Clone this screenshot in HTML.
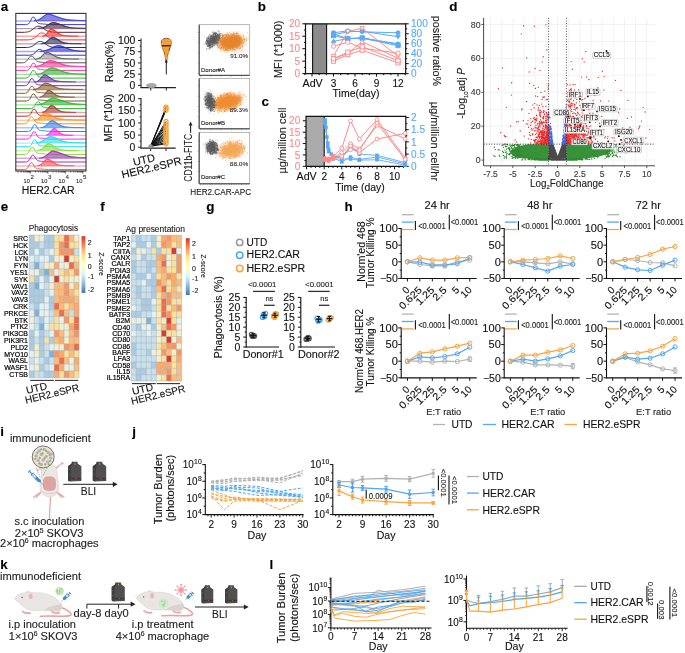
<!DOCTYPE html>
<html><head><meta charset="utf-8"><style>
html,body{margin:0;padding:0;background:#fff;overflow:hidden;width:685px;height:653px;}
svg{display:block;font-family:"Liberation Sans",sans-serif;will-change:transform;}
text{stroke:currentColor;stroke-width:0.12px;paint-order:stroke;}
</style></head><body>
<svg width="685" height="653" viewBox="0 0 685 653">
<rect width="685" height="653" fill="#fff"/>
<text x="0.8" y="10.8" font-size="13.4" fill="#000" color="#000" font-weight="bold" >a</text>
<clipPath id="clipA"><rect x="15.8" y="13.4" width="70.2" height="157.6"/></clipPath>
<g clip-path="url(#clipA)">
<path d="M15.8 24.6H25.4L26.2 24.6L27 24.5L27.8 24.2L28.6 23.7L29.4 22.8L30.2 21.5L31 19.9L31.8 18.2L32.6 17.1L33.4 17.1L34.2 17.3L35 18.7L35.8 20.2L36.6 21.6L37.4 22.6L38.2 23.2L39 23.5L39.8 23.7L40.6 23.8L41.4 23.8L42.2 23.9L43 24L43.8 24.1L44.6 24.1L45.4 24.2L46.2 24.3L47 24.4L47.8 24.4L48.6 24.5L49.4 24.5L50.2 24.6L51 24.6H86.2" fill="none" stroke="#3b3bd6" stroke-width="1" />
<path d="M15.8 21H32.6L33.4 20.9L34.2 20.8L35 20.8L35.8 20.7L36.6 20.5L37.4 20.3L38.2 20L39 19.7L39.8 19.2L40.6 18.7L41.4 18.2L42.2 17.5L43 16.9L43.8 16.2L44.6 15.6L45.4 15.1L46.2 14.6L47 14.3L47.8 14.2L48.6 14.3L49.4 14.4L50.2 14.6L51 14.8L51.8 15L52.6 15.2L53.4 15.5L54.2 15.8L55 16.1L55.8 16.4L56.6 16.7L57.4 17L58.2 17.3L59 17.5L59.8 17.8L60.6 18.1L61.4 18.3L62.2 18.6L63 18.8L63.8 19L64.6 19.2L65.4 19.3L66.2 19.5L67 19.6L67.8 19.7L68.6 19.8L69.4 19.9L70.2 20L71 20.1L71.8 20.2L72.6 20.2L73.4 20.3L74.2 20.3L75 20.3L75.8 20.4L76.6 20.4L77.4 20.4L78.2 20.5L79 20.5L79.8 20.5L80.6 20.5L81.4 20.6L82.2 20.6L83 20.6L83.8 20.6L84.6 20.6L85.4 20.6L86.2 20.7V21H15.8Z" fill="#3b3bd6" stroke="#3b3bd6" stroke-width="1.4" fill-opacity="0.62" stroke-opacity="0.42"/>
<path d="M34.2 20.8L35 20.8L35.8 20.7L36.6 20.5L37.4 20.3L38.2 20L39 19.7L39.8 19.2L40.6 18.7L41.4 18.2L42.2 17.5L43 16.9L43.8 16.2L44.6 15.6L45.4 15.1L46.2 14.6L47 14.3L47.8 14.2L48.6 14.3L49.4 14.4L50.2 14.6L51 14.8L51.8 15L52.6 15.2L53.4 15.5L54.2 15.8L55 16.1L55.8 16.4L56.6 16.7L57.4 17L58.2 17.3L59 17.5L59.8 17.8L60.6 18.1L61.4 18.3L62.2 18.6L63 18.8L63.8 19L64.6 19.2L65.4 19.3L66.2 19.5L67 19.6L67.8 19.7L68.6 19.8L69.4 19.9L70.2 20L71 20.1L71.8 20.2L72.6 20.2L73.4 20.3L74.2 20.3L75 20.3L75.8 20.4L76.6 20.4L77.4 20.4L78.2 20.5L79 20.5L79.8 20.5L80.6 20.5L81.4 20.6L82.2 20.6L83 20.6L83.8 20.6L84.6 20.6L85.4 20.6L86.2 20.7" fill="none" stroke="#3b3bd6" stroke-width="1" />
<path d="M15.8 32.3H24.6L25.4 32.2L26.2 32.1L27 32L27.8 31.9L28.6 31.7L29.4 31.4L30.2 31.1L31 30.6L31.8 30.1L32.6 29.5L33.4 28.9L34.2 28.2L35 27.6L35.8 27L36.6 26.5L37.4 26.3L38.2 26.3L39 26.3L39.8 26.3L40.6 26.5L41.4 26.9L42.2 27.5L43 28.1L43.8 28.7L44.6 29.3L45.4 29.8L46.2 30.3L47 30.7L47.8 31.1L48.6 31.3L49.4 31.6L50.2 31.7L51 31.9L51.8 32L52.6 32.1L53.4 32.1L54.2 32.2L55 32.2L55.8 32.3H86.2" fill="none" stroke="#4b2535" stroke-width="1" />
<path d="M15.8 28.6H36.6L37.4 28.5L38.2 28.5L39 28.4L39.8 28.3L40.6 28.2L41.4 28.1L42.2 27.9L43 27.6L43.8 27.3L44.6 27L45.4 26.5L46.2 26.1L47 25.6L47.8 25.1L48.6 24.5L49.4 24L50.2 23.6L51 23.2L51.8 22.9L52.6 22.7L53.4 22.6L54.2 22.7L55 22.8L55.8 23L56.6 23.2L57.4 23.5L58.2 23.7L59 24L59.8 24.3L60.6 24.6L61.4 24.9L62.2 25.3L63 25.6L63.8 25.9L64.6 26.1L65.4 26.4L66.2 26.7L67 26.9L67.8 27.1L68.6 27.3L69.4 27.4L70.2 27.6L71 27.7L71.8 27.8L72.6 27.9L73.4 28L74.2 28L75 28.1L75.8 28.1L76.6 28.2L77.4 28.2L78.2 28.2L79 28.3L79.8 28.3L80.6 28.3L81.4 28.3L82.2 28.3L83 28.3L83.8 28.4L84.6 28.4L85.4 28.4L86.2 28.4V28.6H15.8Z" fill="#4b2535" stroke="#4b2535" stroke-width="1.4" fill-opacity="0.62" stroke-opacity="0.42"/>
<path d="M38.2 28.5L39 28.4L39.8 28.3L40.6 28.2L41.4 28.1L42.2 27.9L43 27.6L43.8 27.3L44.6 27L45.4 26.5L46.2 26.1L47 25.6L47.8 25.1L48.6 24.5L49.4 24L50.2 23.6L51 23.2L51.8 22.9L52.6 22.7L53.4 22.6L54.2 22.7L55 22.8L55.8 23L56.6 23.2L57.4 23.5L58.2 23.7L59 24L59.8 24.3L60.6 24.6L61.4 24.9L62.2 25.3L63 25.6L63.8 25.9L64.6 26.1L65.4 26.4L66.2 26.7L67 26.9L67.8 27.1L68.6 27.3L69.4 27.4L70.2 27.6L71 27.7L71.8 27.8L72.6 27.9L73.4 28L74.2 28L75 28.1L75.8 28.1L76.6 28.2L77.4 28.2L78.2 28.2L79 28.3L79.8 28.3L80.6 28.3L81.4 28.3L82.2 28.3L83 28.3L83.8 28.4L84.6 28.4L85.4 28.4L86.2 28.4" fill="none" stroke="#4b2535" stroke-width="1" />
<path d="M15.8 39.9H27L27.8 39.8L28.6 39.8L29.4 39.7L30.2 39.6L31 39.5L31.8 39.2L32.6 38.9L33.4 38.5L34.2 38.1L35 37.5L35.8 36.8L36.6 36.1L37.4 35.3L38.2 34.6L39 33.9L39.8 33.3L40.6 33.1L41.4 33.1L42.2 33.1L43 33.1L43.8 33.3L44.6 33.9L45.4 34.5L46.2 35.2L47 35.9L47.8 36.5L48.6 37.2L49.4 37.7L50.2 38.2L51 38.5L51.8 38.9L52.6 39.1L53.4 39.3L54.2 39.5L55 39.6L55.8 39.7L56.6 39.7L57.4 39.8L58.2 39.8L59 39.8L59.8 39.9H86.2" fill="none" stroke="#ff2a2a" stroke-width="1" />
<path d="M15.8 36.3H40.6L41.4 36.2L42.2 36.1L43 36L43.8 35.8L44.6 35.5L45.4 34.9L46.2 34.2L47 33.3L47.8 32.3L48.6 31.2L49.4 30.2L50.2 29.5L51 29.1L51.8 29.2L52.6 29.4L53.4 29.8L54.2 30.3L55 30.9L55.8 31.5L56.6 32.1L57.4 32.7L58.2 33.3L59 33.8L59.8 34.2L60.6 34.6L61.4 34.9L62.2 35.2L63 35.4L63.8 35.5L64.6 35.7L65.4 35.8L66.2 35.8L67 35.9L67.8 35.9L68.6 35.9L69.4 36L70.2 36L71 36L71.8 36L72.6 36.1L73.4 36.1L74.2 36.1L75 36.1L75.8 36.1L76.6 36.1L77.4 36.1L78.2 36.1L79 36.1L79.8 36.2L80.6 36.2L81.4 36.2L82.2 36.2L83 36.2L83.8 36.2L84.6 36.2L85.4 36.2L86.2 36.2V36.3H15.8Z" fill="#ff2a2a" stroke="#ff2a2a" stroke-width="1.4" fill-opacity="0.62" stroke-opacity="0.42"/>
<path d="M42.2 36.1L43 36L43.8 35.8L44.6 35.5L45.4 34.9L46.2 34.2L47 33.3L47.8 32.3L48.6 31.2L49.4 30.2L50.2 29.5L51 29.1L51.8 29.2L52.6 29.4L53.4 29.8L54.2 30.3L55 30.9L55.8 31.5L56.6 32.1L57.4 32.7L58.2 33.3L59 33.8L59.8 34.2L60.6 34.6L61.4 34.9L62.2 35.2L63 35.4L63.8 35.5L64.6 35.7L65.4 35.8L66.2 35.8L67 35.9L67.8 35.9L68.6 35.9L69.4 36L70.2 36L71 36L71.8 36L72.6 36.1L73.4 36.1L74.2 36.1L75 36.1L75.8 36.1L76.6 36.1L77.4 36.1L78.2 36.1" fill="none" stroke="#ff2a2a" stroke-width="1" />
<path d="M15.8 47.5H26.2L27 47.4L27.8 47.4L28.6 47.3L29.4 47.2L30.2 47L31 46.7L31.8 46.4L32.6 46L33.4 45.5L34.2 44.9L35 44.2L35.8 43.6L36.6 42.9L37.4 42.3L38.2 41.8L39 41.5L39.8 41.5L40.6 41.5L41.4 41.5L42.2 41.7L43 42.1L43.8 42.7L44.6 43.3L45.4 43.9L46.2 44.5L47 45L47.8 45.5L48.6 45.9L49.4 46.3L50.2 46.6L51 46.8L51.8 47L52.6 47.1L53.4 47.2L54.2 47.3L55 47.4L55.8 47.4L56.6 47.5L57.4 47.5H86.2" fill="none" stroke="#2b2b5c" stroke-width="1" />
<path d="M15.8 43.9H39.8L40.6 43.8L41.4 43.8L42.2 43.7L43 43.5L43.8 43.3L44.6 43L45.4 42.6L46.2 42.1L47 41.5L47.8 40.8L48.6 40L49.4 39.2L50.2 38.5L51 37.9L51.8 37.5L52.6 37.3L53.4 37.4L54.2 37.6L55 38L55.8 38.4L56.6 38.8L57.4 39.3L58.2 39.8L59 40.4L59.8 40.9L60.6 41.3L61.4 41.7L62.2 42.1L63 42.4L63.8 42.7L64.6 42.9L65.4 43.1L66.2 43.2L67 43.3L67.8 43.4L68.6 43.5L69.4 43.5L70.2 43.5L71 43.6L71.8 43.6L72.6 43.6L73.4 43.6L74.2 43.7L75 43.7L75.8 43.7L76.6 43.7L77.4 43.7L78.2 43.7L79 43.7L79.8 43.7L80.6 43.8L81.4 43.8L82.2 43.8L83 43.8L83.8 43.8L84.6 43.8L85.4 43.8L86.2 43.8V43.9H15.8Z" fill="#2b2b5c" stroke="#2b2b5c" stroke-width="1.4" fill-opacity="0.62" stroke-opacity="0.42"/>
<path d="M41.4 43.8L42.2 43.7L43 43.5L43.8 43.3L44.6 43L45.4 42.6L46.2 42.1L47 41.5L47.8 40.8L48.6 40L49.4 39.2L50.2 38.5L51 37.9L51.8 37.5L52.6 37.3L53.4 37.4L54.2 37.6L55 38L55.8 38.4L56.6 38.8L57.4 39.3L58.2 39.8L59 40.4L59.8 40.9L60.6 41.3L61.4 41.7L62.2 42.1L63 42.4L63.8 42.7L64.6 42.9L65.4 43.1L66.2 43.2L67 43.3L67.8 43.4L68.6 43.5L69.4 43.5L70.2 43.5L71 43.6L71.8 43.6L72.6 43.6L73.4 43.6L74.2 43.7L75 43.7L75.8 43.7L76.6 43.7L77.4 43.7L78.2 43.7L79 43.7L79.8 43.7L80.6 43.8L81.4 43.8" fill="none" stroke="#2b2b5c" stroke-width="1" />
<path d="M15.8 55.2H29.4L30.2 55.1L31 55L31.8 54.8L32.6 54.5L33.4 54.1L34.2 53.6L35 52.8L35.8 52L36.6 51.1L37.4 50.2L38.2 49.5L39 49.4L39.8 49.4L40.6 49.4L41.4 49.9L42.2 50.6L43 51.5L43.8 52.3L44.6 52.9L45.4 53.5L46.2 53.9L47 54.2L47.8 54.4L48.6 54.5L49.4 54.6L50.2 54.7L51 54.8L51.8 54.9L52.6 54.9L53.4 55L54.2 55L55 55.1L55.8 55.1L56.6 55.2H86.2" fill="none" stroke="#3030cc" stroke-width="1" />
<path d="M15.8 51.5H37.4L38.2 51.4L39 51.4L39.8 51.4L40.6 51.3L41.4 51.3L42.2 51.2L43 51.1L43.8 50.9L44.6 50.8L45.4 50.6L46.2 50.4L47 50.1L47.8 49.8L48.6 49.5L49.4 49.2L50.2 48.8L51 48.4L51.8 48L52.6 47.6L53.4 47.2L54.2 46.8L55 46.5L55.8 46.2L56.6 46L57.4 45.8L58.2 45.7L59 45.7L59.8 45.8L60.6 46L61.4 46.2L62.2 46.4L63 46.7L63.8 47L64.6 47.3L65.4 47.6L66.2 47.9L67 48.2L67.8 48.6L68.6 48.9L69.4 49.2L70.2 49.4L71 49.7L71.8 49.9L72.6 50.1L73.4 50.3L74.2 50.4L75 50.6L75.8 50.7L76.6 50.8L77.4 50.8L78.2 50.9L79 51L79.8 51L80.6 51.1L81.4 51.1L82.2 51.1L83 51.2L83.8 51.2L84.6 51.2L85.4 51.2L86.2 51.2V51.5H15.8Z" fill="#3030cc" stroke="#3030cc" stroke-width="1.4" fill-opacity="0.62" stroke-opacity="0.42"/>
<path d="M39.8 51.4L40.6 51.3L41.4 51.3L42.2 51.2L43 51.1L43.8 50.9L44.6 50.8L45.4 50.6L46.2 50.4L47 50.1L47.8 49.8L48.6 49.5L49.4 49.2L50.2 48.8L51 48.4L51.8 48L52.6 47.6L53.4 47.2L54.2 46.8L55 46.5L55.8 46.2L56.6 46L57.4 45.8L58.2 45.7L59 45.7L59.8 45.8L60.6 46L61.4 46.2L62.2 46.4L63 46.7L63.8 47L64.6 47.3L65.4 47.6L66.2 47.9L67 48.2L67.8 48.6L68.6 48.9L69.4 49.2L70.2 49.4L71 49.7L71.8 49.9L72.6 50.1L73.4 50.3L74.2 50.4L75 50.6L75.8 50.7L76.6 50.8L77.4 50.8L78.2 50.9L79 51L79.8 51L80.6 51.1L81.4 51.1L82.2 51.1L83 51.2L83.8 51.2L84.6 51.2L85.4 51.2L86.2 51.2" fill="none" stroke="#3030cc" stroke-width="1" />
<path d="M15.8 62.8H22.2L23 62.7L23.8 62.6L24.6 62.4L25.4 62L26.2 61.5L27 60.6L27.8 59.6L28.6 58.4L29.4 57.2L30.2 56.3L31 56.1L31.8 56.1L32.6 56.3L33.4 57.1L34.2 58.2L35 59.3L35.8 60.2L36.6 60.9L37.4 61.4L38.2 61.7L39 61.9L39.8 62L40.6 62.1L41.4 62.2L42.2 62.3L43 62.4L43.8 62.5L44.6 62.5L45.4 62.6L46.2 62.6L47 62.7L47.8 62.7L48.6 62.7L49.4 62.8H86.2" fill="none" stroke="#555555" stroke-width="1" />
<path d="M15.8 59.1H34.2L35 59.1L35.8 59L36.6 58.9L37.4 58.8L38.2 58.5L39 58.2L39.8 57.8L40.6 57.3L41.4 56.6L42.2 55.8L43 55L43.8 54.2L44.6 53.5L45.4 52.9L46.2 52.5L47 52.4L47.8 52.5L48.6 52.7L49.4 53L50.2 53.4L51 53.8L51.8 54.3L52.6 54.7L53.4 55.2L54.2 55.7L55 56.2L55.8 56.6L56.6 57L57.4 57.3L58.2 57.6L59 57.9L59.8 58.1L60.6 58.2L61.4 58.4L62.2 58.5L63 58.6L63.8 58.7L64.6 58.7L65.4 58.8L66.2 58.8L67 58.8L67.8 58.9L68.6 58.9L69.4 58.9L70.2 58.9L71 58.9L71.8 58.9L72.6 59L73.4 59L74.2 59L75 59L75.8 59L76.6 59L77.4 59L78.2 59L79 59L79.8 59L80.6 59L81.4 59L82.2 59.1L83 59.1L83.8 59.1L84.6 59.1L85.4 59.1L86.2 59.1V59.1H15.8Z" fill="#9a9a9a" stroke="#555555" stroke-width="1.4" fill-opacity="0.62" stroke-opacity="0.42"/>
<path d="M35.8 59L36.6 58.9L37.4 58.8L38.2 58.5L39 58.2L39.8 57.8L40.6 57.3L41.4 56.6L42.2 55.8L43 55L43.8 54.2L44.6 53.5L45.4 52.9L46.2 52.5L47 52.4L47.8 52.5L48.6 52.7L49.4 53L50.2 53.4L51 53.8L51.8 54.3L52.6 54.7L53.4 55.2L54.2 55.7L55 56.2L55.8 56.6L56.6 57L57.4 57.3L58.2 57.6L59 57.9L59.8 58.1L60.6 58.2L61.4 58.4L62.2 58.5L63 58.6L63.8 58.7L64.6 58.7L65.4 58.8L66.2 58.8L67 58.8L67.8 58.9L68.6 58.9L69.4 58.9L70.2 58.9L71 58.9L71.8 58.9L72.6 59L73.4 59L74.2 59L75 59L75.8 59L76.6 59L77.4 59L78.2 59L79 59" fill="none" stroke="#555555" stroke-width="1" />
<path d="M15.8 70.4H25.4L26.2 70.4L27 70.3L27.8 70.1L28.6 69.7L29.4 68.9L30.2 67.8L31 66.2L31.8 64.6L32.6 63.3L33.4 63.2L34.2 63.2L35 64.3L35.8 65.8L36.6 67.2L37.4 68.3L38.2 68.9L39 69.3L39.8 69.5L40.6 69.6L41.4 69.6L42.2 69.7L43 69.8L43.8 69.8L44.6 69.9L45.4 70L46.2 70.1L47 70.2L47.8 70.2L48.6 70.3L49.4 70.3L50.2 70.3L51 70.4H86.2" fill="none" stroke="#ff3399" stroke-width="1" />
<path d="M15.8 66.8H31.8L32.6 66.7L33.4 66.7L34.2 66.6L35 66.6L35.8 66.5L36.6 66.4L37.4 66.2L38.2 66.1L39 65.9L39.8 65.6L40.6 65.3L41.4 64.9L42.2 64.5L43 64.1L43.8 63.6L44.6 63.1L45.4 62.6L46.2 62.1L47 61.7L47.8 61.3L48.6 60.9L49.4 60.7L50.2 60.6L51 60.6L51.8 60.7L52.6 60.9L53.4 61.1L54.2 61.3L55 61.5L55.8 61.8L56.6 62.1L57.4 62.4L58.2 62.8L59 63.1L59.8 63.4L60.6 63.7L61.4 64L62.2 64.3L63 64.6L63.8 64.8L64.6 65L65.4 65.2L66.2 65.4L67 65.6L67.8 65.7L68.6 65.8L69.4 65.9L70.2 66L71 66.1L71.8 66.2L72.6 66.2L73.4 66.3L74.2 66.3L75 66.3L75.8 66.4L76.6 66.4L77.4 66.4L78.2 66.4L79 66.5L79.8 66.5L80.6 66.5L81.4 66.5L82.2 66.5L83 66.5L83.8 66.5L84.6 66.6L85.4 66.6L86.2 66.6V66.8H15.8Z" fill="#ff3399" stroke="#ff3399" stroke-width="1.4" fill-opacity="0.62" stroke-opacity="0.42"/>
<path d="M34.2 66.6L35 66.6L35.8 66.5L36.6 66.4L37.4 66.2L38.2 66.1L39 65.9L39.8 65.6L40.6 65.3L41.4 64.9L42.2 64.5L43 64.1L43.8 63.6L44.6 63.1L45.4 62.6L46.2 62.1L47 61.7L47.8 61.3L48.6 60.9L49.4 60.7L50.2 60.6L51 60.6L51.8 60.7L52.6 60.9L53.4 61.1L54.2 61.3L55 61.5L55.8 61.8L56.6 62.1L57.4 62.4L58.2 62.8L59 63.1L59.8 63.4L60.6 63.7L61.4 64L62.2 64.3L63 64.6L63.8 64.8L64.6 65L65.4 65.2L66.2 65.4L67 65.6L67.8 65.7L68.6 65.8L69.4 65.9L70.2 66L71 66.1L71.8 66.2L72.6 66.2L73.4 66.3L74.2 66.3L75 66.3L75.8 66.4L76.6 66.4L77.4 66.4L78.2 66.4L79 66.5L79.8 66.5L80.6 66.5L81.4 66.5L82.2 66.5L83 66.5L83.8 66.5L84.6 66.6L85.4 66.6L86.2 66.6" fill="none" stroke="#ff3399" stroke-width="1" />
<path d="M15.8 78.1H25.4L26.2 77.9L27 77.8L27.8 77.5L28.6 76.9L29.4 76L30.2 74.8L31 73.2L31.8 71.7L32.6 70.5L33.4 70.5L34.2 70.5L35 71.4L35.8 72.7L36.6 74.2L37.4 75.3L38.2 76.1L39 76.7L39.8 76.9L40.6 77.1L41.4 77.2L42.2 77.3L43 77.4L43.8 77.4L44.6 77.5L45.4 77.6L46.2 77.7L47 77.8L47.8 77.8L48.6 77.9L49.4 77.9L50.2 78L51 78L51.8 78.1H86.2" fill="none" stroke="#2db82d" stroke-width="1" />
<path d="M15.8 74.4H34.2L35 74.3L35.8 74.3L36.6 74.3L37.4 74.2L38.2 74.1L39 74L39.8 73.8L40.6 73.6L41.4 73.3L42.2 73L43 72.6L43.8 72.1L44.6 71.6L45.4 71.1L46.2 70.5L47 69.9L47.8 69.3L48.6 68.8L49.4 68.4L50.2 68.1L51 67.9L51.8 67.8L52.6 67.9L53.4 68.1L54.2 68.3L55 68.5L55.8 68.8L56.6 69L57.4 69.4L58.2 69.7L59 70L59.8 70.4L60.6 70.7L61.4 71L62.2 71.3L63 71.6L63.8 71.9L64.6 72.2L65.4 72.4L66.2 72.6L67 72.8L67.8 73L68.6 73.1L69.4 73.3L70.2 73.4L71 73.5L71.8 73.6L72.6 73.6L73.4 73.7L74.2 73.8L75 73.8L75.8 73.9L76.6 73.9L77.4 73.9L78.2 73.9L79 74L79.8 74L80.6 74L81.4 74L82.2 74.1L83 74.1L83.8 74.1L84.6 74.1L85.4 74.1L86.2 74.1V74.4H15.8Z" fill="#2db82d" stroke="#2db82d" stroke-width="1.4" fill-opacity="0.62" stroke-opacity="0.42"/>
<path d="M36.6 74.3L37.4 74.2L38.2 74.1L39 74L39.8 73.8L40.6 73.6L41.4 73.3L42.2 73L43 72.6L43.8 72.1L44.6 71.6L45.4 71.1L46.2 70.5L47 69.9L47.8 69.3L48.6 68.8L49.4 68.4L50.2 68.1L51 67.9L51.8 67.8L52.6 67.9L53.4 68.1L54.2 68.3L55 68.5L55.8 68.8L56.6 69L57.4 69.4L58.2 69.7L59 70L59.8 70.4L60.6 70.7L61.4 71L62.2 71.3L63 71.6L63.8 71.9L64.6 72.2L65.4 72.4L66.2 72.6L67 72.8L67.8 73L68.6 73.1L69.4 73.3L70.2 73.4L71 73.5L71.8 73.6L72.6 73.6L73.4 73.7L74.2 73.8L75 73.8L75.8 73.9L76.6 73.9L77.4 73.9L78.2 73.9L79 74L79.8 74L80.6 74L81.4 74L82.2 74.1L83 74.1L83.8 74.1L84.6 74.1L85.4 74.1L86.2 74.1" fill="none" stroke="#2db82d" stroke-width="1" />
<path d="M15.8 85.7H24.6L25.4 85.5L26.2 85.4L27 85L27.8 84.2L28.6 83.1L29.4 81.6L30.2 80.1L31 78.8L31.8 78.7L32.6 78.7L33.4 79.7L34.2 81.2L35 82.5L35.8 83.6L36.6 84.2L37.4 84.6L38.2 84.8L39 84.8L39.8 84.9L40.6 85L41.4 85L42.2 85.1L43 85.2L43.8 85.3L44.6 85.4L45.4 85.4L46.2 85.5L47 85.5L47.8 85.6L48.6 85.6L49.4 85.7H86.2" fill="none" stroke="#6a30a8" stroke-width="1" />
<path d="M15.8 82H33.4L34.2 82L35 81.9L35.8 81.8L36.6 81.6L37.4 81.3L38.2 80.8L39 80.2L39.8 79.4L40.6 78.5L41.4 77.5L42.2 76.6L43 75.7L43.8 75.1L44.6 74.9L45.4 75L46.2 75.3L47 75.7L47.8 76.2L48.6 76.7L49.4 77.3L50.2 77.9L51 78.5L51.8 79L52.6 79.5L53.4 79.9L54.2 80.3L55 80.6L55.8 80.8L56.6 81L57.4 81.1L58.2 81.3L59 81.4L59.8 81.4L60.6 81.5L61.4 81.5L62.2 81.6L63 81.6L63.8 81.7L64.6 81.7L65.4 81.7L66.2 81.7L67 81.8L67.8 81.8L68.6 81.8L69.4 81.8L70.2 81.8L71 81.8L71.8 81.9L72.6 81.9L73.4 81.9L74.2 81.9L75 81.9L75.8 81.9L76.6 81.9L77.4 81.9L78.2 81.9L79 81.9L79.8 82L80.6 82L81.4 82L82.2 82L83 82L83.8 82L84.6 82H86.2V82H15.8Z" fill="#6a30a8" stroke="#6a30a8" stroke-width="1.4" fill-opacity="0.62" stroke-opacity="0.42"/>
<path d="M35 81.9L35.8 81.8L36.6 81.6L37.4 81.3L38.2 80.8L39 80.2L39.8 79.4L40.6 78.5L41.4 77.5L42.2 76.6L43 75.7L43.8 75.1L44.6 74.9L45.4 75L46.2 75.3L47 75.7L47.8 76.2L48.6 76.7L49.4 77.3L50.2 77.9L51 78.5L51.8 79L52.6 79.5L53.4 79.9L54.2 80.3L55 80.6L55.8 80.8L56.6 81L57.4 81.1L58.2 81.3L59 81.4L59.8 81.4L60.6 81.5L61.4 81.5L62.2 81.6L63 81.6L63.8 81.7L64.6 81.7L65.4 81.7L66.2 81.7L67 81.8L67.8 81.8L68.6 81.8L69.4 81.8L70.2 81.8L71 81.8L71.8 81.9L72.6 81.9L73.4 81.9L74.2 81.9L75 81.9L75.8 81.9" fill="none" stroke="#6a30a8" stroke-width="1" />
<path d="M15.8 93.3H24.6L25.4 93.2L26.2 93L27 92.6L27.8 91.9L28.6 90.7L29.4 89.3L30.2 87.7L31 86.4L31.8 86.3L32.6 86.3L33.4 87.4L34.2 88.8L35 90.2L35.8 91.2L36.6 91.9L37.4 92.2L38.2 92.4L39 92.5L39.8 92.5L40.6 92.6L41.4 92.7L42.2 92.7L43 92.8L43.8 92.9L44.6 93L45.4 93.1L46.2 93.1L47 93.2L47.8 93.2L48.6 93.2L49.4 93.3H86.2" fill="none" stroke="#8b5a2b" stroke-width="1" />
<path d="M15.8 89.7H31.8L32.6 89.6L33.4 89.5L34.2 89.4L35 89.3L35.8 89.1L36.6 88.9L37.4 88.6L38.2 88.2L39 87.7L39.8 87.1L40.6 86.4L41.4 85.7L42.2 85L43 84.4L43.8 83.8L44.6 83.4L45.4 83.2L46.2 83.2L47 83.4L47.8 83.6L48.6 83.9L49.4 84.2L50.2 84.6L51 84.9L51.8 85.4L52.6 85.8L53.4 86.2L54.2 86.6L55 87L55.8 87.3L56.6 87.6L57.4 87.9L58.2 88.2L59 88.4L59.8 88.6L60.6 88.7L61.4 88.8L62.2 88.9L63 89L63.8 89.1L64.6 89.2L65.4 89.2L66.2 89.2L67 89.3L67.8 89.3L68.6 89.3L69.4 89.3L70.2 89.4L71 89.4L71.8 89.4L72.6 89.4L73.4 89.4L74.2 89.4L75 89.5L75.8 89.5L76.6 89.5L77.4 89.5L78.2 89.5L79 89.5L79.8 89.5L80.6 89.5L81.4 89.5L82.2 89.5L83 89.5L83.8 89.6L84.6 89.6L85.4 89.6L86.2 89.6V89.7H15.8Z" fill="#8b5a2b" stroke="#8b5a2b" stroke-width="1.4" fill-opacity="0.62" stroke-opacity="0.42"/>
<path d="M33.4 89.5L34.2 89.4L35 89.3L35.8 89.1L36.6 88.9L37.4 88.6L38.2 88.2L39 87.7L39.8 87.1L40.6 86.4L41.4 85.7L42.2 85L43 84.4L43.8 83.8L44.6 83.4L45.4 83.2L46.2 83.2L47 83.4L47.8 83.6L48.6 83.9L49.4 84.2L50.2 84.6L51 84.9L51.8 85.4L52.6 85.8L53.4 86.2L54.2 86.6L55 87L55.8 87.3L56.6 87.6L57.4 87.9L58.2 88.2L59 88.4L59.8 88.6L60.6 88.7L61.4 88.8L62.2 88.9L63 89L63.8 89.1L64.6 89.2L65.4 89.2L66.2 89.2L67 89.3L67.8 89.3L68.6 89.3L69.4 89.3L70.2 89.4L71 89.4L71.8 89.4L72.6 89.4L73.4 89.4L74.2 89.4L75 89.5L75.8 89.5L76.6 89.5L77.4 89.5L78.2 89.5L79 89.5L79.8 89.5L80.6 89.5L81.4 89.5L82.2 89.5L83 89.5" fill="none" stroke="#8b5a2b" stroke-width="1" />
<path d="M15.8 101H26.2L27 100.8L27.8 100.6L28.6 100.2L29.4 99.5L30.2 98.4L31 96.9L31.8 95.3L32.6 94.1L33.4 94L34.2 94L35 95L35.8 96.4L36.6 97.8L37.4 98.8L38.2 99.5L39 99.8L39.8 100L40.6 100.1L41.4 100.2L42.2 100.2L43 100.3L43.8 100.4L44.6 100.5L45.4 100.5L46.2 100.6L47 100.7L47.8 100.7L48.6 100.8L49.4 100.8L50.2 100.9L51 101H86.2" fill="none" stroke="#7a5535" stroke-width="1" />
<path d="M15.8 97.3H38.2L39 97.2L39.8 97.2L40.6 97L41.4 96.8L42.2 96.5L43 95.9L43.8 95.2L44.6 94.3L45.4 93.3L46.2 92.3L47 91.3L47.8 90.6L48.6 90.3L49.4 90.4L50.2 90.8L51 91.2L51.8 91.8L52.6 92.4L53.4 93.1L54.2 93.7L55 94.3L55.8 94.9L56.6 95.3L57.4 95.7L58.2 96L59 96.3L59.8 96.5L60.6 96.6L61.4 96.7L62.2 96.8L63 96.8L63.8 96.9L64.6 96.9L65.4 97L66.2 97L67 97L67.8 97L68.6 97.1L69.4 97.1L70.2 97.1L71 97.1L71.8 97.1L72.6 97.1L73.4 97.2L74.2 97.2L75 97.2L75.8 97.2L76.6 97.2L77.4 97.2L78.2 97.2L79 97.2L79.8 97.2L80.6 97.2L81.4 97.2L82.2 97.3H86.2V97.3H15.8Z" fill="#7a5535" stroke="#7a5535" stroke-width="1.4" fill-opacity="0.62" stroke-opacity="0.42"/>
<path d="M39.8 97.2L40.6 97L41.4 96.8L42.2 96.5L43 95.9L43.8 95.2L44.6 94.3L45.4 93.3L46.2 92.3L47 91.3L47.8 90.6L48.6 90.3L49.4 90.4L50.2 90.8L51 91.2L51.8 91.8L52.6 92.4L53.4 93.1L54.2 93.7L55 94.3L55.8 94.9L56.6 95.3L57.4 95.7L58.2 96L59 96.3L59.8 96.5L60.6 96.6L61.4 96.7L62.2 96.8L63 96.8L63.8 96.9L64.6 96.9L65.4 97L66.2 97L67 97L67.8 97L68.6 97.1L69.4 97.1L70.2 97.1L71 97.1L71.8 97.1L72.6 97.1L73.4 97.2L74.2 97.2L75 97.2" fill="none" stroke="#7a5535" stroke-width="1" />
<path d="M15.8 108.6H30.2L31 108.5L31.8 108.3L32.6 108L33.4 107.4L34.2 106.5L35 105.3L35.8 103.9L36.6 102.6L37.4 101.8L38.2 101.8L39 101.9L39.8 102.9L40.6 104.2L41.4 105.4L42.2 106.3L43 107L43.8 107.4L44.6 107.6L45.4 107.7L46.2 107.8L47 107.9L47.8 108L48.6 108L49.4 108.1L50.2 108.2L51 108.3L51.8 108.3L52.6 108.4L53.4 108.4L54.2 108.5L55 108.5L55.8 108.6H86.2" fill="none" stroke="#2db82d" stroke-width="1" />
<path d="M15.8 104.9H34.2L35 104.9L35.8 104.8L36.6 104.8L37.4 104.7L38.2 104.7L39 104.6L39.8 104.4L40.6 104.2L41.4 104L42.2 103.8L43 103.4L43.8 103.1L44.6 102.6L45.4 102.2L46.2 101.7L47 101.1L47.8 100.6L48.6 100.1L49.4 99.6L50.2 99.1L51 98.7L51.8 98.5L52.6 98.3L53.4 98.2L54.2 98.3L55 98.5L55.8 98.6L56.6 98.8L57.4 99.1L58.2 99.3L59 99.6L59.8 99.9L60.6 100.1L61.4 100.4L62.2 100.7L63 101L63.8 101.3L64.6 101.6L65.4 101.9L66.2 102.1L67 102.4L67.8 102.6L68.6 102.8L69.4 103L70.2 103.2L71 103.3L71.8 103.5L72.6 103.6L73.4 103.7L74.2 103.8L75 103.9L75.8 104L76.6 104L77.4 104.1L78.2 104.2L79 104.2L79.8 104.3L80.6 104.3L81.4 104.3L82.2 104.4L83 104.4L83.8 104.4L84.6 104.4L85.4 104.5L86.2 104.5V104.9H15.8Z" fill="#2db82d" stroke="#2db82d" stroke-width="1.4" fill-opacity="0.62" stroke-opacity="0.42"/>
<path d="M36.6 104.8L37.4 104.7L38.2 104.7L39 104.6L39.8 104.4L40.6 104.2L41.4 104L42.2 103.8L43 103.4L43.8 103.1L44.6 102.6L45.4 102.2L46.2 101.7L47 101.1L47.8 100.6L48.6 100.1L49.4 99.6L50.2 99.1L51 98.7L51.8 98.5L52.6 98.3L53.4 98.2L54.2 98.3L55 98.5L55.8 98.6L56.6 98.8L57.4 99.1L58.2 99.3L59 99.6L59.8 99.9L60.6 100.1L61.4 100.4L62.2 100.7L63 101L63.8 101.3L64.6 101.6L65.4 101.9L66.2 102.1L67 102.4L67.8 102.6L68.6 102.8L69.4 103L70.2 103.2L71 103.3L71.8 103.5L72.6 103.6L73.4 103.7L74.2 103.8L75 103.9L75.8 104L76.6 104L77.4 104.1L78.2 104.2L79 104.2L79.8 104.3L80.6 104.3L81.4 104.3L82.2 104.4L83 104.4L83.8 104.4L84.6 104.4L85.4 104.5L86.2 104.5" fill="none" stroke="#2db82d" stroke-width="1" />
<path d="M15.8 116.2H26.2L27 116.1L27.8 116L28.6 115.8L29.4 115.3L30.2 114.5L31 113.3L31.8 111.7L32.6 110.2L33.4 109.2L34.2 109.2L35 109.4L35.8 110.6L36.6 112.1L37.4 113.4L38.2 114.3L39 114.9L39.8 115.2L40.6 115.3L41.4 115.4L42.2 115.4L43 115.5L43.8 115.6L44.6 115.7L45.4 115.7L46.2 115.8L47 115.9L47.8 116L48.6 116L49.4 116.1L50.2 116.1L51 116.1L51.8 116.2H86.2" fill="none" stroke="#b03030" stroke-width="1" />
<path d="M15.8 112.6H40.6L41.4 112.5L42.2 112.4L43 112.2L43.8 112L44.6 111.6L45.4 111.1L46.2 110.4L47 109.6L47.8 108.7L48.6 107.7L49.4 106.8L50.2 106.1L51 105.7L51.8 105.6L52.6 105.8L53.4 106.2L54.2 106.7L55 107.4L55.8 108L56.6 108.7L57.4 109.3L58.2 109.9L59 110.4L59.8 110.9L60.6 111.2L61.4 111.5L62.2 111.7L63 111.9L63.8 112L64.6 112.1L65.4 112.2L66.2 112.2L67 112.2L67.8 112.3L68.6 112.3L69.4 112.3L70.2 112.3L71 112.4L71.8 112.4L72.6 112.4L73.4 112.4L74.2 112.4L75 112.4L75.8 112.4L76.6 112.4L77.4 112.5L78.2 112.5L79 112.5L79.8 112.5L80.6 112.5L81.4 112.5L82.2 112.5L83 112.6H86.2V112.6H15.8Z" fill="#b03030" stroke="#b03030" stroke-width="1.4" fill-opacity="0.62" stroke-opacity="0.42"/>
<path d="M42.2 112.4L43 112.2L43.8 112L44.6 111.6L45.4 111.1L46.2 110.4L47 109.6L47.8 108.7L48.6 107.7L49.4 106.8L50.2 106.1L51 105.7L51.8 105.6L52.6 105.8L53.4 106.2L54.2 106.7L55 107.4L55.8 108L56.6 108.7L57.4 109.3L58.2 109.9L59 110.4L59.8 110.9L60.6 111.2L61.4 111.5L62.2 111.7L63 111.9L63.8 112L64.6 112.1L65.4 112.2L66.2 112.2L67 112.2L67.8 112.3L68.6 112.3L69.4 112.3L70.2 112.3L71 112.4L71.8 112.4L72.6 112.4L73.4 112.4L74.2 112.4L75 112.4L75.8 112.4" fill="none" stroke="#b03030" stroke-width="1" />
<path d="M15.8 123.8H23.8L24.6 123.7L25.4 123.5L26.2 123.2L27 122.5L27.8 121.5L28.6 120.1L29.4 118.5L30.2 117.2L31 116.7L31.8 116.7L32.6 117.2L33.4 118.5L34.2 119.9L35 121.1L35.8 122L36.6 122.5L37.4 122.8L38.2 122.9L39 123L39.8 123.1L40.6 123.2L41.4 123.2L42.2 123.3L43 123.4L43.8 123.5L44.6 123.5L45.4 123.6L46.2 123.7L47 123.7L47.8 123.7L48.6 123.8L49.4 123.8H86.2" fill="none" stroke="#ff8a1a" stroke-width="1" />
<path d="M15.8 120.2H32.6L33.4 120.1L34.2 120.1L35 120L35.8 119.8L36.6 119.6L37.4 119.3L38.2 118.8L39 118.3L39.8 117.6L40.6 116.8L41.4 115.9L42.2 115.1L43 114.3L43.8 113.6L44.6 113.2L45.4 113L46.2 113.1L47 113.3L47.8 113.6L48.6 114L49.4 114.3L50.2 114.8L51 115.2L51.8 115.6L52.6 116.1L53.4 116.5L54.2 117L55 117.3L55.8 117.7L56.6 118L57.4 118.3L58.2 118.6L59 118.8L59.8 118.9L60.6 119.1L61.4 119.2L62.2 119.3L63 119.4L63.8 119.5L64.6 119.6L65.4 119.6L66.2 119.7L67 119.7L67.8 119.7L68.6 119.8L69.4 119.8L70.2 119.8L71 119.8L71.8 119.8L72.6 119.9L73.4 119.9L74.2 119.9L75 119.9L75.8 119.9L76.6 119.9L77.4 120L78.2 120L79 120L79.8 120L80.6 120L81.4 120L82.2 120L83 120L83.8 120L84.6 120L85.4 120.1L86.2 120.1V120.2H15.8Z" fill="#ff8a1a" stroke="#ff8a1a" stroke-width="1.4" fill-opacity="0.62" stroke-opacity="0.42"/>
<path d="M34.2 120.1L35 120L35.8 119.8L36.6 119.6L37.4 119.3L38.2 118.8L39 118.3L39.8 117.6L40.6 116.8L41.4 115.9L42.2 115.1L43 114.3L43.8 113.6L44.6 113.2L45.4 113L46.2 113.1L47 113.3L47.8 113.6L48.6 114L49.4 114.3L50.2 114.8L51 115.2L51.8 115.6L52.6 116.1L53.4 116.5L54.2 117L55 117.3L55.8 117.7L56.6 118L57.4 118.3L58.2 118.6L59 118.8L59.8 118.9L60.6 119.1L61.4 119.2L62.2 119.3L63 119.4L63.8 119.5L64.6 119.6L65.4 119.6L66.2 119.7L67 119.7L67.8 119.7L68.6 119.8L69.4 119.8L70.2 119.8L71 119.8L71.8 119.8L72.6 119.9L73.4 119.9L74.2 119.9L75 119.9L75.8 119.9L76.6 119.9L77.4 120L78.2 120L79 120L79.8 120L80.6 120L81.4 120L82.2 120L83 120L83.8 120L84.6 120L85.4 120.1L86.2 120.1" fill="none" stroke="#ff8a1a" stroke-width="1" />
<path d="M15.8 131.5H27.8L28.6 131.4L29.4 131.2L30.2 130.8L31 130.1L31.8 128.9L32.6 127.2L33.4 125.5L34.2 124.5L35 124.5L35.8 124.9L36.6 126.4L37.4 128L38.2 129.2L39 130L39.8 130.4L40.6 130.5L41.4 130.6L42.2 130.7L43 130.7L43.8 130.8L44.6 130.9L45.4 130.9L46.2 131L47 131.1L47.8 131.2L48.6 131.2L49.4 131.3L50.2 131.3L51 131.4L51.8 131.4L52.6 131.5H86.2" fill="none" stroke="#2f86ee" stroke-width="1" />
<path d="M15.8 127.8H39L39.8 127.8L40.6 127.7L41.4 127.6L42.2 127.5L43 127.3L43.8 127L44.6 126.6L45.4 126L46.2 125.4L47 124.6L47.8 123.8L48.6 122.9L49.4 122.2L50.2 121.5L51 121L51.8 120.8L52.6 120.9L53.4 121.2L54.2 121.5L55 121.9L55.8 122.4L56.6 122.9L57.4 123.5L58.2 124L59 124.5L59.8 125L60.6 125.4L61.4 125.8L62.2 126.1L63 126.4L63.8 126.6L64.6 126.8L65.4 127L66.2 127.1L67 127.2L67.8 127.3L68.6 127.3L69.4 127.4L70.2 127.4L71 127.4L71.8 127.5L72.6 127.5L73.4 127.5L74.2 127.5L75 127.6L75.8 127.6L76.6 127.6L77.4 127.6L78.2 127.6L79 127.6L79.8 127.6L80.6 127.7L81.4 127.7L82.2 127.7L83 127.7L83.8 127.7L84.6 127.7L85.4 127.7L86.2 127.7V127.8H15.8Z" fill="#2f86ee" stroke="#2f86ee" stroke-width="1.4" fill-opacity="0.62" stroke-opacity="0.42"/>
<path d="M40.6 127.7L41.4 127.6L42.2 127.5L43 127.3L43.8 127L44.6 126.6L45.4 126L46.2 125.4L47 124.6L47.8 123.8L48.6 122.9L49.4 122.2L50.2 121.5L51 121L51.8 120.8L52.6 120.9L53.4 121.2L54.2 121.5L55 121.9L55.8 122.4L56.6 122.9L57.4 123.5L58.2 124L59 124.5L59.8 125L60.6 125.4L61.4 125.8L62.2 126.1L63 126.4L63.8 126.6L64.6 126.8L65.4 127L66.2 127.1L67 127.2L67.8 127.3L68.6 127.3L69.4 127.4L70.2 127.4L71 127.4L71.8 127.5L72.6 127.5L73.4 127.5L74.2 127.5L75 127.6L75.8 127.6L76.6 127.6L77.4 127.6L78.2 127.6L79 127.6L79.8 127.6L80.6 127.7L81.4 127.7L82.2 127.7L83 127.7L83.8 127.7" fill="none" stroke="#2f86ee" stroke-width="1" />
<path d="M15.8 139.1H26.2L27 139L27.8 138.9L28.6 138.7L29.4 138.2L30.2 137.4L31 136.1L31.8 134.5L32.6 132.9L33.4 131.9L34.2 131.9L35 132.1L35.8 133.3L36.6 134.8L37.4 136.2L38.2 137.1L39 137.7L39.8 138L40.6 138.2L41.4 138.2L42.2 138.3L43 138.4L43.8 138.5L44.6 138.5L45.4 138.6L46.2 138.7L47 138.8L47.8 138.8L48.6 138.9L49.4 139L50.2 139L51 139L51.8 139.1H86.2" fill="none" stroke="#ff22ee" stroke-width="1" />
<path d="M15.8 135.4H44.6L45.4 135.3L46.2 135.2L47 135L47.8 134.6L48.6 134.1L49.4 133.4L50.2 132.4L51 131.3L51.8 130.3L52.6 129.4L53.4 128.8L54.2 128.7L55 128.9L55.8 129.4L56.6 130L57.4 130.7L58.2 131.5L59 132.2L59.8 132.9L60.6 133.5L61.4 134L62.2 134.3L63 134.6L63.8 134.8L64.6 135L65.4 135.1L66.2 135.1L67 135.2L67.8 135.2L68.6 135.2L69.4 135.3L70.2 135.3L71 135.3L71.8 135.3L72.6 135.3L73.4 135.3L74.2 135.3L75 135.4L75.8 135.4L76.6 135.4L77.4 135.4L78.2 135.4L79 135.4H86.2V135.4H15.8Z" fill="#ff22ee" stroke="#ff22ee" stroke-width="1.4" fill-opacity="0.62" stroke-opacity="0.42"/>
<path d="M46.2 135.2L47 135L47.8 134.6L48.6 134.1L49.4 133.4L50.2 132.4L51 131.3L51.8 130.3L52.6 129.4L53.4 128.8L54.2 128.7L55 128.9L55.8 129.4L56.6 130L57.4 130.7L58.2 131.5L59 132.2L59.8 132.9L60.6 133.5L61.4 134L62.2 134.3L63 134.6L63.8 134.8L64.6 135L65.4 135.1L66.2 135.1L67 135.2L67.8 135.2L68.6 135.2L69.4 135.3L70.2 135.3L71 135.3L71.8 135.3L72.6 135.3" fill="none" stroke="#ff22ee" stroke-width="1" />
<path d="M15.8 146.7H27.8L28.6 146.6L29.4 146.5L30.2 146.1L31 145.3L31.8 144.1L32.6 142.5L33.4 140.8L34.2 139.7L35 139.7L35.8 140.2L36.6 141.7L37.4 143.2L38.2 144.5L39 145.2L39.8 145.6L40.6 145.8L41.4 145.9L42.2 145.9L43 146L43.8 146L44.6 146.1L45.4 146.2L46.2 146.3L47 146.4L47.8 146.4L48.6 146.5L49.4 146.5L50.2 146.6L51 146.6L51.8 146.7L52.6 146.7H86.2" fill="none" stroke="#22e0e6" stroke-width="1" />
<path d="M15.8 143.1H33.4L34.2 143L35 143L35.8 142.9L36.6 142.8L37.4 142.7L38.2 142.6L39 142.4L39.8 142.2L40.6 141.9L41.4 141.5L42.2 141.1L43 140.6L43.8 140.1L44.6 139.6L45.4 139L46.2 138.4L47 137.9L47.8 137.4L48.6 137L49.4 136.8L50.2 136.6L51 136.6L51.8 136.8L52.6 136.9L53.4 137.2L54.2 137.5L55 137.8L55.8 138.2L56.6 138.6L57.4 138.9L58.2 139.3L59 139.7L59.8 140.1L60.6 140.4L61.4 140.8L62.2 141L63 141.3L63.8 141.5L64.6 141.7L65.4 141.9L66.2 142.1L67 142.2L67.8 142.3L68.6 142.4L69.4 142.5L70.2 142.5L71 142.6L71.8 142.6L72.6 142.7L73.4 142.7L74.2 142.7L75 142.7L75.8 142.8L76.6 142.8L77.4 142.8L78.2 142.8L79 142.8L79.8 142.8L80.6 142.8L81.4 142.9L82.2 142.9L83 142.9L83.8 142.9L84.6 142.9L85.4 142.9L86.2 142.9V143.1H15.8Z" fill="#22e0e6" stroke="#22e0e6" stroke-width="1.4" fill-opacity="0.62" stroke-opacity="0.42"/>
<path d="M35.8 142.9L36.6 142.8L37.4 142.7L38.2 142.6L39 142.4L39.8 142.2L40.6 141.9L41.4 141.5L42.2 141.1L43 140.6L43.8 140.1L44.6 139.6L45.4 139L46.2 138.4L47 137.9L47.8 137.4L48.6 137L49.4 136.8L50.2 136.6L51 136.6L51.8 136.8L52.6 136.9L53.4 137.2L54.2 137.5L55 137.8L55.8 138.2L56.6 138.6L57.4 138.9L58.2 139.3L59 139.7L59.8 140.1L60.6 140.4L61.4 140.8L62.2 141L63 141.3L63.8 141.5L64.6 141.7L65.4 141.9L66.2 142.1L67 142.2L67.8 142.3L68.6 142.4L69.4 142.5L70.2 142.5L71 142.6L71.8 142.6L72.6 142.7L73.4 142.7L74.2 142.7L75 142.7L75.8 142.8L76.6 142.8L77.4 142.8L78.2 142.8L79 142.8L79.8 142.8L80.6 142.8L81.4 142.9L82.2 142.9L83 142.9L83.8 142.9L84.6 142.9L85.4 142.9L86.2 142.9" fill="none" stroke="#22e0e6" stroke-width="1" />
<path d="M15.8 154.4H24.6L25.4 154.3L26.2 154.1L27 153.8L27.8 153.3L28.6 152.3L29.4 151L30.2 149.4L31 147.8L31.8 147.2L32.6 147.2L33.4 147.6L34.2 149L35 150.5L35.8 151.7L36.6 152.6L37.4 153.1L38.2 153.3L39 153.4L39.8 153.5L40.6 153.6L41.4 153.7L42.2 153.7L43 153.8L43.8 153.9L44.6 154L45.4 154.1L46.2 154.1L47 154.2L47.8 154.2L48.6 154.3L49.4 154.3L50.2 154.4H86.2" fill="none" stroke="#88dd33" stroke-width="1" />
<path d="M15.8 150.7H35.8L36.6 150.6L37.4 150.6L38.2 150.5L39 150.3L39.8 150.1L40.6 149.8L41.4 149.3L42.2 148.8L43 148.1L43.8 147.3L44.6 146.5L45.4 145.6L46.2 144.9L47 144.2L47.8 143.8L48.6 143.7L49.4 143.9L50.2 144.1L51 144.5L51.8 144.9L52.6 145.4L53.4 145.9L54.2 146.5L55 147L55.8 147.6L56.6 148L57.4 148.5L58.2 148.9L59 149.2L59.8 149.5L60.6 149.7L61.4 149.9L62.2 150L63 150.1L63.8 150.2L64.6 150.3L65.4 150.3L66.2 150.3L67 150.4L67.8 150.4L68.6 150.4L69.4 150.5L70.2 150.5L71 150.5L71.8 150.5L72.6 150.5L73.4 150.5L74.2 150.5L75 150.6L75.8 150.6L76.6 150.6L77.4 150.6L78.2 150.6L79 150.6L79.8 150.6L80.6 150.6L81.4 150.6L82.2 150.6L83 150.6L83.8 150.6L84.6 150.6L85.4 150.6L86.2 150.6V150.7H15.8Z" fill="#88dd33" stroke="#88dd33" stroke-width="1.4" fill-opacity="0.62" stroke-opacity="0.42"/>
<path d="M37.4 150.6L38.2 150.5L39 150.3L39.8 150.1L40.6 149.8L41.4 149.3L42.2 148.8L43 148.1L43.8 147.3L44.6 146.5L45.4 145.6L46.2 144.9L47 144.2L47.8 143.8L48.6 143.7L49.4 143.9L50.2 144.1L51 144.5L51.8 144.9L52.6 145.4L53.4 145.9L54.2 146.5L55 147L55.8 147.6L56.6 148L57.4 148.5L58.2 148.9L59 149.2L59.8 149.5L60.6 149.7L61.4 149.9L62.2 150L63 150.1L63.8 150.2L64.6 150.3L65.4 150.3L66.2 150.3L67 150.4L67.8 150.4L68.6 150.4L69.4 150.5L70.2 150.5L71 150.5L71.8 150.5L72.6 150.5L73.4 150.5L74.2 150.5L75 150.6L75.8 150.6L76.6 150.6L77.4 150.6L78.2 150.6" fill="none" stroke="#88dd33" stroke-width="1" />
<path d="M15.8 162H25.4L26.2 161.9L27 161.8L27.8 161.4L28.6 160.9L29.4 159.9L30.2 158.6L31 157L31.8 155.6L32.6 155.1L33.4 155.1L34.2 155.7L35 157L35.8 158.4L36.6 159.6L37.4 160.3L38.2 160.8L39 161L39.8 161.1L40.6 161.2L41.4 161.3L42.2 161.3L43 161.4L43.8 161.5L44.6 161.6L45.4 161.6L46.2 161.7L47 161.8L47.8 161.8L48.6 161.9L49.4 161.9L50.2 161.9L51 162H86.2" fill="none" stroke="#a030b8" stroke-width="1" />
<path d="M15.8 158.3H37.4L38.2 158.3L39 158.2L39.8 158.1L40.6 158L41.4 157.9L42.2 157.7L43 157.4L43.8 157.1L44.6 156.7L45.4 156.2L46.2 155.6L47 155L47.8 154.3L48.6 153.6L49.4 152.9L50.2 152.3L51 151.8L51.8 151.4L52.6 151.2L53.4 151.2L54.2 151.3L55 151.5L55.8 151.6L56.6 151.9L57.4 152.1L58.2 152.4L59 152.7L59.8 153L60.6 153.3L61.4 153.6L62.2 153.9L63 154.2L63.8 154.5L64.6 154.8L65.4 155.1L66.2 155.4L67 155.6L67.8 155.9L68.6 156.1L69.4 156.3L70.2 156.5L71 156.7L71.8 156.8L72.6 156.9L73.4 157.1L74.2 157.2L75 157.3L75.8 157.3L76.6 157.4L77.4 157.5L78.2 157.5L79 157.6L79.8 157.6L80.6 157.7L81.4 157.7L82.2 157.7L83 157.8L83.8 157.8L84.6 157.8L85.4 157.8L86.2 157.9V158.3H15.8Z" fill="#a030b8" stroke="#a030b8" stroke-width="1.4" fill-opacity="0.62" stroke-opacity="0.42"/>
<path d="M39 158.2L39.8 158.1L40.6 158L41.4 157.9L42.2 157.7L43 157.4L43.8 157.1L44.6 156.7L45.4 156.2L46.2 155.6L47 155L47.8 154.3L48.6 153.6L49.4 152.9L50.2 152.3L51 151.8L51.8 151.4L52.6 151.2L53.4 151.2L54.2 151.3L55 151.5L55.8 151.6L56.6 151.9L57.4 152.1L58.2 152.4L59 152.7L59.8 153L60.6 153.3L61.4 153.6L62.2 153.9L63 154.2L63.8 154.5L64.6 154.8L65.4 155.1L66.2 155.4L67 155.6L67.8 155.9L68.6 156.1L69.4 156.3L70.2 156.5L71 156.7L71.8 156.8L72.6 156.9L73.4 157.1L74.2 157.2L75 157.3L75.8 157.3L76.6 157.4L77.4 157.5L78.2 157.5L79 157.6L79.8 157.6L80.6 157.7L81.4 157.7L82.2 157.7L83 157.8L83.8 157.8L84.6 157.8L85.4 157.8L86.2 157.9" fill="none" stroke="#a030b8" stroke-width="1" />
<path d="M15.8 169.6H23.8L24.6 169.5L25.4 169.4L26.2 169.1L27 168.5L27.8 167.6L28.6 166.2L29.4 164.7L30.2 163.3L31 162.8L31.8 162.8L32.6 163.4L33.4 164.7L34.2 166.1L35 167.2L35.8 168L36.6 168.4L37.4 168.7L38.2 168.8L39 168.8L39.8 168.9L40.6 169L41.4 169L42.2 169.1L43 169.2L43.8 169.3L44.6 169.3L45.4 169.4L46.2 169.5L47 169.5L47.8 169.5L48.6 169.6L49.4 169.6H86.2" fill="none" stroke="#ff5050" stroke-width="1" />
<path d="M15.8 166H35.8L36.6 165.9L37.4 165.8L38.2 165.6L39 165.4L39.8 165.1L40.6 164.7L41.4 164.1L42.2 163.5L43 162.7L43.8 161.8L44.6 160.9L45.4 160.1L46.2 159.5L47 159.2L47.8 159.1L48.6 159.3L49.4 159.6L50.2 160.1L51 160.6L51.8 161.1L52.6 161.7L53.4 162.3L54.2 162.9L55 163.4L55.8 163.9L56.6 164.3L57.4 164.6L58.2 164.9L59 165.1L59.8 165.2L60.6 165.4L61.4 165.5L62.2 165.5L63 165.6L63.8 165.6L64.6 165.7L65.4 165.7L66.2 165.7L67 165.7L67.8 165.7L68.6 165.8L69.4 165.8L70.2 165.8L71 165.8L71.8 165.8L72.6 165.8L73.4 165.8L74.2 165.8L75 165.9L75.8 165.9L76.6 165.9L77.4 165.9L78.2 165.9L79 165.9L79.8 165.9L80.6 165.9L81.4 165.9L82.2 166H86.2V166H15.8Z" fill="#ff5050" stroke="#ff5050" stroke-width="1.4" fill-opacity="0.62" stroke-opacity="0.42"/>
<path d="M37.4 165.8L38.2 165.6L39 165.4L39.8 165.1L40.6 164.7L41.4 164.1L42.2 163.5L43 162.7L43.8 161.8L44.6 160.9L45.4 160.1L46.2 159.5L47 159.2L47.8 159.1L48.6 159.3L49.4 159.6L50.2 160.1L51 160.6L51.8 161.1L52.6 161.7L53.4 162.3L54.2 162.9L55 163.4L55.8 163.9L56.6 164.3L57.4 164.6L58.2 164.9L59 165.1L59.8 165.2L60.6 165.4L61.4 165.5L62.2 165.5L63 165.6L63.8 165.6L64.6 165.7L65.4 165.7L66.2 165.7L67 165.7L67.8 165.7L68.6 165.8L69.4 165.8L70.2 165.8L71 165.8L71.8 165.8L72.6 165.8L73.4 165.8L74.2 165.8" fill="none" stroke="#ff5050" stroke-width="1" />
</g>
<rect x="15.8" y="13.4" width="70.2" height="157.6" fill="none" stroke="#333" stroke-width="1.1" />
<line x1="18.07" y1="171" x2="18.07" y2="172.5" stroke="#333" stroke-width="0.8" />
<line x1="21.15" y1="171" x2="21.15" y2="172.5" stroke="#333" stroke-width="0.8" />
<line x1="23.34" y1="171" x2="23.34" y2="172.5" stroke="#333" stroke-width="0.8" />
<line x1="25.03" y1="171" x2="25.03" y2="172.5" stroke="#333" stroke-width="0.8" />
<line x1="26.42" y1="171" x2="26.42" y2="172.5" stroke="#333" stroke-width="0.8" />
<line x1="27.59" y1="171" x2="27.59" y2="172.5" stroke="#333" stroke-width="0.8" />
<line x1="28.6" y1="171" x2="28.6" y2="172.5" stroke="#333" stroke-width="0.8" />
<line x1="29.5" y1="171" x2="29.5" y2="172.5" stroke="#333" stroke-width="0.8" />
<line x1="30.3" y1="171" x2="30.3" y2="173.6" stroke="#333" stroke-width="0.8" />
<line x1="35.57" y1="171" x2="35.57" y2="172.5" stroke="#333" stroke-width="0.8" />
<line x1="38.65" y1="171" x2="38.65" y2="172.5" stroke="#333" stroke-width="0.8" />
<line x1="40.84" y1="171" x2="40.84" y2="172.5" stroke="#333" stroke-width="0.8" />
<line x1="42.53" y1="171" x2="42.53" y2="172.5" stroke="#333" stroke-width="0.8" />
<line x1="43.92" y1="171" x2="43.92" y2="172.5" stroke="#333" stroke-width="0.8" />
<line x1="45.09" y1="171" x2="45.09" y2="172.5" stroke="#333" stroke-width="0.8" />
<line x1="46.1" y1="171" x2="46.1" y2="172.5" stroke="#333" stroke-width="0.8" />
<line x1="47" y1="171" x2="47" y2="172.5" stroke="#333" stroke-width="0.8" />
<line x1="47.8" y1="171" x2="47.8" y2="173.6" stroke="#333" stroke-width="0.8" />
<line x1="53.07" y1="171" x2="53.07" y2="172.5" stroke="#333" stroke-width="0.8" />
<line x1="56.15" y1="171" x2="56.15" y2="172.5" stroke="#333" stroke-width="0.8" />
<line x1="58.34" y1="171" x2="58.34" y2="172.5" stroke="#333" stroke-width="0.8" />
<line x1="60.03" y1="171" x2="60.03" y2="172.5" stroke="#333" stroke-width="0.8" />
<line x1="61.42" y1="171" x2="61.42" y2="172.5" stroke="#333" stroke-width="0.8" />
<line x1="62.59" y1="171" x2="62.59" y2="172.5" stroke="#333" stroke-width="0.8" />
<line x1="63.6" y1="171" x2="63.6" y2="172.5" stroke="#333" stroke-width="0.8" />
<line x1="64.5" y1="171" x2="64.5" y2="172.5" stroke="#333" stroke-width="0.8" />
<line x1="65.3" y1="171" x2="65.3" y2="173.6" stroke="#333" stroke-width="0.8" />
<line x1="70.57" y1="171" x2="70.57" y2="172.5" stroke="#333" stroke-width="0.8" />
<line x1="73.65" y1="171" x2="73.65" y2="172.5" stroke="#333" stroke-width="0.8" />
<line x1="75.84" y1="171" x2="75.84" y2="172.5" stroke="#333" stroke-width="0.8" />
<line x1="77.53" y1="171" x2="77.53" y2="172.5" stroke="#333" stroke-width="0.8" />
<line x1="78.92" y1="171" x2="78.92" y2="172.5" stroke="#333" stroke-width="0.8" />
<line x1="80.09" y1="171" x2="80.09" y2="172.5" stroke="#333" stroke-width="0.8" />
<line x1="81.1" y1="171" x2="81.1" y2="172.5" stroke="#333" stroke-width="0.8" />
<line x1="82" y1="171" x2="82" y2="172.5" stroke="#333" stroke-width="0.8" />
<line x1="82.8" y1="171" x2="82.8" y2="173.6" stroke="#333" stroke-width="0.8" />
<text x="23.6" y="182.8" font-size="6.2" fill="#333" color="#333" textLength="6.3" lengthAdjust="spacingAndGlyphs" >10</text>
<text x="30.5" y="178.6" font-size="6.2" fill="#333" color="#333" >2</text>
<text x="41.1" y="182.8" font-size="6.2" fill="#333" color="#333" textLength="6.3" lengthAdjust="spacingAndGlyphs" >10</text>
<text x="48" y="178.6" font-size="6.2" fill="#333" color="#333" >3</text>
<text x="58.6" y="182.8" font-size="6.2" fill="#333" color="#333" textLength="6.3" lengthAdjust="spacingAndGlyphs" >10</text>
<text x="65.5" y="178.6" font-size="6.2" fill="#333" color="#333" >4</text>
<text x="76.1" y="182.8" font-size="6.2" fill="#333" color="#333" textLength="6.3" lengthAdjust="spacingAndGlyphs" >10</text>
<text x="83" y="178.6" font-size="6.2" fill="#333" color="#333" >5</text>
<text x="21.7" y="194.1" font-size="10" fill="#111" color="#111" textLength="52.9" lengthAdjust="spacingAndGlyphs" >HER2.CAR</text>
<line x1="141" y1="38.4" x2="141" y2="88" stroke="#222" stroke-width="1.1" />
<line x1="140.5" y1="87.6" x2="175.9" y2="87.6" stroke="#222" stroke-width="1.1" />
<line x1="138" y1="85.4" x2="141" y2="85.4" stroke="#222" stroke-width="1" />
<line x1="139.6" y1="79.79" x2="141" y2="79.79" stroke="#222" stroke-width="1" />
<line x1="138" y1="74.18" x2="141" y2="74.18" stroke="#222" stroke-width="1" />
<line x1="139.6" y1="68.56" x2="141" y2="68.56" stroke="#222" stroke-width="1" />
<line x1="138" y1="62.95" x2="141" y2="62.95" stroke="#222" stroke-width="1" />
<line x1="139.6" y1="57.34" x2="141" y2="57.34" stroke="#222" stroke-width="1" />
<line x1="138" y1="51.73" x2="141" y2="51.73" stroke="#222" stroke-width="1" />
<line x1="139.6" y1="46.11" x2="141" y2="46.11" stroke="#222" stroke-width="1" />
<line x1="138" y1="40.5" x2="141" y2="40.5" stroke="#222" stroke-width="1" />
<text x="135.3" y="89" font-size="10" text-anchor="end" fill="#111" color="#111" textLength="5.8" lengthAdjust="spacingAndGlyphs" >0</text>
<text x="135.3" y="77.78" font-size="10" text-anchor="end" fill="#111" color="#111" textLength="11.6" lengthAdjust="spacingAndGlyphs" >25</text>
<text x="135.3" y="66.55" font-size="10" text-anchor="end" fill="#111" color="#111" textLength="11.6" lengthAdjust="spacingAndGlyphs" >50</text>
<text x="135.3" y="55.33" font-size="10" text-anchor="end" fill="#111" color="#111" textLength="11.6" lengthAdjust="spacingAndGlyphs" >75</text>
<text x="135.3" y="44.1" font-size="10" text-anchor="end" fill="#111" color="#111" textLength="17.4" lengthAdjust="spacingAndGlyphs" >100</text>
<line x1="150.8" y1="87.6" x2="150.8" y2="90.5" stroke="#222" stroke-width="1" />
<line x1="166.3" y1="87.6" x2="166.3" y2="90.5" stroke="#222" stroke-width="1" />
<text x="112.9" y="61.5" font-size="10.8" text-anchor="middle" fill="#111" color="#111" textLength="41" lengthAdjust="spacingAndGlyphs" transform="rotate(-90 112.9 61.5)" >Ratio(%)</text>
<ellipse cx="151.4" cy="85.4" rx="5.3" ry="2.5" fill="#a8a8a8"/>
<path d="M166.3 38.3 C163.5 38.4, 161.7 39.6, 161.4 41.8 C161.2 44, 162.0 46.5, 163.0 49 C164.0 51.5, 164.8 54, 165.3 56.5 C165.7 58.5, 166.0 60.5, 166.3 62.5 C166.6 60.5, 166.9 58.5, 167.3 56.5 C167.8 54, 168.6 51.5, 169.6 49 C170.6 46.5, 171.4 44, 171.2 41.8 C170.9 39.6, 169.1 38.4, 166.3 38.3 Z" fill="#f8a13f" stroke="#222" stroke-width="0.8" />
<circle cx="163.4" cy="40.8" r="1.6" fill="#f9a745" stroke="#e8902a" stroke-width="0.5" />
<circle cx="166.3" cy="40" r="1.6" fill="#f9a745" stroke="#e8902a" stroke-width="0.5" />
<circle cx="169.2" cy="40.8" r="1.6" fill="#f9a745" stroke="#e8902a" stroke-width="0.5" />
<circle cx="170.2" cy="43" r="1.6" fill="#f9a745" stroke="#e8902a" stroke-width="0.5" />
<circle cx="167.8" cy="42.8" r="1.6" fill="#f9a745" stroke="#e8902a" stroke-width="0.5" />
<circle cx="164.7" cy="43.2" r="1.6" fill="#f9a745" stroke="#e8902a" stroke-width="0.5" />
<circle cx="162.6" cy="44" r="1.6" fill="#f9a745" stroke="#e8902a" stroke-width="0.5" />
<circle cx="169.4" cy="46" r="1.6" fill="#f9a745" stroke="#e8902a" stroke-width="0.5" />
<circle cx="163.8" cy="47.4" r="1.6" fill="#f9a745" stroke="#e8902a" stroke-width="0.5" />
<circle cx="166.8" cy="47.8" r="1.6" fill="#f9a745" stroke="#e8902a" stroke-width="0.5" />
<circle cx="165" cy="50.6" r="1.6" fill="#f9a745" stroke="#e8902a" stroke-width="0.5" />
<circle cx="167.5" cy="52.2" r="1.6" fill="#f9a745" stroke="#e8902a" stroke-width="0.5" />
<circle cx="165.8" cy="55" r="1.6" fill="#f9a745" stroke="#e8902a" stroke-width="0.5" />
<circle cx="166.6" cy="57.8" r="1.6" fill="#f9a745" stroke="#e8902a" stroke-width="0.5" />
<line x1="162" y1="45.8" x2="170.8" y2="45.8" stroke="#222" stroke-width="1.3" />
<line x1="166.3" y1="62" x2="166.3" y2="74.4" stroke="#222" stroke-width="1" />
<circle cx="166.3" cy="61.8" r="1.2" fill="#222" stroke="none" stroke-width="1" />
<line x1="141" y1="98" x2="141" y2="148.5" stroke="#222" stroke-width="1.1" />
<line x1="140.5" y1="148.1" x2="175.7" y2="148.1" stroke="#222" stroke-width="1.1" />
<line x1="138" y1="147.2" x2="141" y2="147.2" stroke="#222" stroke-width="1" />
<line x1="139.6" y1="141.14" x2="141" y2="141.14" stroke="#222" stroke-width="1" />
<line x1="138" y1="135.07" x2="141" y2="135.07" stroke="#222" stroke-width="1" />
<line x1="139.6" y1="129.01" x2="141" y2="129.01" stroke="#222" stroke-width="1" />
<line x1="138" y1="122.95" x2="141" y2="122.95" stroke="#222" stroke-width="1" />
<line x1="139.6" y1="116.89" x2="141" y2="116.89" stroke="#222" stroke-width="1" />
<line x1="138" y1="110.82" x2="141" y2="110.82" stroke="#222" stroke-width="1" />
<line x1="139.6" y1="104.76" x2="141" y2="104.76" stroke="#222" stroke-width="1" />
<line x1="138" y1="98.7" x2="141" y2="98.7" stroke="#222" stroke-width="1" />
<text x="135.3" y="150.8" font-size="10" text-anchor="end" fill="#111" color="#111" textLength="5.8" lengthAdjust="spacingAndGlyphs" >0</text>
<text x="135.3" y="138.67" font-size="10" text-anchor="end" fill="#111" color="#111" textLength="11.6" lengthAdjust="spacingAndGlyphs" >50</text>
<text x="135.3" y="126.55" font-size="10" text-anchor="end" fill="#111" color="#111" textLength="17.4" lengthAdjust="spacingAndGlyphs" >100</text>
<text x="135.3" y="114.42" font-size="10" text-anchor="end" fill="#111" color="#111" textLength="17.4" lengthAdjust="spacingAndGlyphs" >150</text>
<text x="135.3" y="102.3" font-size="10" text-anchor="end" fill="#111" color="#111" textLength="17.4" lengthAdjust="spacingAndGlyphs" >200</text>
<line x1="150.7" y1="148.1" x2="150.7" y2="151" stroke="#222" stroke-width="1" />
<line x1="166" y1="148.1" x2="166" y2="151" stroke="#222" stroke-width="1" />
<text x="111.8" y="118" font-size="10.8" text-anchor="middle" fill="#111" color="#111" textLength="47" lengthAdjust="spacingAndGlyphs" transform="rotate(-90 111.8 118)" >MFI (*100)</text>
<line x1="150.7" y1="146.3" x2="166" y2="107.19" stroke="#111" stroke-width="1" />
<line x1="150.7" y1="146.3" x2="166" y2="108.4" stroke="#111" stroke-width="1" />
<line x1="150.7" y1="146.3" x2="166" y2="110.34" stroke="#111" stroke-width="1" />
<line x1="150.7" y1="146.3" x2="166" y2="121.5" stroke="#111" stroke-width="1" />
<line x1="150.7" y1="146.3" x2="166" y2="123.92" stroke="#111" stroke-width="1" />
<line x1="150.7" y1="146.3" x2="166" y2="125.86" stroke="#111" stroke-width="1" />
<line x1="150.7" y1="146.3" x2="166" y2="128.28" stroke="#111" stroke-width="1" />
<line x1="150.7" y1="146.3" x2="166" y2="130.71" stroke="#111" stroke-width="1" />
<line x1="150.7" y1="146.3" x2="166" y2="132.65" stroke="#111" stroke-width="1" />
<line x1="150.7" y1="146.3" x2="166" y2="134.59" stroke="#111" stroke-width="1" />
<line x1="150.7" y1="146.3" x2="166" y2="136.53" stroke="#111" stroke-width="1" />
<line x1="150.7" y1="146.3" x2="166" y2="138.47" stroke="#111" stroke-width="1" />
<line x1="150.7" y1="146.3" x2="166" y2="140.41" stroke="#111" stroke-width="1" />
<line x1="150.7" y1="146.3" x2="166" y2="142.35" stroke="#111" stroke-width="1" />
<line x1="150.7" y1="146.3" x2="166" y2="143.8" stroke="#111" stroke-width="1" />
<circle cx="166" cy="107.19" r="2.1" fill="none" stroke="#f8a13f" stroke-width="1.1" />
<circle cx="166" cy="108.4" r="2.1" fill="none" stroke="#f8a13f" stroke-width="1.1" />
<circle cx="166" cy="110.34" r="2.1" fill="none" stroke="#f8a13f" stroke-width="1.1" />
<circle cx="166" cy="121.5" r="2.1" fill="none" stroke="#f8a13f" stroke-width="1.1" />
<circle cx="166" cy="123.92" r="2.1" fill="none" stroke="#f8a13f" stroke-width="1.1" />
<circle cx="166" cy="125.86" r="2.1" fill="none" stroke="#f8a13f" stroke-width="1.1" />
<circle cx="166" cy="128.28" r="2.1" fill="none" stroke="#f8a13f" stroke-width="1.1" />
<circle cx="166" cy="130.71" r="2.1" fill="none" stroke="#f8a13f" stroke-width="1.1" />
<circle cx="166" cy="132.65" r="2.1" fill="none" stroke="#f8a13f" stroke-width="1.1" />
<circle cx="166" cy="134.59" r="2.1" fill="none" stroke="#f8a13f" stroke-width="1.1" />
<circle cx="166" cy="136.53" r="2.1" fill="none" stroke="#f8a13f" stroke-width="1.1" />
<circle cx="166" cy="138.47" r="2.1" fill="none" stroke="#f8a13f" stroke-width="1.1" />
<circle cx="166" cy="140.41" r="2.1" fill="none" stroke="#f8a13f" stroke-width="1.1" />
<circle cx="166" cy="142.35" r="2.1" fill="none" stroke="#f8a13f" stroke-width="1.1" />
<circle cx="166" cy="143.8" r="2.1" fill="none" stroke="#f8a13f" stroke-width="1.1" />
<circle cx="150.7" cy="146.3" r="1.9" fill="#999" stroke="#888" stroke-width="0.6" />
<text x="134" y="166" font-size="11" fill="#111" color="#111" textLength="22.2" lengthAdjust="spacingAndGlyphs" transform="rotate(-13 134 166)" >UTD</text>
<text x="122.6" y="178.6" font-size="11" fill="#111" color="#111" textLength="61.5" lengthAdjust="spacingAndGlyphs" transform="rotate(-13.6 122.6 178.6)" >HER2.eSPR</text>
<defs><filter id="fb1" x="-50%" y="-50%" width="200%" height="200%"><feGaussianBlur stdDeviation="1.5"/></filter><clipPath id="fc1"><rect x="199.2" y="24.7" width="50.5" height="50.6"/></clipPath></defs>
<g clip-path="url(#fc1)">
<path d="M242.2 48.3h0M231.7 49.9h0M221.3 35.4h0M235.7 35.2h0M242 40.7h0M234.6 52.4h0M233.6 42.2h0M240.1 38.4h0M228.6 43.4h0M220.7 46.6h0M232.6 47.1h0M230.6 43.8h0M218.2 40.9h0M248 39.3h0M227.2 33.5h0M218.4 48.7h0M227.9 50.7h0M236.8 34.9h0M239.1 42.2h0M225.4 45.4h0M225.8 34.2h0M220.5 46.7h0M220.6 42.7h0M234.4 42.1h0M243.5 39.5h0M237.6 48.2h0M231.4 34h0M233.4 49.8h0M220.6 40.1h0M210.8 40.9h0M236.4 32h0M234.3 34.3h0M227.7 43.9h0M224 41.1h0M221.3 44.2h0M218.1 41.9h0M228.4 43.1h0M237.6 48.9h0M234.1 32.3h0M231.9 52.3h0M233.5 42.8h0M231.5 45.8h0M228.9 44.9h0M224.2 42.4h0M227.3 35.4h0M228.5 42.8h0M223.1 46.3h0M223.4 42.9h0M231.8 40.5h0M229.1 38.1h0M224.7 35.7h0M245.4 38.7h0M234.4 50.6h0M222.3 40.5h0M239.7 43.2h0M236.9 37h0M226.5 52.9h0M222.1 47.1h0M245.9 42.5h0M224.5 41.1h0M244.5 38.8h0M224.6 47.7h0M225.1 36.5h0M242.4 46.1h0M221.6 43.5h0M232.7 41.1h0M224.6 52.9h0M227.6 47h0M238.1 32h0M240.3 34.7h0M238.9 40.6h0M237.2 43.7h0M235.6 51h0M235.6 35.9h0M228.4 52.6h0M248.3 36.2h0M234.6 43.4h0M233.2 32h0M219.2 37.3h0M222.9 40.9h0M239.9 35.6h0M222.8 44.9h0M231.7 41h0M236 43.6h0M239 42.4h0M226.3 44.7h0M233.8 54.5h0M220.3 51.3h0M229.5 47.8h0M242.6 45.9h0M239.8 40.3h0M219.8 46.3h0M247.9 37.6h0M217.9 36.6h0M224.8 34.7h0M221.9 41.9h0M239 44h0M218.8 46.8h0M240.3 38.4h0M227.4 48.3h0M237.6 37.5h0M218.6 41.6h0M231.3 43.7h0M242.8 44.3h0M224.5 38.6h0M215.7 44.8h0M211.4 44.8h0M238.9 49.8h0M234.9 35h0M238.4 38.2h0M243.3 49.7h0M242.4 34.9h0M237.6 33.2h0M236.6 48h0M226.8 33.9h0M246.5 44.3h0M219.1 41.4h0M221.3 45.6h0M231.1 43.9h0M219.5 48.5h0M235.2 44.6h0M235.1 35.4h0M223.2 39.1h0M217.7 44h0M224.3 34.4h0M219.6 44h0M221.1 48h0M238.1 38.3h0M235.3 42.5h0M235.3 38.5h0M237.3 37.1h0M236.1 36h0M228.7 34h0M243 33.9h0M235.4 46.6h0M214.2 39.5h0M228.1 36.2h0M242.2 51.6h0M234.5 33.4h0M247.6 32.6h0M237.3 33.7h0M216.6 47.9h0M221 50.3h0M238.3 48.4h0M236.4 40.5h0M226.5 44.9h0M232.6 52.3h0M228.9 43.1h0M218.2 37.7h0M229.5 50.4h0M223.5 40.4h0M233.5 32.2h0M219.6 41.6h0M231.3 33.8h0M230.3 45.9h0M242.4 47.1h0M244.8 38.1h0M239.5 47h0M227.6 50h0M230.5 42.2h0" stroke="#f6b27a" stroke-width="0.6" stroke-linecap="square" fill="none"/>
<path d="M209.5 45.5h0M210.6 34.4h0M207.5 40.7h0M217.9 35.5h0M215.9 31h0M218.8 33.8h0M209.2 48.7h0M213.9 43.2h0M206.7 45.2h0M209.7 46.4h0M204.6 44.3h0M209.6 36.5h0M205.6 41.3h0M209.6 48h0M218.6 31.1h0M209.5 34.6h0M212.7 44.7h0M215.1 32.8h0M213.2 33.9h0M220.2 35h0M210 46h0M219.8 34.3h0M208.2 39h0M208.6 41.7h0M215.4 33.4h0M207.5 44.8h0M210.8 38.2h0M207 37.4h0M208.4 41.7h0M220.8 40.3h0M213.3 44.1h0M204.5 37h0M207.7 41.6h0M209.3 35h0M209.2 41h0M207.1 49.5h0M208.1 41.9h0M216.7 39.3h0M211.7 48.2h0M207.5 37.3h0M219.5 37.7h0M218.4 37.9h0M215.2 34.2h0M212 32h0M212.6 50.3h0M219.6 37.2h0M212.1 44h0M212.6 34.4h0M219.1 42.4h0M203.6 44.3h0M222 33.8h0M213.7 45.1h0M216.5 33.6h0M211.4 37.8h0M216.7 36.9h0M220.3 35.4h0M213.6 31.3h0M213.3 38.1h0M216.8 38.9h0M208.8 36.1h0M207.7 40.1h0M219.3 32.4h0M222.9 34h0M212.4 47.2h0M210.9 42h0M211.1 44.5h0M208.8 48.2h0M208.6 36h0M218.1 45.1h0M218 30.7h0M216.2 38h0M208.6 45.8h0M220.3 34.8h0M219.3 38.5h0M213.7 38.5h0M222.3 35.8h0M210.5 48.5h0M221.8 38h0M214 34.8h0M217.2 43.6h0" stroke="#b0b0b0" stroke-width="0.6" stroke-linecap="square" fill="none"/>
<ellipse cx="231" cy="42.2" rx="11.89" ry="7.36" transform="rotate(-8 231 42.2)" fill="#e2781a" opacity="0.9" filter="url(#fb1)"/>
<path d="M225.5 49.6h0M228.3 41.6h0M217.9 47h0M235.8 35.3h0M240.4 36h0M235.5 45.4h0M236.9 43.9h0M243.3 42.7h0M229.1 46.1h0M226.6 49.6h0M227.2 42.3h0M227.7 47.7h0M217.8 45.2h0M243 39h0M243.2 36.1h0M217.7 39.8h0M226.6 35.6h0M240.5 38.4h0M217.5 46.1h0M233.2 44h0M218.2 40.7h0M221.5 47.6h0M224.9 41.9h0M224 38.7h0M236.5 35.9h0M231.6 41.6h0M236.7 35.4h0M238.2 37.1h0M236.7 38.2h0M217.4 41.6h0M228 34.7h0M231.2 45.2h0M231.4 36.4h0M220.8 48.5h0M229.6 41.9h0M226.8 43.5h0M230.8 42h0M239.2 36.1h0M221.4 41.9h0M221.6 42.5h0M238.1 39.8h0M229.3 46.2h0M222.5 40.2h0M237.2 47.1h0M229.3 36.2h0M220.5 48.8h0M223.5 35.7h0M234.6 37.8h0M232.4 37.5h0M224.4 43.6h0M236.6 44.4h0M235.2 41.9h0M236.5 36.4h0M236.6 41.4h0M229.3 35.3h0M231.7 36.6h0M217 44.7h0M234 43h0M231.2 42.9h0M217.4 45.2h0M227.1 32.9h0M240.4 40.7h0M224.1 50.5h0M239.1 44.8h0M229.2 40.6h0M230.2 47.8h0M237.8 35.1h0M237.7 43.8h0M229.3 48h0M242.7 46.8h0M234.6 40h0M220.1 48h0M229.7 47.9h0M226.2 42h0M225.8 49.4h0M222.5 36h0M230.8 48.2h0M230.7 34h0M230.3 49.5h0M234.4 43.9h0M218.9 38.7h0M227.9 41.1h0M229.9 49.4h0M233.2 46.4h0M226.4 48.4h0M238.4 36.2h0M237.3 42.8h0M222.5 37h0M228.2 47.8h0M233.8 43.5h0M239.4 44.2h0M220.5 40.9h0M234.8 47.6h0M230.7 42.3h0M228.9 41.4h0M223.9 34.9h0M222.3 39.5h0M234.9 44.4h0M230 41.2h0M236.5 43.9h0M232.4 42.3h0M240.2 38.2h0M228.1 39.2h0M226.1 50.9h0M233.6 35.4h0M220 38.5h0M225.7 36.9h0M222.1 41.1h0M238.8 37.1h0M239.7 42.9h0M233.4 46.9h0M231.5 45.9h0M222.7 44.3h0M225 38h0M236.5 35.3h0M237.3 42.1h0M242.1 50.1h0M234.8 49.7h0M225.3 50.4h0M234.7 37.8h0M239 45.5h0M223.9 36.3h0M244.9 40.7h0M226 39.2h0M236.7 37.8h0M224.2 40.2h0M221.7 47.7h0M242.3 42.3h0M234 43.3h0M227.8 45.6h0M239.5 37.3h0M232.8 38.8h0M232.5 48.2h0M238.4 47.7h0M227 50.6h0M222.1 35.7h0M238.8 42.9h0M228.7 50.3h0M226.8 36.4h0M241.6 43.1h0M236.8 47.4h0M225.7 49.1h0M244.3 41.5h0M232.8 39.6h0M236.8 43.9h0M223.4 36.7h0M222.5 44.4h0M229.8 39.5h0M221.4 41.9h0M232.7 39.9h0M232 42.5h0M231.1 35.2h0M230.4 44.7h0M237 32.3h0M222.5 37.8h0M221.5 42.1h0M244.2 39.4h0M228.5 45.4h0M243.3 36.9h0M222.9 40.4h0M233.6 33.3h0M226.7 36h0M225.6 42.2h0M239.4 45.7h0M220.9 41.1h0M237.9 40.6h0M229.3 46h0M218.5 38.8h0M227.9 48.1h0M223.2 43.2h0M225.5 45.9h0M233.3 37.7h0M218.9 40.5h0M222 38.3h0M234.8 44.5h0M230.2 47.9h0M231.3 45.1h0M226.4 42.1h0M237.2 36.8h0M227.7 44.5h0M245.2 44.8h0M223.5 48h0M238.6 45.9h0M227 45.4h0M237.9 40.9h0M233.8 49h0M228.4 42.2h0M233.9 47h0M233.9 35.8h0M230.6 37.7h0M227 50.1h0M228.8 41.1h0M227 40.2h0M227.7 42.6h0M226.7 35h0M234 40.7h0M231 42.4h0M231 37.5h0M226.4 40.4h0M223.5 35.5h0M238.6 34h0M224.8 45.4h0M238.2 45.7h0M235.8 42.4h0M217.5 42h0M242.1 45.2h0M218.4 47.2h0M235 47h0M233.9 46.1h0M246.6 38.8h0M219.1 46h0M240 47.9h0M239.7 42.5h0M234.3 37.6h0M233.6 34h0M221.2 48.9h0M239.4 38.6h0M223.3 44h0M229.8 44.6h0M234.1 38.7h0M232.7 34.4h0M243.2 40.4h0M241.4 46.2h0M227.8 46.6h0M223.9 38.4h0M221.7 37.3h0M217.9 44h0M229.2 45.3h0M233 43.5h0M218.4 43.5h0M236.5 36.1h0M221.7 37.6h0M240.1 39.7h0M229.1 41.4h0M236.6 39.8h0M229.7 38.8h0M230.3 47.8h0M228 50.6h0M231.8 40.7h0M243.7 36.1h0M223.3 49.6h0M229.6 32.1h0M223.3 36.1h0M235.7 41h0M228 41.5h0M231.8 43.2h0M225 50.8h0M236.1 53.2h0M236.5 42.1h0M246.4 40.6h0M240.1 42.2h0M229.7 47.9h0M223.3 47.6h0M236.5 47.9h0M237.9 39.1h0M232.2 42.1h0M222.8 35.6h0M228.3 37.7h0M226.3 35.3h0M235 36.2h0M222.4 43.4h0M219 40.1h0M218.8 45.4h0M221.4 42.6h0M226.3 40.6h0M229.6 41.7h0M234.7 39.6h0M225.6 34.6h0M225.4 39.6h0M226.1 39.4h0M242.8 40.9h0M230.8 42.7h0M220.1 39.6h0M232.2 44.1h0M228.7 40.8h0M240.6 39.2h0M241.6 39h0M231.1 36.5h0M227.4 45.7h0M222.6 42.5h0M235.3 42.9h0M222.4 39.2h0M232 46.9h0M240.3 48.4h0M231.1 42.1h0M228.6 47.9h0M238.2 42.1h0M236.8 37.3h0M222.6 39.5h0M224.7 41.8h0M238.9 44h0M238.3 35.7h0M236.6 41.2h0M231.6 44h0M227.5 42.5h0M233.2 41.7h0M228.4 34.3h0M224.4 42.1h0M232.5 44.9h0M225.7 41.8h0M235.4 49.9h0M223 41.5h0M230.4 42.6h0M222.6 37.5h0M240 50.9h0M233.5 40.2h0M232 42.9h0M226.2 48.2h0M233.1 34.7h0M230.6 40.2h0M232.5 39h0M231.6 47.2h0M236.5 42.1h0M226.7 47.1h0M224.7 37.5h0M225.5 46.3h0M236.3 34h0M227.6 41.1h0M237.4 37.4h0M241.3 37.5h0M224.5 44.3h0M230.1 42.4h0M218.6 40.5h0M236.5 45.8h0M232.8 43.1h0M232.9 48.7h0M234.5 38.5h0M218.1 41.4h0M236.7 35.1h0M216.9 42.2h0M234.1 46h0M217.9 43.6h0M232.1 35.5h0M229.5 44.2h0M236.7 42.2h0M235.6 40.9h0M234.3 38.3h0M230 43.2h0M230.8 41.9h0M222.2 50.2h0M228.4 47.9h0M217.7 41.9h0M219.6 47.3h0M222.2 44.3h0M229 43.1h0M231 39.9h0M235.7 45.9h0M221.9 39h0M240.5 44.4h0M226.4 48.1h0M222.2 34.5h0M229.4 42.5h0M227.2 41.8h0M229.6 36.2h0M219.8 38.5h0M223.2 43.9h0M222.5 35.9h0M228.5 46.2h0M231.5 46.2h0M236.6 40.2h0M238.8 42.7h0M233 46.3h0M221.7 41h0M227.5 38.9h0M224.2 46.7h0M235.8 38.1h0M236.9 33.5h0M229.9 38.9h0M239.9 42.3h0M225.6 34.6h0M220.9 41h0M219.8 40.9h0M229.4 41.8h0M233.9 37.1h0M226.3 38.5h0M228.8 44.5h0M236.8 33.6h0M235.1 41.1h0M236.2 41.6h0M241.3 43.3h0M246.4 39.2h0M237.6 41h0M239.2 37.6h0M223.3 41.6h0M227 41.9h0M240.3 39.1h0M230.4 45.6h0M236.8 44.6h0M229.1 35.9h0M233.6 37h0M243.6 43.2h0M227.1 43.7h0M231.8 41.4h0M239 40.3h0M240.7 36.8h0M227.2 41.1h0M215.3 40.8h0M233.8 50h0M233.4 40.5h0M238.3 38.9h0M236.5 46.6h0M239.2 36.2h0M233.5 43.8h0M226.8 40.7h0M233.5 47.1h0M233.6 43h0M226.8 45.8h0M239.7 41.5h0M230.1 38.3h0M227.4 49.7h0M222.9 43.7h0M221.8 42.1h0M236.1 33.5h0M222.7 37.8h0M223.6 40.3h0M224.2 46.9h0M231.7 45.1h0M232.4 49.8h0M230.8 38h0M227.6 46.5h0M226.3 38.7h0M234.2 38.7h0M222.7 47.7h0M234.9 45.9h0M240.5 39.2h0M233.8 38.5h0M223.2 48.1h0M218.6 47.6h0M237 46.3h0M244.4 39.6h0M220.6 41.9h0M244.4 38.8h0M239.7 48.6h0M234.1 41.3h0M233.6 43.5h0M233.1 34.9h0M236 44.9h0M232.6 47.6h0M233.2 41.1h0M227.5 41.8h0M240.5 47.4h0M239.1 43.2h0M239 36.3h0M231.3 42h0M243.3 42.6h0M233.6 34.1h0M238.8 45h0M240.1 40.7h0M228.9 40.4h0M225 49.2h0" stroke="#e8862a" stroke-width="0.7" stroke-linecap="square" fill="none"/>
<ellipse cx="213.2" cy="40" rx="7.6" ry="4.4" transform="rotate(-45 213.2 40)" fill="#5a5a5a" opacity="0.9" filter="url(#fb1)"/>
<path d="M212.1 44.9h0M216.7 37.9h0M209.3 45.4h0M219.8 35.6h0M217 36.4h0M209.8 47h0M206.8 40.3h0M212.3 40.4h0M209.3 39.3h0M212.5 46.3h0M209.1 40.7h0M216.3 39.3h0M214.3 39.1h0M216.6 36h0M211.7 40.6h0M206.9 39.6h0M209.2 42.9h0M208.9 43.6h0M212.5 41.2h0M214 36.2h0M213.9 38.3h0M218.1 37.7h0M215.2 41.4h0M208 42.9h0M218.4 36.2h0M209 41.2h0M216.2 36.9h0M209.3 44.6h0M218.3 40.3h0M210.8 41.2h0M207.5 40.3h0M210.3 46h0M208.8 45.2h0M215.2 38.8h0M215.7 33.3h0M213.4 34.2h0M213.5 41.2h0M219.2 34h0M208.8 37.2h0M220.6 38h0M210.7 36.1h0M216 37.5h0M208.2 39h0M207.6 42.1h0M215.7 35.6h0M208.1 44.1h0M214 40.1h0M209.9 42.2h0M215 39.9h0M216.9 38.3h0M209.5 42.2h0M216.8 43.4h0M213.5 39.5h0M214.7 43.1h0M212.8 38.1h0M218.6 35.8h0M209.3 46.9h0M212.2 46.7h0M212.4 38.1h0M211.8 46.7h0M215.2 40.9h0M218 34.4h0M216.1 32.8h0M211.1 36.1h0M215.8 33.4h0M213 40.7h0M206.8 48.8h0M206.6 40.9h0M210 45.3h0M210.9 41.3h0M208.2 40.8h0M210.2 45.1h0M210.5 37.1h0M214.9 39.7h0M207.6 41.8h0M215.3 43.3h0M213.2 38.6h0M218.8 39.5h0M218.9 31.2h0M216.2 33.5h0M211.6 38.4h0M209.2 49.1h0M219.4 38.5h0M207.4 46.1h0M219.5 34.9h0M219.1 37.1h0M218.7 37.3h0M214.5 39h0M214 43.9h0M213.9 33.6h0M206.4 41.7h0M205.6 43h0M210.7 39.3h0M213.2 37h0M217.3 36h0M212.6 38.6h0M215.9 39.9h0M217.7 40h0M213.9 34.9h0M214.5 37.2h0M211.6 35.8h0M216.9 41.9h0M212.1 36.8h0M216.2 41.9h0M212.9 40.2h0M209.6 44.9h0M214.6 41.2h0M214.6 36.9h0M213.4 40.6h0M214 39.1h0M213.7 42.2h0M215.1 40.4h0M207.4 41.6h0M220.9 33.6h0M207.9 46.4h0M215 38.3h0M213.9 38.6h0M213.4 40h0M215.5 42.8h0M208.5 43.8h0M217 40.4h0M214.3 37.4h0M213.5 42.2h0M215 33.9h0M213.1 32.4h0M217.2 39.1h0M213.5 40.5h0M207.8 38.1h0M218.1 35.9h0M208.6 44h0M219.2 37.2h0M213.3 39.6h0M213.2 39.3h0M211.4 42.1h0M206.5 44h0M217.6 34.5h0M216.8 37.8h0M209.7 43.2h0M206.3 43.5h0M215.6 36.3h0M209.3 42.3h0M219.1 37.8h0M213 39h0M212.1 40.5h0M215.5 34.4h0M216.1 35.6h0M215.2 34.2h0M206.8 43h0M215.3 39.5h0M209 38.1h0M210.9 47.4h0M213.4 40.5h0M210.8 40.1h0M216.5 40.1h0M211.7 37.1h0M208.7 45.5h0M208.1 43.1h0M213.7 39.6h0M207.9 44h0M219.7 34.3h0M216 36.5h0M212.8 39.8h0M210.3 47.6h0M212.2 42.7h0M211.1 40.6h0M218 42.5h0M216.5 35.9h0M207.1 42.3h0M210.4 42.6h0M213.9 38.7h0M212.1 38.9h0M213.3 35.8h0M211.2 41.9h0M211.6 38.4h0M208.2 38.2h0M214.3 42.6h0M215.2 34h0M218.5 35.4h0M213.8 37.9h0M212.4 37.2h0M215.2 39.3h0M214.5 40.1h0M207.2 40.5h0M208.4 45.9h0M211.5 40.7h0M215 32.9h0M219.9 36.6h0M212.8 43.9h0M210.5 38.4h0M214.1 39.9h0M214.1 38.9h0M217.3 35.1h0M218.9 39.2h0M215.7 39.2h0M216.5 42.3h0M208.7 38.2h0M213.4 38.2h0M208 45.6h0M212.7 42h0M209.8 45.3h0M214.4 33.1h0M218.7 37.2h0M215.8 34.9h0M213.4 40h0M210.5 38.6h0M216.1 44.7h0M215.1 42.6h0M216.6 42.8h0M212.7 39.9h0M210.1 40.6h0M214.6 33.1h0M209.9 45.3h0M214 45.7h0M206.9 38.6h0M209.3 45.9h0M209.8 46.3h0M213.6 39.6h0M211.3 36.6h0M212.7 45h0M212.4 36.2h0" stroke="#5a5a5a" stroke-width="0.75" stroke-linecap="square" fill="none"/>
</g>
<rect x="199.2" y="24.7" width="50.5" height="50.6" fill="none" stroke="#9a9a9a" stroke-width="0.7" />
<line x1="199.2" y1="24.7" x2="199.2" y2="75.3" stroke="#333" stroke-width="0.9" />
<line x1="199.2" y1="75.3" x2="249.7" y2="75.3" stroke="#333" stroke-width="0.9" />
<line x1="197.8" y1="73.3" x2="199.2" y2="73.3" stroke="#444" stroke-width="0.5" />
<line x1="198.5" y1="71.6" x2="199.2" y2="71.6" stroke="#444" stroke-width="0.5" />
<line x1="198.5" y1="69.9" x2="199.2" y2="69.9" stroke="#444" stroke-width="0.5" />
<line x1="198.5" y1="68.2" x2="199.2" y2="68.2" stroke="#444" stroke-width="0.5" />
<line x1="198.5" y1="66.5" x2="199.2" y2="66.5" stroke="#444" stroke-width="0.5" />
<line x1="198.5" y1="64.8" x2="199.2" y2="64.8" stroke="#444" stroke-width="0.5" />
<line x1="197.8" y1="63.1" x2="199.2" y2="63.1" stroke="#444" stroke-width="0.5" />
<line x1="198.5" y1="61.4" x2="199.2" y2="61.4" stroke="#444" stroke-width="0.5" />
<line x1="198.5" y1="59.7" x2="199.2" y2="59.7" stroke="#444" stroke-width="0.5" />
<line x1="198.5" y1="58" x2="199.2" y2="58" stroke="#444" stroke-width="0.5" />
<line x1="198.5" y1="56.3" x2="199.2" y2="56.3" stroke="#444" stroke-width="0.5" />
<line x1="198.5" y1="54.6" x2="199.2" y2="54.6" stroke="#444" stroke-width="0.5" />
<line x1="197.8" y1="52.9" x2="199.2" y2="52.9" stroke="#444" stroke-width="0.5" />
<line x1="198.5" y1="51.2" x2="199.2" y2="51.2" stroke="#444" stroke-width="0.5" />
<line x1="198.5" y1="49.5" x2="199.2" y2="49.5" stroke="#444" stroke-width="0.5" />
<line x1="198.5" y1="47.8" x2="199.2" y2="47.8" stroke="#444" stroke-width="0.5" />
<line x1="198.5" y1="46.1" x2="199.2" y2="46.1" stroke="#444" stroke-width="0.5" />
<line x1="198.5" y1="44.4" x2="199.2" y2="44.4" stroke="#444" stroke-width="0.5" />
<line x1="197.8" y1="42.7" x2="199.2" y2="42.7" stroke="#444" stroke-width="0.5" />
<line x1="198.5" y1="41" x2="199.2" y2="41" stroke="#444" stroke-width="0.5" />
<line x1="198.5" y1="39.3" x2="199.2" y2="39.3" stroke="#444" stroke-width="0.5" />
<line x1="198.5" y1="37.6" x2="199.2" y2="37.6" stroke="#444" stroke-width="0.5" />
<line x1="198.5" y1="35.9" x2="199.2" y2="35.9" stroke="#444" stroke-width="0.5" />
<line x1="198.5" y1="34.2" x2="199.2" y2="34.2" stroke="#444" stroke-width="0.5" />
<line x1="197.8" y1="32.5" x2="199.2" y2="32.5" stroke="#444" stroke-width="0.5" />
<line x1="198.5" y1="30.8" x2="199.2" y2="30.8" stroke="#444" stroke-width="0.5" />
<line x1="198.5" y1="29.1" x2="199.2" y2="29.1" stroke="#444" stroke-width="0.5" />
<line x1="198.5" y1="27.4" x2="199.2" y2="27.4" stroke="#444" stroke-width="0.5" />
<line x1="200.7" y1="75.3" x2="200.7" y2="76.7" stroke="#444" stroke-width="0.5" />
<line x1="202.4" y1="75.3" x2="202.4" y2="76" stroke="#444" stroke-width="0.5" />
<line x1="204.1" y1="75.3" x2="204.1" y2="76" stroke="#444" stroke-width="0.5" />
<line x1="205.8" y1="75.3" x2="205.8" y2="76" stroke="#444" stroke-width="0.5" />
<line x1="207.5" y1="75.3" x2="207.5" y2="76" stroke="#444" stroke-width="0.5" />
<line x1="209.2" y1="75.3" x2="209.2" y2="76" stroke="#444" stroke-width="0.5" />
<line x1="210.9" y1="75.3" x2="210.9" y2="76.7" stroke="#444" stroke-width="0.5" />
<line x1="212.6" y1="75.3" x2="212.6" y2="76" stroke="#444" stroke-width="0.5" />
<line x1="214.3" y1="75.3" x2="214.3" y2="76" stroke="#444" stroke-width="0.5" />
<line x1="216" y1="75.3" x2="216" y2="76" stroke="#444" stroke-width="0.5" />
<line x1="217.7" y1="75.3" x2="217.7" y2="76" stroke="#444" stroke-width="0.5" />
<line x1="219.4" y1="75.3" x2="219.4" y2="76" stroke="#444" stroke-width="0.5" />
<line x1="221.1" y1="75.3" x2="221.1" y2="76.7" stroke="#444" stroke-width="0.5" />
<line x1="222.8" y1="75.3" x2="222.8" y2="76" stroke="#444" stroke-width="0.5" />
<line x1="224.5" y1="75.3" x2="224.5" y2="76" stroke="#444" stroke-width="0.5" />
<line x1="226.2" y1="75.3" x2="226.2" y2="76" stroke="#444" stroke-width="0.5" />
<line x1="227.9" y1="75.3" x2="227.9" y2="76" stroke="#444" stroke-width="0.5" />
<line x1="229.6" y1="75.3" x2="229.6" y2="76" stroke="#444" stroke-width="0.5" />
<line x1="231.3" y1="75.3" x2="231.3" y2="76.7" stroke="#444" stroke-width="0.5" />
<line x1="233" y1="75.3" x2="233" y2="76" stroke="#444" stroke-width="0.5" />
<line x1="234.7" y1="75.3" x2="234.7" y2="76" stroke="#444" stroke-width="0.5" />
<line x1="236.4" y1="75.3" x2="236.4" y2="76" stroke="#444" stroke-width="0.5" />
<line x1="238.1" y1="75.3" x2="238.1" y2="76" stroke="#444" stroke-width="0.5" />
<line x1="239.8" y1="75.3" x2="239.8" y2="76" stroke="#444" stroke-width="0.5" />
<line x1="241.5" y1="75.3" x2="241.5" y2="76.7" stroke="#444" stroke-width="0.5" />
<line x1="243.2" y1="75.3" x2="243.2" y2="76" stroke="#444" stroke-width="0.5" />
<line x1="244.9" y1="75.3" x2="244.9" y2="76" stroke="#444" stroke-width="0.5" />
<line x1="246.6" y1="75.3" x2="246.6" y2="76" stroke="#444" stroke-width="0.5" />
<line x1="248.3" y1="75.3" x2="248.3" y2="76" stroke="#444" stroke-width="0.5" />
<text x="230.2" y="57.5" font-size="6.2" fill="#333" color="#333" textLength="17.8" lengthAdjust="spacingAndGlyphs" >91.0%</text>
<text x="200.9" y="71.7" font-size="6.2" fill="#222" color="#222" textLength="24.2" lengthAdjust="spacingAndGlyphs" >Donor#A</text>
<defs><filter id="fb2" x="-50%" y="-50%" width="200%" height="200%"><feGaussianBlur stdDeviation="1.5"/></filter><clipPath id="fc2"><rect x="199.2" y="78.4" width="50.5" height="50.4"/></clipPath></defs>
<g clip-path="url(#fc2)">
<path d="M244.2 95.4h0M233.7 92.5h0M224.1 110.7h0M220.8 101.3h0M216.7 110.1h0M239.6 96.9h0M227.5 104.4h0M224.1 108.9h0M213.9 103.6h0M239.7 100.5h0M242.3 98.8h0M238.9 93.5h0M239.5 94.1h0M218.4 112.6h0M237.4 108h0M215.2 106.6h0M238.1 96.2h0M218.9 112.1h0M214.8 106.7h0M223.9 95.2h0M222.4 111.3h0M234.7 97.4h0M223.1 113h0M214.5 104.5h0M218.3 100.7h0M210 104.9h0M242.9 103.3h0M233.5 98.1h0M241.7 102.2h0M232.9 112.9h0M232 96.7h0M235.1 95.5h0M238.4 101h0M224.5 99.8h0M244.4 100h0M229.4 97.6h0M220.3 94.9h0M229.8 103.2h0M213.1 98h0M239.6 100.8h0M224.3 92.2h0M235.9 93.2h0M231.5 110h0M238.1 104.2h0M238.3 105.8h0M220.6 103.1h0M228.4 110.4h0M241.3 100h0M236.4 101.2h0M209.6 105.2h0M236.1 100h0M229.2 110.1h0M230.4 92.5h0M216.6 108.1h0M222.9 105h0M228.5 105.3h0M229.5 106.7h0M218 105.4h0M233.6 110.9h0M224.5 95.4h0M223.7 101.6h0M217.6 103.2h0M220.1 109.5h0M219.3 99.9h0M226 103.4h0M236.2 103.8h0M226.2 101.1h0M217.7 108.2h0M223 101.4h0M214.1 114.5h0M233.9 108.4h0M212.7 107.3h0M234.1 104.1h0M214.6 96.4h0M242.2 100.3h0M223.8 95.1h0M212.5 107.8h0M215 103.4h0M231.3 91.2h0M226 107.4h0M228.3 109h0M238.7 95.5h0M237.1 103.7h0M235.9 106.1h0M240.3 92.6h0M235.2 104.7h0M218.8 95.8h0M221.4 102.7h0M244.4 94.9h0M224.4 97.2h0M213.3 107.3h0M243.4 98.3h0M237.8 106.8h0M232.5 97.8h0M216.3 105.2h0M240.7 95.6h0M237.3 98.4h0M217.3 96.1h0M231.5 109.8h0M216.7 94.8h0M239.8 99.9h0M237.1 94h0M245.1 99.4h0M212.7 98.6h0M241.8 104.8h0M234.2 109.6h0M236.8 111.2h0M219.6 105.9h0M219.7 104.7h0M228.4 102.1h0M233.6 93.1h0M213 105.9h0M227.7 110h0M226.8 97.6h0M228.6 94.9h0M229.5 91h0M219.5 108.8h0M241 99.7h0M219.9 109.6h0M212.5 108.8h0M218.8 97.7h0M231.5 99.6h0M224.4 111h0M219.9 97.9h0M240.4 104.1h0M210.8 103.6h0M219.7 99.2h0M219.4 105.1h0M233.1 99.8h0M220.5 108.1h0M239 103.1h0M218.8 106h0M237.3 96.4h0M237 97.1h0M234.7 108.9h0M219.2 111.5h0M231 93.1h0M231 95.5h0M238.2 96.2h0M241.6 96h0M237.8 92h0M237 99.2h0M221.1 97.5h0M237.5 109.5h0M211 107h0M234.3 99.5h0M218.2 112.2h0M226.9 94.9h0M230.9 111.3h0M226.1 110.9h0M222.2 113.3h0M231.1 106.5h0M228.8 108.2h0M230.1 110.1h0M217.4 111.4h0M233.3 94.9h0M237.4 105.8h0M220.9 111.6h0M214.7 111.5h0M213.8 106.3h0" stroke="#f6b27a" stroke-width="0.6" stroke-linecap="square" fill="none"/>
<path d="M211.5 93.5h0M203.4 99.8h0M211.4 94.6h0M208.1 101.5h0M215.5 109.6h0M211.3 99.9h0M210 100.6h0M211.7 105.7h0M216.2 107.6h0M216.3 104.5h0M204.6 103.8h0M213 103.4h0M210.9 93.6h0M211.3 98.4h0M212.1 104.8h0M213.1 103.2h0M204.6 94.6h0M207.9 93.5h0M211.6 105h0M207.4 98.1h0M209.8 109.6h0M206.3 108.9h0M205.5 99.2h0M208.9 89.7h0M207.1 92.3h0M214.9 102.9h0M212.9 110.2h0M205.1 95h0M208.7 102.4h0M211.2 91.5h0M213.6 102.9h0M207.1 100.7h0M215.8 99.4h0M210 107.2h0M208.1 95.9h0M205.8 99.1h0M208.1 93.9h0M214.9 108.3h0M212.1 98.5h0M205.8 100.6h0M212.2 98.9h0M206.6 92h0M206.7 104.3h0M210.7 107.1h0M212.7 109.3h0M209.7 106.6h0M211.3 97.1h0M205.4 92.7h0M209.7 107.1h0M210 103.1h0M212.1 108h0M211.2 112.1h0M206.5 105.2h0M215.3 102.2h0M205.5 96.8h0M213.7 96.2h0M210.4 90.5h0M209.7 113.4h0M212.9 111.3h0M204.7 96.9h0M211.3 108.6h0M214.3 108.6h0M204.8 107.3h0M206.2 103.5h0M212 110.4h0M216.2 107.4h0M215.6 104.5h0M207.9 101.7h0M204.2 101.3h0M207.1 92.1h0M214.8 102.5h0M209.1 110.1h0M203.9 91.3h0M215.2 106.3h0M213 106.7h0M204.1 104.6h0M208.1 112.1h0M215.4 107.8h0M214.4 98h0M212.9 96h0" stroke="#b0b0b0" stroke-width="0.6" stroke-linecap="square" fill="none"/>
<ellipse cx="227.5" cy="102" rx="13.12" ry="7.2" transform="rotate(-12 227.5 102)" fill="#ef8420" opacity="0.9" filter="url(#fb2)"/>
<path d="M234.9 101.1h0M239.4 99.8h0M221.9 93.6h0M220.1 100.3h0M228.2 98.8h0M240.6 97.5h0M224.9 111.5h0M229.2 93.4h0M230.1 100.4h0M232.9 102.2h0M235.8 100.4h0M226.5 110.1h0M219.2 102.9h0M234.3 104.2h0M218.1 110.5h0M218.6 103.4h0M239.8 97h0M235.1 106.5h0M239.8 100.4h0M219.7 98.9h0M219.3 105.6h0M227.5 105.2h0M240.1 97h0M234.3 101.2h0M237.4 98.9h0M224.6 99.4h0M219.5 109.8h0M221.1 98.1h0M213.3 107.2h0M219.6 106.4h0M225.9 95.5h0M236.5 104.4h0M213.4 107.5h0M219.7 107.8h0M224.1 98.5h0M225.5 104.4h0M221.7 99.3h0M240.8 98.6h0M235.8 97h0M218.3 97.8h0M220.6 97.4h0M239.5 101.2h0M221.4 108.2h0M235 107.7h0M237.7 102.9h0M234.8 97.9h0M237.1 101h0M234.6 101.8h0M238.7 94.2h0M219.7 98.9h0M223.8 101.1h0M231.5 95.7h0M221.4 104.1h0M222 101.7h0M232.1 100.7h0M230.8 94.5h0M222.2 101.4h0M218.5 100.9h0M220.4 106.5h0M230.2 104.1h0M239.1 95.8h0M228 99.7h0M227.4 101.9h0M229.6 104.2h0M227.8 101.6h0M225.1 108.4h0M239.7 105.6h0M230.7 93.4h0M230 101.1h0M240.2 102.9h0M229.1 96.9h0M231.3 107h0M222.2 103.9h0M227.9 99.5h0M218.2 99.4h0M217.6 97.6h0M228.6 101.4h0M227.9 96.3h0M242.2 97.5h0M219.9 110.8h0M232.1 106.8h0M218.4 98.3h0M227.1 99.8h0M239.2 98.7h0M227.1 103.4h0M230.7 100.8h0M233 98.2h0M231.9 104.3h0M236.1 94.8h0M215 101.3h0M226.3 103.7h0M220.1 105.5h0M230.4 97.7h0M222.5 99.5h0M240.9 96.8h0M222.1 106.6h0M229.3 105.2h0M229.6 100.6h0M226.1 99.6h0M217.6 99.1h0M224.8 107.8h0M219.1 105.2h0M223.8 106.8h0M226.6 98.6h0M224.4 106.4h0M239.3 96.1h0M229.7 103.1h0M227.1 102.2h0M220.8 95.9h0M240.8 99.3h0M226.3 104.5h0M227.6 105.5h0M213.9 104h0M219.9 106.4h0M227.3 93h0M229 98h0M216.8 103.2h0M228 102h0M235.5 95.8h0M218.3 103.9h0M231 103.9h0M224.2 93.7h0M241.4 97.6h0M231.5 99.1h0M234.6 105h0M224.6 99.7h0M237.9 101.4h0M220.8 102.3h0M224 95h0M236.7 97.6h0M221.5 103.2h0M227.6 102.7h0M213.7 111.4h0M230.7 105.2h0M238.2 97.9h0M228.4 102.8h0M236.1 99.3h0M228.7 101h0M223 104.6h0M225.5 100.4h0M225.5 109h0M228.6 96.9h0M239 98.1h0M238.8 98.6h0M212.9 106.4h0M218.4 99.8h0M232.4 108h0M227.6 93.5h0M227.6 102.5h0M242.8 94.3h0M220.7 97.4h0M230.4 109.8h0M223.8 96.3h0M228.6 105.2h0M220.4 97.4h0M227.6 102h0M216.8 100.9h0M220.8 95.6h0M237.6 105.6h0M235.7 103.7h0M230.4 106.2h0M216.3 101.7h0M228.1 93h0M235.5 101.5h0M220.3 98.1h0M238.1 98.2h0M216 108.1h0M223.5 100.2h0M234.4 104.5h0M223.4 103.2h0M220.3 108.4h0M230.6 105.5h0M235.5 105.1h0M227.4 102.1h0M230.9 101.8h0M229.4 93.1h0M233.1 109h0M236.3 104.1h0M215.7 98.2h0M226.8 99.5h0M241.5 94.1h0M217.3 103.4h0M227.8 94.1h0M224.3 111.4h0M228 101.9h0M236.5 99.5h0M214.8 100.5h0M230.4 96.3h0M226.7 109.6h0M230.5 103.9h0M233.9 93.8h0M227.2 108.6h0M220.7 107.9h0M232.2 96.9h0M222.9 99.5h0M219.4 105h0M220.1 97.3h0M229.6 97h0M228.7 100.8h0M218.3 103h0M225.8 93.9h0M226.2 93.9h0M234.9 106.5h0M226.8 98.4h0M221.5 106.5h0M225.4 100.4h0M232.6 102h0M232.3 99.2h0M232.5 106.1h0M235.6 102.9h0M229.1 100.2h0M232.7 101h0M232.3 93h0M217.7 104.7h0M243.7 96h0M215.9 103.3h0M228.5 100.1h0M229.2 99.3h0M224.2 101.1h0M231.3 103.2h0M228.5 95.4h0M221.1 99.9h0M216.5 100.3h0M213.6 100.4h0M240.7 101.8h0M221.9 101.1h0M216.7 104.9h0M219.9 100.8h0M221.6 102.6h0M229.4 97.6h0M222.6 98.2h0M227.4 102.2h0M225.9 94.9h0M220.8 106.2h0M231.4 98.4h0M233.4 99.8h0M223.7 100.3h0M240.6 103.9h0M234.9 97.9h0M224.6 111h0M228.3 107.4h0M227.7 98.4h0M216.6 103.6h0M220.6 105.4h0M238.7 99.4h0M227.2 94h0M214.7 107.2h0M240.3 94.6h0M216.1 103.1h0M234.8 110.4h0M227.6 102.7h0M238.7 98.4h0M223.2 105h0M229 98.3h0M227.4 105.6h0M228.6 101.8h0M228.6 95.7h0M221.1 95.4h0M230.7 101.6h0M233.1 103.5h0M242.5 97.9h0M219.5 106.4h0M234.7 105.1h0M218.4 108.1h0M234.4 97.9h0M234.2 97h0M220.2 96h0M223.6 105.4h0M226.5 105.2h0M226 101.4h0M234.6 99.6h0M228.9 104.6h0M236.6 102.7h0M222.1 109.6h0M229.2 105.6h0M216.4 105.2h0M221.1 110.8h0M236.1 101.1h0M234.9 108.1h0M220.3 103h0M218.8 98.4h0M240.7 100.7h0M222.3 97.8h0M237.6 98.4h0M214.1 102.8h0M227.8 97.9h0M230.1 108.8h0M223.7 94.3h0M231.2 98.7h0M223.8 106.8h0M226.3 94h0M217 100.9h0M219 101.1h0M240.8 100.1h0M233.7 107h0M226.2 103.7h0M238.3 103.8h0M221.9 106.6h0M230.9 95.2h0M235.2 105h0M226 99.2h0M224.1 105.7h0M226.6 96.5h0M228 101.3h0M225.4 105.5h0M228.9 106.6h0M233.5 104.4h0M215.3 98h0M221.3 111.5h0M215.5 103.2h0M235.9 101.3h0M218.7 108.8h0M235.9 103h0M228.9 95h0M226 97.5h0M218.3 99.8h0M226.2 95h0M228.5 96.9h0M238 95.8h0M229.6 105h0M217.4 108.8h0M218 110.1h0M236.5 106.2h0M230 103h0M226 100.2h0M240 101.3h0M218.4 102.9h0M229.2 107.7h0M229.7 108.6h0M219.2 102.7h0M226.1 102.2h0M228.9 106.1h0M214.4 100h0M220 99.8h0M230.1 92.9h0M223.3 102.4h0M228.2 97.8h0M221.2 104.6h0M225 110.9h0M226.8 103.8h0M223.7 104h0M233.2 109.1h0M221.7 100.1h0M232.1 103.9h0M207.8 101.6h0M226.9 104.9h0M236.3 103h0M236.1 107.5h0M227.2 98.7h0M221.6 96h0M238.4 97.5h0M224.2 110.7h0M236.8 102.6h0M221 97.4h0M226.8 95.2h0M222.4 107.9h0M228.1 105.5h0M236 100.9h0M229.7 100h0M229.7 97h0M228.4 107.4h0M227.3 103.4h0M218.3 97.3h0M233.6 107h0M221.5 102h0M234.5 94.2h0M227.3 101.2h0M216.3 106.6h0M215 102.5h0M227.1 94.6h0M214.4 103.6h0M224.5 111.6h0M231.9 99.5h0M215.2 105.4h0M233.4 101.9h0M234.9 96.6h0M221.3 107.2h0M231.8 97.8h0M224.3 106h0M219.2 100.1h0M227.5 96.7h0M212.7 102.1h0M215.9 107.2h0M228.7 97.7h0M217.1 102.5h0M227.1 111.2h0M224.4 97.8h0M227 104.7h0M223.9 99.1h0M225.3 102h0M239.5 99.2h0M235.7 104.4h0M221.2 95.4h0M240.7 104.7h0M235 96.2h0M216.6 99.9h0M239.3 97.3h0M223.3 104.4h0M217.8 105.7h0M213 107h0M237.6 100.2h0M229.7 109h0M234.2 97.6h0M217.1 99.4h0M239.7 91.9h0M236.6 107.2h0M237.7 95.8h0M225.5 101.3h0M226.3 98.3h0M224.5 106.7h0M220.6 95.6h0M222.1 95.9h0M226.8 95.9h0M218.6 104h0M228.5 99h0M225.3 102.1h0M233.2 97.3h0M227.5 104.9h0M217.3 106.8h0M233.5 107.9h0M223.8 104.3h0M220.4 96.5h0M222.5 108h0M227.1 102.3h0M234.3 97.3h0M238.1 101.8h0M221.9 99.7h0M230.2 105.1h0M220.6 105.9h0M215 104h0M226.9 95h0M220.5 100.9h0M246 96.6h0M231.5 104.2h0M234.2 96h0M220.7 103.8h0M233.4 109.3h0M234.6 108h0M225.8 98.9h0M231 94.7h0M234.6 101.9h0M215.1 109.3h0M232 95.1h0M230.1 98.9h0M231.9 100.8h0M219.3 109.8h0M233.3 104.3h0M226.2 102.1h0M227.4 102.9h0M221 97.6h0" stroke="#f08e30" stroke-width="0.7" stroke-linecap="square" fill="none"/>
<ellipse cx="210" cy="101.8" rx="4" ry="7.52" transform="rotate(-8 210 101.8)" fill="#5a5a5a" opacity="0.9" filter="url(#fb2)"/>
<path d="M208.4 95h0M212.9 104.2h0M211.1 106.6h0M210.4 110.1h0M211 106.9h0M209.9 99h0M208.1 105.6h0M213.4 109.7h0M212.6 110.4h0M210.4 102.3h0M205.9 102.9h0M216 105h0M211.4 100.9h0M210.3 102.4h0M205.3 101.1h0M211.9 106.2h0M212.6 102.5h0M214.9 105.7h0M213.4 101.1h0M209.8 99.3h0M210.8 96.3h0M213 109.1h0M209.1 107.6h0M211.8 104.2h0M210.7 106.6h0M214.1 100.7h0M214.5 100.9h0M214 104.7h0M210 102.1h0M213 98.4h0M208.9 98.4h0M205.6 104h0M207 94.4h0M207.7 93.2h0M209.7 105.2h0M211.4 98.9h0M213.9 105.3h0M209 103.1h0M211 97.5h0M208.4 106.4h0M211.8 99.5h0M207.3 98.6h0M211.1 107.9h0M211.2 94.3h0M206.6 96h0M213.9 99.5h0M204.9 96.7h0M210.3 101h0M209.9 105.5h0M208.3 107.3h0M208.7 100.5h0M211.4 100.1h0M210.9 105.7h0M210.9 96.3h0M209.4 101.3h0M207.6 100.6h0M208.8 106.5h0M210.1 98.9h0M210.6 99.3h0M210.7 110.1h0M212 95h0M207.3 95.1h0M208.8 108.8h0M205.4 100.5h0M206.7 104.6h0M209.9 94h0M207 107.3h0M214.4 103h0M205.7 104.2h0M209.9 101.3h0M214.5 107.4h0M213 107.7h0M208.5 96h0M209.5 101.3h0M215 101.5h0M208.4 99.5h0M208.2 108.1h0M211.2 96h0M206.7 99.6h0M211.6 106.1h0M208.5 93.1h0M207.4 96.1h0M209.5 93.7h0M208.6 105.7h0M211.2 102.6h0M209.6 96.8h0M211.3 101.7h0M214.4 105.5h0M210.1 98.6h0M209.6 95.9h0M208.2 102.1h0M207 103.8h0M206.3 105.8h0M211.2 93.6h0M212.7 101.9h0M213.5 107.7h0M211.2 105.7h0M210.4 104.7h0M210.7 108.2h0M208.4 96.4h0M213.9 107.4h0M210.8 108.2h0M209 105.2h0M205.9 104.8h0M207.7 100.8h0M206.3 104.7h0M210.3 98.8h0M209.8 105.9h0M213 104.9h0M214.4 107.4h0M210.9 108.6h0M209.6 97.8h0M210.2 109.4h0M207.1 99.7h0M213 105h0M210.4 99.8h0M205.9 100.1h0M210.2 103.4h0M213.9 106.6h0M211.9 98.5h0M209.1 100.4h0M205.9 97.9h0M211.8 105.1h0M212.3 99.1h0M207.5 105.2h0M208.4 102.3h0M214.7 102.2h0M211 95.8h0M211.9 109.1h0M210.1 95.7h0M208.2 97.6h0M211.9 98.5h0M211.4 110.6h0M213.6 101.3h0M209.1 100.2h0M212.8 99h0M209.1 99.8h0M208.8 106.4h0M212.1 103.5h0M208.8 93.5h0M211.6 103.3h0M212.3 101.2h0M212.6 104.4h0M209.1 106.5h0M214.1 106.5h0M206.9 103.5h0M208.9 98.9h0M209 97.5h0M210 101.8h0M210.7 99.6h0M204.2 98.8h0M213.9 104.9h0M209.7 101.3h0M205.7 103.9h0M211.1 109.4h0M213.4 100.6h0M211.1 99h0M206 96.3h0M211.8 104.2h0M205.7 99.7h0M212.1 101.9h0M207.2 107.9h0M207.3 102.5h0M208 97.1h0M214.4 107.8h0M210.3 102.5h0M207 98.9h0M209.3 99h0M205.2 97.6h0M210.8 105h0M210.2 97.9h0M212.7 98.8h0M211.2 111.1h0M206.8 102.3h0M213.6 105h0M205.2 100.3h0M206.1 97h0M210.5 95.4h0M211.9 96.4h0M214.8 101.9h0M208.2 102h0M207.2 100.4h0M214.7 111.1h0M209.1 92.5h0M208.6 95.3h0M211 96.7h0M207.3 99.9h0M207 97.8h0M207.5 103h0M210.7 102.8h0M209.5 101.6h0M211.4 103.8h0M211.7 101.9h0M210.8 94.5h0M205.7 101.9h0M209.8 94.9h0M211.6 107.8h0M207.2 102.4h0M213.2 104.3h0M212.5 103.5h0M210.6 110.8h0M210.6 102.2h0M212.9 102.3h0M210.8 109.1h0M212.2 106.9h0M211.1 102.9h0M209.2 104h0M210.3 110.8h0M210 102.5h0M211.1 99.4h0M208.4 104h0M207.9 101.3h0M208.6 96.1h0M210.6 99.6h0M207 93.6h0M209 95.2h0M208.4 102.6h0M208.8 100.2h0M207.7 103.4h0M208.9 105.5h0" stroke="#5a5a5a" stroke-width="0.75" stroke-linecap="square" fill="none"/>
</g>
<rect x="199.2" y="78.4" width="50.5" height="50.4" fill="none" stroke="#9a9a9a" stroke-width="0.7" />
<line x1="199.2" y1="78.4" x2="199.2" y2="128.8" stroke="#333" stroke-width="0.9" />
<line x1="199.2" y1="128.8" x2="249.7" y2="128.8" stroke="#333" stroke-width="0.9" />
<line x1="197.8" y1="126.8" x2="199.2" y2="126.8" stroke="#444" stroke-width="0.5" />
<line x1="198.5" y1="125.1" x2="199.2" y2="125.1" stroke="#444" stroke-width="0.5" />
<line x1="198.5" y1="123.4" x2="199.2" y2="123.4" stroke="#444" stroke-width="0.5" />
<line x1="198.5" y1="121.7" x2="199.2" y2="121.7" stroke="#444" stroke-width="0.5" />
<line x1="198.5" y1="120" x2="199.2" y2="120" stroke="#444" stroke-width="0.5" />
<line x1="198.5" y1="118.3" x2="199.2" y2="118.3" stroke="#444" stroke-width="0.5" />
<line x1="197.8" y1="116.6" x2="199.2" y2="116.6" stroke="#444" stroke-width="0.5" />
<line x1="198.5" y1="114.9" x2="199.2" y2="114.9" stroke="#444" stroke-width="0.5" />
<line x1="198.5" y1="113.2" x2="199.2" y2="113.2" stroke="#444" stroke-width="0.5" />
<line x1="198.5" y1="111.5" x2="199.2" y2="111.5" stroke="#444" stroke-width="0.5" />
<line x1="198.5" y1="109.8" x2="199.2" y2="109.8" stroke="#444" stroke-width="0.5" />
<line x1="198.5" y1="108.1" x2="199.2" y2="108.1" stroke="#444" stroke-width="0.5" />
<line x1="197.8" y1="106.4" x2="199.2" y2="106.4" stroke="#444" stroke-width="0.5" />
<line x1="198.5" y1="104.7" x2="199.2" y2="104.7" stroke="#444" stroke-width="0.5" />
<line x1="198.5" y1="103" x2="199.2" y2="103" stroke="#444" stroke-width="0.5" />
<line x1="198.5" y1="101.3" x2="199.2" y2="101.3" stroke="#444" stroke-width="0.5" />
<line x1="198.5" y1="99.6" x2="199.2" y2="99.6" stroke="#444" stroke-width="0.5" />
<line x1="198.5" y1="97.9" x2="199.2" y2="97.9" stroke="#444" stroke-width="0.5" />
<line x1="197.8" y1="96.2" x2="199.2" y2="96.2" stroke="#444" stroke-width="0.5" />
<line x1="198.5" y1="94.5" x2="199.2" y2="94.5" stroke="#444" stroke-width="0.5" />
<line x1="198.5" y1="92.8" x2="199.2" y2="92.8" stroke="#444" stroke-width="0.5" />
<line x1="198.5" y1="91.1" x2="199.2" y2="91.1" stroke="#444" stroke-width="0.5" />
<line x1="198.5" y1="89.4" x2="199.2" y2="89.4" stroke="#444" stroke-width="0.5" />
<line x1="198.5" y1="87.7" x2="199.2" y2="87.7" stroke="#444" stroke-width="0.5" />
<line x1="197.8" y1="86" x2="199.2" y2="86" stroke="#444" stroke-width="0.5" />
<line x1="198.5" y1="84.3" x2="199.2" y2="84.3" stroke="#444" stroke-width="0.5" />
<line x1="198.5" y1="82.6" x2="199.2" y2="82.6" stroke="#444" stroke-width="0.5" />
<line x1="198.5" y1="80.9" x2="199.2" y2="80.9" stroke="#444" stroke-width="0.5" />
<line x1="200.7" y1="128.8" x2="200.7" y2="130.2" stroke="#444" stroke-width="0.5" />
<line x1="202.4" y1="128.8" x2="202.4" y2="129.5" stroke="#444" stroke-width="0.5" />
<line x1="204.1" y1="128.8" x2="204.1" y2="129.5" stroke="#444" stroke-width="0.5" />
<line x1="205.8" y1="128.8" x2="205.8" y2="129.5" stroke="#444" stroke-width="0.5" />
<line x1="207.5" y1="128.8" x2="207.5" y2="129.5" stroke="#444" stroke-width="0.5" />
<line x1="209.2" y1="128.8" x2="209.2" y2="129.5" stroke="#444" stroke-width="0.5" />
<line x1="210.9" y1="128.8" x2="210.9" y2="130.2" stroke="#444" stroke-width="0.5" />
<line x1="212.6" y1="128.8" x2="212.6" y2="129.5" stroke="#444" stroke-width="0.5" />
<line x1="214.3" y1="128.8" x2="214.3" y2="129.5" stroke="#444" stroke-width="0.5" />
<line x1="216" y1="128.8" x2="216" y2="129.5" stroke="#444" stroke-width="0.5" />
<line x1="217.7" y1="128.8" x2="217.7" y2="129.5" stroke="#444" stroke-width="0.5" />
<line x1="219.4" y1="128.8" x2="219.4" y2="129.5" stroke="#444" stroke-width="0.5" />
<line x1="221.1" y1="128.8" x2="221.1" y2="130.2" stroke="#444" stroke-width="0.5" />
<line x1="222.8" y1="128.8" x2="222.8" y2="129.5" stroke="#444" stroke-width="0.5" />
<line x1="224.5" y1="128.8" x2="224.5" y2="129.5" stroke="#444" stroke-width="0.5" />
<line x1="226.2" y1="128.8" x2="226.2" y2="129.5" stroke="#444" stroke-width="0.5" />
<line x1="227.9" y1="128.8" x2="227.9" y2="129.5" stroke="#444" stroke-width="0.5" />
<line x1="229.6" y1="128.8" x2="229.6" y2="129.5" stroke="#444" stroke-width="0.5" />
<line x1="231.3" y1="128.8" x2="231.3" y2="130.2" stroke="#444" stroke-width="0.5" />
<line x1="233" y1="128.8" x2="233" y2="129.5" stroke="#444" stroke-width="0.5" />
<line x1="234.7" y1="128.8" x2="234.7" y2="129.5" stroke="#444" stroke-width="0.5" />
<line x1="236.4" y1="128.8" x2="236.4" y2="129.5" stroke="#444" stroke-width="0.5" />
<line x1="238.1" y1="128.8" x2="238.1" y2="129.5" stroke="#444" stroke-width="0.5" />
<line x1="239.8" y1="128.8" x2="239.8" y2="129.5" stroke="#444" stroke-width="0.5" />
<line x1="241.5" y1="128.8" x2="241.5" y2="130.2" stroke="#444" stroke-width="0.5" />
<line x1="243.2" y1="128.8" x2="243.2" y2="129.5" stroke="#444" stroke-width="0.5" />
<line x1="244.9" y1="128.8" x2="244.9" y2="129.5" stroke="#444" stroke-width="0.5" />
<line x1="246.6" y1="128.8" x2="246.6" y2="129.5" stroke="#444" stroke-width="0.5" />
<line x1="248.3" y1="128.8" x2="248.3" y2="129.5" stroke="#444" stroke-width="0.5" />
<text x="229.8" y="111.7" font-size="6.2" fill="#333" color="#333" textLength="18" lengthAdjust="spacingAndGlyphs" >89.3%</text>
<text x="200.9" y="125.4" font-size="6.2" fill="#222" color="#222" textLength="24.2" lengthAdjust="spacingAndGlyphs" >Donor#B</text>
<defs><filter id="fb3" x="-50%" y="-50%" width="200%" height="200%"><feGaussianBlur stdDeviation="1.5"/></filter><clipPath id="fc3"><rect x="199.2" y="132.3" width="50.5" height="51.5"/></clipPath></defs>
<g clip-path="url(#fc3)">
<path d="M234 157.1h0M221.3 146.6h0M235.1 144.7h0M242.2 147.8h0M219.9 153.1h0M221.1 144.4h0M229.1 139.4h0M221.9 147.5h0M219.3 153.5h0M226.8 140.9h0M233.9 142.8h0M235.1 146.8h0M241.4 146.6h0M229.6 157.3h0M226 157.3h0M241.4 143.2h0M239.8 140.2h0M240.6 156.6h0M240.6 143.8h0M236.8 158.2h0M231.4 152.4h0M236.3 148.8h0M227.1 152.8h0M231.8 138h0M244.7 150h0M241.7 141h0M242.1 147.9h0M238.6 149.5h0M225.2 147.5h0M227.6 160h0M225.2 155.9h0M223.4 144.9h0M219.8 145h0M220.7 155.5h0M228.7 160.2h0M230.2 149.7h0M229.8 149.4h0M228.9 148.4h0M219.8 153.7h0M226.7 141.8h0M223.5 142.1h0M220.8 153.9h0M226.9 155.1h0M224.3 147.9h0M231.9 148.1h0M230 144.3h0M233.5 144.7h0M219.4 155.8h0M226.2 159.1h0M235.1 145.8h0M222 143.5h0M233.2 153.1h0M238.3 157.4h0M235.9 154.1h0M221.9 144.2h0M238.2 152.8h0M231.7 155.9h0M223.8 154.5h0M232.5 150.3h0M241.7 140.9h0M245.3 144.3h0M229.8 140.6h0M223.5 150.6h0M232.8 152.3h0M229.7 162.3h0M225.1 141.5h0M242.6 142h0M236.6 154h0M221.9 150.5h0M224.3 147.2h0M237.7 143.2h0M228.4 154.1h0M233.7 145.5h0M243.1 143.4h0M244 148h0M239.7 150.1h0M221.8 150.4h0M231.8 149.3h0M235 151.2h0M234.1 147h0M229.3 155.6h0M223.6 144.8h0M236.7 155.6h0M228.5 143.7h0M224.5 156.9h0M222.9 157.8h0M223.8 153.9h0M227.8 144h0M224.7 152.3h0M230 147.5h0M219.7 156.3h0M222.8 158.4h0M232.3 158.8h0M222.8 143h0M224 143.4h0M242.5 153h0M231.9 147.5h0M237.3 144.9h0M243.1 154.5h0M238 139.9h0M232.4 147.8h0M215.4 151.9h0M235.1 148.2h0M218.4 148.4h0M235.9 153.8h0M230.9 143.4h0M225.2 154.7h0M241.8 151.7h0M221.3 156.4h0M225.5 142.4h0M221.1 150.9h0M237.2 145.8h0M240.7 144.5h0M229.8 145.7h0M236.8 156.5h0M234.7 157.9h0M229.6 158.6h0M237.8 142.4h0M232.5 151.2h0M227.6 153.5h0M225.8 162h0M220.2 152.9h0M237.4 140.6h0M219.1 153.1h0M222.1 156.8h0M224.8 152.1h0M227.8 142.1h0M235.7 145h0M232.2 154.3h0M239.6 140.7h0M236.7 144.5h0M230.4 146.1h0M230.5 156.1h0M231.1 149.1h0M222.5 154.3h0M218 147h0M226.6 149.7h0M228.7 147.3h0M235.5 147.4h0M223.5 157.8h0M229.7 158.4h0M233.7 144.4h0M243.6 145.6h0M240.8 153h0M227.8 142h0M238.2 156.3h0M239.5 157.4h0M244.9 155.4h0M228.3 142.5h0M224.6 145.4h0M234 151.9h0M230.8 142.3h0M227.5 154.7h0M233.7 147.9h0M233.6 158.7h0M228 156.3h0M232 143.6h0M238.7 152.2h0M232.7 140.9h0M236.6 155.2h0" stroke="#f6b27a" stroke-width="0.6" stroke-linecap="square" fill="none"/>
<path d="M212.2 139.9h0M216.5 150.8h0M205.9 148.6h0M215.5 157.3h0M215.9 140.2h0M205.7 147.5h0M217.9 144.3h0M213.7 141.8h0M211.8 147.2h0M207.3 143.5h0M209.1 149.7h0M217.8 147.1h0M207.4 151.8h0M213.5 144.8h0M210.3 146.7h0M213.1 149.9h0M215.2 144.1h0M210 145h0M204.3 144.9h0M209.9 142.7h0M217.3 141.9h0M210 141.5h0M215.7 148.3h0M205.6 150.1h0M207.7 152.8h0M206.1 151.6h0M217.8 153.8h0M210.3 152.6h0M207.9 146.3h0M211.4 144.2h0M214.5 150.9h0M210.1 150.7h0M216.6 151.9h0M208 151h0M217.3 147.6h0M220 146.3h0M217.6 149.3h0M207.4 145.2h0M209.8 143.4h0M205.4 152h0M213.6 152h0M206.5 144.5h0M217.4 144.2h0M215.4 148.5h0M205.4 142.4h0M216.9 144.7h0M217.5 140.4h0M203.5 144.2h0M212.7 144.7h0M211 154.9h0M217.4 153h0M212.9 141.1h0M210.3 153h0M210.9 141.4h0M217.5 152.8h0M209 142.9h0M218.8 152.9h0M209.6 139.9h0M213.3 140.7h0M214.1 142.2h0M209.7 142.9h0M217.2 148.4h0M218.2 149.9h0M208.3 144.9h0M206.1 143.5h0M215.2 145.5h0M207.4 153.4h0M211.1 141h0M213.7 149.4h0M213.2 148.1h0M217.9 155.6h0M216 154.8h0M205.7 143.3h0M210.6 154.3h0M219.2 150.7h0M212.1 143.5h0M205.5 152h0M210 148.6h0M209.5 142.2h0M208.3 146.2h0" stroke="#b0b0b0" stroke-width="0.6" stroke-linecap="square" fill="none"/>
<ellipse cx="231.8" cy="149.8" rx="11.07" ry="6.88" transform="rotate(-10 231.8 149.8)" fill="#f6a452" opacity="0.9" filter="url(#fb3)"/>
<path d="M238 148.6h0M236 150.6h0M240.9 145.3h0M241.1 147.6h0M224.6 150h0M241.5 143.3h0M232.1 145.2h0M236.4 147.2h0M233.1 151.1h0M230.4 155.4h0M242.6 149.7h0M226.3 152.5h0M231 145.9h0M230 150.9h0M231.5 143.1h0M243.6 146.7h0M235.5 152.4h0M223.1 150.4h0M234.6 146.4h0M239.6 143.5h0M233.7 157.3h0M223.2 150.2h0M236.1 149.9h0M219.3 153.8h0M233 149.5h0M239.2 148.9h0M241.3 150.1h0M233.3 157h0M231.9 150.8h0M224 146.4h0M233.4 145.6h0M232.9 144.3h0M226.4 149.6h0M241.6 148.8h0M237.8 145.9h0M241.6 144.8h0M225.1 153.8h0M237 155h0M224.8 149.7h0M221.2 153.8h0M235.2 148.6h0M224.6 150.4h0M236.5 141.6h0M240.8 149.3h0M226.4 151h0M233.9 148.5h0M226.7 154.7h0M241 146.6h0M235.1 148h0M234 146h0M243.5 145.1h0M227.6 153h0M234 149.2h0M232.7 151h0M230 142.4h0M231.9 149.6h0M233.7 149.1h0M226.6 151.1h0M236.6 149.9h0M240.5 154.7h0M241.8 147.7h0M233 150.5h0M234.1 151.8h0M232.8 148.9h0M224.1 150.1h0M237.5 148.5h0M236.8 151.9h0M235.7 150.4h0M244.9 147.3h0M225.1 157.7h0M229.2 146.1h0M230.4 142.7h0M223.6 152.5h0M220.1 150.2h0M220.5 147.1h0M238.7 156.3h0M234.9 152.3h0M244.7 150.3h0M234.1 147.6h0M234 141.1h0M218.6 150.8h0M228.7 151.2h0M229 155.2h0M229.8 154h0M244.2 146.6h0M234.1 146.3h0M231.8 151.8h0M230.4 146h0M230.6 158.4h0M223.5 152h0M240.2 147.8h0M230.1 149.2h0M238.8 140.8h0M223 157.1h0M234.7 154.9h0M221.4 154.9h0M228.6 153.2h0M226.9 153.3h0M238 144.1h0M225.9 155.5h0M229.7 154.1h0M238.9 145.9h0M236.2 142.2h0M219.9 155h0M226.7 154.3h0M231.3 152.5h0M229.5 149.2h0M243.5 148.1h0M231.5 154.3h0M223.5 153.9h0M229.5 150.9h0M230.7 148.6h0M230.6 141.3h0M224.7 151.7h0M234 145.8h0M220.5 147.8h0M230.1 151.1h0M244.5 148.9h0M229.6 149.5h0M220.4 153.3h0M230.4 158.5h0M227.4 150.1h0M234.2 148.1h0M226.6 147.8h0M241.2 143.9h0M232.5 150.8h0M230.6 152.6h0M235.5 156.6h0M241.9 153.6h0M233.5 152.6h0M223.8 156.4h0M238.6 150.2h0M234.5 152.3h0M228.8 146.2h0M223.8 153.3h0M229.9 147.3h0M228.5 148.7h0M225.6 154.4h0M224.4 146.6h0M236.2 144.9h0M231.7 157.9h0M235.1 156.7h0M225.5 158.1h0M237.4 155h0M229.4 143.2h0M235.8 144.9h0M236.1 145.3h0M221.1 147.9h0M241.6 152.1h0M229.1 157.9h0M218.7 149.9h0M230.9 145.4h0M230.5 145.9h0M227 149.3h0M223.9 149.1h0M228.4 156.7h0M228.7 152.1h0M228.7 149.4h0M235.2 154.4h0M239.3 151.8h0M236.8 144.9h0M237 150.3h0M234.4 148.6h0M224.6 151.8h0M235.7 148.5h0M227.5 150.4h0M242.9 147.2h0M233.8 148.5h0M231.3 146.8h0M237.7 148.1h0M237.9 154.4h0M225.1 150.7h0M230.6 144.6h0M222.1 154.8h0M222.7 149.8h0M235.6 149.9h0M235.6 156.1h0M242.7 145.6h0M230.9 150.7h0M230 141.9h0M240.2 155.6h0M219.2 152.8h0M226.3 145.4h0M238.9 153.3h0M232.2 150h0M226.4 153.9h0M227.4 148.4h0M237.3 148.9h0M232.5 150.4h0M225.6 160.6h0M223.9 156h0M228.2 147h0M221.3 153.9h0M233.7 154.7h0M223.6 148.7h0M231.6 150.5h0M235.7 154.7h0M231.5 143.8h0M230.1 144.6h0M231.3 151.1h0M229.2 150.3h0M223 148.3h0M242.2 154.2h0M222.7 159h0M226.9 151.1h0M231.3 150.1h0M242.3 148.2h0M233 149h0M230 155h0M231 151.9h0M247.5 153h0M232.9 151h0M220.7 150.4h0M230 149h0M218.5 151.5h0M224.9 143.6h0M228.7 144.7h0M222 153h0M230.8 146.6h0M232.3 154h0M229.8 141.7h0M234.5 153.6h0M223.1 148.2h0M233.2 151.1h0M226.7 150.7h0M225.8 149.2h0M242.5 149.7h0M225.7 156.1h0M233.2 152.6h0M223.5 147.3h0M241.3 152.5h0M226.5 154.5h0M234.7 153.6h0M227.7 142.5h0M239.8 143.7h0M235 148.9h0M234.1 148.2h0M236.9 147.7h0M237.9 145.8h0M234.6 145.1h0M220.5 154.7h0M244.7 148.5h0M222.9 157h0M243 151.9h0M235.5 157.4h0M236.4 146.6h0M234.6 154.9h0M225.7 154.1h0M237.2 141.8h0M232.5 148.4h0M233.2 151.8h0M241.4 143.5h0M239.7 152.6h0M231.9 153.4h0M237 156.7h0M230.1 148.5h0M227.1 153.1h0M226.4 148.6h0M243.9 148.9h0M235.7 153h0M224.8 149.8h0M230.6 155.1h0M222.1 154.3h0M234.9 151h0M225.2 151.5h0M235 145.6h0M231.5 150.1h0M223.9 151.9h0M221.6 152.8h0M234.7 149.1h0M238.1 155.3h0M239.9 151.1h0M237.5 142.2h0M240.2 150.2h0M221.9 153.7h0M241.9 148h0M229.5 149.7h0M233.9 150.3h0M230.9 156.9h0M231.4 149h0M235.8 148h0M230.4 143.8h0M231.5 149.4h0M218.8 150.2h0M228.9 149.2h0M224.2 153h0M239.7 153.7h0M234.8 146.5h0M239.3 155.5h0M225.9 154.4h0M229.9 153.8h0M232.2 144.9h0M229.6 144.2h0M238.7 147.3h0M237.4 151.3h0M224.4 157.4h0M222.5 153.1h0M225.2 147.4h0M220.2 152.3h0M232.4 146h0M239.4 150.8h0M230.3 147.3h0M238.5 152.9h0M235.8 149.1h0M239 147.2h0M230.4 156.4h0M231.7 149.7h0M230.3 150.1h0M230 153.5h0M224.3 148.4h0M224.2 150.5h0M226.9 154.9h0M233.1 149.6h0M242.4 152.3h0M233.7 156.3h0M242.3 150.7h0M235.2 149.2h0M233.2 157.4h0M228.5 149.3h0M231.1 148.8h0M237.5 141.8h0M221.2 145.9h0M231.1 151.8h0M232.3 148.1h0M223 156.2h0M225.5 143.1h0M227.4 154.1h0M238.8 143.7h0M229 146.3h0M230.4 142.5h0M226.8 155.6h0M231.8 149.8h0M227.6 150.8h0M219.3 153.4h0M220.8 147.6h0M238.8 155.1h0M242.7 147.5h0M235.5 155.4h0M231.2 144h0M228.7 153.3h0M227.6 146.8h0M223.3 153.8h0M230.3 158.5h0M231.5 146.3h0M229.1 142.7h0M235.4 155.9h0M226.1 155.1h0M224.4 145.4h0M239.3 152.3h0M225.9 145.9h0M243.1 149.3h0M226.4 148.8h0M238.5 152.6h0M241.6 144.9h0M231.2 145.4h0M239.2 155.1h0M231.7 148.3h0M240.8 148.7h0M238.9 150.3h0M227.1 147.9h0M225.3 157.3h0M245.1 151.8h0M231.9 147.9h0M236.8 144.2h0M231.1 142.3h0M227.1 147.8h0M245.6 146.9h0M234.8 156.6h0M238.2 155h0M239.3 147.8h0M233.2 146.9h0M227.2 152.6h0M226.2 149.4h0M235.5 154.4h0M237.3 145.3h0M233.7 155.9h0M233.1 148.8h0M222.5 146.2h0M235.5 150.2h0M234.7 149.6h0M239.5 143h0M219.9 149.2h0M224.4 149.3h0M233 156.4h0M221.7 148.3h0M235 157.2h0M231.8 151.8h0M239.7 143.6h0M229.3 149.1h0M220.1 156.5h0M244.9 149.1h0M235.5 142.3h0M221.9 152.8h0M232.9 148h0M230.1 149.4h0M231.2 151.1h0M237.3 149.4h0M241.3 147.7h0M235.4 143h0M232.2 152.1h0M236 155.8h0M223.7 148.5h0M235.1 152h0M235.2 155.6h0M222.8 156.8h0M239.4 146.5h0M229.6 147.6h0M224.6 148.6h0M240.6 144.2h0M239.2 153.9h0M232 149.7h0M238.3 148h0M225.5 148.4h0M219.1 148.8h0M232.6 146h0M222.5 147.1h0M243.9 151.8h0M232.2 155.2h0M236.3 143.2h0M233.5 151.1h0M221.4 151.8h0M230 144.1h0M232.1 148.4h0M232.5 150.6h0M222.3 150.7h0M241.4 145h0M244.8 147.8h0M235.2 150.8h0M235.4 153.1h0M226.8 155.9h0M233.3 143.5h0M229.3 156.2h0M224.4 148.3h0M235.9 155.7h0M236.9 149.7h0M242.5 151.7h0M243.7 151.2h0M229.1 158.1h0M237 152.4h0M231.6 148.1h0M234.5 146.8h0M223.9 153.1h0M237.5 147.5h0M234.6 146.8h0M234.3 146h0M234 145.5h0M242.3 152.7h0M230 152.3h0M233.8 148h0M225.2 147.1h0" stroke="#f5a85a" stroke-width="0.7" stroke-linecap="square" fill="none"/>
<ellipse cx="212" cy="147.6" rx="5.04" ry="5.6" transform="rotate(-20 212 147.6)" fill="#5a5a5a" opacity="0.9" filter="url(#fb3)"/>
<path d="M211 149.4h0M214.2 143.8h0M213.2 145.9h0M206.8 144.8h0M218 150.1h0M210.7 154.2h0M211.6 146.5h0M211.9 147.8h0M212.5 147h0M213.6 145h0M211.3 143.7h0M213.6 141.8h0M215.3 151.8h0M208.2 149.5h0M215.9 152.8h0M218 149.9h0M209.5 145h0M212.4 144.9h0M212.3 154h0M210.7 148.8h0M210.6 151.7h0M212 150.7h0M215.4 148.3h0M209.5 147.2h0M213.8 148.3h0M212.8 144.9h0M211.9 146.2h0M216.9 148.9h0M212.9 143.8h0M207 145h0M210.4 151.4h0M210 145.9h0M211.4 150h0M215.3 153.1h0M207.4 151.8h0M211.3 145.1h0M209.7 148.4h0M213.4 149.8h0M208.5 146.3h0M206 144.9h0M209.5 149.3h0M210.8 143.9h0M209.2 150.3h0M213.8 153.1h0M212.6 153.6h0M215 148.3h0M215.5 142.4h0M214 149.1h0M209.9 152.9h0M208.9 151.3h0M209.7 151.6h0M207.7 151h0M210.2 148.2h0M212.2 144.3h0M212.7 152h0M211.3 150.6h0M206.9 149.3h0M212.1 154.4h0M216.5 150.2h0M217.5 150h0M211.3 142.6h0M207.1 147.4h0M213.7 141.8h0M214.5 151.4h0M210.5 153.5h0M209.1 144.2h0M216.8 153.8h0M209.6 146.3h0M208.4 146.4h0M217.7 149.5h0M208.3 151.2h0M210 149.4h0M214.4 147.3h0M213.1 148.1h0M210.4 151.6h0M210.4 144.9h0M217.3 145.7h0M209.4 146.2h0M210.2 151.9h0M212.7 141.9h0M209.9 141.2h0M216.2 152.7h0M216.9 150.4h0M213.6 153.3h0M211.4 143.3h0M216.4 149.9h0M212.1 148.5h0M216.8 145.7h0M211.4 146h0M216.4 144h0M212.3 142.2h0M214.4 144.4h0M214.5 147h0M212.6 150.5h0M207.8 148.6h0M215.2 148h0M207.7 145.1h0M217.5 145.7h0M208.9 145.9h0M212.2 150.4h0M210.1 144h0M210.8 152h0M206.4 146h0M211.8 144.6h0M215.1 144.7h0M210.1 141.6h0M207.3 149h0M214 146.9h0M213.2 142.7h0M214.3 152.7h0M213.4 144.4h0M212 144.1h0M210.8 150h0M211.7 146.8h0M215.1 152.3h0M207.8 146.6h0M213 143.9h0M209.3 145.2h0M216.1 144.3h0M207.8 149.3h0M216.2 148.2h0M218.1 149.6h0M216.9 145.8h0M215.4 153h0M211.8 142.8h0M211 141.6h0M212.8 153.6h0M211.8 147.6h0M209 145.4h0M207.7 144.7h0M207.1 148.5h0M213.4 145.4h0M213.1 147h0M210.6 144.7h0M212.7 140.3h0M211.6 142.2h0M212.2 142.7h0M210.7 147.7h0M214.1 145.4h0M213.9 142.8h0M208.4 149.8h0M215.4 150.4h0M217.3 148.4h0M216.9 146.8h0M210.2 153.2h0M211.4 153.6h0M207.5 148.7h0M211.5 146.9h0M216.4 144h0M214.3 148.9h0M216.3 152.3h0M208.6 143.5h0M207.6 148.6h0M207.5 148.2h0M212.3 149.6h0M208.2 146.4h0M214.5 151.1h0M214.4 150.8h0M209.9 152.8h0M213.8 146.4h0M212.9 146.9h0M215.2 145.3h0M217.7 149.5h0M207.8 142.7h0M212 149.7h0M214.7 149.6h0M214.9 142.5h0M211.1 151.4h0M211.6 144.6h0M206.4 147.6h0M215.2 146.5h0M215.8 151.4h0M210.8 147h0M208.8 146.8h0M212.6 144.9h0M210.5 143h0M206.8 147h0M213.2 152.6h0M207.2 151h0M207.7 147.6h0M216.1 152.2h0M208.2 150.7h0M214 146.6h0M207.6 150.2h0M213.3 150.1h0M213.2 150.3h0M208.9 148h0M216.2 143.2h0M208.3 143.5h0M210.9 149.4h0M209.5 145.5h0M217.4 148.2h0M213.2 146.9h0M211.7 145.9h0M213.7 149.6h0M213 143.1h0M213.4 146.7h0M214.4 143.4h0M214.7 150.4h0M213.5 152.7h0M212.6 149.6h0M209.2 143.2h0M214.7 142.9h0M210.1 142.7h0M214.5 149.9h0M211 144.7h0M216.4 148.3h0M209.9 139.4h0M216.8 152.3h0M213.9 151h0M209.9 141.1h0M210.4 153h0M211.6 151.3h0M211.9 152.2h0M211.6 143.5h0M208.3 147.5h0M214.1 148.4h0M213 143h0M215.9 143.6h0M214.2 151.6h0" stroke="#5a5a5a" stroke-width="0.75" stroke-linecap="square" fill="none"/>
</g>
<rect x="199.2" y="132.3" width="50.5" height="51.5" fill="none" stroke="#9a9a9a" stroke-width="0.7" />
<line x1="199.2" y1="132.3" x2="199.2" y2="183.8" stroke="#333" stroke-width="0.9" />
<line x1="199.2" y1="183.8" x2="249.7" y2="183.8" stroke="#333" stroke-width="0.9" />
<line x1="197.8" y1="181.8" x2="199.2" y2="181.8" stroke="#444" stroke-width="0.5" />
<line x1="198.5" y1="180.1" x2="199.2" y2="180.1" stroke="#444" stroke-width="0.5" />
<line x1="198.5" y1="178.4" x2="199.2" y2="178.4" stroke="#444" stroke-width="0.5" />
<line x1="198.5" y1="176.7" x2="199.2" y2="176.7" stroke="#444" stroke-width="0.5" />
<line x1="198.5" y1="175" x2="199.2" y2="175" stroke="#444" stroke-width="0.5" />
<line x1="198.5" y1="173.3" x2="199.2" y2="173.3" stroke="#444" stroke-width="0.5" />
<line x1="197.8" y1="171.6" x2="199.2" y2="171.6" stroke="#444" stroke-width="0.5" />
<line x1="198.5" y1="169.9" x2="199.2" y2="169.9" stroke="#444" stroke-width="0.5" />
<line x1="198.5" y1="168.2" x2="199.2" y2="168.2" stroke="#444" stroke-width="0.5" />
<line x1="198.5" y1="166.5" x2="199.2" y2="166.5" stroke="#444" stroke-width="0.5" />
<line x1="198.5" y1="164.8" x2="199.2" y2="164.8" stroke="#444" stroke-width="0.5" />
<line x1="198.5" y1="163.1" x2="199.2" y2="163.1" stroke="#444" stroke-width="0.5" />
<line x1="197.8" y1="161.4" x2="199.2" y2="161.4" stroke="#444" stroke-width="0.5" />
<line x1="198.5" y1="159.7" x2="199.2" y2="159.7" stroke="#444" stroke-width="0.5" />
<line x1="198.5" y1="158" x2="199.2" y2="158" stroke="#444" stroke-width="0.5" />
<line x1="198.5" y1="156.3" x2="199.2" y2="156.3" stroke="#444" stroke-width="0.5" />
<line x1="198.5" y1="154.6" x2="199.2" y2="154.6" stroke="#444" stroke-width="0.5" />
<line x1="198.5" y1="152.9" x2="199.2" y2="152.9" stroke="#444" stroke-width="0.5" />
<line x1="197.8" y1="151.2" x2="199.2" y2="151.2" stroke="#444" stroke-width="0.5" />
<line x1="198.5" y1="149.5" x2="199.2" y2="149.5" stroke="#444" stroke-width="0.5" />
<line x1="198.5" y1="147.8" x2="199.2" y2="147.8" stroke="#444" stroke-width="0.5" />
<line x1="198.5" y1="146.1" x2="199.2" y2="146.1" stroke="#444" stroke-width="0.5" />
<line x1="198.5" y1="144.4" x2="199.2" y2="144.4" stroke="#444" stroke-width="0.5" />
<line x1="198.5" y1="142.7" x2="199.2" y2="142.7" stroke="#444" stroke-width="0.5" />
<line x1="197.8" y1="141" x2="199.2" y2="141" stroke="#444" stroke-width="0.5" />
<line x1="198.5" y1="139.3" x2="199.2" y2="139.3" stroke="#444" stroke-width="0.5" />
<line x1="198.5" y1="137.6" x2="199.2" y2="137.6" stroke="#444" stroke-width="0.5" />
<line x1="198.5" y1="135.9" x2="199.2" y2="135.9" stroke="#444" stroke-width="0.5" />
<line x1="200.7" y1="183.8" x2="200.7" y2="185.2" stroke="#444" stroke-width="0.5" />
<line x1="202.4" y1="183.8" x2="202.4" y2="184.5" stroke="#444" stroke-width="0.5" />
<line x1="204.1" y1="183.8" x2="204.1" y2="184.5" stroke="#444" stroke-width="0.5" />
<line x1="205.8" y1="183.8" x2="205.8" y2="184.5" stroke="#444" stroke-width="0.5" />
<line x1="207.5" y1="183.8" x2="207.5" y2="184.5" stroke="#444" stroke-width="0.5" />
<line x1="209.2" y1="183.8" x2="209.2" y2="184.5" stroke="#444" stroke-width="0.5" />
<line x1="210.9" y1="183.8" x2="210.9" y2="185.2" stroke="#444" stroke-width="0.5" />
<line x1="212.6" y1="183.8" x2="212.6" y2="184.5" stroke="#444" stroke-width="0.5" />
<line x1="214.3" y1="183.8" x2="214.3" y2="184.5" stroke="#444" stroke-width="0.5" />
<line x1="216" y1="183.8" x2="216" y2="184.5" stroke="#444" stroke-width="0.5" />
<line x1="217.7" y1="183.8" x2="217.7" y2="184.5" stroke="#444" stroke-width="0.5" />
<line x1="219.4" y1="183.8" x2="219.4" y2="184.5" stroke="#444" stroke-width="0.5" />
<line x1="221.1" y1="183.8" x2="221.1" y2="185.2" stroke="#444" stroke-width="0.5" />
<line x1="222.8" y1="183.8" x2="222.8" y2="184.5" stroke="#444" stroke-width="0.5" />
<line x1="224.5" y1="183.8" x2="224.5" y2="184.5" stroke="#444" stroke-width="0.5" />
<line x1="226.2" y1="183.8" x2="226.2" y2="184.5" stroke="#444" stroke-width="0.5" />
<line x1="227.9" y1="183.8" x2="227.9" y2="184.5" stroke="#444" stroke-width="0.5" />
<line x1="229.6" y1="183.8" x2="229.6" y2="184.5" stroke="#444" stroke-width="0.5" />
<line x1="231.3" y1="183.8" x2="231.3" y2="185.2" stroke="#444" stroke-width="0.5" />
<line x1="233" y1="183.8" x2="233" y2="184.5" stroke="#444" stroke-width="0.5" />
<line x1="234.7" y1="183.8" x2="234.7" y2="184.5" stroke="#444" stroke-width="0.5" />
<line x1="236.4" y1="183.8" x2="236.4" y2="184.5" stroke="#444" stroke-width="0.5" />
<line x1="238.1" y1="183.8" x2="238.1" y2="184.5" stroke="#444" stroke-width="0.5" />
<line x1="239.8" y1="183.8" x2="239.8" y2="184.5" stroke="#444" stroke-width="0.5" />
<line x1="241.5" y1="183.8" x2="241.5" y2="185.2" stroke="#444" stroke-width="0.5" />
<line x1="243.2" y1="183.8" x2="243.2" y2="184.5" stroke="#444" stroke-width="0.5" />
<line x1="244.9" y1="183.8" x2="244.9" y2="184.5" stroke="#444" stroke-width="0.5" />
<line x1="246.6" y1="183.8" x2="246.6" y2="184.5" stroke="#444" stroke-width="0.5" />
<line x1="248.3" y1="183.8" x2="248.3" y2="184.5" stroke="#444" stroke-width="0.5" />
<text x="229.8" y="165.6" font-size="6.2" fill="#333" color="#333" textLength="18.4" lengthAdjust="spacingAndGlyphs" >88.0%</text>
<text x="200.9" y="179.1" font-size="6.2" fill="#222" color="#222" textLength="24.2" lengthAdjust="spacingAndGlyphs" >Donor#C</text>
<text x="192.3" y="181.8" font-size="10.2" fill="#222" color="#222" textLength="47.9" lengthAdjust="spacingAndGlyphs" transform="rotate(-90 192.3 181.8)" >CD11b-FITC</text>
<line x1="190.6" y1="132.7" x2="190.6" y2="124" stroke="#222" stroke-width="1.1" />
<path d="M188.7 125.4 L190.6 121.6 L192.5 125.4 Z" fill="#222" stroke="none" stroke-width="1" />
<text x="190.3" y="194.6" font-size="9.8" fill="#222" color="#222" textLength="60.8" lengthAdjust="spacingAndGlyphs" >HER2.CAR-APC</text>
<text x="257.8" y="10.6" font-size="13.4" fill="#000" color="#000" font-weight="bold" >b</text>
<rect x="312.6" y="23.8" width="14" height="49.8" fill="#8c8c8c" stroke="none" stroke-width="1" />
<line x1="312.6" y1="23.8" x2="312.6" y2="73.6" stroke="#111" stroke-width="1.1" />
<line x1="326.6" y1="23.8" x2="326.6" y2="73.6" stroke="#111" stroke-width="1.1" />
<line x1="305.5" y1="23.8" x2="405.7" y2="23.8" stroke="#111" stroke-width="1.2" />
<line x1="305.5" y1="23.2" x2="305.5" y2="74.2" stroke="#111" stroke-width="1.2" />
<line x1="405.7" y1="23.2" x2="405.7" y2="74.2" stroke="#111" stroke-width="1.2" />
<line x1="305.5" y1="73.6" x2="405.7" y2="73.6" stroke="#111" stroke-width="1.2" />
<line x1="302.3" y1="73.6" x2="305.5" y2="73.6" stroke="#111" stroke-width="1" />
<line x1="303.9" y1="67.38" x2="305.5" y2="67.38" stroke="#111" stroke-width="1" />
<line x1="302.3" y1="61.15" x2="305.5" y2="61.15" stroke="#111" stroke-width="1" />
<line x1="303.9" y1="54.92" x2="305.5" y2="54.92" stroke="#111" stroke-width="1" />
<line x1="302.3" y1="48.7" x2="305.5" y2="48.7" stroke="#111" stroke-width="1" />
<line x1="303.9" y1="42.47" x2="305.5" y2="42.47" stroke="#111" stroke-width="1" />
<line x1="302.3" y1="36.25" x2="305.5" y2="36.25" stroke="#111" stroke-width="1" />
<line x1="303.9" y1="30.02" x2="305.5" y2="30.02" stroke="#111" stroke-width="1" />
<line x1="302.3" y1="23.8" x2="305.5" y2="23.8" stroke="#111" stroke-width="1" />
<line x1="405.7" y1="73.6" x2="408.7" y2="73.6" stroke="#111" stroke-width="1" />
<line x1="405.7" y1="68.62" x2="407.2" y2="68.62" stroke="#111" stroke-width="1" />
<line x1="405.7" y1="63.64" x2="408.7" y2="63.64" stroke="#111" stroke-width="1" />
<line x1="405.7" y1="58.66" x2="407.2" y2="58.66" stroke="#111" stroke-width="1" />
<line x1="405.7" y1="53.68" x2="408.7" y2="53.68" stroke="#111" stroke-width="1" />
<line x1="405.7" y1="48.7" x2="407.2" y2="48.7" stroke="#111" stroke-width="1" />
<line x1="405.7" y1="43.72" x2="408.7" y2="43.72" stroke="#111" stroke-width="1" />
<line x1="405.7" y1="38.74" x2="407.2" y2="38.74" stroke="#111" stroke-width="1" />
<line x1="405.7" y1="33.76" x2="408.7" y2="33.76" stroke="#111" stroke-width="1" />
<line x1="405.7" y1="28.78" x2="407.2" y2="28.78" stroke="#111" stroke-width="1" />
<line x1="405.7" y1="23.8" x2="408.7" y2="23.8" stroke="#111" stroke-width="1" />
<line x1="304.82" y1="73.6" x2="304.82" y2="75.2" stroke="#111" stroke-width="1" />
<line x1="311.99" y1="73.6" x2="311.99" y2="76.6" stroke="#111" stroke-width="1" />
<line x1="319.16" y1="73.6" x2="319.16" y2="75.2" stroke="#111" stroke-width="1" />
<line x1="326.33" y1="73.6" x2="326.33" y2="75.2" stroke="#111" stroke-width="1" />
<line x1="333.5" y1="73.6" x2="333.5" y2="76.6" stroke="#111" stroke-width="1" />
<line x1="340.67" y1="73.6" x2="340.67" y2="75.2" stroke="#111" stroke-width="1" />
<line x1="347.84" y1="73.6" x2="347.84" y2="75.2" stroke="#111" stroke-width="1" />
<line x1="355.01" y1="73.6" x2="355.01" y2="76.6" stroke="#111" stroke-width="1" />
<line x1="362.18" y1="73.6" x2="362.18" y2="75.2" stroke="#111" stroke-width="1" />
<line x1="369.35" y1="73.6" x2="369.35" y2="75.2" stroke="#111" stroke-width="1" />
<line x1="376.52" y1="73.6" x2="376.52" y2="76.6" stroke="#111" stroke-width="1" />
<line x1="383.69" y1="73.6" x2="383.69" y2="75.2" stroke="#111" stroke-width="1" />
<line x1="390.86" y1="73.6" x2="390.86" y2="75.2" stroke="#111" stroke-width="1" />
<line x1="398.03" y1="73.6" x2="398.03" y2="76.6" stroke="#111" stroke-width="1" />
<line x1="405.2" y1="73.6" x2="405.2" y2="75.2" stroke="#111" stroke-width="1" />
<text x="300.2" y="77.2" font-size="10" text-anchor="end" fill="#ff8a8a" color="#ff8a8a" textLength="5.6" lengthAdjust="spacingAndGlyphs" >0</text>
<text x="300.2" y="64.75" font-size="10" text-anchor="end" fill="#ff8a8a" color="#ff8a8a" textLength="5.6" lengthAdjust="spacingAndGlyphs" >5</text>
<text x="300.2" y="52.3" font-size="10" text-anchor="end" fill="#ff8a8a" color="#ff8a8a" textLength="11.2" lengthAdjust="spacingAndGlyphs" >10</text>
<text x="300.2" y="39.85" font-size="10" text-anchor="end" fill="#ff8a8a" color="#ff8a8a" textLength="11.2" lengthAdjust="spacingAndGlyphs" >15</text>
<text x="300.2" y="27.4" font-size="10" text-anchor="end" fill="#ff8a8a" color="#ff8a8a" textLength="11.2" lengthAdjust="spacingAndGlyphs" >20</text>
<text x="411" y="77.2" font-size="10" fill="#5aaaf5" color="#5aaaf5" textLength="5.6" lengthAdjust="spacingAndGlyphs" >0</text>
<text x="411" y="67.24" font-size="10" fill="#5aaaf5" color="#5aaaf5" textLength="11.2" lengthAdjust="spacingAndGlyphs" >20</text>
<text x="411" y="57.28" font-size="10" fill="#5aaaf5" color="#5aaaf5" textLength="11.2" lengthAdjust="spacingAndGlyphs" >40</text>
<text x="411" y="47.32" font-size="10" fill="#5aaaf5" color="#5aaaf5" textLength="11.2" lengthAdjust="spacingAndGlyphs" >60</text>
<text x="411" y="37.36" font-size="10" fill="#5aaaf5" color="#5aaaf5" textLength="11.2" lengthAdjust="spacingAndGlyphs" >80</text>
<text x="411" y="27.4" font-size="10" fill="#5aaaf5" color="#5aaaf5" textLength="16.8" lengthAdjust="spacingAndGlyphs" >100</text>
<text x="312.6" y="86.8" font-size="10" text-anchor="middle" fill="#111" color="#111" textLength="20.2" lengthAdjust="spacingAndGlyphs" >AdV</text>
<text x="333.5" y="86.8" font-size="10" text-anchor="middle" fill="#111" color="#111" textLength="5.6" lengthAdjust="spacingAndGlyphs" >3</text>
<text x="355.01" y="86.8" font-size="10" text-anchor="middle" fill="#111" color="#111" textLength="5.6" lengthAdjust="spacingAndGlyphs" >6</text>
<text x="376.52" y="86.8" font-size="10" text-anchor="middle" fill="#111" color="#111" textLength="5.6" lengthAdjust="spacingAndGlyphs" >9</text>
<text x="398.03" y="86.8" font-size="10" text-anchor="middle" fill="#111" color="#111" textLength="11.2" lengthAdjust="spacingAndGlyphs" >12</text>
<text x="356" y="96.8" font-size="10.2" text-anchor="middle" fill="#111" color="#111" textLength="46.8" lengthAdjust="spacingAndGlyphs" >Time(day)</text>
<text x="281.6" y="49.3" font-size="10.5" text-anchor="middle" fill="#222" color="#222" textLength="57.6" lengthAdjust="spacingAndGlyphs" transform="rotate(-90 281.6 49.3)" >MFI (*1000)</text>
<text x="432.5" y="50.9" font-size="10.5" text-anchor="middle" fill="#222" color="#222" textLength="70.2" lengthAdjust="spacingAndGlyphs" transform="rotate(90 432.5 50.9)" >positive ratio%</text>
<path d="M333.5 32.8 347.8 30.8 362.2 31.8 398 32.8" fill="none" stroke="#5aaaf5" stroke-width="1" />
<path d="M333.5 34.8 347.8 31.8 362.2 31.3 398 36.7" fill="none" stroke="#5aaaf5" stroke-width="1" />
<path d="M333.5 35.8 347.8 38.7 362.2 38.2 398 45.7" fill="none" stroke="#5aaaf5" stroke-width="1" />
<path d="M333.5 41.2 347.8 38.7 362.2 38.2 398 43.7" fill="none" stroke="#5aaaf5" stroke-width="1" />
<path d="M333.5 33.8 347.8 38.7 362.2 37.7 398 44.7" fill="none" stroke="#5aaaf5" stroke-width="1" />
<path d="M333.5 55.9 347.8 31.3 362.2 28.3 398 56.2" fill="none" stroke="#ff8a8a" stroke-width="1" />
<path d="M333.5 46.2 347.8 42.2 362.2 48.2 398 53.2" fill="none" stroke="#ff8a8a" stroke-width="1" />
<path d="M333.5 59.2 347.8 53.2 362.2 41.7 398 58.2" fill="none" stroke="#ff8a8a" stroke-width="1" />
<path d="M333.5 61.1 347.8 54.7 362.2 50.2 398 62.9" fill="none" stroke="#ff8a8a" stroke-width="1" />
<path d="M333.5 58.7 347.8 52.2 362.2 46.7 398 60.7" fill="none" stroke="#ff8a8a" stroke-width="1" />
<circle cx="333.5" cy="32.76" r="2" fill="#5aaaf5" stroke="#5aaaf5" stroke-width="0.9" />
<circle cx="347.84" cy="30.77" r="2" fill="#5aaaf5" stroke="#5aaaf5" stroke-width="0.9" />
<circle cx="362.18" cy="31.77" r="2" fill="#5aaaf5" stroke="#5aaaf5" stroke-width="0.9" />
<circle cx="398.03" cy="32.76" r="2" fill="#5aaaf5" stroke="#5aaaf5" stroke-width="0.9" />
<path d="M331.3 33.16 L335.7 33.16 L333.5 36.96 Z" fill="#5aaaf5" stroke="#5aaaf5" stroke-width="0.9" />
<path d="M345.64 30.17 L350.04 30.17 L347.84 33.97 Z" fill="#5aaaf5" stroke="#5aaaf5" stroke-width="0.9" />
<path d="M359.98 29.67 L364.38 29.67 L362.18 33.47 Z" fill="#5aaaf5" stroke="#5aaaf5" stroke-width="0.9" />
<path d="M395.83 35.15 L400.23 35.15 L398.03 38.95 Z" fill="#5aaaf5" stroke="#5aaaf5" stroke-width="0.9" />
<rect x="331.5" y="33.75" width="4" height="4" fill="#5aaaf5" stroke="#5aaaf5" stroke-width="0.9" />
<rect x="345.84" y="36.74" width="4" height="4" fill="#5aaaf5" stroke="#5aaaf5" stroke-width="0.9" />
<rect x="360.18" y="36.24" width="4" height="4" fill="#5aaaf5" stroke="#5aaaf5" stroke-width="0.9" />
<rect x="396.03" y="43.71" width="4" height="4" fill="#5aaaf5" stroke="#5aaaf5" stroke-width="0.9" />
<path d="M331.3 42.83 L335.7 42.83 L333.5 39.03 Z" fill="#5aaaf5" stroke="#5aaaf5" stroke-width="0.9" />
<path d="M345.64 40.34 L350.04 40.34 L347.84 36.54 Z" fill="#5aaaf5" stroke="#5aaaf5" stroke-width="0.9" />
<path d="M359.98 39.84 L364.38 39.84 L362.18 36.04 Z" fill="#5aaaf5" stroke="#5aaaf5" stroke-width="0.9" />
<path d="M395.83 45.32 L400.23 45.32 L398.03 41.52 Z" fill="#5aaaf5" stroke="#5aaaf5" stroke-width="0.9" />
<rect x="331.5" y="31.76" width="4" height="4" fill="#5aaaf5" stroke="#5aaaf5" stroke-width="0.9" />
<rect x="345.84" y="36.74" width="4" height="4" fill="#5aaaf5" stroke="#5aaaf5" stroke-width="0.9" />
<rect x="360.18" y="35.74" width="4" height="4" fill="#5aaaf5" stroke="#5aaaf5" stroke-width="0.9" />
<rect x="396.03" y="42.72" width="4" height="4" fill="#5aaaf5" stroke="#5aaaf5" stroke-width="0.9" />
<path d="M331.19 54.24 L335.81 54.24 L333.5 58.23 Z" fill="#fff" stroke="#ff8a8a" stroke-width="0.9" />
<path d="M345.53 29.59 L350.15 29.59 L347.84 33.58 Z" fill="#fff" stroke="#ff8a8a" stroke-width="0.9" />
<path d="M359.87 26.6 L364.49 26.6 L362.18 30.59 Z" fill="#fff" stroke="#ff8a8a" stroke-width="0.9" />
<path d="M395.72 54.49 L400.34 54.49 L398.03 58.48 Z" fill="#fff" stroke="#ff8a8a" stroke-width="0.9" />
<circle cx="333.5" cy="46.21" r="2.1" fill="#fff" stroke="#ff8a8a" stroke-width="0.9" />
<circle cx="347.84" cy="42.23" r="2.1" fill="#fff" stroke="#ff8a8a" stroke-width="0.9" />
<circle cx="362.18" cy="48.2" r="2.1" fill="#fff" stroke="#ff8a8a" stroke-width="0.9" />
<circle cx="398.03" cy="53.18" r="2.1" fill="#fff" stroke="#ff8a8a" stroke-width="0.9" />
<path d="M331.19 60.84 L335.81 60.84 L333.5 56.85 Z" fill="#fff" stroke="#ff8a8a" stroke-width="0.9" />
<path d="M345.53 54.86 L350.15 54.86 L347.84 50.87 Z" fill="#fff" stroke="#ff8a8a" stroke-width="0.9" />
<path d="M359.87 43.41 L364.49 43.41 L362.18 39.42 Z" fill="#fff" stroke="#ff8a8a" stroke-width="0.9" />
<path d="M395.72 59.84 L400.34 59.84 L398.03 55.85 Z" fill="#fff" stroke="#ff8a8a" stroke-width="0.9" />
<rect x="331.4" y="59.05" width="4.2" height="4.2" fill="#fff" stroke="#ff8a8a" stroke-width="0.9" />
<rect x="345.74" y="52.58" width="4.2" height="4.2" fill="#fff" stroke="#ff8a8a" stroke-width="0.9" />
<rect x="360.08" y="48.09" width="4.2" height="4.2" fill="#fff" stroke="#ff8a8a" stroke-width="0.9" />
<rect x="395.93" y="60.79" width="4.2" height="4.2" fill="#fff" stroke="#ff8a8a" stroke-width="0.9" />
<rect x="331.4" y="56.56" width="4.2" height="4.2" fill="#fff" stroke="#ff8a8a" stroke-width="0.9" />
<rect x="345.74" y="50.09" width="4.2" height="4.2" fill="#fff" stroke="#ff8a8a" stroke-width="0.9" />
<rect x="360.08" y="44.61" width="4.2" height="4.2" fill="#fff" stroke="#ff8a8a" stroke-width="0.9" />
<rect x="395.93" y="58.55" width="4.2" height="4.2" fill="#fff" stroke="#ff8a8a" stroke-width="0.9" />
<text x="261.5" y="105.6" font-size="13.4" fill="#000" color="#000" font-weight="bold" >c</text>
<rect x="306" y="116.4" width="18.2" height="49.9" fill="#ababab" stroke="none" stroke-width="1" />
<line x1="324.2" y1="116.4" x2="324.2" y2="166.3" stroke="#111" stroke-width="1.1" />
<line x1="306" y1="116.4" x2="405.8" y2="116.4" stroke="#111" stroke-width="1.2" />
<line x1="306" y1="115.8" x2="306" y2="166.9" stroke="#111" stroke-width="1.2" />
<line x1="405.8" y1="115.8" x2="405.8" y2="166.9" stroke="#111" stroke-width="1.2" />
<line x1="306" y1="166.3" x2="405.8" y2="166.3" stroke="#111" stroke-width="1.2" />
<line x1="302.8" y1="166.3" x2="306" y2="166.3" stroke="#111" stroke-width="1" />
<line x1="304.4" y1="160.61" x2="306" y2="160.61" stroke="#111" stroke-width="1" />
<line x1="302.8" y1="154.93" x2="306" y2="154.93" stroke="#111" stroke-width="1" />
<line x1="304.4" y1="149.24" x2="306" y2="149.24" stroke="#111" stroke-width="1" />
<line x1="302.8" y1="143.55" x2="306" y2="143.55" stroke="#111" stroke-width="1" />
<line x1="304.4" y1="137.86" x2="306" y2="137.86" stroke="#111" stroke-width="1" />
<line x1="302.8" y1="132.18" x2="306" y2="132.18" stroke="#111" stroke-width="1" />
<line x1="304.4" y1="126.49" x2="306" y2="126.49" stroke="#111" stroke-width="1" />
<line x1="302.8" y1="120.8" x2="306" y2="120.8" stroke="#111" stroke-width="1" />
<line x1="405.8" y1="166.3" x2="408.8" y2="166.3" stroke="#111" stroke-width="1" />
<line x1="405.8" y1="160.2" x2="407.3" y2="160.2" stroke="#111" stroke-width="1" />
<line x1="405.8" y1="154.1" x2="408.8" y2="154.1" stroke="#111" stroke-width="1" />
<line x1="405.8" y1="148" x2="407.3" y2="148" stroke="#111" stroke-width="1" />
<line x1="405.8" y1="141.9" x2="408.8" y2="141.9" stroke="#111" stroke-width="1" />
<line x1="405.8" y1="135.8" x2="407.3" y2="135.8" stroke="#111" stroke-width="1" />
<line x1="405.8" y1="129.7" x2="408.8" y2="129.7" stroke="#111" stroke-width="1" />
<line x1="405.8" y1="123.6" x2="407.3" y2="123.6" stroke="#111" stroke-width="1" />
<line x1="405.8" y1="117.5" x2="408.8" y2="117.5" stroke="#111" stroke-width="1" />
<line x1="306.6" y1="166.3" x2="306.6" y2="169.3" stroke="#111" stroke-width="1" />
<line x1="311" y1="166.3" x2="311" y2="167.9" stroke="#111" stroke-width="1" />
<line x1="315.4" y1="166.3" x2="315.4" y2="167.9" stroke="#111" stroke-width="1" />
<line x1="319.8" y1="166.3" x2="319.8" y2="167.9" stroke="#111" stroke-width="1" />
<line x1="324.2" y1="166.3" x2="324.2" y2="169.3" stroke="#111" stroke-width="1" />
<line x1="328.6" y1="166.3" x2="328.6" y2="167.9" stroke="#111" stroke-width="1" />
<line x1="333" y1="166.3" x2="333" y2="167.9" stroke="#111" stroke-width="1" />
<line x1="337.4" y1="166.3" x2="337.4" y2="167.9" stroke="#111" stroke-width="1" />
<line x1="341.8" y1="166.3" x2="341.8" y2="169.3" stroke="#111" stroke-width="1" />
<line x1="346.2" y1="166.3" x2="346.2" y2="167.9" stroke="#111" stroke-width="1" />
<line x1="350.6" y1="166.3" x2="350.6" y2="167.9" stroke="#111" stroke-width="1" />
<line x1="355" y1="166.3" x2="355" y2="167.9" stroke="#111" stroke-width="1" />
<line x1="359.4" y1="166.3" x2="359.4" y2="169.3" stroke="#111" stroke-width="1" />
<line x1="363.8" y1="166.3" x2="363.8" y2="167.9" stroke="#111" stroke-width="1" />
<line x1="368.2" y1="166.3" x2="368.2" y2="167.9" stroke="#111" stroke-width="1" />
<line x1="372.6" y1="166.3" x2="372.6" y2="167.9" stroke="#111" stroke-width="1" />
<line x1="377" y1="166.3" x2="377" y2="169.3" stroke="#111" stroke-width="1" />
<line x1="381.4" y1="166.3" x2="381.4" y2="167.9" stroke="#111" stroke-width="1" />
<line x1="385.8" y1="166.3" x2="385.8" y2="167.9" stroke="#111" stroke-width="1" />
<line x1="390.2" y1="166.3" x2="390.2" y2="167.9" stroke="#111" stroke-width="1" />
<line x1="394.6" y1="166.3" x2="394.6" y2="169.3" stroke="#111" stroke-width="1" />
<line x1="399" y1="166.3" x2="399" y2="167.9" stroke="#111" stroke-width="1" />
<line x1="403.4" y1="166.3" x2="403.4" y2="167.9" stroke="#111" stroke-width="1" />
<text x="300.3" y="169.9" font-size="10" text-anchor="end" fill="#ff8a8a" color="#ff8a8a" textLength="5.6" lengthAdjust="spacingAndGlyphs" >0</text>
<text x="300.3" y="158.53" font-size="10" text-anchor="end" fill="#ff8a8a" color="#ff8a8a" textLength="5.6" lengthAdjust="spacingAndGlyphs" >5</text>
<text x="300.3" y="147.15" font-size="10" text-anchor="end" fill="#ff8a8a" color="#ff8a8a" textLength="11.2" lengthAdjust="spacingAndGlyphs" >10</text>
<text x="300.3" y="135.78" font-size="10" text-anchor="end" fill="#ff8a8a" color="#ff8a8a" textLength="11.2" lengthAdjust="spacingAndGlyphs" >15</text>
<text x="300.3" y="124.4" font-size="10" text-anchor="end" fill="#ff8a8a" color="#ff8a8a" textLength="11.2" lengthAdjust="spacingAndGlyphs" >20</text>
<text x="411" y="169.9" font-size="10" fill="#5aaaf5" color="#5aaaf5" textLength="5.6" lengthAdjust="spacingAndGlyphs" >0</text>
<text x="411" y="157.7" font-size="10" fill="#5aaaf5" color="#5aaaf5" textLength="14" lengthAdjust="spacingAndGlyphs" >0.5</text>
<text x="411" y="145.5" font-size="10" fill="#5aaaf5" color="#5aaaf5" textLength="5.6" lengthAdjust="spacingAndGlyphs" >1</text>
<text x="411" y="133.3" font-size="10" fill="#5aaaf5" color="#5aaaf5" textLength="14" lengthAdjust="spacingAndGlyphs" >1.5</text>
<text x="411" y="121.1" font-size="10" fill="#5aaaf5" color="#5aaaf5" textLength="5.6" lengthAdjust="spacingAndGlyphs" >2</text>
<text x="306.6" y="179.8" font-size="10" text-anchor="end" fill="#111" color="#111" textLength="20.2" lengthAdjust="spacingAndGlyphs" dx="10.1">AdV</text>
<text x="324.2" y="179.8" font-size="10" text-anchor="middle" fill="#111" color="#111" textLength="5.6" lengthAdjust="spacingAndGlyphs" >2</text>
<text x="341.8" y="179.8" font-size="10" text-anchor="middle" fill="#111" color="#111" textLength="5.6" lengthAdjust="spacingAndGlyphs" >4</text>
<text x="359.4" y="179.8" font-size="10" text-anchor="middle" fill="#111" color="#111" textLength="5.6" lengthAdjust="spacingAndGlyphs" >6</text>
<text x="377" y="179.8" font-size="10" text-anchor="middle" fill="#111" color="#111" textLength="5.6" lengthAdjust="spacingAndGlyphs" >8</text>
<text x="394.6" y="179.8" font-size="10" text-anchor="middle" fill="#111" color="#111" textLength="11.2" lengthAdjust="spacingAndGlyphs" >10</text>
<text x="360" y="190.6" font-size="10.2" text-anchor="middle" fill="#111" color="#111" textLength="49.5" lengthAdjust="spacingAndGlyphs" >Time (day)</text>
<text x="285.8" y="140.6" font-size="10.5" text-anchor="middle" fill="#222" color="#222" textLength="65.9" lengthAdjust="spacingAndGlyphs" transform="rotate(-90 285.8 140.6)" >µg/million cell</text>
<text x="430.5" y="141.4" font-size="10.5" text-anchor="middle" fill="#222" color="#222" textLength="79.5" lengthAdjust="spacingAndGlyphs" transform="rotate(90 430.5 141.4)" >µg/million cell/hr</text>
<path d="M325.1 159.5 328.6 158.8 333 156.7 341.8 148.1 350.6 120.8 359.4 139 377 119.7 405.2 158.3" fill="none" stroke="#ff8a8a" stroke-width="1" />
<path d="M325.1 158.3 328.6 160.2 333 157.7 341.8 152.7 350.6 143.6 359.4 148.8 377 125.4 405.2 139" fill="none" stroke="#ff8a8a" stroke-width="1" />
<path d="M325.1 159.9 328.6 160.8 333 155.8 341.8 157.2 350.6 145.8 359.4 152.7 377 139 405.2 133.3" fill="none" stroke="#ff8a8a" stroke-width="1" />
<path d="M325.1 159 328.6 159.5 333 158.3 341.8 156.1 350.6 149.7 359.4 150.4 377 123.1 405.2 159.5" fill="none" stroke="#ff8a8a" stroke-width="1" />
<path d="M325.1 119.9 326 127.3 327.7 143.1 328.6 149.2 331.2 154.1 333 157.8 341.8 161.9 350.6 157 359.4 159.5 377 157 405.2 163.9" fill="none" stroke="#5aaaf5" stroke-width="0.9" />
<path d="M325.1 123.6 326.8 137 328.6 151.7 333 156.5 341.8 157.8 350.6 146.8 359.4 154.1 377 155.3 405.2 162.6" fill="none" stroke="#5aaaf5" stroke-width="0.9" />
<path d="M325.1 122.4 327.7 146.8 333 159 341.8 159 350.6 159 359.4 160.2 377 159.7 405.2 165.1" fill="none" stroke="#5aaaf5" stroke-width="0.9" />
<rect x="323.28" y="118.14" width="3.6" height="3.6" fill="#5aaaf5" stroke="none" stroke-width="1" />
<rect x="324.16" y="125.46" width="3.6" height="3.6" fill="#5aaaf5" stroke="none" stroke-width="1" />
<rect x="325.92" y="141.32" width="3.6" height="3.6" fill="#5aaaf5" stroke="none" stroke-width="1" />
<rect x="326.8" y="147.42" width="3.6" height="3.6" fill="#5aaaf5" stroke="none" stroke-width="1" />
<rect x="329.44" y="152.3" width="3.6" height="3.6" fill="#5aaaf5" stroke="none" stroke-width="1" />
<rect x="331.2" y="155.96" width="3.6" height="3.6" fill="#5aaaf5" stroke="none" stroke-width="1" />
<rect x="340" y="160.11" width="3.6" height="3.6" fill="#5aaaf5" stroke="none" stroke-width="1" />
<rect x="348.8" y="155.23" width="3.6" height="3.6" fill="#5aaaf5" stroke="none" stroke-width="1" />
<rect x="357.6" y="157.67" width="3.6" height="3.6" fill="#5aaaf5" stroke="none" stroke-width="1" />
<rect x="375.2" y="155.23" width="3.6" height="3.6" fill="#5aaaf5" stroke="none" stroke-width="1" />
<rect x="403.36" y="162.06" width="3.6" height="3.6" fill="#5aaaf5" stroke="none" stroke-width="1" />
<rect x="323.28" y="121.8" width="3.6" height="3.6" fill="#5aaaf5" stroke="none" stroke-width="1" />
<rect x="325.04" y="135.22" width="3.6" height="3.6" fill="#5aaaf5" stroke="none" stroke-width="1" />
<rect x="326.8" y="149.86" width="3.6" height="3.6" fill="#5aaaf5" stroke="none" stroke-width="1" />
<rect x="331.2" y="154.74" width="3.6" height="3.6" fill="#5aaaf5" stroke="none" stroke-width="1" />
<rect x="340" y="155.96" width="3.6" height="3.6" fill="#5aaaf5" stroke="none" stroke-width="1" />
<rect x="348.8" y="144.98" width="3.6" height="3.6" fill="#5aaaf5" stroke="none" stroke-width="1" />
<rect x="357.6" y="152.3" width="3.6" height="3.6" fill="#5aaaf5" stroke="none" stroke-width="1" />
<rect x="375.2" y="153.52" width="3.6" height="3.6" fill="#5aaaf5" stroke="none" stroke-width="1" />
<rect x="403.36" y="160.84" width="3.6" height="3.6" fill="#5aaaf5" stroke="none" stroke-width="1" />
<rect x="323.28" y="120.58" width="3.6" height="3.6" fill="#5aaaf5" stroke="none" stroke-width="1" />
<rect x="325.92" y="144.98" width="3.6" height="3.6" fill="#5aaaf5" stroke="none" stroke-width="1" />
<rect x="331.2" y="157.18" width="3.6" height="3.6" fill="#5aaaf5" stroke="none" stroke-width="1" />
<rect x="340" y="157.18" width="3.6" height="3.6" fill="#5aaaf5" stroke="none" stroke-width="1" />
<rect x="348.8" y="157.18" width="3.6" height="3.6" fill="#5aaaf5" stroke="none" stroke-width="1" />
<rect x="357.6" y="158.4" width="3.6" height="3.6" fill="#5aaaf5" stroke="none" stroke-width="1" />
<rect x="375.2" y="157.91" width="3.6" height="3.6" fill="#5aaaf5" stroke="none" stroke-width="1" />
<rect x="403.36" y="163.28" width="3.6" height="3.6" fill="#5aaaf5" stroke="none" stroke-width="1" />
<circle cx="325.08" cy="159.48" r="1.9" fill="#ff8a8a" stroke="#ff8a8a" stroke-width="0.9" />
<circle cx="328.6" cy="158.79" r="1.9" fill="#ff8a8a" stroke="#ff8a8a" stroke-width="0.9" />
<circle cx="333" cy="156.75" r="1.9" fill="#ff8a8a" stroke="#ff8a8a" stroke-width="0.9" />
<circle cx="341.8" cy="148.1" r="1.9" fill="#fff" stroke="#ff8a8a" stroke-width="0.9" />
<circle cx="350.6" cy="120.8" r="1.9" fill="#fff" stroke="#ff8a8a" stroke-width="0.9" />
<circle cx="359.4" cy="139" r="1.9" fill="#fff" stroke="#ff8a8a" stroke-width="0.9" />
<circle cx="377" cy="119.66" r="1.9" fill="#fff" stroke="#ff8a8a" stroke-width="0.9" />
<circle cx="405.16" cy="158.34" r="1.9" fill="#fff" stroke="#ff8a8a" stroke-width="0.9" />
<circle cx="325.08" cy="158.34" r="1.9" fill="#ff8a8a" stroke="#ff8a8a" stroke-width="0.9" />
<circle cx="328.6" cy="160.16" r="1.9" fill="#ff8a8a" stroke="#ff8a8a" stroke-width="0.9" />
<circle cx="333" cy="157.66" r="1.9" fill="#ff8a8a" stroke="#ff8a8a" stroke-width="0.9" />
<circle cx="341.8" cy="152.65" r="1.9" fill="#fff" stroke="#ff8a8a" stroke-width="0.9" />
<circle cx="350.6" cy="143.55" r="1.9" fill="#fff" stroke="#ff8a8a" stroke-width="0.9" />
<circle cx="359.4" cy="148.78" r="1.9" fill="#fff" stroke="#ff8a8a" stroke-width="0.9" />
<circle cx="377" cy="125.35" r="1.9" fill="#fff" stroke="#ff8a8a" stroke-width="0.9" />
<circle cx="405.16" cy="139" r="1.9" fill="#fff" stroke="#ff8a8a" stroke-width="0.9" />
<circle cx="325.08" cy="159.93" r="1.9" fill="#ff8a8a" stroke="#ff8a8a" stroke-width="0.9" />
<circle cx="328.6" cy="160.84" r="1.9" fill="#ff8a8a" stroke="#ff8a8a" stroke-width="0.9" />
<circle cx="333" cy="155.84" r="1.9" fill="#ff8a8a" stroke="#ff8a8a" stroke-width="0.9" />
<circle cx="341.8" cy="157.2" r="1.9" fill="#fff" stroke="#ff8a8a" stroke-width="0.9" />
<circle cx="350.6" cy="145.83" r="1.9" fill="#fff" stroke="#ff8a8a" stroke-width="0.9" />
<circle cx="359.4" cy="152.65" r="1.9" fill="#fff" stroke="#ff8a8a" stroke-width="0.9" />
<circle cx="377" cy="139" r="1.9" fill="#fff" stroke="#ff8a8a" stroke-width="0.9" />
<circle cx="405.16" cy="133.31" r="1.9" fill="#fff" stroke="#ff8a8a" stroke-width="0.9" />
<circle cx="325.08" cy="159.02" r="1.9" fill="#ff8a8a" stroke="#ff8a8a" stroke-width="0.9" />
<circle cx="328.6" cy="159.48" r="1.9" fill="#ff8a8a" stroke="#ff8a8a" stroke-width="0.9" />
<circle cx="333" cy="158.34" r="1.9" fill="#ff8a8a" stroke="#ff8a8a" stroke-width="0.9" />
<circle cx="341.8" cy="156.06" r="1.9" fill="#fff" stroke="#ff8a8a" stroke-width="0.9" />
<circle cx="350.6" cy="149.69" r="1.9" fill="#fff" stroke="#ff8a8a" stroke-width="0.9" />
<circle cx="359.4" cy="150.38" r="1.9" fill="#fff" stroke="#ff8a8a" stroke-width="0.9" />
<circle cx="377" cy="123.08" r="1.9" fill="#fff" stroke="#ff8a8a" stroke-width="0.9" />
<circle cx="405.16" cy="159.48" r="1.9" fill="#fff" stroke="#ff8a8a" stroke-width="0.9" />
<text x="449.3" y="10.6" font-size="13.4" fill="#000" color="#000" font-weight="bold" >d</text>
<path d="M490.5 17.9V165.8M501.7 17.9V165.8M512.9 17.9V165.8M524 17.9V165.8M535.2 17.9V165.8M546.3 17.9V165.8M557.5 17.9V165.8M568.7 17.9V165.8M579.8 17.9V165.8M591 17.9V165.8M602.1 17.9V165.8M613.3 17.9V165.8M624.5 17.9V165.8M635.6 17.9V165.8M646.8 17.9V165.8M483.6 160.1H655M483.6 143.2H655M483.6 126.2H655M483.6 109.2H655M483.6 92.3H655M483.6 75.3H655M483.6 58.4H655M483.6 41.4H655M483.6 24.5H655" stroke="#e9e9e9" stroke-width="0.6" fill="none"/>
<path d="M548.6 144.2 528 144.2 519.1 145.9 512.9 148.9 510.2 152.6 512.9 156 520 157.9 530.7 158.7 548.6 159.1ZM566.4 144.2 606.6 144.2 611.1 146.2 611.1 150.3 606.6 154.2 597.7 157 584.3 158.4 566.4 159.1Z" fill="#36913a"/>
<path d="M548.6 144.2 553.5 144.2 557.7 155.7 562 144.2 566.4 144.2 566.4 158.7 548.6 158.7Z" fill="#4a4a4a"/>
<path d="M567.4 159.5h0M566.8 159.3h0M567.9 159.8h0M567 159.4h0M534 158.6h0M573.5 160h0M571.2 158.8h0M544.8 159.4h0M536.7 159h0M543.3 158.2h0M588.4 159.1h0M543.8 159.8h0M570.7 159.2h0M567.6 159.9h0M566.7 160h0M547.4 159.8h0M581.1 159.5h0M570.2 158.5h0M544.9 158.2h0M545.2 159.5h0M571.6 159.5h0M547.9 160h0M542.6 159.2h0M539.4 159.7h0M569.2 159.9h0M545 159.8h0M566.8 160h0M541.7 158.7h0M548.4 159h0M579.2 159.1h0M511.5 147.7h0M573.2 159.7h0M541 159.7h0M569.3 159.9h0M573.4 158.2h0M571.8 158.2h0M567.2 158.7h0M571.2 159h0M542.2 160h0M568.3 158.2h0M567.5 158.2h0M547 159.8h0M548.5 159.2h0M536.2 158.4h0M567 158.9h0M568.6 159.6h0M543.7 159.5h0M545.6 159.1h0M572.5 158.8h0M570.5 160h0M546.8 159.4h0M542.4 159.4h0M546.7 158.3h0M542 159.7h0M568.4 158.9h0M568.7 159.8h0M569.1 159.8h0M544.3 158.4h0M571.5 158.5h0M605.1 158.6h0M572.8 159.3h0M535.5 158.1h0M567.6 159.3h0M567.1 159.7h0M566.6 159.7h0M544.1 159.4h0M566.6 160.1h0M568.3 159.5h0M540.5 158.3h0M546.5 158.3h0M543.4 158.4h0M566.8 159.7h0M573.5 159.3h0M568.5 158.9h0M567.9 158.4h0M566.6 159h0M575.5 159.2h0M511.6 148.2h0M548.4 159.2h0M574.4 158.1h0M574.9 158.5h0M568.3 159.2h0M572.1 159.5h0M576.5 159.2h0M548.6 159.5h0M547 159.1h0M539.8 159h0M544.7 158.5h0M569.3 158.9h0M567.4 159.5h0M568.8 159.3h0M570.4 158.6h0M567.1 159.6h0M545.4 159.8h0M570.9 158.3h0M548.5 159.4h0M573.7 159.6h0M524.4 156.2h0M577.9 159h0M547.8 159.2h0M536.3 159.2h0M547.4 160h0M577.6 159.6h0M569.7 159.7h0M567 159.2h0M544.8 159.9h0M547.5 159.5h0M544.2 158.6h0M540.2 158.5h0M539.9 160h0M546.3 160h0M543.8 158.5h0M546.9 160h0M528.7 157.5h0M569.8 160.1h0M569.4 158.2h0M572.5 159.7h0M567.8 158.5h0M572.1 160.1h0M575.5 159.1h0M567.4 159.8h0M570.8 159.5h0M540.7 159.4h0M545.5 158.8h0M546.4 159.6h0M568.3 159.5h0M546.4 159.3h0M548.1 159.1h0M571.5 159.3h0M571.6 158.7h0M566.4 159.6h0M572.2 158.7h0M567.4 159.9h0M542.5 159.9h0M546.8 159.4h0M573 159.7h0M566.6 159.9h0M547.7 159.6h0M539.9 158.1h0M571.7 159.9h0M547 158.9h0M572.6 158.5h0M567.1 160.1h0M608.9 151.7h0M572.3 158.8h0M542.9 159.1h0M570.7 159h0M566.6 158.4h0M574.4 158.9h0M567.6 159.7h0M567.3 159h0M566.6 159.6h0M569.6 158.9h0M548.1 158.7h0M546.1 159.3h0M547.8 159.2h0M567.6 159.4h0M548.4 158.6h0M547.9 160h0M544.6 158.9h0M548.5 158.9h0M568.6 158.4h0M535.3 158.9h0M568.1 159h0M567 159.2h0M529.6 159.1h0M544.1 159.4h0M567.4 159.2h0M581.7 158.3h0M572.5 159.1h0M568.6 159.7h0M548 159.1h0M576.5 158.9h0M566.5 159.9h0M567.8 158.9h0M567.8 158.6h0M570.9 159.5h0M544.1 159.6h0M548.3 158.3h0M568.6 159.3h0M543.9 158.7h0M543.5 158.2h0M535.4 159.1h0M570.9 158.3h0M544.5 158.3h0M547.6 159.8h0M548.3 159.6h0M544.4 159.7h0M567.7 159.7h0M548 159.5h0M567.3 159.9h0M568.8 159.5h0M568.2 160h0M568.9 158.3h0M567.6 160h0M587.5 159h0M567 160h0M568.3 158.9h0M540.4 159.8h0M545.8 159.8h0M577.1 160.1h0M574.5 158.3h0M577.4 158.6h0M574.9 159.4h0M548.5 158.3h0M568 159.9h0M582.4 159.7h0M547 159.6h0M548 159.6h0M547.7 160.1h0M547 159.6h0M574.9 159.1h0M568.3 159.6h0M545.1 159.7h0M538.1 159.5h0M532.5 159.1h0M545.2 158.8h0M566.5 159.9h0M545.2 158.4h0M567.6 158.8h0M540.6 159.1h0M567.4 159.2h0M570.6 158.6h0M545.4 158.9h0M574.7 159.9h0M567.4 159.8h0M568.6 159.4h0M542.5 159.5h0M567.3 159.8h0M568.5 159.5h0M568.2 159.4h0M544.8 159.7h0M570.5 159.8h0M569.5 158.1h0M546.5 158.7h0M568.3 159.2h0M569.2 158.8h0M572.4 158.6h0M567.6 159.2h0M574.5 159.6h0M577.9 159.1h0M567 159h0M530.5 158.4h0M547.9 160.1h0M544.1 158.6h0M546.4 160.1h0M575.5 158.8h0M570.3 159.5h0M545.5 159.8h0M546.2 159.7h0M577.6 158.5h0M570 158.3h0M567.3 159.9h0M541.2 158.4h0M547 159.7h0M597.9 157.2h0M568.3 159.6h0M542.5 160.1h0M568.1 159.3h0M543.7 159.8h0M546.3 160h0M542.7 159.8h0M570.5 158.5h0M574.2 158.7h0M577.4 158.6h0M547.3 159.7h0M575.3 159.4h0M575.7 159h0M546.1 159.8h0M548.2 159.8h0M568.7 159.5h0M566.7 159.8h0M547.4 158.8h0M547.6 159.8h0M568.9 159.5h0M569.9 159.2h0M546.9 159.4h0M544.7 159.9h0M547.5 158.9h0M546 159.2h0M533.4 158.6h0M542.2 159h0M544.3 159.1h0M542.9 158.8h0M548.1 158.1h0M544 159.9h0M569.9 158.3h0M569.2 159.9h0M567.8 158.9h0M546.5 158.9h0M543.7 159.5h0M575.6 158.9h0M567.4 160h0M537.9 159.1h0M547 158.9h0M573.4 158.9h0M567.2 158.8h0M566.5 158.6h0M576.1 158.4h0M571.7 158.2h0M572.9 159.7h0M545.8 159.7h0M539.1 158.5h0M545.7 159.9h0M577 159.4h0M566.9 159.9h0M546.4 159h0M577.1 158.7h0M544.7 158.5h0M575.7 159h0M541.5 159.9h0M572.1 159.6h0M548.3 159h0M567.4 159h0M539.2 159.7h0M543 159.5h0M541.9 158.5h0M567.7 159.8h0M543 159.4h0M568.1 160h0M567.4 159.8h0M548.1 159.8h0M545.2 159.1h0M571 159.4h0M547.8 159.3h0M541.6 160.1h0M546.8 158.8h0M535.9 159.4h0M571.7 159.9h0M548.1 159.7h0M548.5 159.8h0M534.5 160h0M569.9 160h0M569.4 160.1h0M544.5 158.8h0M543.9 159.2h0M547.3 158.4h0M547.8 159.6h0M548 159.7h0M545.2 159.7h0M547.4 159.1h0M544.4 159h0M571.1 159.1h0M576.2 159.6h0M576 159.4h0M543.3 159.1h0M547.9 159.1h0M567.5 158.8h0M545.5 158.9h0M567.9 158.8h0M548.2 159.1h0M574.2 158.2h0M548.3 159.2h0M529.7 159.3h0M571.7 159.9h0M545.6 159.1h0M539.2 159.1h0M548.4 158.5h0M576.3 160h0M545.7 158.6h0M546.2 160h0M570 159.8h0M544.7 159h0M582.1 159.8h0M572.7 158.5h0M548.2 159.7h0M579.8 158.9h0M570.9 159.9h0M568.5 158.8h0M572.9 160h0M570.4 160h0M548.3 159.1h0M567 158.8h0M547.1 160.1h0M569.5 159.8h0M544.2 159.5h0M520.9 154.1h0M568.7 158.9h0M545.1 159.8h0M568.4 158.3h0M547.1 160h0M573.6 158.3h0M546.7 159.8h0M546.8 158.6h0M548.5 158.8h0M568.8 159.1h0M570.9 159.4h0M569.7 159.7h0M568.4 158.7h0M572.9 158.3h0M567.3 159.4h0M539.1 158.3h0M541.9 159.6h0M572.9 159.1h0M573.1 159.3h0M545 158.9h0M567.4 158.3h0M544.7 158.5h0M569.5 159.3h0M547.2 160h0M542.8 158.4h0M571.4 159.3h0M571 158.6h0M547 158.5h0M545.8 159.3h0M597.9 157h0M547.4 160h0M537.1 159.7h0M546.7 159.1h0M567.8 160.1h0M570.3 160h0M566.5 158.8h0M542.5 158.3h0M547.1 158.9h0M567.8 159.4h0M542.7 158.8h0M572.5 159.2h0M570.3 159h0M545.3 158.8h0M566.7 160h0M544.1 158.1h0M571.3 159h0M567.4 160h0M545.1 158.8h0M543.2 158.1h0M568.3 159.2h0M568 159h0M548.1 160h0M541.6 159.8h0M543.7 158.4h0M570.7 159.5h0M545.2 158.3h0M568.6 159.7h0M540.5 158.3h0M568.6 159.8h0M567.5 159.4h0M570 160h0M566.5 159.4h0M567.7 159.5h0M543.7 159.9h0M567.3 159.8h0M541 158.8h0M573.1 158.9h0M539.6 158.8h0M537.4 160h0M571.4 158.3h0M547 160h0M545.6 158.8h0M547 159.4h0M547.2 159.6h0M566.7 159h0M569.9 158.8h0M570.2 159.3h0M547.3 159.1h0M567.1 158.4h0M586.7 159h0M574.7 159.8h0M569.5 159.1h0M573.3 159.1h0M567.9 159.7h0M567.8 158.3h0M566.5 158.9h0M567.9 159.9h0M547.7 159.4h0M545.7 159h0M548.2 159.7h0M568.3 159.7h0M513.2 151.2h0M546.9 158.6h0M546.9 159.9h0M568.9 159.2h0M573.1 159.3h0M546.6 159.4h0M548.5 158.7h0M567.6 159.2h0M543.7 159.2h0M568.3 159.5h0M522.7 158.9h0M567.1 159.3h0M544.1 159.6h0M570.9 159.8h0M568.6 159.1h0M542.3 158.7h0M568.7 160h0M570 159.5h0M568.5 158.7h0M548.2 160.1h0M567.3 159.9h0M568 158.8h0M544.5 159.9h0M545.2 159.7h0M535.3 158.2h0M547.3 159.3h0M541.9 159.4h0M536.7 158.4h0M568.5 158.6h0M568.4 159.6h0M545.5 159.7h0M533.2 159h0M607.6 146.6h0M570.3 160.1h0M547 160h0M566.7 158.9h0M543.5 159.3h0M576.2 159.9h0M567.3 159.1h0M578.4 158.3h0M567.4 159.5h0M546.1 159.1h0M547.4 159h0M567.8 159.8h0M569.3 159.4h0M542.6 159.1h0M569.4 159.3h0M547.3 160h0M546.1 159.5h0M545.4 159.4h0M548.3 158.1h0M548.5 158.8h0M543.7 159h0M545.1 159.3h0M568.9 158.9h0M547.2 159.1h0M548.4 159.4h0M591.7 158.9h0M533.9 159.6h0M545 159.8h0M542.3 158.5h0M569.5 158.7h0M575.1 158.9h0M540.8 158.8h0M577.8 158.2h0M537.2 159.3h0M572.7 159.2h0M566.6 159.4h0M569.6 160.1h0M574.7 158.7h0M573.1 160.1h0M569.6 159.7h0M546.6 158.7h0M566.9 159.6h0M581.3 158.4h0M571.1 159.7h0M548.3 159.9h0M571.5 160h0M543.2 158.9h0M547.5 159.8h0M539.3 159.2h0M567.1 159.9h0M572.9 159h0M568.4 159.4h0M538.4 159.7h0M536.8 159.2h0M567.1 159.7h0M543.6 158.8h0M548.5 159.7h0M545.5 160.1h0M568.4 159.3h0M569.8 159.9h0M568 158.8h0M575.2 158.2h0M567.9 158.8h0M548.4 158.6h0M546 159.6h0M569.9 159h0M546.1 159.7h0M542.8 158.5h0M546 159.7h0M542.1 158.5h0M567.9 159.8h0M546.5 160h0M566.5 159h0M576.4 158.5h0M566.9 159.3h0M539.1 158.8h0M535.6 159h0M569.4 160h0M538.6 159.9h0M573.1 159.1h0M567.3 159h0M534.2 158.5h0M545.9 159h0M566.5 159.9h0M566.9 159.6h0M569.9 158.8h0M548.1 159.8h0M541.6 158.8h0M568.6 158.2h0M580.9 158.5h0M573.5 158.3h0M541.8 159.9h0M574 159.1h0M543.4 159.7h0M568.4 159.2h0M568.3 159.9h0M568.3 159.2h0M544.5 159.3h0M546.9 160.1h0M567.4 159.1h0M547.6 160h0M543.2 158.3h0M546.4 159.2h0M572.1 159.7h0M574.5 158.6h0M580.7 158.1h0M571.3 159.6h0M569.8 160.1h0M567.2 158.7h0M548.2 160.1h0M528.8 159.5h0M547.2 159.5h0M566.8 158.9h0M545.6 159.4h0M567.5 160h0M547.2 159.6h0M566.5 160.1h0M582.8 159.5h0M543 159.9h0M535.3 159.4h0M573.7 159.7h0M621.6 148.7h0M566.9 159.4h0M577.8 158.4h0M573.9 159.2h0M567 159.5h0M574.4 159.8h0M547.4 160h0M545.5 159.8h0M537.9 158.9h0M544.6 159.9h0M546.1 158.8h0M525.3 157.8h0M537.8 158.5h0M543 159.6h0M521.9 160h0M539.1 159.1h0M517.6 149h0M543 160.1h0M567.8 159.4h0M569.8 159.7h0M520.5 156.3h0M547.4 160h0M594.4 158.4h0M548.5 159.4h0M566.6 158.9h0M516 148h0M548.3 158.9h0M548.3 158.9h0M575.3 158.4h0M547.7 158.9h0M567.3 158.5h0M571.7 159.6h0M582.7 159.5h0M544.2 159h0M542.9 159.9h0M545.7 159.7h0M570.1 160.1h0M574.9 158.8h0M579.9 158.6h0M545.3 159h0M566.6 159.9h0M546.2 160.1h0M571.9 158.8h0M569.4 159.2h0M543.7 159.3h0M568.2 159.6h0M548.4 158.8h0M568.2 159.8h0M570.1 159.5h0M568.9 159.6h0M547.5 160h0M541 158.3h0M546.9 159h0M548.4 159.9h0M546.4 158.3h0M570.2 159.3h0M548.5 158.7h0M547.9 159.3h0M547.8 159.1h0M567.3 159.4h0M567.1 158.8h0M544.8 158.8h0M535.6 159.7h0M546.2 159.8h0M567 158.8h0M547.9 159.8h0M546.7 159.7h0M567.6 159.2h0M576.7 159.5h0M572.7 159.3h0M567.2 159.2h0M575.6 158.2h0M545.3 159.1h0M547.8 158.5h0M568.3 159.7h0M548.3 159h0M547.3 158.4h0M546.3 159.9h0M548.2 160h0M574.4 158.5h0M525.2 159.7h0M544.8 159.8h0M545.1 158.1h0M568.8 159.6h0M544.5 159h0M574.2 159.9h0M543.2 159.1h0M540.6 158.7h0M572.5 159.7h0M548.3 160h0M585.2 159.2h0M568.3 159.5h0M568 159.8h0M546.1 158.2h0M545.7 158.7h0M543 159h0M545.2 160h0M581.7 159.7h0M545.9 160h0M537.8 158.1h0M532.9 158.6h0M580 158.8h0M547.8 158.9h0M542 159.8h0M570.4 159.2h0M543.6 158.2h0M545.8 159.8h0M541.2 159.8h0M568.2 159.4h0M548.3 159.6h0M570.2 158.8h0M589.7 159.3h0M535.4 159.1h0M545.8 159.7h0M542.6 158.7h0M570.6 159h0M574.3 159.4h0M568 159.1h0M547 159.9h0M568.6 159.9h0M548.4 159.1h0M566.8 158.8h0M548.3 159.5h0M576.1 158.6h0M547.4 160.1h0M575.1 159.4h0M567.2 159.8h0M567.6 158.9h0M570.3 159.6h0M548.5 158.2h0M578.2 158.3h0M543.6 159.7h0M568.1 158.8h0M544 159.8h0M544.4 158.7h0M545.5 158.2h0M569.3 159.1h0M541.2 159.5h0M569.5 160.1h0M546.2 159.5h0M571.3 159.1h0M548.5 159.6h0M545.2 159.7h0M546.5 158.7h0M541.4 159.3h0M546.8 159.7h0M568.2 159.2h0M539.4 158.5h0M547.3 159.1h0M567.6 159.9h0M544.8 158.9h0M548.5 158.5h0M567.2 158.8h0M528 159h0M543.4 159.3h0M572 158.5h0M566.8 159.4h0M572.4 158.8h0M546.6 158.9h0M566.8 158.8h0M570.6 159h0M573.2 159.4h0M546.5 159.6h0M547.2 158.1h0M545.2 159.5h0M569.8 160.1h0M548.5 159.1h0M542.2 159.3h0M567 158.3h0M544.6 158.6h0M543.3 158.9h0M569.2 159.3h0M578.5 159.6h0M570 159.9h0M539.6 158.8h0M566.8 159.8h0M548.1 159.2h0M566.5 158.9h0M572 159.9h0M528.8 158.1h0M548.6 159.5h0M567 159h0M546.8 160h0M569.3 159.7h0M575 160h0M543.7 159.9h0M568.3 160h0M546.8 159.4h0M544.8 159.1h0M544.2 158.3h0M545.9 160.1h0M567 158.8h0M569.7 159.3h0M545.9 159.9h0M567.1 158.9h0M576.6 160.1h0M546.4 158.9h0M548.5 159h0M532.3 159.2h0M546.6 159h0M573.9 158.9h0M585.9 158.5h0M569 159.9h0M569.9 158.8h0M573.7 160h0M567.9 160h0M568.8 158.9h0M546.9 159.1h0M545.6 159.9h0M547.3 159.1h0M544.3 158.6h0M544.6 159.4h0M574.8 159.7h0M568.7 160h0M572.7 158.4h0M567.1 158.9h0M544 160h0M545.3 159.4h0M537.2 160h0M547.5 160h0M538 159h0M574.6 159.4h0M546.5 158.8h0M538.4 158.1h0M566.8 159.5h0M580.5 159.1h0M548.3 159.3h0M567.1 159.6h0M579.5 159.4h0M536.4 159h0M570.1 159.4h0M525 158.4h0M570.2 159.3h0M533 158.3h0M545.2 159.1h0M567 158.9h0M543.2 159.4h0M570.4 159.2h0M582 159.7h0M569.4 159.9h0M547.8 159.8h0M548 159.4h0M547.4 159.1h0M576.7 158.9h0M539.2 159.2h0M541.5 159.7h0M544.8 159.7h0M548.1 159h0M548 159.8h0M570.7 159.2h0M541.1 159.2h0M566.6 159.2h0M597.9 156.5h0M524.9 156.7h0M546.6 158.5h0M542.6 159.5h0M567.1 159.7h0M547.6 159.3h0M537.4 159.9h0M546.8 159.2h0M570.9 158.8h0M567.6 158.9h0M569.8 160h0M545.5 159.9h0M546.3 158.8h0M546.4 159.1h0M566.4 158.5h0M531 158.5h0M568.7 159.9h0M566.5 158.9h0M548 158.7h0M546.4 159.4h0M569.8 160h0M567.1 159.9h0M546 158.6h0M540.4 159.2h0M574.3 159.6h0M571.7 159.9h0M570.4 159.4h0M543.8 159.1h0M569.1 159.2h0M538.7 158.5h0M576.6 159.2h0M572.1 158.6h0M547.8 159.6h0M567.8 159.8h0M517.9 158.1h0M567.1 159.2h0M571.2 158.4h0M573 159.8h0M546.1 158.9h0M569.6 159.4h0M578.1 158.2h0M541.4 158.2h0M547.3 158.5h0M581 158.5h0M548.5 159.6h0M546.6 159.9h0M542.4 158.6h0M571.4 159.1h0M573 159.9h0M569.1 158.6h0M568.1 159.8h0M548.5 159.9h0M544.1 159.4h0M545.1 159.4h0M542.8 158.7h0M545.1 159.9h0M544.3 158.7h0M548.1 159.8h0M569.2 158.5h0M544.3 158.3h0M566.7 159.6h0M572.1 159.3h0M567.2 159.5h0M544.9 159.5h0M569.6 159h0M578.3 159.6h0M573.8 159.6h0M540.6 160h0M569.9 159.1h0M570.7 158.7h0M568.5 159.6h0M567 158.8h0M568.2 158.9h0M517.9 150h0M569.4 159.5h0M568.1 159.7h0M547.5 159.4h0M575.3 159.8h0M605.6 152.5h0M570.2 159.2h0M566.5 158.9h0M544.5 159.1h0M568.1 159.4h0M548.2 159.9h0M573.7 158.4h0M534.5 158.9h0M537.5 159.4h0M538.6 158.1h0M571.8 160h0M573.3 159.4h0M567.6 159.4h0M582.4 159.1h0M543.7 158.7h0M542.9 160h0M543.3 160.1h0M569.5 159.6h0M545.3 159.6h0M546.7 159.8h0M568.3 159.6h0M573.5 159.5h0M566.8 159.3h0M567.7 159.9h0M547.3 159.9h0M548.3 159.4h0M540.7 159.9h0M548.3 159.9h0M539.9 160h0M546.2 160h0M547.5 158.1h0M571.9 158.9h0M567.3 159.5h0M548.3 159.9h0M546.1 158.5h0M547.7 159.5h0M547.2 159.5h0M545 159.6h0M568.5 159.5h0M572.1 159.2h0M568.1 159.3h0M572.6 159.2h0M544 159h0M544.7 159.4h0M547 159h0M541.6 160.1h0M568.2 159.9h0M545 159.9h0M570.6 159.6h0M547.8 159.3h0M569.6 159.9h0M566.9 159.1h0M567.6 159.7h0M566.6 159.3h0M542.1 158.7h0M545.9 159.1h0M573.3 159.6h0M568.8 158.3h0M567.8 160h0M537.9 159.6h0M569.8 158.2h0M573.3 159.7h0M569 159.1h0M543.4 159.1h0M543.8 159.2h0M541.8 158.9h0M546.9 159.8h0M571.4 159.6h0M567.1 159.5h0M569.4 159.9h0M547.9 158.5h0M579.1 159h0M566.7 159.6h0M541.3 158.6h0M570.8 159.7h0M547.7 159h0M547 160h0M567.7 160h0M586.3 158.5h0M572.8 158.5h0M576.5 159.9h0M573.2 159.2h0M569.8 159h0M566.4 160.1h0M545.4 159.5h0M570.4 159.1h0M566.5 158.9h0M567.3 159.5h0M567.6 159.3h0M548 158.4h0M578.2 159.6h0M570.8 159.1h0M547.2 158.1h0M548.2 159.3h0M543.5 158.4h0M546.3 158.7h0M543.7 159.6h0M568.5 158.3h0M544.1 160h0M545.5 159.5h0M544 159.5h0M571.3 159.4h0M568.7 159.5h0M568.1 160h0M541.2 159h0M568 158.3h0M568.4 158.4h0M567.8 159.3h0M569.9 158.5h0M567.4 158.2h0M566.8 159.7h0M546.5 159.4h0M568.7 159.9h0M582 159.2h0M548.4 159.4h0M575.3 159.3h0M579.2 158.9h0M548.4 159.1h0M568.2 159.5h0M567.4 159.4h0M548.4 159.9h0M570 158.1h0M538.4 158.1h0M569.8 158.8h0M505.4 146.3h0M540.3 158.6h0M547.9 159.2h0M575 159.2h0M572.8 158.3h0M546.1 159.9h0M544 159.9h0M571 158.9h0M569.2 159h0M538.7 159.1h0M547.2 159.4h0M567.7 158.6h0M570.1 158.8h0M535.9 159.5h0M547.2 160h0M547.7 159.3h0M544.5 159.1h0M570.5 158.5h0M569.8 159.9h0M547.6 159.4h0M538.3 159.5h0M543.2 158.5h0M542.6 159.6h0M570.2 158.4h0M546.5 159.3h0M529.1 158.2h0M569 159.3h0M547.7 159.5h0M574.8 158.2h0M574.7 160.1h0M538.4 159.8h0M567.5 160h0M569.6 159.7h0M546.6 159.9h0M536.4 158.6h0M580.3 158.8h0M545.1 159.4h0M547.3 159.4h0M571.2 159.8h0M567.1 160.1h0M575 159.8h0M566.9 159.2h0M546.2 158.4h0M568.8 159.9h0M544.1 160.1h0M568.3 160h0M578.2 158.3h0M571.6 158.7h0M568.8 159.1h0M547.2 159.4h0M573.1 159.2h0M570.8 158.7h0M545 159.5h0M575.7 159.8h0M586.4 158.1h0M568 159.7h0M568.1 158.5h0M569 159.8h0M571.6 159h0M569.8 159.4h0M547.3 158.3h0M547.6 158.3h0M567 159.1h0M568.9 159.7h0M568.5 158.9h0M538.5 158.5h0M547.4 159.5h0M572.6 159.1h0M545.2 159h0M548.4 159h0M570.5 159h0M543.7 160.1h0M577.7 158.1h0M545 158.4h0M547.8 158.3h0M569.4 158.1h0M572.2 159.9h0M571.8 159.3h0M548.4 159.2h0M570.6 159.7h0M547.4 158.5h0M544 160h0M569.4 159.2h0M579.4 158.8h0M545.4 158.3h0M545 159.1h0M567.3 159.7h0M567.9 159.9h0M547.9 159.4h0M544.2 159.6h0M540.4 159.8h0M573.8 159.3h0M567.7 158.8h0M578.9 158.4h0M577.1 159.3h0M544.5 159.9h0M545.6 159.5h0M567.8 159.2h0M546.5 159.1h0M544.1 158.8h0M543 158.3h0M568.7 158.8h0M547.1 159.5h0M543.8 159.8h0M567.6 159.9h0M548 159.7h0M579.9 159.5h0M568.3 160h0M531.2 159.9h0M566.7 158.5h0M576.3 159.9h0M538.2 158.6h0M545.6 159.3h0M575 159.5h0M541.8 158.2h0M544.8 160h0M546.7 159.7h0M546.6 159.5h0M543.9 158.9h0M546.6 159h0M548.2 159.6h0M569.6 159.7h0M568.9 159.3h0M544.3 158.9h0M571.6 158.2h0M548.1 159.1h0M541.4 158.8h0M547.4 159h0M548.5 159.9h0M568.2 158.4h0M542.5 158.9h0M573.5 158.4h0M546.7 158.6h0M571.4 158.4h0M542.6 159.4h0M570.7 159.5h0M573.3 158.8h0M569.8 159.3h0M569.6 159.4h0M521.8 155.9h0M546.2 159h0M535.1 159.1h0M543 159.3h0M547.5 159.1h0M538.9 159.6h0M543.3 160h0M546.3 159.7h0M548 158.8h0M566.7 159h0M567.4 158.7h0M547.8 159.6h0M568.5 159h0M572.9 159h0M547.4 158.9h0M566.8 159.3h0M569.8 158.2h0M548.3 159.2h0M543.6 158.2h0M547.1 159.7h0M567.6 159.9h0M573.2 159.6h0M569.1 159.2h0M566.8 160.1h0M576.8 159.3h0M567.1 159.7h0M544.7 160.1h0M573 160.1h0M546.8 158.5h0M544.5 159.2h0M545.6 159.1h0M567.4 160h0M569.4 159h0M548.5 158.9h0M547.2 159.1h0M572.2 159h0M568.7 159.7h0M547.9 158.1h0M548.2 159.7h0M568.9 160h0M547.2 159.3h0M542.9 160h0M545.8 159.1h0M542.5 159.3h0M548.1 159.7h0M576.7 159.9h0M567.3 159.3h0M544.4 159.6h0M542.2 159.1h0M534.4 159.8h0M567.1 159.7h0M570.5 160.1h0M569.8 159h0M545.9 160h0M546.1 159.1h0M545.7 159.1h0M566.8 159.5h0M567.1 159h0M539 158.1h0M569.2 158.4h0M512 146.1h0M547.3 158.5h0M574.5 160h0M567.1 158.4h0M535.9 159h0M547.8 159.4h0M569.3 158.7h0M545.8 159.3h0M569 159.4h0M566.7 159.9h0M546.1 159.3h0M569.3 159.7h0M546.2 159.7h0M546.6 160.1h0M566.9 159.8h0M567.1 158.9h0M537.1 158.1h0M567 158.4h0M548.1 159.6h0M547.5 158.6h0M568.2 159.1h0M576.7 159.7h0M544.5 159.2h0M547.1 159.6h0M567.8 158.7h0M566.6 160h0M577.2 158.6h0M548.2 158.9h0M547.9 159.3h0M567.6 159h0M566.5 159.2h0M575 159.8h0M540 159.6h0M567.5 159.7h0M535.6 159.7h0M570.5 159.2h0M544.3 159.3h0M542.6 158.5h0M566.7 159.1h0M566.7 159.8h0M571.2 159.9h0M547.7 158.7h0M544.6 158.4h0M570.1 159.2h0M578.2 159.2h0M546.9 160h0M548.5 159.6h0M569.6 159.9h0M546.1 158.8h0M570.7 159.5h0M566.9 158.5h0M567.4 159.1h0M567.5 159.5h0M544.3 158.6h0M543.3 158.8h0M540.4 159.4h0M570.4 158.7h0M567 159.6h0M546.7 159.5h0M572.1 159.8h0M547.6 158.8h0M567.8 159.8h0M545.4 159.6h0M569.8 160h0M575 159.2h0M569.4 159.8h0M548.2 159.6h0M539.2 160.1h0M510.1 151.3h0M568.5 159h0M567.1 158.8h0M548.2 160.1h0M566.5 159.6h0M566.8 160.1h0M569.6 158.8h0M547.3 159.5h0M569.3 159.7h0M547.3 160h0M607.7 151.5h0M547.5 159.6h0M572.2 158.2h0M547.2 160h0M569.5 159.6h0M566.9 159.7h0M569.6 159.1h0M545.3 158.9h0M539 159h0M569.1 159.8h0M547.8 158.5h0M566.6 159.5h0M545.3 159.1h0M547.4 159.2h0M566.8 159.8h0M569.5 158.8h0M581 158.3h0M546.3 158.4h0M577.6 158.6h0M573.3 159.4h0M546.5 159.1h0M566.7 158.5h0M544.9 159h0M578.9 159.1h0M543.1 158.9h0M548 158.1h0M542.7 159.1h0M569.8 159.8h0M568.5 159.6h0M542.2 158.5h0M544.8 160h0M568.5 159.9h0M570.4 159h0M546.3 159.7h0M548.5 159.9h0M567.8 159.3h0M568.5 159.5h0M567.3 159.5h0M547.9 159.1h0M568.9 158.1h0M571.7 158.1h0M545.1 159h0M570.3 159.5h0M575.6 159.6h0M568.4 159.9h0M545 160h0M548 159.9h0M571.8 159.4h0M572.2 159.5h0M512.7 150.3h0M515.9 153.5h0M518.8 148.7h0M516.3 150.1h0M506.3 157.4h0M515.6 153.5h0M498.4 149.8h0M518.2 152h0M519.9 151.3h0M519.4 156.5h0M514.3 150.9h0M518.1 150.3h0M517 148.6h0M519.6 146.7h0M515.2 156h0M517.2 149.7h0M519.2 145.7h0M518 152.7h0M519.4 152.1h0M493.8 155.8h0M518.4 150.8h0M511.8 156.4h0M518 150h0M517.8 158h0M510.5 146.3h0M506.8 146.5h0M518.1 154.1h0M512.6 149.8h0M512.1 150.7h0M517.9 155.1h0M519.3 157.6h0M513 157.2h0M503.2 145.1h0M518.7 145h0M512.1 158.3h0M516.1 153.4h0M517 157.5h0M517.8 158.2h0M515.2 151.7h0M517.9 145.6h0M502.6 151.5h0M507 153.5h0M508.8 147.6h0M516.5 148.1h0M516.5 156h0M515.6 156.8h0M509.8 154.9h0M514.5 147.2h0M512.7 145.8h0M509.6 148.8h0M509.1 148.8h0M499.8 150.1h0M511.3 150.8h0M513.9 145.3h0M517.1 155.8h0M514.4 154.1h0M509.9 149.6h0M520 155.5h0M512.2 152.9h0M510.8 151.9h0M519 148.8h0M512.3 149.9h0M512.4 151.4h0M514.3 144.7h0M503.5 152.4h0M506.5 149.1h0M506.8 144.5h0M519.4 155.5h0M517.9 147h0M499.3 155.3h0M514.7 146h0M509.7 150.2h0M502 145.6h0M519.2 145h0M517.2 149.9h0M508.8 154.3h0M517.1 145.8h0M507.4 144.8h0M519.2 149.7h0M509.2 145.1h0M509.6 154.5h0M519.1 156h0M517.6 150.5h0M516.9 156.3h0M519.3 148.9h0M506.4 156.7h0M514.2 144.8h0M516.4 151h0M506.6 158.1h0M503.4 147.6h0M509.3 153.6h0M514.6 145.3h0M519.5 157.3h0M511.8 145.2h0M518.7 155.8h0M515 147.4h0M513.3 149.2h0M519.6 155.6h0M512.9 148.3h0M519.2 157.1h0M517 152.6h0M516.7 156h0M519.4 149.4h0M495.3 149.6h0M499.8 156.6h0M512.3 153.3h0M504.9 150.1h0M512.3 145.7h0M495 156.5h0M515.4 157.2h0M513.4 155.3h0M510.4 153.5h0M519.9 146.1h0M518.9 154.7h0M514.1 157.6h0M508.1 148.4h0M519 149.8h0M518.9 151h0M519.2 154.5h0M515.2 150.8h0M511.5 145.5h0M516.7 153.5h0M518.1 148.2h0M516.3 155.5h0M518.3 152.6h0M505.4 152.3h0M506.5 151.9h0M513 154.9h0M515.8 148.3h0M519.3 152.1h0M517.7 154.4h0M516.7 155.7h0M513.1 157.8h0M517.8 154.7h0M518.4 146.8h0M510.7 146.1h0M518.8 155.8h0M517 151.3h0M505.6 146.8h0M504.2 158.2h0M519.8 153.7h0M515.5 158.3h0M516.5 156.6h0M503.4 155.5h0M516.9 156h0M504.8 156.8h0M515.3 155.3h0M517.7 144.6h0M509.9 148.2h0M516.5 144.8h0M517.9 157.7h0M513.7 151.6h0M504 144.5h0M506.4 155h0M519.7 155.5h0M494.4 147.3h0M509.2 149.2h0M605.8 145.3h0M607.5 147.5h0M609.5 151.2h0M609.4 145.6h0M614.6 152.4h0M615.1 155.3h0M607.8 153.4h0M606 152.3h0M605.7 144.9h0M614.1 151.3h0M606 154.1h0M613 153.7h0M606.2 152h0M610 155.9h0M608 150.3h0M612.4 152.2h0M612.5 156.5h0M617.8 150.4h0M606.7 146.9h0M616.3 155.9h0M616.2 145h0M607.9 147.2h0M612 150.2h0M608.1 153.5h0M614 147.3h0M620 156.7h0M609.9 148.3h0M606.9 157.3h0M616.7 147.4h0M611.9 153.2h0M608.6 147h0M606.2 148.1h0M611.8 151.5h0M620.7 149.3h0M616.3 155h0M608.3 153.7h0M609.1 147.7h0M615.1 144.8h0M612.2 147.9h0M606.2 152.2h0M609 156.2h0M617.1 152.7h0M607.1 156.5h0M609.5 153.2h0M620.3 149.3h0M608.5 155.5h0M606 148.6h0M610.4 151.1h0M609.2 152.2h0M617.4 156.8h0M607 147.2h0M607.6 153.2h0M608.5 153.7h0M612.7 156.3h0M609.7 148.2h0M607.8 148h0M607.9 149.4h0M606.3 153.4h0M609.8 149.6h0M608.8 157.1h0M609.5 146.3h0M607.3 154.8h0M610.5 154.5h0M606.3 156.6h0M610.5 146h0M613 149.9h0M615.9 146.5h0M607.3 152.6h0M623.6 145.3h0M610.8 149.3h0M607.8 156.4h0M607.7 154.5h0M610.6 149h0M610.6 145.7h0M605.7 154.9h0M606.2 152.7h0M617.8 151.5h0M613.6 155.2h0M607.9 147.1h0M607.4 148h0M610.2 149h0M605.9 152.9h0M626.2 152.7h0M607.3 144.5h0M610.1 148.5h0M609 149.4h0M608.1 154h0M607.4 154.6h0" stroke="#2e8b2e" stroke-width="1.4" stroke-linecap="round" fill="none" stroke-opacity="1.0"/>
<path d="M579 154.6h0M576.8 155.6h0M590.9 146.3h0M568.1 152.6h0M574.7 155.8h0M543.1 145.8h0M539.7 152.5h0M543.5 151.2h0M544.6 156.3h0M546.8 154.1h0M570.6 157.7h0M575.3 156.6h0M535 146.8h0M574.6 157.7h0M544.3 154.7h0M580.1 146.3h0M533.6 150.7h0M529.6 154.4h0M587.4 158h0M542.7 155.5h0M537.5 150.8h0M584.8 151.2h0M547.2 156.7h0M573.2 155.5h0M577.6 150.2h0M590.6 154.9h0M547.5 153.6h0M547.2 151.7h0M575.2 157.5h0M539.4 153.3h0M569.1 155.1h0M573.6 151.1h0M568.6 152.7h0M537.6 156h0M577.1 147.8h0M533.2 153.7h0M547.5 144.5h0M532.5 150.6h0M584.8 156.9h0M572.4 156h0M538.7 149.3h0M544.3 156.8h0M543.9 157.3h0M544.4 155.9h0M545.7 150.2h0M567.9 157.4h0M578.5 154.2h0M566.6 154.5h0M566.5 154.4h0M544.6 156.8h0M535.3 158h0M580.7 148.4h0M572.7 155.1h0M577.1 157.9h0M583.5 147h0M544.5 154.5h0M543.5 156.3h0M579.5 156.1h0M544.6 155.8h0M571.9 148.1h0M544 152.5h0M581.2 146.3h0M546.6 157.2h0M569 157.9h0M579 153.8h0M547.6 156.7h0M568.2 156.3h0M548.2 154.4h0M524.5 147.4h0M571.5 156.1h0M530.5 154.8h0M579.5 154h0M581.3 150.6h0M539.2 156h0M584.5 152.8h0M573.6 149.9h0M540.8 156.6h0M573.5 157.2h0M574.6 150.4h0M535.4 151.8h0M571.5 157h0M530.5 153.8h0M591.9 149.5h0M544.6 152h0M538.9 156.9h0M536.9 147.8h0M568.2 152.2h0M538.6 149.8h0M534.3 155.8h0M576.3 155.6h0M567.6 155h0M539.6 155.7h0M570 156.2h0M569.6 153.4h0M545.9 157.2h0M541.6 157.9h0M547.5 153.8h0M570.4 155.8h0M569.5 154h0M578.8 152.4h0M538.7 153.7h0M577.1 158h0M544.7 155.3h0M545.9 154.3h0M548.2 157.8h0M589.8 152.2h0M573.4 152.9h0M534.9 154.8h0M540.9 147.7h0M568.6 155.9h0M569.7 155.7h0M532.5 149.6h0M575.5 154.8h0M541.1 156.8h0M575.1 157.6h0M545.7 157.4h0M577.3 156.1h0M568.8 149.9h0M577.8 146.6h0M548.5 151.3h0M538.5 148.2h0M546.7 154.3h0M539.3 158h0M577.6 157.5h0M578.5 147.6h0M539.6 148.4h0M548 153.4h0M543.1 149.8h0M579.7 151.3h0M570.8 158h0M579.7 157.2h0M573.8 156.9h0M573.3 153.2h0M567.2 157.7h0M533.8 146.7h0M567 152.8h0M573.1 155.4h0M590.2 148.6h0M542.3 155.4h0M571.1 154.3h0M522.3 150.1h0M547.6 155.4h0M543.2 157.8h0M572.1 152.8h0M548.3 158h0M533.5 157.1h0M566.8 154.9h0M581.7 156.5h0M578.7 153.6h0M539.9 153.7h0M536.7 156.5h0M577.8 152.5h0M543.9 153.7h0M581.8 151.9h0M585.3 151.7h0M543.4 147h0M540.4 153.1h0M537.2 148.4h0M568.2 157.2h0M566.6 158h0M538.6 147.1h0M539.8 147.3h0M571 157.5h0M536.5 151.6h0M576.9 147.2h0M542.2 147.1h0M546.4 152.6h0M547.8 155.6h0M576.2 154.4h0M542.1 157.8h0M577.3 154.4h0M543 153.9h0M544 150.9h0M568.2 153.4h0M572.5 145.4h0M574.2 154.7h0M573.1 156.3h0M537.5 150h0M566.4 157.7h0M598.2 144.6h0M545.9 154.7h0M586.6 148.9h0M539.5 151.7h0M534.9 157.7h0M539.8 149.8h0M571.6 152.9h0M542.6 150.9h0M541.8 153.7h0M570 150.2h0M572.9 155.1h0M548.5 153.8h0M546.1 155.7h0M535.6 151.7h0M548 152.8h0M538.5 150.6h0M578.7 155h0M567.2 152.8h0M577.8 151.2h0M542.9 154.9h0M570.7 155.7h0M575.8 146.7h0M546 157h0M580.5 153.1h0M545 147.6h0M531.1 151.9h0M538.8 145.8h0M540.8 157.3h0M571.8 152.6h0M573.6 155.7h0M544.3 156h0M598.1 153.5h0M573.2 151.4h0M547.8 153.2h0M546.7 150.9h0M572.5 154.5h0M536.4 155.1h0M569.3 158h0M548.4 157.4h0M573.9 156.2h0M582.3 145.2h0M570.4 146.9h0M566.9 157h0M535.2 156.8h0M526.2 147.4h0M547 156.1h0M537 155.4h0M572.1 148h0M533.9 150.9h0M548.5 153.8h0M546.2 151.4h0M536 148.1h0M578.4 157.2h0M583.8 157.9h0M573.5 157.6h0M571 157.3h0M541.4 155.1h0M534.7 150.2h0M578.8 144.5h0M545.1 145.7h0M572.9 157.2h0M580.9 150.1h0M573.8 155.9h0M568.5 152.4h0M567.5 157h0M548.1 156.6h0M579.8 150.9h0M574.4 154.3h0M544.6 156.8h0M539.8 157h0M539.9 153.7h0" stroke="#3a9a3a" stroke-width="1.2" stroke-linecap="round" fill="none" stroke-opacity="0.7"/>
<path d="M562.9 160h0M559.3 159.5h0M564.9 159.7h0M562.1 159.9h0M555.8 159.9h0M558.1 159.2h0M559.7 159h0M563.4 159.4h0M549.8 158.8h0M552.5 159.3h0M552.4 156.9h0M556.1 159h0M562.6 159.2h0M565.4 159.6h0M556.9 159.9h0M562.1 159.6h0M551.3 150.8h0M554.2 158.8h0M560.3 159.8h0M554.1 160.1h0M555 158.8h0M557.4 159h0M557.1 159.2h0M560.1 159.9h0M557.6 159.9h0M557 158.9h0M564.8 159.8h0M559.6 158.9h0M557.2 160h0M560.4 159h0M563.5 159.4h0M554.9 159.6h0M559.9 158.9h0M562.2 160.1h0M558.3 159.2h0M557.9 159.8h0M549.5 159h0M555.9 160h0M553.4 159h0M557.1 159.9h0M561.7 158.8h0M560.2 159.8h0M557.2 159.3h0M555 158.9h0M552.2 158.9h0M561.9 159.4h0M560.3 159.1h0M558.2 159.3h0M552.6 159.1h0M562.7 150h0M554.3 159.1h0M561.9 159.5h0M557.9 160h0M554.3 158.8h0M557.3 159.7h0M554.8 159.7h0M553.5 158.8h0M560.3 159.5h0M565 159.9h0M552.7 159.2h0M565.9 159.3h0M556.4 158.9h0M565.4 159.6h0M556.7 159.9h0M557.2 159.9h0M558.6 159.7h0M550.1 159.5h0M557.5 159.1h0M566.2 159.2h0M550.6 159h0M550.4 158.8h0M560.2 159.2h0M557.2 159.9h0M557.3 159.9h0M560.1 159.2h0M557.6 159.5h0M553.3 158.8h0M556.5 160.1h0M557.2 159.6h0M561.3 159.8h0M558.5 159.1h0M557.7 158.9h0M553.5 159.3h0M558 160h0M561 159.9h0M554.1 159.7h0M556.3 159.5h0M557.4 159.7h0M561.5 159.7h0M554.2 158.9h0M566.3 158.9h0M552.1 159.9h0M556 159h0M566.2 159.3h0M557.5 159.5h0M559.2 159.7h0M557.9 158.8h0M563.4 159.4h0M557.4 160h0M561.6 159.8h0M561.5 159.6h0M561.7 159.1h0M555.7 158.8h0M562 159.7h0M548.7 158.1h0M548.7 156.9h0M560 159.4h0M558 160h0M560.4 159.7h0M566.2 159.6h0M561.8 159.6h0M555.2 159.9h0M560.5 159.6h0M555.7 159.5h0M552.4 160h0M552.5 158.8h0M558.1 159h0M552.7 159.9h0M555 159.6h0M557.1 159.7h0M562.2 158.9h0M557.7 158.8h0M557.8 159.4h0M554.9 159.2h0M555.9 159.6h0M558.7 159h0M553.5 158.8h0M561.7 160h0M564.5 160.1h0M555.2 159.8h0M560.5 160h0M551.8 160.1h0M555.4 158.8h0M552.3 159.7h0M561.7 159.6h0M555.5 158.9h0M552 160.1h0M563.1 160h0M560.6 159.4h0M557.3 159.6h0M559 159.7h0M556.2 160.1h0M549 158.6h0M552.9 159.5h0M557.6 159h0M554.5 160h0M557.6 160h0M555.5 158.8h0M558.5 159.1h0M558.1 159.3h0M557.2 159.6h0M555.2 159.8h0M560.6 160h0M559.1 158.8h0M556.1 158.9h0M561.2 159.3h0M562.7 159.9h0M563.8 160.1h0M556.8 159.7h0M558.4 160h0M555.7 159.2h0M561.8 159.5h0M551 159.7h0M560.9 158.9h0M557.4 159.1h0M558 159.5h0M551.4 160.1h0M555 159.6h0M566.3 159.4h0M556.5 159h0M556.8 158.8h0M556.3 158.8h0M562.1 160h0M559 159.9h0M563.6 159.5h0M558.2 159.3h0M558.5 159.9h0M558.3 159.5h0M552.7 160h0M552.8 159.4h0M559.8 160h0M555.8 159.6h0M563 159.8h0M557.5 159.7h0M557.4 159.9h0M549 156.2h0M565.4 159h0M558.1 159.9h0M556 159.2h0M557.5 160h0M561.9 159.3h0M562.1 159.8h0M553.2 160.1h0M555.1 159.2h0M557.6 159.4h0M550 156.2h0M557.2 158.9h0M556.8 159h0M557.6 159.6h0M563.5 158.8h0M559.2 159.8h0M553.6 158.8h0M558.1 159.3h0M553.8 159.1h0M556 159h0M559.9 158.9h0M561.5 159h0M557.1 160h0M555 159.5h0M558 159.1h0M558.5 159.1h0M562.6 159.4h0M561.7 159.1h0M557.6 159.4h0M560.5 158.8h0M563.2 160h0M559.3 158.9h0M558.2 158.9h0M549.1 159.8h0M560.8 159.9h0M557.1 159h0M554.3 159.5h0M552.3 159.5h0M555.1 159.7h0M552.7 159.8h0M560.3 159.4h0M561 158.8h0M555.7 158.8h0M551.1 159.8h0M556.4 159.6h0M557.3 159.2h0M559.2 159.6h0M563.3 159.3h0M553.8 159.1h0M551.3 159.2h0M556.5 160h0M559.8 159.2h0M556 159.3h0M552.6 159.9h0M558.2 159.4h0M560.9 158.8h0M551.3 154.6h0M564 159.1h0M559 160.1h0M562 159.4h0M556.9 159.4h0M557.8 159.8h0M558.1 159.2h0M556.6 158.8h0M553.8 159h0M556.9 159.9h0M555.5 159.7h0M558.9 159.8h0M557.7 159.8h0M560.7 159.2h0M551.4 160h0M559 159h0M555.7 159.5h0M553.3 159.4h0M561.2 159.4h0M558.4 159.2h0M553 159.3h0M556.6 158.9h0M552.3 159.6h0M554.5 159.3h0M560.3 159.6h0M560.6 159h0M556.4 159.3h0M556.6 159.1h0M552.5 159.7h0M556.7 159h0M559.3 159h0M552.2 159h0M552.2 159.7h0M558.5 159.2h0M558.1 159h0M565.6 159.3h0M556.7 159.2h0M557.9 160.1h0M550.1 159.1h0M552.1 158.8h0M560.6 160.1h0M554.3 160h0M557.4 158.9h0M559.8 159.3h0M556.4 159h0M555.2 159.5h0M558.6 159h0M556.8 158.8h0M552.7 159.9h0M559.5 159.2h0M557.7 159.5h0M562.3 159.7h0M557.8 159.1h0M551.7 159.8h0M557.5 159.5h0M558.3 159.8h0M556.3 159.9h0M553.4 159.6h0M557.3 158.7h0" stroke="#4a4a4a" stroke-width="1.3" stroke-linecap="round" fill="none" stroke-opacity="1.0"/>
<path d="M548.8 130.3h0M549.9 141.3h0M551.7 135.6h0M566 144.1h0M550.5 143.3h0M566 141h0M566.4 139.4h0M566.3 108.1h0M566.2 124h0M564.7 139.2h0M548.9 143.7h0M566 126.2h0M564.6 128.6h0M565.1 123.3h0M565.4 138.8h0M565.5 143.8h0M550 136.1h0M551.4 141.2h0M564.7 132.6h0M548.8 139.1h0M565.6 133.4h0M548.7 143.4h0M551.6 138.6h0M565 138.6h0M562.8 142.1h0M565 122.6h0M565.9 140.1h0M566.2 143.3h0M563.6 136.4h0M563.7 143.8h0M549.7 133.8h0M565.8 135.1h0M551.5 144h0M552.7 143.9h0M564.5 140.6h0M566.3 143h0M566.4 137.1h0M566.3 135h0M565 141.2h0M548.9 138.5h0M550.3 143.6h0M563.4 144.1h0M566.4 127h0M551.2 140.7h0M565.7 143.7h0M565.7 116.8h0M550.1 134.7h0M548.7 133.3h0M549.3 129.9h0M550.3 143.4h0M566.3 143.2h0M565.2 132.6h0M550.8 137.2h0M565.4 138.1h0M566.4 137.4h0M563.8 136.9h0M549.5 136.3h0M562.2 143.1h0M550 129.2h0M551.6 132.5h0M563.9 130.5h0M550.6 123.5h0M562 144.1h0M565.7 138.3h0M564.7 143.2h0M549.9 142.8h0M563.9 141.4h0M564.2 130.6h0M565.9 122h0M551 141.5h0M549.1 138.5h0M549.9 137.4h0M565.8 141.9h0M549.1 141.7h0M548.6 124.4h0M551.1 143.9h0M548.6 133.1h0M549 144.1h0M566.3 139.8h0M562.7 138.7h0M564.8 143.6h0M565.4 134.6h0M566.4 133.8h0M563.6 141.7h0M550.6 136.6h0M565.6 140.4h0M549.2 132.5h0M548.6 143.3h0M564 141.7h0M566.4 143.7h0M564 131.6h0M548.7 112.5h0M549.6 130.2h0M550.2 143.2h0M566.1 143.7h0M564.8 132.4h0M563.9 136.1h0M549 126.3h0M563.3 144h0M550.6 133.1h0M550.8 142.1h0M564.8 118.8h0M562.8 138.8h0M549.6 141.8h0M563.2 138.8h0M548.6 137.6h0M566.4 131.2h0M548.7 113h0M566.3 140.9h0M550.8 126.7h0M564.2 140.7h0M565.5 136.2h0M564.8 136.9h0M551.8 133.7h0M551.3 128.6h0M565.5 138.2h0M550.9 133.8h0M549 128.4h0M565 143.5h0M563.1 135.9h0M549.6 132.4h0M563.6 138.6h0M552.5 141.5h0M562.7 143.2h0M550.7 142.3h0M565.9 130.6h0M566 141.4h0M551.2 141.3h0M565.7 131.7h0M566.1 142.4h0M563.9 137.8h0M548.6 128.9h0M549.8 135.9h0M549.5 132.2h0M549.5 139.1h0M550.7 136.9h0M566 125.7h0M564.2 137h0M564.5 133.8h0M550 142h0M565.7 139.4h0M566.4 141.7h0M564.3 121.9h0M566.3 135.1h0M565.4 127.2h0M563.9 135h0M566 133.3h0M548.9 134h0M564.9 131.2h0M549.2 139.6h0M565.6 125.9h0M550 117.8h0M550.4 141.8h0M548.6 104.5h0M563.8 135.2h0M549.4 131.2h0M565.4 125h0M565.8 143h0M566.2 139.8h0M564.1 137.2h0M565.5 120.4h0M564 132.4h0M564.7 138.8h0M565 139.9h0M566.1 115.1h0M566.1 143.8h0M552.1 139.3h0M566 131.7h0M563.7 135.2h0M549.2 133.5h0M564 136.4h0M548.8 130.7h0M552.2 140.8h0M549.3 138.5h0M548.8 138.2h0M549.1 140.5h0M550.6 128h0M550 129.8h0M565.3 131.2h0M566.3 138.4h0M566.4 143h0M551.5 143.6h0M566.3 135.7h0M565.2 129.4h0M565.4 128.7h0M549.4 129.8h0M550.7 139.7h0M563 142.4h0M564.3 123.9h0M563.4 144.1h0M566.2 139.1h0M566.4 124.9h0M550.4 134.6h0M566.2 127.2h0M562.5 139.8h0M549 138.2h0M563.7 140.8h0M549.2 137.4h0M549.9 130.2h0M548.9 132.8h0M566.3 129.3h0M552.4 142h0M548.7 124.8h0M566.4 139.8h0M564.3 132.4h0M565.2 134h0M564.4 138.1h0M563.6 141.7h0M563.5 141.1h0M562.6 142.1h0M565.7 140.6h0M550.2 142.7h0M566.4 143.2h0M566 139.2h0M549.9 126.7h0M549.3 132.8h0M550.2 127.6h0M552.5 140.5h0M552.4 143h0M565.9 127.7h0M564.8 140.8h0M564.3 142.7h0M550.2 130h0M563.4 141h0M549.7 130.5h0M565.9 130.2h0M566.4 140.1h0M548.9 131h0M552.1 136.1h0M562.7 143.4h0M565.5 139.2h0M548.6 130.7h0M566 141.7h0M551.7 141.1h0M548.8 133.4h0M550.9 143.1h0M552 136.4h0M564.5 142h0M563.2 136.8h0M548.8 141.7h0M564.2 137.1h0M550.9 141.5h0M566.1 142.7h0M548.7 138.5h0M564.7 125.3h0M566.3 128.7h0M564.8 140.7h0M565 139.6h0M549.6 131.5h0M551.7 137.9h0M548.6 125.4h0M565.9 136.6h0M551.7 137.6h0M549.5 139.2h0M562.6 141.7h0M549.2 137.2h0M548.7 140.4h0M549.9 125.6h0M565.7 141.1h0M551.6 142.4h0M552.5 141.5h0M550.1 136.2h0M551.4 142.3h0M565.3 141.1h0M548.9 142h0M548.6 133.3h0M551.3 134.2h0M549.2 143h0M563.1 140.8h0M565.5 139.1h0M565.1 131.6h0M550.2 142.5h0M564.7 133.6h0M551.1 129.5h0M550.4 140.4h0M566.4 128h0M551.2 142.5h0M566.2 143.7h0M552 138.3h0M549.1 130.1h0M563.3 139.1h0M563.4 140.7h0M566 131.2h0M548.8 136.5h0M566.2 135.2h0M565.9 114.5h0M549.1 143.7h0M550.9 141.2h0M550.7 141.5h0M552 139.7h0M566.3 139.1h0M549.5 141.4h0M566.1 121.8h0M564.7 119.3h0M550.2 132.2h0M565.4 131.8h0M548.8 144.1h0M564.6 125.1h0M550.9 137h0M563.1 135.5h0M550.8 142.3h0M564.9 143.7h0M549.7 140.5h0M565.8 144h0M565.1 130.9h0M565.7 128.7h0M566.2 129.4h0M551.1 136.3h0M565 133h0M548.6 118.5h0M548.6 138.5h0M551.8 135.4h0M549.5 130.8h0M550.5 143.9h0M566.4 139.9h0M551.5 142h0M548.6 141.4h0M552.5 143.3h0M565.4 132.6h0M548.6 143.2h0M565 132.9h0M548.9 126.2h0M550.8 139.1h0M549.3 132.6h0M566.3 141.9h0M565.4 129.2h0M564.7 137h0M550.8 137.4h0M548.7 117h0M549.9 143.2h0M551.7 139.1h0M550.2 143h0M549.3 136.4h0M565.5 121.9h0M550.3 137.4h0M551.2 131.4h0M565.6 137.2h0M549.4 141.5h0M548.7 114.9h0M565.2 142.7h0M550.4 142.3h0M565.6 137.4h0M549.5 140.3h0M548.6 138.8h0M565.1 139.5h0M566.4 139.8h0M563.5 137.5h0M550.8 140.3h0M548.9 132.8h0M566 107.6h0M549.5 137h0M565.8 142.7h0M564.1 129.8h0M565.6 143.7h0M548.7 124.1h0M548.7 141.3h0M564.4 137.3h0M562.1 142.5h0M551.9 140.8h0M565.2 142.5h0M566.2 104.9h0M551.3 134.3h0M550 143.8h0M552 137.9h0M565.2 138.9h0M549 135.9h0M564.5 126.8h0M565.5 133.9h0M566.4 120.1h0M565.8 140.4h0M548.8 140.8h0M549.1 131.1h0M548.6 143.8h0M549.9 142.9h0M566.3 139.5h0M564.9 136.7h0M566 143.4h0M566.4 129.2h0M550.5 139.9h0M563.3 138h0M552.5 142.1h0M550.6 134.2h0M564.5 143h0M565.6 141.2h0M551.2 137.7h0M565.4 110.5h0M550.1 137.6h0M566.3 134.8h0M550.7 141h0M552.9 142.9h0M548.7 136h0M548.6 127.6h0M566.3 133.2h0M566.3 135.4h0M564.1 135.3h0M552.5 144.1h0M549.2 116.9h0M549.9 141.3h0M565.6 133.2h0M551.8 134.6h0M566.1 139.3h0M565.7 142.1h0M551.7 142.7h0M566 140.1h0M548.6 143.1h0M566.4 117.6h0M550.6 123.5h0M549.7 136.9h0M549.1 139.9h0M565.6 139.2h0M563.1 143.6h0M548.6 136.9h0M566.4 140.7h0M563.9 138.9h0M566.2 143.4h0M562.4 143.4h0M564.2 127.2h0M566.4 134.7h0M548.6 143.5h0M548.7 136.5h0" stroke="#4169e1" stroke-width="1.4" stroke-linecap="round" fill="none" stroke-opacity="1.0"/>
<path d="M539.8 140.9h0M541.5 141.1h0M535.1 68.5h0M535 143.3h0M543.8 144h0M546.7 113.9h0M542.4 123.3h0M543.3 135.1h0M536.7 115.9h0M535.6 118.9h0M538.5 128h0M538.2 87.3h0M547.8 119.3h0M546.5 142.1h0M541.4 132.5h0M543.1 97.5h0M530.7 142.9h0M539 141.5h0M546 126.2h0M546.7 131.7h0M534.2 117.5h0M536.2 137.4h0M535.8 127.9h0M532.8 133.7h0M548.4 143.9h0M546.8 140.6h0M543.7 125.9h0M548.4 121.8h0M543.8 141.4h0M539.9 137.2h0M542.7 136.7h0M543.5 137.8h0M535 122.4h0M542.8 135.5h0M546.8 133h0M545.2 143.2h0M532.3 134.7h0M548 140.9h0M538.4 126.7h0M545.7 143.8h0M542.4 122.1h0M537 137.1h0M539.2 136.9h0M541.7 142.6h0M547.4 99.5h0M536 125.2h0M543.4 112.4h0M545.2 131.8h0M545 133.6h0M540.1 126.9h0M539.8 115.7h0M547.5 126.3h0M544.1 135.3h0M536.5 115.2h0M544.1 141h0M526.6 101.5h0M539.5 144h0M526.2 123.9h0M546 120.7h0M548 143.4h0M536.1 120.4h0M543 132.2h0M547.1 141.7h0M547.4 133.6h0M540.8 141.3h0M544.1 135.6h0M543.8 126h0M540.4 143.5h0M544.1 139.5h0M542.4 139.3h0M537.8 124.8h0M548.1 127.1h0M539.1 133h0M538.5 126.5h0M542.7 118.1h0M546.1 119.1h0M539.4 138.8h0M528.5 138.8h0M543.9 137.4h0M539.5 134.8h0M544.4 132.5h0M548.3 143.2h0M544.8 139.3h0M527.8 124h0M539.2 105.4h0M548 140.6h0M547.9 137.4h0M541.5 142.2h0M537.3 130.9h0M548.1 131.9h0M538.6 107.8h0M548 140h0M547 125.8h0M548.2 138.6h0M537.9 143.8h0M540.9 131.1h0M548 129.5h0M545 142.1h0M511.6 82.7h0M539.4 124.6h0M545.7 127.7h0M539.1 110.7h0M541.9 144.1h0M545.2 142.9h0M543.9 126.2h0M544.5 143.5h0M544.5 139.6h0M546.5 132.9h0M542.8 133h0M542.8 140.2h0M545.6 124.3h0M529.6 134.8h0M547.5 128.5h0M541.2 124.1h0M542.6 118h0M535.6 139.4h0M542.6 135.9h0M546.8 143.1h0M542.1 99.5h0M542.1 137.1h0M541.9 139.8h0M539.1 132.5h0M540.4 122.9h0M531.2 109.8h0M542.6 142.5h0M537.9 129.3h0M546.4 122.4h0M545.6 140.1h0M540.5 113.1h0M548.3 130.7h0M546.6 135.6h0M546.8 134.9h0M547.6 127.2h0M546.2 135.2h0M545.7 131.8h0M546.8 127.8h0M537.4 142.9h0M506.3 107.3h0M546.4 142.2h0M539.2 134.6h0M546 139.8h0M545.2 143h0M547.3 143.5h0M547.5 136.4h0M543.4 137.2h0M535.2 122.4h0M544.7 131.2h0M546.8 133.6h0M533.8 85.5h0M536.7 142.7h0M539.9 141.2h0M548.3 109.5h0M544.4 114h0M547.4 135.2h0M544.2 142.2h0M548.3 140.8h0M532.3 130.1h0M539.9 70.4h0M545.2 127.4h0M542.6 143.4h0M546.7 142.2h0M546.5 132.5h0M543.6 142.4h0M548.4 142.6h0M540.5 119.9h0M534.3 119.7h0M529 113.4h0M531 129.8h0M540.9 141.8h0M545.9 140.6h0M548.1 141.4h0M540.4 119.8h0M530.7 125.2h0M543.8 132.5h0M545 137.8h0M538.7 129.9h0M537 118.4h0M535.6 96h0M529.5 83.3h0M547.2 124.1h0M543.8 135.4h0M515 139.9h0M543.7 138.2h0M542.9 135.4h0M543 135.8h0M532.9 105.1h0M544.3 122.4h0M534.1 107.7h0M541.7 104.1h0M543.9 125.8h0M545.1 138.6h0M541.1 134.4h0M547.1 143.9h0M537.9 131.2h0M538.6 136h0M540.1 132h0M547.1 139.4h0M541.9 143.4h0M538.4 108h0M543.6 137.5h0M535.5 119.2h0M544.7 91.1h0M546.9 132h0M537.3 143.6h0M545.7 143.6h0M539.8 112.5h0M547.8 132.5h0M547.5 135.5h0M548 138.8h0M544.8 137.5h0M540.4 116.7h0M540.5 142.6h0M539.4 113.9h0M536.5 120.5h0M534.5 119.7h0M531.7 128.4h0M535.1 142.9h0M545.3 138.1h0M542.3 137.4h0M542.9 134.2h0M548.5 138h0M518.2 121.5h0M548.4 85h0M548.3 128.6h0M543.8 110.3h0M541.5 136.4h0M547.5 139.1h0M533.8 128.8h0M541.3 142.3h0M541.6 132h0M543.1 128.2h0M537 104.8h0M547.5 135.4h0M543.7 144.1h0M539.4 123.2h0M542.5 130.7h0M545.9 137.5h0M545.7 143h0M539.5 136.7h0M541.4 137.2h0M538.3 136.4h0M536.3 137.2h0M539.3 133.9h0M540.1 143.3h0M547.4 134.9h0M541.8 142.1h0M545.4 136.6h0M543.6 118.7h0M535.8 130.7h0M542.8 144h0M535.4 134.4h0M545.1 137.6h0M547.7 143.6h0M532.3 134.9h0M545.9 136.5h0M548.5 140.5h0M536.8 142.8h0M537.5 137.9h0M539.7 133.4h0M543.6 143.9h0M542.1 144h0M528.6 127.2h0M541.1 92.4h0M541.9 135.3h0M543.8 122.2h0M545.2 143.9h0M545.6 106.3h0M542.4 128.1h0M526.7 57.9h0M543.6 121.8h0M547.4 133.2h0M548.4 129.2h0M511.5 95.1h0M541.9 142.8h0M540.9 130.4h0M542.9 106.5h0M544.3 134.9h0M546.9 115.8h0M520.2 131h0M541.7 133.7h0M548.1 120.5h0M537.8 123.4h0M543.1 96.9h0M541.1 131.5h0M544.1 143.8h0M547.3 140.8h0M535.4 88.4h0M540.8 142.8h0M548.1 135.9h0M547.3 131.1h0M547.5 126.1h0M546.1 143.5h0M545.6 122.1h0M542.2 140.6h0M533.6 118.3h0M543.1 144h0M547.4 143.8h0M545.1 140.9h0M541.5 137.2h0M542.2 124.8h0M534.7 140.1h0M540.3 132.6h0M543.4 138.3h0M546.6 139.3h0M539.5 143.8h0M537.5 96.6h0M542.2 137.7h0M543.2 122.6h0M535.7 140.9h0M546.4 122.2h0M544.4 114.6h0M547.1 134.6h0M544.1 143.9h0M529.2 72h0M545 138.6h0M544 131.7h0M536.8 128h0M545.3 143.3h0M542.1 133.9h0M540.3 141.1h0M546.8 137.6h0M543.4 122.4h0M544.9 138.2h0M531.2 122.4h0M536.7 133.2h0M548.4 139.9h0M546 118.5h0M537.5 141.1h0M540.4 110.3h0M547.8 135.1h0M545 131h0M544.4 97h0M543.4 126.3h0M530.3 135.5h0M534.6 141.7h0M543.2 136h0M548.2 134.7h0M542.8 136.2h0M543.4 116.4h0M543 144h0M546.1 143.9h0M539.4 129.6h0M545.2 136.8h0M542.1 132.4h0M546.2 120.7h0M541.4 111.9h0M539.9 125.5h0M545.5 120.3h0M532.5 121.2h0M538.4 127.2h0M540.8 131.3h0M546.5 143.9h0M547.7 117.5h0M547.3 130.6h0M544.5 129.2h0M546 127.7h0M546.6 135.9h0M545.6 139.2h0M543.2 133.9h0M548.4 142.6h0M546.9 141.4h0M540.5 115h0M546.9 129.8h0M546.1 99.8h0M522 109h0M542.3 140.1h0M548.1 89.4h0M544.5 138.5h0M547.5 140h0M537.8 128.3h0M548 140.2h0M545.7 126.3h0M536.5 144.1h0M545.6 140.7h0M541.7 112h0M546.9 122.7h0M543.9 134.7h0M541.7 131.8h0M538.1 109.9h0M539.2 137.5h0M538 134.9h0M546.1 125.5h0M546.3 139.4h0M546.4 133.9h0M541.6 143.4h0M542.7 135.1h0M544.8 133.6h0M528 120.3h0M546.9 139.1h0M547.2 126.5h0M529.4 132.4h0M536.7 118.9h0M548.4 137.8h0M546.8 143.3h0M541.4 138.4h0M543.4 137.6h0M523.3 120.7h0M544 111.5h0M543.5 117.7h0M545.5 125.4h0M534.8 140.9h0M547.5 134.2h0M546.5 142h0M540.9 136.2h0M546.6 112.7h0M536.2 137.4h0M521.6 109.8h0M539.4 121.7h0M541.2 140.9h0M547.5 137.5h0M544.4 140.7h0M548.2 139.4h0M531.3 139.6h0M541.1 123.7h0M547.1 132.6h0M544.8 142h0M545.4 138.8h0M542 131.8h0M545.2 136.1h0M547.1 138.6h0M544 111.4h0M547.1 136.8h0M534.3 130.8h0M548 120h0M544.9 139.9h0M548 115.1h0M533.7 140.2h0M542.8 132.5h0M544.5 132.5h0M548.6 114.2h0M547.6 114.6h0M548.2 87.1h0M535 127.1h0M543.4 130.3h0M542 131.4h0M545.9 129h0M547.9 143.6h0M546 142.3h0M546.7 116.5h0M544.5 142.8h0M537.9 143.2h0M530.8 118.6h0M538.4 141.7h0M545.2 116.7h0M541.2 121.2h0M543 138.4h0M547 137.1h0M539.6 137.3h0M547.6 132.4h0M541.6 141.9h0M545.4 139.6h0M545.6 125.9h0M538.7 134.6h0M541.3 122.3h0M538.1 142.2h0M538.4 139.9h0M534.7 103.6h0M546.8 139.2h0M543.8 141.2h0M544 134h0M548.6 133.7h0M540.5 142.6h0M541.3 137.8h0M543 140.7h0M547.5 116.8h0M540.6 139.9h0M542.4 143.3h0M545.9 112.1h0M546 141.5h0M536.2 139.7h0M584.7 136.3h0M567.6 125.4h0M569.7 136.3h0M575.3 139.8h0M576.6 129.5h0M569.1 136.5h0M573.4 141h0M584.2 134.1h0M581.5 143.8h0M585.3 131h0M572.2 117h0M571.4 125.7h0M584 143.7h0M580 123.9h0M589.9 113.1h0M570 139.8h0M569.1 122.1h0M574.6 104.4h0M567.4 132.7h0M575.3 127.3h0M566.6 143.2h0M567.2 140.5h0M567.1 136.2h0M583.2 137.4h0M597.9 87.7h0M574.4 119h0M568.5 141.4h0M574.9 134.5h0M567.6 92.4h0M570.9 139.6h0M579.7 138.6h0M577.2 136.4h0M570 124.5h0M570.1 110.7h0M570.2 134.7h0M570.2 116h0M569.5 102.6h0M568 132.3h0M578.8 139.3h0M598.2 77.3h0M568.3 121.5h0M574.7 97.1h0M568.1 137.4h0M584.3 107.8h0M582.3 58.7h0M582.5 126.9h0M576.7 115.5h0M567.2 136.3h0M599.8 129.7h0M569.7 134.8h0M576.1 136.8h0M569.3 133.4h0M567.8 128.1h0M587.9 143.7h0M573.6 142.5h0M589.4 105.4h0M580.4 129h0M572.6 140.8h0M568.4 140h0M581.4 116.5h0M590.2 142.1h0M566.6 142.5h0M589.1 143.4h0M573.6 100.7h0M577.1 135.7h0M572.1 123.6h0M566.7 132.3h0M568.6 139.1h0M576.3 120.9h0M566.9 121.9h0M588.2 137.5h0M574.6 126.5h0M567.7 141.8h0M573.8 119.6h0M580.3 137.3h0M581.8 122.8h0M572.6 133.4h0M573.6 131.9h0M567.6 131h0M591.4 134.3h0M575.6 127.7h0M589.8 133.2h0M576.1 133.5h0M582.5 141.7h0M581.9 143.2h0M567.6 137.9h0M567.3 134.1h0M573.4 121.1h0M569.7 143h0M567 122.8h0M593.5 104.1h0M568.4 140.2h0M568.7 117.9h0M581.5 128.5h0M569.7 128.4h0M569.6 133.7h0M567.1 142h0M590.8 136.9h0M570.1 104.4h0M574.7 138h0M600.6 101h0M598.5 130.3h0M572 134.6h0M566.5 134.3h0M579.1 135.9h0M567.4 116.6h0M580.1 130.4h0M567.5 121.5h0M569.9 138.6h0M583.8 118.2h0M577.3 133.1h0M572.7 142.3h0M570.2 136.4h0M588.6 131.2h0M593.6 135.3h0M576.1 134.8h0M593.4 103.4h0M596.9 116.7h0M581.8 100h0M566.9 130.6h0M570.9 142.3h0M586.6 137.8h0M581.5 144.1h0M576.1 130h0M567.5 114.4h0M591.7 143.5h0M582.8 144.1h0M578.7 141.5h0M586.3 142.1h0M571.9 123.6h0M567.3 141.8h0M594.1 137.9h0M579.1 119h0M571.1 90.4h0M594.9 95.2h0M570.3 140h0M574.9 105h0M582.2 117.4h0M567.3 100.4h0M573 130.6h0M583.4 127.2h0M576.5 135.9h0M567.2 143.5h0M567.1 124.1h0M601.2 125.3h0M568.8 131.9h0M579 136.8h0M576.8 99.5h0M578 130.4h0M577.6 107.7h0M568.3 143.8h0M575.6 138.2h0M566.9 140.6h0M582.8 134.8h0M573 132.1h0M583.6 133.6h0M582 133.9h0M580.9 138.3h0M581.8 109.7h0M588.4 142.6h0M574 121.8h0M598.8 109.8h0M587.4 115h0M571.1 61.6h0M571.6 138.6h0M604.2 76.6h0M572.3 141.3h0M569.3 138.4h0M572.5 69.2h0M575.3 134.6h0M575.6 122.9h0M578.2 139.6h0M584.2 143.8h0M569.1 123.5h0M595.5 139.2h0M584.4 118.1h0M591.1 139.4h0M573.3 133h0M601.7 116.4h0M568.6 135.9h0M577.1 115.1h0M571.7 138.2h0M569.2 128.2h0M578.7 135.8h0M581.8 141.5h0M581.3 141.5h0M573 129.1h0M588.1 133.7h0M568.7 131.8h0M568.5 141.9h0M568.7 94.7h0M592.3 141.4h0M578.1 143.5h0M580.2 124.4h0M579.3 139.3h0M570.8 138.7h0M572.4 139.8h0M568.6 120h0M572.8 142.6h0M575.8 120.8h0M568.1 142.6h0M589 137.6h0M587.2 135.3h0M571 142h0M589.4 126.6h0M573.6 133.2h0M571.9 130.7h0M568 134.8h0M577.3 128h0M568.4 137.2h0M578 139.5h0M573.2 128.7h0M579.8 114.8h0M579.5 134h0M569.1 134.5h0M593.1 100.5h0M581.8 132.4h0M570 139.9h0M577.8 141.4h0M581 120.3h0M586.5 126.3h0M571.3 133.1h0M567.1 138.3h0M570.9 120.1h0M569.3 124.9h0M571.2 92.2h0M592.9 113.2h0M571.3 135.6h0M569.4 143.7h0M568.1 142.8h0M589.7 91.7h0M567.2 140h0M576.2 132.5h0M576.8 135.3h0M570 115.7h0M578.1 139.5h0M575.3 84.6h0M568.8 138.5h0M570.4 106.7h0M592.2 132h0M572.8 134.5h0M574.4 140.6h0M578 139.7h0M577 136.1h0M566.9 135.9h0M603.9 90h0M566.9 116.6h0M568.5 142.7h0M572.7 131.5h0M573.9 142.5h0M567.3 123.3h0M586.3 119.7h0M574.2 137.2h0M567.3 136.6h0M567.2 140.8h0M579 139.4h0M575.5 134.5h0M570.7 125.3h0M581.6 134.7h0M576.9 137h0M569.9 130h0M570 134.9h0M579.3 123.4h0M586.2 143.5h0M575.5 143h0M571.7 134.2h0M566.8 131.4h0M568.8 137.6h0M574.4 141.8h0M570.1 134.8h0M566.8 113.2h0M574.4 137.5h0M574.9 143.7h0M584.2 61.9h0M570.3 138.8h0M573.5 139.5h0M582.8 140.5h0M573.4 129.8h0M574.6 142.3h0M584.9 98.6h0M571.1 102.9h0M573 143.4h0M567.5 142.5h0M572.8 143.8h0M572.6 142.3h0M584.4 140h0M577.8 112.5h0M577.9 122.2h0M573.5 138h0M583.8 135.2h0M571.5 103.7h0M568.9 137.2h0M566.6 126.9h0M579.9 141.5h0M584.4 127.6h0M573.2 136h0M582.4 128.2h0M578.1 132.3h0M568 131h0M575.7 113.7h0M589.8 136.6h0M583.5 125.8h0M572.8 142.5h0M604.9 137.7h0M567.4 136.3h0M572.9 140.5h0M579.9 105.5h0M567.4 96.4h0M572.2 143.9h0M571.8 111.4h0M577.2 124.1h0M582.8 99.6h0M567.7 142.5h0M584.4 120.8h0M592.2 130.8h0M574.4 136.3h0M572.7 113.3h0M588.1 128.6h0M568.9 120.3h0M567.2 137.3h0M583.2 136.4h0M569.9 120.2h0M570.1 105.1h0M585.3 134.6h0M569 99.3h0M580.1 122.2h0M568.9 130.6h0M568 143h0M578.6 134.2h0M572.7 143.5h0M574.6 120.3h0M570.7 108h0M585.3 130.2h0M569.6 138.2h0M569.4 131.2h0M574.8 119.2h0M579.5 142.1h0M583.1 135.7h0M577.5 123.4h0M574.6 143.1h0M566.5 131.2h0M573.5 118.5h0M573.6 93.9h0M567.1 133.7h0M566.9 131.5h0M571.2 143.5h0M570.4 134.7h0M570.2 116.2h0M571.8 133.6h0M577.8 126h0M586.1 139.8h0M587.8 138.1h0M584.2 117.6h0M587 117.1h0M576.9 138.8h0M577.2 141.8h0M584.1 115.8h0M581.1 139.1h0M573.7 128.8h0M578.8 136.9h0M578.7 123.3h0M574.4 136.9h0M574.1 119.1h0M574.4 107h0M571.2 143h0M573.9 141.5h0M599.5 123.2h0M569.6 101.2h0M579.5 139.2h0M572.6 137.2h0M575.4 142.2h0M582.1 112.8h0M571.1 121.7h0M579.4 142.7h0M571 133.5h0M573.7 139h0M579.4 101.6h0M569.8 132.8h0M570.9 119.2h0M578.8 142.3h0M567.1 143.1h0M579.4 142.9h0M566.7 134.1h0M578.6 142.2h0M572.5 133.3h0M566.4 130h0M572.9 140.8h0M567.5 135.7h0M576.2 135.9h0M572.4 130.4h0M591.2 140.3h0M573.4 137.3h0M580 139.7h0M576 132.2h0M583.7 127.8h0M583.1 142.1h0M567.7 100.5h0M584.8 134.9h0M588.6 141.2h0M579 126.6h0M572.1 136.1h0M578.2 137.6h0M578 131.3h0M586.8 126h0M576.8 128h0M567.3 142.1h0M578.2 140.8h0M572.8 133.7h0M573 130h0M573.5 141.6h0M596.5 116.2h0M593.8 143.6h0M568 119.2h0M573.6 116.5h0M568.2 128.1h0M568.2 122.5h0M569.8 134.7h0M585.8 51.5h0M567.7 133h0M566.5 140.5h0M581.5 133.7h0M580.8 141.8h0M588.2 132.4h0M602.3 71.2h0M568.7 134.9h0M578.5 137.3h0M581.6 77.1h0M581.9 93.3h0M577.2 133.2h0M576.7 107.7h0M566.9 114.5h0M583.6 141.9h0M590.9 136.9h0M572 143.2h0M577.5 138.3h0M585.4 131.4h0M572.4 143.8h0M568.8 136.9h0M568.4 127.3h0M578.4 138.9h0M569.7 125.3h0M595.6 122.6h0M569.4 133.2h0M567.3 142.8h0M569.2 143.1h0M567.6 127.4h0M571.3 134.4h0M575.3 113.8h0M590.9 136.7h0M577.3 125.4h0M576.3 136.1h0M567.2 136.8h0M571.4 136.5h0M569.2 140.3h0M577 142.1h0M570.2 142.4h0M566.6 123.8h0M569.6 132.8h0M577.6 117.7h0M588.7 143.4h0M579.1 134.7h0M574.9 133.7h0M585.7 144.2h0M578.5 142.3h0M582.7 136.6h0M582.8 115.1h0M569.1 143.6h0M578.1 143.7h0M574.6 140.1h0M568.1 115.7h0M583.9 138.9h0M566.7 117.4h0M572.8 135.1h0M570.4 141h0M580.4 141.3h0M580.7 123.6h0M570.1 120.8h0M567.7 138.9h0M569.7 122.1h0M570.9 99.5h0M568.8 140h0M583.6 126h0M570.9 134.3h0M572.8 129.6h0M575.1 126h0M570.2 126.8h0M576.4 102.9h0M568.2 140.9h0M574.5 117.8h0M572.5 138.4h0M567.7 125.8h0M573.5 121.9h0M571 143.3h0M583.6 143.5h0M577.8 129.5h0M568.3 136.2h0M581.1 134.1h0M568.8 142.4h0M574 109.4h0M574 112.9h0M571.3 140.6h0M574.1 138h0M586.4 76.9h0M601.4 143h0M585.9 135.3h0M572.1 133h0M570.7 127.7h0M571.3 120.2h0M575.3 133.3h0M568.3 140h0M597.7 141.3h0M587.4 140.1h0M589.7 113.8h0M580.7 139.7h0M576 135.4h0M572.2 128.1h0M570.1 139.7h0M569.3 90.6h0M579 132.4h0M572.7 142.7h0M584 123.6h0M568.4 141.2h0M575.3 110.1h0M580.5 126.4h0M573.4 132.3h0M571.4 109.6h0M583.3 129h0M570.1 139.3h0M579.1 135.4h0M589.3 138.8h0M576.4 126.6h0M571.5 138.6h0M574.4 139.7h0M575.2 97.7h0M570.8 119.2h0M572.3 127.7h0M578.2 143.8h0M573.1 131.2h0M582.9 134.7h0M578.7 142.5h0M577.1 130.2h0M577.2 126.3h0M580.3 125.4h0M586.6 131.2h0M572 128.8h0M572.7 141.3h0M567.7 141.3h0M585.7 123.6h0M568.7 134.9h0M574.4 104.5h0M566.7 112.9h0M568.3 136.8h0M572.2 105.5h0M592 130.5h0M569.2 135h0M567.8 133.8h0M579 124.8h0M572.4 143.7h0M572 141h0M580.8 140.8h0M579.2 126h0M588.1 107h0M580.7 124.2h0M588.9 79.5h0M571 141.9h0M591.9 137.1h0M571.6 140h0M576.3 131.4h0M568.8 131h0M569.8 143.2h0M569.1 125.5h0M585.2 134.1h0M574.5 135.1h0M572.9 143.1h0M573.7 134.1h0M571.5 140.5h0M575.2 143.4h0M568 139.6h0M574.4 117.9h0M567.8 120.6h0M570.2 139.1h0M567.9 122.6h0M590.8 125.8h0M569.7 141.6h0M584.6 120.2h0M567.3 137.9h0M574.6 124.7h0M566.7 136.5h0M571.2 139.2h0M574.4 90h0M573 103.8h0M579.8 98.3h0M576 141.9h0M576.6 128.5h0M585.7 141.9h0M578.5 120.3h0M574.8 131.9h0M577 139.7h0M570.9 88.9h0M573.9 142.3h0M571 143h0M571.2 89h0M577.1 140.9h0M567.2 119.9h0M576 143.2h0M575.3 134.9h0M587 134.9h0M568.9 138.5h0M575.6 109.8h0M592.5 116.3h0M575 142.7h0M580.1 131.1h0M585.4 141.5h0M572.4 141.4h0M571.3 138.7h0M591.9 142.2h0M576.4 132.9h0M567 140.4h0M569.3 137.8h0M581.7 128.8h0M591.5 130.3h0M576.5 133h0M570.4 130.9h0M579.6 130h0M567.8 143.3h0M572.3 127.8h0M571.3 130h0M570.5 136.6h0M573.1 133.5h0M575.4 119.3h0M577.6 112.3h0M582.4 144.1h0M581.6 124.6h0M578.4 142.8h0M579.6 138.3h0M568.8 127.1h0M569.1 117.3h0M578.1 140.8h0M573.2 84.7h0M576 144.1h0M570.1 84.9h0M568.7 105.7h0M571.4 143.2h0M567.5 139.7h0M576.8 107.7h0M575.1 135.8h0M569.7 106.6h0M586.2 115h0M567.6 128.9h0M576.7 134.2h0M568.5 142.9h0M578.1 113.7h0M576 108.4h0M571.3 143.5h0M567.2 84.5h0M568.5 116.9h0M579.6 141.4h0M570.4 141.1h0M581.3 142.9h0M578.9 134.5h0M571.6 130.6h0M578.5 141.4h0M567.8 138.7h0M579.3 122.1h0M603.8 129.7h0M572.5 142.5h0M567.6 100.3h0M576.7 131.8h0M569.2 136.2h0M582.3 134.2h0M573.8 129.5h0M571.5 143.7h0M567.3 131.4h0M574.2 135.2h0M569.9 123.8h0M577.3 141.2h0M574.6 142.9h0M575 139.8h0M593.8 136.6h0M578.7 90h0M573.1 116.1h0M575.9 140.7h0M567.4 127.4h0M582.7 110.1h0M575.9 136.3h0M566.6 127.4h0M572 105.3h0M572.9 103.7h0M584.4 138.2h0M574.6 123.7h0M570.4 89.5h0M569.1 106.9h0M571.1 98.1h0M573.5 136.8h0M573.2 121h0M590.8 136.6h0M567.6 141.3h0M572.6 138.1h0M574.3 140.9h0M572.4 137.6h0M592 142.7h0M569.1 132.5h0M575.8 120.9h0M586.3 125.4h0M598.5 108.6h0M569.3 136.2h0M569.8 114h0M588.9 109.7h0M574.8 128h0M581 134.8h0M584.5 141.1h0M582.3 139.4h0M569.2 143.9h0M568 105h0M568.6 101.6h0M570 116.6h0M578.8 143.2h0M567.6 141.7h0M571.2 105.8h0M586.9 128.1h0M632 139.1h0M632.6 138.6h0M619.6 108.9h0M635.4 138.4h0M639.1 127.3h0M638.7 128.4h0M621.9 142.5h0M510.6 125.9h0M618.6 112.2h0M627.8 100.4h0M608.9 101.1h0M524.1 136.1h0M641.6 138.1h0M637.7 141.5h0M614.1 137.9h0M505.2 144h0M636.2 143h0M504.3 135.5h0M498.4 88.7h0M600.2 143.5h0M641.6 144h0M612 137.7h0M500.7 132.3h0M645.9 137.9h0M631.5 117h0M618.4 133.3h0M607.9 136.3h0M601.5 133.4h0M604.1 111.6h0M505 136.6h0M516.3 142h0M607.6 138.3h0M614.8 140.9h0M627.4 118.3h0M616.9 125.6h0M629.9 127.5h0M622.7 127.8h0M502.5 67.9h0M516.5 121.9h0M620.9 90.4h0M645.2 112h0M605.3 137h0M632.5 144h0M505.9 136.5h0M627.9 132.7h0M523.6 25.7h0M521.3 33.8h0M534.3 26.2h0M545.9 24.8h0M546.8 49.9h0M543.2 56.7h0M542.3 61.8h0M615.5 80.4h0M643.2 107.6h0M649.5 129.6h0M641.4 121.1h0M639.7 126.2h0" stroke="#f02a2a" stroke-width="1.35" stroke-linecap="round" fill="none" stroke-opacity="1.0"/>
<path d="M548.6 17.9V165.8M566.4 17.9V165.8M483.6 144.2H655" stroke="#222" stroke-width="0.8" stroke-dasharray="1,1.6" fill="none"/>
<line x1="483.6" y1="17.9" x2="483.6" y2="165.8" stroke="#333" stroke-width="0.9" />
<line x1="483.6" y1="165.8" x2="655" y2="165.8" stroke="#333" stroke-width="0.9" />
<line x1="481.4" y1="160.1" x2="483.6" y2="160.1" stroke="#333" stroke-width="0.8" />
<text x="480.6" y="163.1" font-size="8.4" text-anchor="end" fill="#3a3a3a" color="#3a3a3a" textLength="4.9" lengthAdjust="spacingAndGlyphs" >0</text>
<line x1="481.4" y1="126.2" x2="483.6" y2="126.2" stroke="#333" stroke-width="0.8" />
<text x="480.6" y="129.2" font-size="8.4" text-anchor="end" fill="#3a3a3a" color="#3a3a3a" textLength="9.8" lengthAdjust="spacingAndGlyphs" >20</text>
<line x1="481.4" y1="92.3" x2="483.6" y2="92.3" stroke="#333" stroke-width="0.8" />
<text x="480.6" y="95.3" font-size="8.4" text-anchor="end" fill="#3a3a3a" color="#3a3a3a" textLength="9.8" lengthAdjust="spacingAndGlyphs" >40</text>
<line x1="481.4" y1="58.4" x2="483.6" y2="58.4" stroke="#333" stroke-width="0.8" />
<text x="480.6" y="61.4" font-size="8.4" text-anchor="end" fill="#3a3a3a" color="#3a3a3a" textLength="9.8" lengthAdjust="spacingAndGlyphs" >60</text>
<line x1="481.4" y1="24.5" x2="483.6" y2="24.5" stroke="#333" stroke-width="0.8" />
<text x="480.6" y="27.5" font-size="8.4" text-anchor="end" fill="#3a3a3a" color="#3a3a3a" textLength="9.8" lengthAdjust="spacingAndGlyphs" >80</text>
<line x1="490.52" y1="165.8" x2="490.52" y2="168" stroke="#333" stroke-width="0.8" />
<text x="490.52" y="177" font-size="8.4" text-anchor="middle" fill="#3a3a3a" color="#3a3a3a" textLength="14.6" lengthAdjust="spacingAndGlyphs" >-7.5</text>
<line x1="512.85" y1="165.8" x2="512.85" y2="168" stroke="#333" stroke-width="0.8" />
<text x="512.85" y="177" font-size="8.4" text-anchor="middle" fill="#3a3a3a" color="#3a3a3a" textLength="7.6" lengthAdjust="spacingAndGlyphs" >-5</text>
<line x1="535.17" y1="165.8" x2="535.17" y2="168" stroke="#333" stroke-width="0.8" />
<text x="535.17" y="177" font-size="8.4" text-anchor="middle" fill="#3a3a3a" color="#3a3a3a" textLength="14.6" lengthAdjust="spacingAndGlyphs" >-2.5</text>
<line x1="557.5" y1="165.8" x2="557.5" y2="168" stroke="#333" stroke-width="0.8" />
<text x="557.5" y="177" font-size="8.4" text-anchor="middle" fill="#3a3a3a" color="#3a3a3a" textLength="4.8" lengthAdjust="spacingAndGlyphs" >0</text>
<line x1="579.83" y1="165.8" x2="579.83" y2="168" stroke="#333" stroke-width="0.8" />
<text x="579.83" y="177" font-size="8.4" text-anchor="middle" fill="#3a3a3a" color="#3a3a3a" textLength="12" lengthAdjust="spacingAndGlyphs" >2.5</text>
<line x1="602.15" y1="165.8" x2="602.15" y2="168" stroke="#333" stroke-width="0.8" />
<text x="602.15" y="177" font-size="8.4" text-anchor="middle" fill="#3a3a3a" color="#3a3a3a" textLength="4.8" lengthAdjust="spacingAndGlyphs" >5</text>
<line x1="624.48" y1="165.8" x2="624.48" y2="168" stroke="#333" stroke-width="0.8" />
<text x="624.48" y="177" font-size="8.4" text-anchor="middle" fill="#3a3a3a" color="#3a3a3a" textLength="12" lengthAdjust="spacingAndGlyphs" >7.5</text>
<line x1="646.8" y1="165.8" x2="646.8" y2="168" stroke="#333" stroke-width="0.8" />
<text x="646.8" y="177" font-size="8.4" text-anchor="middle" fill="#3a3a3a" color="#3a3a3a" textLength="9.6" lengthAdjust="spacingAndGlyphs" >10</text>
<text x="529.9" y="186.6" font-size="10.4" fill="#222" textLength="73.6" lengthAdjust="spacingAndGlyphs">Log<tspan font-size="6.2" dy="2.4">2</tspan><tspan dy="-2.4">FoldChange</tspan></text>
<text x="465.2" y="93.2" font-size="10.4" fill="#222" text-anchor="middle" transform="rotate(-90 465.2 93.2)">-Log<tspan font-size="5.8" dy="2.8">10</tspan><tspan dy="-2.8">adj </tspan><tspan font-style="italic">P</tspan></text>
<circle cx="606.5" cy="51" r="0.9" fill="#000" stroke="none" stroke-width="1" />
<circle cx="580" cy="99" r="0.9" fill="#000" stroke="none" stroke-width="1" />
<circle cx="587.8" cy="96.4" r="0.9" fill="#000" stroke="none" stroke-width="1" />
<circle cx="583.9" cy="110.2" r="0.9" fill="#000" stroke="none" stroke-width="1" />
<circle cx="597" cy="111.4" r="0.9" fill="#000" stroke="none" stroke-width="1" />
<circle cx="568.4" cy="116.4" r="0.9" fill="#000" stroke="none" stroke-width="1" />
<circle cx="589.7" cy="122.3" r="0.9" fill="#000" stroke="none" stroke-width="1" />
<circle cx="575" cy="124.5" r="0.9" fill="#000" stroke="none" stroke-width="1" />
<circle cx="600" cy="126.4" r="0.9" fill="#000" stroke="none" stroke-width="1" />
<circle cx="580.5" cy="126" r="0.9" fill="#000" stroke="none" stroke-width="1" />
<circle cx="590.4" cy="137.7" r="0.9" fill="#000" stroke="none" stroke-width="1" />
<circle cx="618.9" cy="136.2" r="0.9" fill="#000" stroke="none" stroke-width="1" />
<circle cx="621" cy="139.9" r="0.9" fill="#000" stroke="none" stroke-width="1" />
<circle cx="590.4" cy="138.1" r="0.9" fill="#000" stroke="none" stroke-width="1" />
<circle cx="608.2" cy="141.3" r="0.9" fill="#000" stroke="none" stroke-width="1" />
<circle cx="619.6" cy="144.2" r="0.9" fill="#000" stroke="none" stroke-width="1" />
<rect x="592.8" y="52.5" width="17.9" height="5.9" rx="0.8" fill="#fff" fill-opacity="0.9" stroke="#999" stroke-width="0.45"/>
<text x="601.75" y="57.4" font-size="7" text-anchor="middle" fill="#111" color="#111" textLength="15.9" lengthAdjust="spacingAndGlyphs" >CCL5</text>
<rect x="567.6" y="91.9" width="14.9" height="6" rx="0.8" fill="#fff" fill-opacity="0.9" stroke="#999" stroke-width="0.45"/>
<text x="575.05" y="96.9" font-size="7" text-anchor="middle" fill="#111" color="#111" textLength="12.9" lengthAdjust="spacingAndGlyphs" >IRF1</text>
<rect x="586" y="89" width="14" height="6.3" rx="0.8" fill="#fff" fill-opacity="0.9" stroke="#999" stroke-width="0.45"/>
<text x="593" y="94.3" font-size="7" text-anchor="middle" fill="#111" color="#111" textLength="12" lengthAdjust="spacingAndGlyphs" >IL15</text>
<rect x="580.5" y="103.4" width="14.6" height="5.8" rx="0.8" fill="#fff" fill-opacity="0.9" stroke="#999" stroke-width="0.45"/>
<text x="587.8" y="108.2" font-size="7" text-anchor="middle" fill="#111" color="#111" textLength="12.6" lengthAdjust="spacingAndGlyphs" >IRF7</text>
<rect x="597.7" y="106" width="19.3" height="5.8" rx="0.8" fill="#fff" fill-opacity="0.9" stroke="#999" stroke-width="0.45"/>
<text x="607.35" y="110.8" font-size="7" text-anchor="middle" fill="#111" color="#111" textLength="17.3" lengthAdjust="spacingAndGlyphs" >ISG15</text>
<rect x="553.2" y="109.4" width="17" height="6.2" rx="0.8" fill="#fff" fill-opacity="0.9" stroke="#999" stroke-width="0.45"/>
<text x="561.7" y="114.6" font-size="7" text-anchor="middle" fill="#111" color="#111" textLength="15" lengthAdjust="spacingAndGlyphs" >CD86</text>
<rect x="582.8" y="114.7" width="16.1" height="5.9" rx="0.8" fill="#fff" fill-opacity="0.9" stroke="#999" stroke-width="0.45"/>
<text x="590.85" y="119.6" font-size="7" text-anchor="middle" fill="#111" color="#111" textLength="14.1" lengthAdjust="spacingAndGlyphs" >IFIT3</text>
<rect x="563.7" y="117.7" width="17" height="6.1" rx="0.8" fill="#fff" fill-opacity="0.9" stroke="#999" stroke-width="0.45"/>
<text x="572.2" y="122.8" font-size="7" text-anchor="middle" fill="#111" color="#111" textLength="15" lengthAdjust="spacingAndGlyphs" >IFIT5</text>
<rect x="601.4" y="119.7" width="16.8" height="6.3" rx="0.8" fill="#fff" fill-opacity="0.9" stroke="#999" stroke-width="0.45"/>
<text x="609.8" y="125" font-size="7" text-anchor="middle" fill="#111" color="#111" textLength="14.8" lengthAdjust="spacingAndGlyphs" >IFIT2</text>
<rect x="563.7" y="127" width="22.3" height="6.4" rx="0.8" fill="#fff" fill-opacity="0.9" stroke="#999" stroke-width="0.45"/>
<text x="574.85" y="132.4" font-size="7" text-anchor="middle" fill="#111" color="#111" textLength="20.3" lengthAdjust="spacingAndGlyphs" >IL15RA</text>
<rect x="589" y="129.6" width="14.9" height="6.2" rx="0.8" fill="#fff" fill-opacity="0.9" stroke="#999" stroke-width="0.45"/>
<text x="596.45" y="134.8" font-size="7" text-anchor="middle" fill="#111" color="#111" textLength="12.9" lengthAdjust="spacingAndGlyphs" >IFIT1</text>
<rect x="614.1" y="128.9" width="19.4" height="5.8" rx="0.8" fill="#fff" fill-opacity="0.9" stroke="#999" stroke-width="0.45"/>
<text x="623.8" y="133.7" font-size="7" text-anchor="middle" fill="#111" color="#111" textLength="17.4" lengthAdjust="spacingAndGlyphs" >ISG20</text>
<rect x="623.3" y="137.2" width="20.4" height="6.3" rx="0.8" fill="#fff" fill-opacity="0.9" stroke="#999" stroke-width="0.45"/>
<text x="633.5" y="142.5" font-size="7" text-anchor="middle" fill="#111" color="#111" textLength="18.4" lengthAdjust="spacingAndGlyphs" >CXCL1</text>
<rect x="571.4" y="138.7" width="16.3" height="6.4" rx="0.8" fill="#fff" fill-opacity="0.9" stroke="#999" stroke-width="0.45"/>
<text x="579.55" y="144.1" font-size="7" text-anchor="middle" fill="#111" color="#111" textLength="14.3" lengthAdjust="spacingAndGlyphs" >CD80</text>
<rect x="591.9" y="143.1" width="21.6" height="6.2" rx="0.8" fill="#fff" fill-opacity="0.9" stroke="#999" stroke-width="0.45"/>
<text x="602.7" y="148.3" font-size="7" text-anchor="middle" fill="#111" color="#111" textLength="19.6" lengthAdjust="spacingAndGlyphs" >CXCL2</text>
<rect x="616.4" y="146.4" width="25.1" height="6.3" rx="0.8" fill="#fff" fill-opacity="0.9" stroke="#999" stroke-width="0.45"/>
<text x="628.95" y="151.7" font-size="7" text-anchor="middle" fill="#111" color="#111" textLength="23.1" lengthAdjust="spacingAndGlyphs" >CXCL10</text>
<defs><linearGradient id="zcb" x1="0" y1="0" x2="0" y2="1"><stop offset="0" stop-color="#d73027"/><stop offset="0.17" stop-color="#fc8d59"/><stop offset="0.33" stop-color="#fee090"/><stop offset="0.5" stop-color="#ffffbf"/><stop offset="0.67" stop-color="#e0f3f8"/><stop offset="0.83" stop-color="#91bfdb"/><stop offset="1" stop-color="#4575b4"/></linearGradient></defs>
<text x="0.8" y="210.8" font-size="13.4" fill="#000" color="#000" font-weight="bold" >e</text>
<rect x="29.3" y="235" width="4.97" height="6.8" fill="#a8cce4" stroke="none" stroke-width="1" />
<rect x="34.27" y="235" width="4.97" height="6.8" fill="#f2efd0" stroke="none" stroke-width="1" />
<rect x="39.24" y="235" width="4.97" height="6.8" fill="#f2efd0" stroke="none" stroke-width="1" />
<rect x="44.21" y="235" width="4.97" height="6.8" fill="#a8cce4" stroke="none" stroke-width="1" />
<rect x="49.18" y="235" width="4.97" height="6.8" fill="#a8cce4" stroke="none" stroke-width="1" />
<rect x="54.15" y="235" width="4.97" height="6.8" fill="#fbe29c" stroke="none" stroke-width="1" />
<rect x="59.12" y="235" width="4.97" height="6.8" fill="#fbe29c" stroke="none" stroke-width="1" />
<rect x="64.09" y="235" width="4.97" height="6.8" fill="#f06c45" stroke="none" stroke-width="1" />
<rect x="69.06" y="235" width="4.97" height="6.8" fill="#fdbd7a" stroke="none" stroke-width="1" />
<rect x="74.03" y="235" width="4.97" height="6.8" fill="#f2efd0" stroke="none" stroke-width="1" />
<rect x="29.3" y="241.8" width="4.97" height="6.8" fill="#a8cce4" stroke="none" stroke-width="1" />
<rect x="34.27" y="241.8" width="4.97" height="6.8" fill="#a8cce4" stroke="none" stroke-width="1" />
<rect x="39.24" y="241.8" width="4.97" height="6.8" fill="#c6e1ee" stroke="none" stroke-width="1" />
<rect x="44.21" y="241.8" width="4.97" height="6.8" fill="#a8cce4" stroke="none" stroke-width="1" />
<rect x="49.18" y="241.8" width="4.97" height="6.8" fill="#a8cce4" stroke="none" stroke-width="1" />
<rect x="54.15" y="241.8" width="4.97" height="6.8" fill="#fbe29c" stroke="none" stroke-width="1" />
<rect x="59.12" y="241.8" width="4.97" height="6.8" fill="#f99660" stroke="none" stroke-width="1" />
<rect x="64.09" y="241.8" width="4.97" height="6.8" fill="#f06c45" stroke="none" stroke-width="1" />
<rect x="69.06" y="241.8" width="4.97" height="6.8" fill="#fbe29c" stroke="none" stroke-width="1" />
<rect x="74.03" y="241.8" width="4.97" height="6.8" fill="#fbe29c" stroke="none" stroke-width="1" />
<rect x="29.3" y="248.6" width="4.97" height="6.8" fill="#a8cce4" stroke="none" stroke-width="1" />
<rect x="34.27" y="248.6" width="4.97" height="6.8" fill="#e2f1f4" stroke="none" stroke-width="1" />
<rect x="39.24" y="248.6" width="4.97" height="6.8" fill="#a8cce4" stroke="none" stroke-width="1" />
<rect x="44.21" y="248.6" width="4.97" height="6.8" fill="#c6e1ee" stroke="none" stroke-width="1" />
<rect x="49.18" y="248.6" width="4.97" height="6.8" fill="#e2f1f4" stroke="none" stroke-width="1" />
<rect x="54.15" y="248.6" width="4.97" height="6.8" fill="#fbe29c" stroke="none" stroke-width="1" />
<rect x="59.12" y="248.6" width="4.97" height="6.8" fill="#f99660" stroke="none" stroke-width="1" />
<rect x="64.09" y="248.6" width="4.97" height="6.8" fill="#f99660" stroke="none" stroke-width="1" />
<rect x="69.06" y="248.6" width="4.97" height="6.8" fill="#f99660" stroke="none" stroke-width="1" />
<rect x="74.03" y="248.6" width="4.97" height="6.8" fill="#c6e1ee" stroke="none" stroke-width="1" />
<rect x="29.3" y="255.4" width="4.97" height="6.8" fill="#e2f1f4" stroke="none" stroke-width="1" />
<rect x="34.27" y="255.4" width="4.97" height="6.8" fill="#c6e1ee" stroke="none" stroke-width="1" />
<rect x="39.24" y="255.4" width="4.97" height="6.8" fill="#e2f1f4" stroke="none" stroke-width="1" />
<rect x="44.21" y="255.4" width="4.97" height="6.8" fill="#e2f1f4" stroke="none" stroke-width="1" />
<rect x="49.18" y="255.4" width="4.97" height="6.8" fill="#a8cce4" stroke="none" stroke-width="1" />
<rect x="54.15" y="255.4" width="4.97" height="6.8" fill="#f2efd0" stroke="none" stroke-width="1" />
<rect x="59.12" y="255.4" width="4.97" height="6.8" fill="#f2efd0" stroke="none" stroke-width="1" />
<rect x="64.09" y="255.4" width="4.97" height="6.8" fill="#da3a2c" stroke="none" stroke-width="1" />
<rect x="69.06" y="255.4" width="4.97" height="6.8" fill="#f2efd0" stroke="none" stroke-width="1" />
<rect x="74.03" y="255.4" width="4.97" height="6.8" fill="#fbe29c" stroke="none" stroke-width="1" />
<rect x="29.3" y="262.2" width="4.97" height="6.8" fill="#c6e1ee" stroke="none" stroke-width="1" />
<rect x="34.27" y="262.2" width="4.97" height="6.8" fill="#7fb1d8" stroke="none" stroke-width="1" />
<rect x="39.24" y="262.2" width="4.97" height="6.8" fill="#c6e1ee" stroke="none" stroke-width="1" />
<rect x="44.21" y="262.2" width="4.97" height="6.8" fill="#f2efd0" stroke="none" stroke-width="1" />
<rect x="49.18" y="262.2" width="4.97" height="6.8" fill="#f2efd0" stroke="none" stroke-width="1" />
<rect x="54.15" y="262.2" width="4.97" height="6.8" fill="#fca96a" stroke="none" stroke-width="1" />
<rect x="59.12" y="262.2" width="4.97" height="6.8" fill="#e2f1f4" stroke="none" stroke-width="1" />
<rect x="64.09" y="262.2" width="4.97" height="6.8" fill="#f2efd0" stroke="none" stroke-width="1" />
<rect x="69.06" y="262.2" width="4.97" height="6.8" fill="#f06c45" stroke="none" stroke-width="1" />
<rect x="74.03" y="262.2" width="4.97" height="6.8" fill="#fdbd7a" stroke="none" stroke-width="1" />
<rect x="29.3" y="269" width="4.97" height="6.8" fill="#e2f1f4" stroke="none" stroke-width="1" />
<rect x="34.27" y="269" width="4.97" height="6.8" fill="#f2efd0" stroke="none" stroke-width="1" />
<rect x="39.24" y="269" width="4.97" height="6.8" fill="#a8cce4" stroke="none" stroke-width="1" />
<rect x="44.21" y="269" width="4.97" height="6.8" fill="#7fb1d8" stroke="none" stroke-width="1" />
<rect x="49.18" y="269" width="4.97" height="6.8" fill="#fdbd7a" stroke="none" stroke-width="1" />
<rect x="54.15" y="269" width="4.97" height="6.8" fill="#e2f1f4" stroke="none" stroke-width="1" />
<rect x="59.12" y="269" width="4.97" height="6.8" fill="#fbe29c" stroke="none" stroke-width="1" />
<rect x="64.09" y="269" width="4.97" height="6.8" fill="#fdbd7a" stroke="none" stroke-width="1" />
<rect x="69.06" y="269" width="4.97" height="6.8" fill="#fbe29c" stroke="none" stroke-width="1" />
<rect x="74.03" y="269" width="4.97" height="6.8" fill="#f99660" stroke="none" stroke-width="1" />
<rect x="29.3" y="275.8" width="4.97" height="6.8" fill="#fbe29c" stroke="none" stroke-width="1" />
<rect x="34.27" y="275.8" width="4.97" height="6.8" fill="#a8cce4" stroke="none" stroke-width="1" />
<rect x="39.24" y="275.8" width="4.97" height="6.8" fill="#e2f1f4" stroke="none" stroke-width="1" />
<rect x="44.21" y="275.8" width="4.97" height="6.8" fill="#a8cce4" stroke="none" stroke-width="1" />
<rect x="49.18" y="275.8" width="4.97" height="6.8" fill="#e2f1f4" stroke="none" stroke-width="1" />
<rect x="54.15" y="275.8" width="4.97" height="6.8" fill="#da3a2c" stroke="none" stroke-width="1" />
<rect x="59.12" y="275.8" width="4.97" height="6.8" fill="#f2efd0" stroke="none" stroke-width="1" />
<rect x="64.09" y="275.8" width="4.97" height="6.8" fill="#fbe29c" stroke="none" stroke-width="1" />
<rect x="69.06" y="275.8" width="4.97" height="6.8" fill="#f2efd0" stroke="none" stroke-width="1" />
<rect x="74.03" y="275.8" width="4.97" height="6.8" fill="#f2efd0" stroke="none" stroke-width="1" />
<rect x="29.3" y="282.6" width="4.97" height="6.8" fill="#a8cce4" stroke="none" stroke-width="1" />
<rect x="34.27" y="282.6" width="4.97" height="6.8" fill="#7fb1d8" stroke="none" stroke-width="1" />
<rect x="39.24" y="282.6" width="4.97" height="6.8" fill="#e2f1f4" stroke="none" stroke-width="1" />
<rect x="44.21" y="282.6" width="4.97" height="6.8" fill="#c6e1ee" stroke="none" stroke-width="1" />
<rect x="49.18" y="282.6" width="4.97" height="6.8" fill="#f2efd0" stroke="none" stroke-width="1" />
<rect x="54.15" y="282.6" width="4.97" height="6.8" fill="#fdbd7a" stroke="none" stroke-width="1" />
<rect x="59.12" y="282.6" width="4.97" height="6.8" fill="#fdbd7a" stroke="none" stroke-width="1" />
<rect x="64.09" y="282.6" width="4.97" height="6.8" fill="#f99660" stroke="none" stroke-width="1" />
<rect x="69.06" y="282.6" width="4.97" height="6.8" fill="#f2efd0" stroke="none" stroke-width="1" />
<rect x="74.03" y="282.6" width="4.97" height="6.8" fill="#fdbd7a" stroke="none" stroke-width="1" />
<rect x="29.3" y="289.4" width="4.97" height="6.8" fill="#a8cce4" stroke="none" stroke-width="1" />
<rect x="34.27" y="289.4" width="4.97" height="6.8" fill="#a8cce4" stroke="none" stroke-width="1" />
<rect x="39.24" y="289.4" width="4.97" height="6.8" fill="#a8cce4" stroke="none" stroke-width="1" />
<rect x="44.21" y="289.4" width="4.97" height="6.8" fill="#c6e1ee" stroke="none" stroke-width="1" />
<rect x="49.18" y="289.4" width="4.97" height="6.8" fill="#e2f1f4" stroke="none" stroke-width="1" />
<rect x="54.15" y="289.4" width="4.97" height="6.8" fill="#fdbd7a" stroke="none" stroke-width="1" />
<rect x="59.12" y="289.4" width="4.97" height="6.8" fill="#fdbd7a" stroke="none" stroke-width="1" />
<rect x="64.09" y="289.4" width="4.97" height="6.8" fill="#f99660" stroke="none" stroke-width="1" />
<rect x="69.06" y="289.4" width="4.97" height="6.8" fill="#fdbd7a" stroke="none" stroke-width="1" />
<rect x="74.03" y="289.4" width="4.97" height="6.8" fill="#fbe29c" stroke="none" stroke-width="1" />
<rect x="29.3" y="296.2" width="4.97" height="6.8" fill="#a8cce4" stroke="none" stroke-width="1" />
<rect x="34.27" y="296.2" width="4.97" height="6.8" fill="#a8cce4" stroke="none" stroke-width="1" />
<rect x="39.24" y="296.2" width="4.97" height="6.8" fill="#a8cce4" stroke="none" stroke-width="1" />
<rect x="44.21" y="296.2" width="4.97" height="6.8" fill="#e2f1f4" stroke="none" stroke-width="1" />
<rect x="49.18" y="296.2" width="4.97" height="6.8" fill="#a8cce4" stroke="none" stroke-width="1" />
<rect x="54.15" y="296.2" width="4.97" height="6.8" fill="#fdbd7a" stroke="none" stroke-width="1" />
<rect x="59.12" y="296.2" width="4.97" height="6.8" fill="#fca96a" stroke="none" stroke-width="1" />
<rect x="64.09" y="296.2" width="4.97" height="6.8" fill="#fca96a" stroke="none" stroke-width="1" />
<rect x="69.06" y="296.2" width="4.97" height="6.8" fill="#fca96a" stroke="none" stroke-width="1" />
<rect x="74.03" y="296.2" width="4.97" height="6.8" fill="#fdbd7a" stroke="none" stroke-width="1" />
<rect x="29.3" y="303" width="4.97" height="6.8" fill="#c6e1ee" stroke="none" stroke-width="1" />
<rect x="34.27" y="303" width="4.97" height="6.8" fill="#a8cce4" stroke="none" stroke-width="1" />
<rect x="39.24" y="303" width="4.97" height="6.8" fill="#e2f1f4" stroke="none" stroke-width="1" />
<rect x="44.21" y="303" width="4.97" height="6.8" fill="#e2f1f4" stroke="none" stroke-width="1" />
<rect x="49.18" y="303" width="4.97" height="6.8" fill="#a8cce4" stroke="none" stroke-width="1" />
<rect x="54.15" y="303" width="4.97" height="6.8" fill="#f06c45" stroke="none" stroke-width="1" />
<rect x="59.12" y="303" width="4.97" height="6.8" fill="#fdbd7a" stroke="none" stroke-width="1" />
<rect x="64.09" y="303" width="4.97" height="6.8" fill="#fbe29c" stroke="none" stroke-width="1" />
<rect x="69.06" y="303" width="4.97" height="6.8" fill="#fdbd7a" stroke="none" stroke-width="1" />
<rect x="74.03" y="303" width="4.97" height="6.8" fill="#fca96a" stroke="none" stroke-width="1" />
<rect x="29.3" y="309.8" width="4.97" height="6.8" fill="#e2f1f4" stroke="none" stroke-width="1" />
<rect x="34.27" y="309.8" width="4.97" height="6.8" fill="#7fb1d8" stroke="none" stroke-width="1" />
<rect x="39.24" y="309.8" width="4.97" height="6.8" fill="#e2f1f4" stroke="none" stroke-width="1" />
<rect x="44.21" y="309.8" width="4.97" height="6.8" fill="#e2f1f4" stroke="none" stroke-width="1" />
<rect x="49.18" y="309.8" width="4.97" height="6.8" fill="#c6e1ee" stroke="none" stroke-width="1" />
<rect x="54.15" y="309.8" width="4.97" height="6.8" fill="#fdbd7a" stroke="none" stroke-width="1" />
<rect x="59.12" y="309.8" width="4.97" height="6.8" fill="#f06c45" stroke="none" stroke-width="1" />
<rect x="64.09" y="309.8" width="4.97" height="6.8" fill="#fdbd7a" stroke="none" stroke-width="1" />
<rect x="69.06" y="309.8" width="4.97" height="6.8" fill="#c6e1ee" stroke="none" stroke-width="1" />
<rect x="74.03" y="309.8" width="4.97" height="6.8" fill="#fca96a" stroke="none" stroke-width="1" />
<rect x="29.3" y="316.6" width="4.97" height="6.8" fill="#f2efd0" stroke="none" stroke-width="1" />
<rect x="34.27" y="316.6" width="4.97" height="6.8" fill="#c6e1ee" stroke="none" stroke-width="1" />
<rect x="39.24" y="316.6" width="4.97" height="6.8" fill="#a8cce4" stroke="none" stroke-width="1" />
<rect x="44.21" y="316.6" width="4.97" height="6.8" fill="#e2f1f4" stroke="none" stroke-width="1" />
<rect x="49.18" y="316.6" width="4.97" height="6.8" fill="#c6e1ee" stroke="none" stroke-width="1" />
<rect x="54.15" y="316.6" width="4.97" height="6.8" fill="#fbe29c" stroke="none" stroke-width="1" />
<rect x="59.12" y="316.6" width="4.97" height="6.8" fill="#e2f1f4" stroke="none" stroke-width="1" />
<rect x="64.09" y="316.6" width="4.97" height="6.8" fill="#f99660" stroke="none" stroke-width="1" />
<rect x="69.06" y="316.6" width="4.97" height="6.8" fill="#fbe29c" stroke="none" stroke-width="1" />
<rect x="74.03" y="316.6" width="4.97" height="6.8" fill="#f06c45" stroke="none" stroke-width="1" />
<rect x="29.3" y="323.4" width="4.97" height="6.8" fill="#e2f1f4" stroke="none" stroke-width="1" />
<rect x="34.27" y="323.4" width="4.97" height="6.8" fill="#c6e1ee" stroke="none" stroke-width="1" />
<rect x="39.24" y="323.4" width="4.97" height="6.8" fill="#7fb1d8" stroke="none" stroke-width="1" />
<rect x="44.21" y="323.4" width="4.97" height="6.8" fill="#e2f1f4" stroke="none" stroke-width="1" />
<rect x="49.18" y="323.4" width="4.97" height="6.8" fill="#fbe29c" stroke="none" stroke-width="1" />
<rect x="54.15" y="323.4" width="4.97" height="6.8" fill="#fbe29c" stroke="none" stroke-width="1" />
<rect x="59.12" y="323.4" width="4.97" height="6.8" fill="#f2efd0" stroke="none" stroke-width="1" />
<rect x="64.09" y="323.4" width="4.97" height="6.8" fill="#f2efd0" stroke="none" stroke-width="1" />
<rect x="69.06" y="323.4" width="4.97" height="6.8" fill="#fca96a" stroke="none" stroke-width="1" />
<rect x="74.03" y="323.4" width="4.97" height="6.8" fill="#f06c45" stroke="none" stroke-width="1" />
<rect x="29.3" y="330.2" width="4.97" height="6.8" fill="#a8cce4" stroke="none" stroke-width="1" />
<rect x="34.27" y="330.2" width="4.97" height="6.8" fill="#e2f1f4" stroke="none" stroke-width="1" />
<rect x="39.24" y="330.2" width="4.97" height="6.8" fill="#a8cce4" stroke="none" stroke-width="1" />
<rect x="44.21" y="330.2" width="4.97" height="6.8" fill="#c6e1ee" stroke="none" stroke-width="1" />
<rect x="49.18" y="330.2" width="4.97" height="6.8" fill="#e2f1f4" stroke="none" stroke-width="1" />
<rect x="54.15" y="330.2" width="4.97" height="6.8" fill="#f99660" stroke="none" stroke-width="1" />
<rect x="59.12" y="330.2" width="4.97" height="6.8" fill="#fdbd7a" stroke="none" stroke-width="1" />
<rect x="64.09" y="330.2" width="4.97" height="6.8" fill="#f2efd0" stroke="none" stroke-width="1" />
<rect x="69.06" y="330.2" width="4.97" height="6.8" fill="#fdbd7a" stroke="none" stroke-width="1" />
<rect x="74.03" y="330.2" width="4.97" height="6.8" fill="#f99660" stroke="none" stroke-width="1" />
<rect x="29.3" y="337" width="4.97" height="6.8" fill="#a8cce4" stroke="none" stroke-width="1" />
<rect x="34.27" y="337" width="4.97" height="6.8" fill="#c6e1ee" stroke="none" stroke-width="1" />
<rect x="39.24" y="337" width="4.97" height="6.8" fill="#a8cce4" stroke="none" stroke-width="1" />
<rect x="44.21" y="337" width="4.97" height="6.8" fill="#fbe29c" stroke="none" stroke-width="1" />
<rect x="49.18" y="337" width="4.97" height="6.8" fill="#a8cce4" stroke="none" stroke-width="1" />
<rect x="54.15" y="337" width="4.97" height="6.8" fill="#fdbd7a" stroke="none" stroke-width="1" />
<rect x="59.12" y="337" width="4.97" height="6.8" fill="#fca96a" stroke="none" stroke-width="1" />
<rect x="64.09" y="337" width="4.97" height="6.8" fill="#f2efd0" stroke="none" stroke-width="1" />
<rect x="69.06" y="337" width="4.97" height="6.8" fill="#fdbd7a" stroke="none" stroke-width="1" />
<rect x="74.03" y="337" width="4.97" height="6.8" fill="#fdbd7a" stroke="none" stroke-width="1" />
<rect x="29.3" y="343.8" width="4.97" height="6.8" fill="#a8cce4" stroke="none" stroke-width="1" />
<rect x="34.27" y="343.8" width="4.97" height="6.8" fill="#f2efd0" stroke="none" stroke-width="1" />
<rect x="39.24" y="343.8" width="4.97" height="6.8" fill="#a8cce4" stroke="none" stroke-width="1" />
<rect x="44.21" y="343.8" width="4.97" height="6.8" fill="#c6e1ee" stroke="none" stroke-width="1" />
<rect x="49.18" y="343.8" width="4.97" height="6.8" fill="#e2f1f4" stroke="none" stroke-width="1" />
<rect x="54.15" y="343.8" width="4.97" height="6.8" fill="#f2efd0" stroke="none" stroke-width="1" />
<rect x="59.12" y="343.8" width="4.97" height="6.8" fill="#f2efd0" stroke="none" stroke-width="1" />
<rect x="64.09" y="343.8" width="4.97" height="6.8" fill="#f99660" stroke="none" stroke-width="1" />
<rect x="69.06" y="343.8" width="4.97" height="6.8" fill="#fca96a" stroke="none" stroke-width="1" />
<rect x="74.03" y="343.8" width="4.97" height="6.8" fill="#f06c45" stroke="none" stroke-width="1" />
<rect x="29.3" y="350.6" width="4.97" height="6.8" fill="#e2f1f4" stroke="none" stroke-width="1" />
<rect x="34.27" y="350.6" width="4.97" height="6.8" fill="#f2efd0" stroke="none" stroke-width="1" />
<rect x="39.24" y="350.6" width="4.97" height="6.8" fill="#a8cce4" stroke="none" stroke-width="1" />
<rect x="44.21" y="350.6" width="4.97" height="6.8" fill="#c6e1ee" stroke="none" stroke-width="1" />
<rect x="49.18" y="350.6" width="4.97" height="6.8" fill="#7fb1d8" stroke="none" stroke-width="1" />
<rect x="54.15" y="350.6" width="4.97" height="6.8" fill="#f99660" stroke="none" stroke-width="1" />
<rect x="59.12" y="350.6" width="4.97" height="6.8" fill="#fca96a" stroke="none" stroke-width="1" />
<rect x="64.09" y="350.6" width="4.97" height="6.8" fill="#fbe29c" stroke="none" stroke-width="1" />
<rect x="69.06" y="350.6" width="4.97" height="6.8" fill="#fdbd7a" stroke="none" stroke-width="1" />
<rect x="74.03" y="350.6" width="4.97" height="6.8" fill="#fbe29c" stroke="none" stroke-width="1" />
<rect x="29.3" y="357.4" width="4.97" height="6.8" fill="#c6e1ee" stroke="none" stroke-width="1" />
<rect x="34.27" y="357.4" width="4.97" height="6.8" fill="#e2f1f4" stroke="none" stroke-width="1" />
<rect x="39.24" y="357.4" width="4.97" height="6.8" fill="#c6e1ee" stroke="none" stroke-width="1" />
<rect x="44.21" y="357.4" width="4.97" height="6.8" fill="#a8cce4" stroke="none" stroke-width="1" />
<rect x="49.18" y="357.4" width="4.97" height="6.8" fill="#c6e1ee" stroke="none" stroke-width="1" />
<rect x="54.15" y="357.4" width="4.97" height="6.8" fill="#fdbd7a" stroke="none" stroke-width="1" />
<rect x="59.12" y="357.4" width="4.97" height="6.8" fill="#f06c45" stroke="none" stroke-width="1" />
<rect x="64.09" y="357.4" width="4.97" height="6.8" fill="#fdbd7a" stroke="none" stroke-width="1" />
<rect x="69.06" y="357.4" width="4.97" height="6.8" fill="#e2f1f4" stroke="none" stroke-width="1" />
<rect x="74.03" y="357.4" width="4.97" height="6.8" fill="#fca96a" stroke="none" stroke-width="1" />
<rect x="29.3" y="364.2" width="4.97" height="6.8" fill="#e2f1f4" stroke="none" stroke-width="1" />
<rect x="34.27" y="364.2" width="4.97" height="6.8" fill="#f2efd0" stroke="none" stroke-width="1" />
<rect x="39.24" y="364.2" width="4.97" height="6.8" fill="#a8cce4" stroke="none" stroke-width="1" />
<rect x="44.21" y="364.2" width="4.97" height="6.8" fill="#c6e1ee" stroke="none" stroke-width="1" />
<rect x="49.18" y="364.2" width="4.97" height="6.8" fill="#e2f1f4" stroke="none" stroke-width="1" />
<rect x="54.15" y="364.2" width="4.97" height="6.8" fill="#f06c45" stroke="none" stroke-width="1" />
<rect x="59.12" y="364.2" width="4.97" height="6.8" fill="#fca96a" stroke="none" stroke-width="1" />
<rect x="64.09" y="364.2" width="4.97" height="6.8" fill="#f2efd0" stroke="none" stroke-width="1" />
<rect x="69.06" y="364.2" width="4.97" height="6.8" fill="#e2f1f4" stroke="none" stroke-width="1" />
<rect x="74.03" y="364.2" width="4.97" height="6.8" fill="#fdbd7a" stroke="none" stroke-width="1" />
<rect x="29.3" y="371" width="4.97" height="6.8" fill="#a8cce4" stroke="none" stroke-width="1" />
<rect x="34.27" y="371" width="4.97" height="6.8" fill="#c6e1ee" stroke="none" stroke-width="1" />
<rect x="39.24" y="371" width="4.97" height="6.8" fill="#c6e1ee" stroke="none" stroke-width="1" />
<rect x="44.21" y="371" width="4.97" height="6.8" fill="#a8cce4" stroke="none" stroke-width="1" />
<rect x="49.18" y="371" width="4.97" height="6.8" fill="#a8cce4" stroke="none" stroke-width="1" />
<rect x="54.15" y="371" width="4.97" height="6.8" fill="#fca96a" stroke="none" stroke-width="1" />
<rect x="59.12" y="371" width="4.97" height="6.8" fill="#fbe29c" stroke="none" stroke-width="1" />
<rect x="64.09" y="371" width="4.97" height="6.8" fill="#f99660" stroke="none" stroke-width="1" />
<rect x="69.06" y="371" width="4.97" height="6.8" fill="#fdbd7a" stroke="none" stroke-width="1" />
<rect x="74.03" y="371" width="4.97" height="6.8" fill="#fbe29c" stroke="none" stroke-width="1" />
<path d="M29.3 235H79M29.3 241.8H79M29.3 248.6H79M29.3 255.4H79M29.3 262.2H79M29.3 269H79M29.3 275.8H79M29.3 282.6H79M29.3 289.4H79M29.3 296.2H79M29.3 303H79M29.3 309.8H79M29.3 316.6H79M29.3 323.4H79M29.3 330.2H79M29.3 337H79M29.3 343.8H79M29.3 350.6H79M29.3 357.4H79M29.3 364.2H79M29.3 371H79M29.3 377.8H79M29.3 235V377.8M34.27 235V377.8M39.24 235V377.8M44.21 235V377.8M49.18 235V377.8M54.15 235V377.8M59.12 235V377.8M64.09 235V377.8M69.06 235V377.8M74.03 235V377.8M79 235V377.8" stroke="#a9a9a9" stroke-width="0.5" fill="none"/>
<text x="28" y="241" font-size="7.3" text-anchor="end" fill="#000" color="#000" textLength="14.78" lengthAdjust="spacingAndGlyphs" style="stroke-width:0.2px">SRC</text>
<text x="28" y="247.8" font-size="7.3" text-anchor="end" fill="#000" color="#000" textLength="14.78" lengthAdjust="spacingAndGlyphs" style="stroke-width:0.2px">HCK</text>
<text x="28" y="254.6" font-size="7.3" text-anchor="end" fill="#000" color="#000" textLength="13.62" lengthAdjust="spacingAndGlyphs" style="stroke-width:0.2px">LCK</text>
<text x="28" y="261.4" font-size="7.3" text-anchor="end" fill="#000" color="#000" textLength="13.1" lengthAdjust="spacingAndGlyphs" style="stroke-width:0.2px">LYN</text>
<text x="28" y="268.2" font-size="7.3" text-anchor="end" fill="#000" color="#000" textLength="14" lengthAdjust="spacingAndGlyphs" style="stroke-width:0.2px">FYN</text>
<text x="28" y="275" font-size="7.3" text-anchor="end" fill="#000" color="#000" textLength="17.9" lengthAdjust="spacingAndGlyphs" style="stroke-width:0.2px">YES1</text>
<text x="28" y="281.8" font-size="7.3" text-anchor="end" fill="#000" color="#000" textLength="14.01" lengthAdjust="spacingAndGlyphs" style="stroke-width:0.2px">SYK</text>
<text x="28" y="288.6" font-size="7.3" text-anchor="end" fill="#000" color="#000" textLength="16.86" lengthAdjust="spacingAndGlyphs" style="stroke-width:0.2px">VAV1</text>
<text x="28" y="295.4" font-size="7.3" text-anchor="end" fill="#000" color="#000" textLength="16.86" lengthAdjust="spacingAndGlyphs" style="stroke-width:0.2px">VAV2</text>
<text x="28" y="302.2" font-size="7.3" text-anchor="end" fill="#000" color="#000" textLength="16.86" lengthAdjust="spacingAndGlyphs" style="stroke-width:0.2px">VAV3</text>
<text x="28" y="309" font-size="7.3" text-anchor="end" fill="#000" color="#000" textLength="14.78" lengthAdjust="spacingAndGlyphs" style="stroke-width:0.2px">CRK</text>
<text x="28" y="315.8" font-size="7.3" text-anchor="end" fill="#000" color="#000" textLength="24.12" lengthAdjust="spacingAndGlyphs" style="stroke-width:0.2px">PRKCE</text>
<text x="28" y="322.6" font-size="7.3" text-anchor="end" fill="#000" color="#000" textLength="13.61" lengthAdjust="spacingAndGlyphs" style="stroke-width:0.2px">BTK</text>
<text x="28" y="329.4" font-size="7.3" text-anchor="end" fill="#000" color="#000" textLength="17.51" lengthAdjust="spacingAndGlyphs" style="stroke-width:0.2px">PTK2</text>
<text x="28" y="336.2" font-size="7.3" text-anchor="end" fill="#000" color="#000" textLength="24.9" lengthAdjust="spacingAndGlyphs" style="stroke-width:0.2px">PIK3CB</text>
<text x="28" y="343" font-size="7.3" text-anchor="end" fill="#000" color="#000" textLength="24.12" lengthAdjust="spacingAndGlyphs" style="stroke-width:0.2px">PIK3R1</text>
<text x="28" y="349.8" font-size="7.3" text-anchor="end" fill="#000" color="#000" textLength="17.51" lengthAdjust="spacingAndGlyphs" style="stroke-width:0.2px">PLD2</text>
<text x="28" y="356.6" font-size="7.3" text-anchor="end" fill="#000" color="#000" textLength="23.73" lengthAdjust="spacingAndGlyphs" style="stroke-width:0.2px">MYO10</text>
<text x="28" y="363.4" font-size="7.3" text-anchor="end" fill="#000" color="#000" textLength="19.58" lengthAdjust="spacingAndGlyphs" style="stroke-width:0.2px">WASL</text>
<text x="28" y="370.2" font-size="7.3" text-anchor="end" fill="#000" color="#000" textLength="23.85" lengthAdjust="spacingAndGlyphs" style="stroke-width:0.2px">WASF1</text>
<text x="28" y="377" font-size="7.3" text-anchor="end" fill="#000" color="#000" textLength="18.67" lengthAdjust="spacingAndGlyphs" style="stroke-width:0.2px">CTSB</text>
<text x="28.7" y="231.3" font-size="8.2" fill="#222" color="#222" textLength="49.4" lengthAdjust="spacingAndGlyphs" >Phagocytosis</text>
<rect x="81.5" y="236.2" width="3.9" height="56.8" fill="url(#zcb)" stroke="none" stroke-width="1" />
<text x="87.8" y="244.5" font-size="7" fill="#222" color="#222" >2</text>
<text x="87.8" y="257.7" font-size="7" fill="#222" color="#222" >1</text>
<text x="87.8" y="269.1" font-size="7" fill="#222" color="#222" >0</text>
<text x="87.8" y="279" font-size="7" fill="#222" color="#222" >-1</text>
<text x="87.8" y="291.6" font-size="7" fill="#222" color="#222" >-2</text>
<text x="98.5" y="264.1" font-size="7" text-anchor="middle" fill="#222" color="#222" textLength="23.5" lengthAdjust="spacingAndGlyphs" transform="rotate(90 98.5 264.1)" >Z-score</text>
<line x1="30.2" y1="380.4" x2="53.9" y2="380.4" stroke="#333" stroke-width="1.1" />
<line x1="55" y1="380.4" x2="78.2" y2="380.4" stroke="#333" stroke-width="1.1" />
<text x="27" y="394" font-size="10.2" fill="#111" color="#111" textLength="21.3" lengthAdjust="spacingAndGlyphs" transform="rotate(-13.5 27 394)" >UTD</text>
<text x="26.1" y="403.7" font-size="10.2" fill="#111" color="#111" textLength="55.2" lengthAdjust="spacingAndGlyphs" transform="rotate(-13.5 26.1 403.7)" >HER2.eSPR</text>
<text x="100.2" y="210.8" font-size="13.4" fill="#000" color="#000" font-weight="bold" >f</text>
<rect x="131.2" y="235.2" width="5.03" height="6.34" fill="#c6e1ee" stroke="none" stroke-width="1" />
<rect x="136.23" y="235.2" width="5.03" height="6.34" fill="#a8cce4" stroke="none" stroke-width="1" />
<rect x="141.26" y="235.2" width="5.03" height="6.34" fill="#c6e1ee" stroke="none" stroke-width="1" />
<rect x="146.29" y="235.2" width="5.03" height="6.34" fill="#c6e1ee" stroke="none" stroke-width="1" />
<rect x="151.32" y="235.2" width="5.03" height="6.34" fill="#a8cce4" stroke="none" stroke-width="1" />
<rect x="156.35" y="235.2" width="5.03" height="6.34" fill="#f2efd0" stroke="none" stroke-width="1" />
<rect x="161.38" y="235.2" width="5.03" height="6.34" fill="#fca96a" stroke="none" stroke-width="1" />
<rect x="166.41" y="235.2" width="5.03" height="6.34" fill="#f99660" stroke="none" stroke-width="1" />
<rect x="171.44" y="235.2" width="5.03" height="6.34" fill="#fdbd7a" stroke="none" stroke-width="1" />
<rect x="176.47" y="235.2" width="5.03" height="6.34" fill="#fdbd7a" stroke="none" stroke-width="1" />
<rect x="131.2" y="241.54" width="5.03" height="6.34" fill="#e2f1f4" stroke="none" stroke-width="1" />
<rect x="136.23" y="241.54" width="5.03" height="6.34" fill="#a8cce4" stroke="none" stroke-width="1" />
<rect x="141.26" y="241.54" width="5.03" height="6.34" fill="#a8cce4" stroke="none" stroke-width="1" />
<rect x="146.29" y="241.54" width="5.03" height="6.34" fill="#e2f1f4" stroke="none" stroke-width="1" />
<rect x="151.32" y="241.54" width="5.03" height="6.34" fill="#a8cce4" stroke="none" stroke-width="1" />
<rect x="156.35" y="241.54" width="5.03" height="6.34" fill="#f2efd0" stroke="none" stroke-width="1" />
<rect x="161.38" y="241.54" width="5.03" height="6.34" fill="#f99660" stroke="none" stroke-width="1" />
<rect x="166.41" y="241.54" width="5.03" height="6.34" fill="#fca96a" stroke="none" stroke-width="1" />
<rect x="171.44" y="241.54" width="5.03" height="6.34" fill="#fbe29c" stroke="none" stroke-width="1" />
<rect x="176.47" y="241.54" width="5.03" height="6.34" fill="#fdbd7a" stroke="none" stroke-width="1" />
<rect x="131.2" y="247.88" width="5.03" height="6.34" fill="#a8cce4" stroke="none" stroke-width="1" />
<rect x="136.23" y="247.88" width="5.03" height="6.34" fill="#f2efd0" stroke="none" stroke-width="1" />
<rect x="141.26" y="247.88" width="5.03" height="6.34" fill="#e2f1f4" stroke="none" stroke-width="1" />
<rect x="146.29" y="247.88" width="5.03" height="6.34" fill="#c6e1ee" stroke="none" stroke-width="1" />
<rect x="151.32" y="247.88" width="5.03" height="6.34" fill="#fbe29c" stroke="none" stroke-width="1" />
<rect x="156.35" y="247.88" width="5.03" height="6.34" fill="#a8cce4" stroke="none" stroke-width="1" />
<rect x="161.38" y="247.88" width="5.03" height="6.34" fill="#fbe29c" stroke="none" stroke-width="1" />
<rect x="166.41" y="247.88" width="5.03" height="6.34" fill="#fbe29c" stroke="none" stroke-width="1" />
<rect x="171.44" y="247.88" width="5.03" height="6.34" fill="#da3a2c" stroke="none" stroke-width="1" />
<rect x="176.47" y="247.88" width="5.03" height="6.34" fill="#e2f1f4" stroke="none" stroke-width="1" />
<rect x="131.2" y="254.22" width="5.03" height="6.34" fill="#c6e1ee" stroke="none" stroke-width="1" />
<rect x="136.23" y="254.22" width="5.03" height="6.34" fill="#e2f1f4" stroke="none" stroke-width="1" />
<rect x="141.26" y="254.22" width="5.03" height="6.34" fill="#a8cce4" stroke="none" stroke-width="1" />
<rect x="146.29" y="254.22" width="5.03" height="6.34" fill="#c6e1ee" stroke="none" stroke-width="1" />
<rect x="151.32" y="254.22" width="5.03" height="6.34" fill="#c6e1ee" stroke="none" stroke-width="1" />
<rect x="156.35" y="254.22" width="5.03" height="6.34" fill="#fca96a" stroke="none" stroke-width="1" />
<rect x="161.38" y="254.22" width="5.03" height="6.34" fill="#f99660" stroke="none" stroke-width="1" />
<rect x="166.41" y="254.22" width="5.03" height="6.34" fill="#f2efd0" stroke="none" stroke-width="1" />
<rect x="171.44" y="254.22" width="5.03" height="6.34" fill="#fbe29c" stroke="none" stroke-width="1" />
<rect x="176.47" y="254.22" width="5.03" height="6.34" fill="#f99660" stroke="none" stroke-width="1" />
<rect x="131.2" y="260.56" width="5.03" height="6.34" fill="#a8cce4" stroke="none" stroke-width="1" />
<rect x="136.23" y="260.56" width="5.03" height="6.34" fill="#c6e1ee" stroke="none" stroke-width="1" />
<rect x="141.26" y="260.56" width="5.03" height="6.34" fill="#c6e1ee" stroke="none" stroke-width="1" />
<rect x="146.29" y="260.56" width="5.03" height="6.34" fill="#a8cce4" stroke="none" stroke-width="1" />
<rect x="151.32" y="260.56" width="5.03" height="6.34" fill="#a8cce4" stroke="none" stroke-width="1" />
<rect x="156.35" y="260.56" width="5.03" height="6.34" fill="#fdbd7a" stroke="none" stroke-width="1" />
<rect x="161.38" y="260.56" width="5.03" height="6.34" fill="#f06c45" stroke="none" stroke-width="1" />
<rect x="166.41" y="260.56" width="5.03" height="6.34" fill="#f2efd0" stroke="none" stroke-width="1" />
<rect x="171.44" y="260.56" width="5.03" height="6.34" fill="#fbe29c" stroke="none" stroke-width="1" />
<rect x="176.47" y="260.56" width="5.03" height="6.34" fill="#f99660" stroke="none" stroke-width="1" />
<rect x="131.2" y="266.9" width="5.03" height="6.34" fill="#a8cce4" stroke="none" stroke-width="1" />
<rect x="136.23" y="266.9" width="5.03" height="6.34" fill="#c6e1ee" stroke="none" stroke-width="1" />
<rect x="141.26" y="266.9" width="5.03" height="6.34" fill="#c6e1ee" stroke="none" stroke-width="1" />
<rect x="146.29" y="266.9" width="5.03" height="6.34" fill="#a8cce4" stroke="none" stroke-width="1" />
<rect x="151.32" y="266.9" width="5.03" height="6.34" fill="#c6e1ee" stroke="none" stroke-width="1" />
<rect x="156.35" y="266.9" width="5.03" height="6.34" fill="#fdbd7a" stroke="none" stroke-width="1" />
<rect x="161.38" y="266.9" width="5.03" height="6.34" fill="#fca96a" stroke="none" stroke-width="1" />
<rect x="166.41" y="266.9" width="5.03" height="6.34" fill="#fbe29c" stroke="none" stroke-width="1" />
<rect x="171.44" y="266.9" width="5.03" height="6.34" fill="#fbe29c" stroke="none" stroke-width="1" />
<rect x="176.47" y="266.9" width="5.03" height="6.34" fill="#f99660" stroke="none" stroke-width="1" />
<rect x="131.2" y="273.24" width="5.03" height="6.34" fill="#c6e1ee" stroke="none" stroke-width="1" />
<rect x="136.23" y="273.24" width="5.03" height="6.34" fill="#a8cce4" stroke="none" stroke-width="1" />
<rect x="141.26" y="273.24" width="5.03" height="6.34" fill="#a8cce4" stroke="none" stroke-width="1" />
<rect x="146.29" y="273.24" width="5.03" height="6.34" fill="#e2f1f4" stroke="none" stroke-width="1" />
<rect x="151.32" y="273.24" width="5.03" height="6.34" fill="#a8cce4" stroke="none" stroke-width="1" />
<rect x="156.35" y="273.24" width="5.03" height="6.34" fill="#fbe29c" stroke="none" stroke-width="1" />
<rect x="161.38" y="273.24" width="5.03" height="6.34" fill="#fdbd7a" stroke="none" stroke-width="1" />
<rect x="166.41" y="273.24" width="5.03" height="6.34" fill="#f99660" stroke="none" stroke-width="1" />
<rect x="171.44" y="273.24" width="5.03" height="6.34" fill="#fca96a" stroke="none" stroke-width="1" />
<rect x="176.47" y="273.24" width="5.03" height="6.34" fill="#fbe29c" stroke="none" stroke-width="1" />
<rect x="131.2" y="279.58" width="5.03" height="6.34" fill="#c6e1ee" stroke="none" stroke-width="1" />
<rect x="136.23" y="279.58" width="5.03" height="6.34" fill="#c6e1ee" stroke="none" stroke-width="1" />
<rect x="141.26" y="279.58" width="5.03" height="6.34" fill="#e2f1f4" stroke="none" stroke-width="1" />
<rect x="146.29" y="279.58" width="5.03" height="6.34" fill="#a8cce4" stroke="none" stroke-width="1" />
<rect x="151.32" y="279.58" width="5.03" height="6.34" fill="#a8cce4" stroke="none" stroke-width="1" />
<rect x="156.35" y="279.58" width="5.03" height="6.34" fill="#f99660" stroke="none" stroke-width="1" />
<rect x="161.38" y="279.58" width="5.03" height="6.34" fill="#fdbd7a" stroke="none" stroke-width="1" />
<rect x="166.41" y="279.58" width="5.03" height="6.34" fill="#fbe29c" stroke="none" stroke-width="1" />
<rect x="171.44" y="279.58" width="5.03" height="6.34" fill="#fca96a" stroke="none" stroke-width="1" />
<rect x="176.47" y="279.58" width="5.03" height="6.34" fill="#fdbd7a" stroke="none" stroke-width="1" />
<rect x="131.2" y="285.92" width="5.03" height="6.34" fill="#c6e1ee" stroke="none" stroke-width="1" />
<rect x="136.23" y="285.92" width="5.03" height="6.34" fill="#a8cce4" stroke="none" stroke-width="1" />
<rect x="141.26" y="285.92" width="5.03" height="6.34" fill="#c6e1ee" stroke="none" stroke-width="1" />
<rect x="146.29" y="285.92" width="5.03" height="6.34" fill="#c6e1ee" stroke="none" stroke-width="1" />
<rect x="151.32" y="285.92" width="5.03" height="6.34" fill="#a8cce4" stroke="none" stroke-width="1" />
<rect x="156.35" y="285.92" width="5.03" height="6.34" fill="#fdbd7a" stroke="none" stroke-width="1" />
<rect x="161.38" y="285.92" width="5.03" height="6.34" fill="#f06c45" stroke="none" stroke-width="1" />
<rect x="166.41" y="285.92" width="5.03" height="6.34" fill="#fbe29c" stroke="none" stroke-width="1" />
<rect x="171.44" y="285.92" width="5.03" height="6.34" fill="#fdbd7a" stroke="none" stroke-width="1" />
<rect x="176.47" y="285.92" width="5.03" height="6.34" fill="#fbe29c" stroke="none" stroke-width="1" />
<rect x="131.2" y="292.26" width="5.03" height="6.34" fill="#c6e1ee" stroke="none" stroke-width="1" />
<rect x="136.23" y="292.26" width="5.03" height="6.34" fill="#a8cce4" stroke="none" stroke-width="1" />
<rect x="141.26" y="292.26" width="5.03" height="6.34" fill="#c6e1ee" stroke="none" stroke-width="1" />
<rect x="146.29" y="292.26" width="5.03" height="6.34" fill="#c6e1ee" stroke="none" stroke-width="1" />
<rect x="151.32" y="292.26" width="5.03" height="6.34" fill="#a8cce4" stroke="none" stroke-width="1" />
<rect x="156.35" y="292.26" width="5.03" height="6.34" fill="#fbe29c" stroke="none" stroke-width="1" />
<rect x="161.38" y="292.26" width="5.03" height="6.34" fill="#fca96a" stroke="none" stroke-width="1" />
<rect x="166.41" y="292.26" width="5.03" height="6.34" fill="#f99660" stroke="none" stroke-width="1" />
<rect x="171.44" y="292.26" width="5.03" height="6.34" fill="#fdbd7a" stroke="none" stroke-width="1" />
<rect x="176.47" y="292.26" width="5.03" height="6.34" fill="#fdbd7a" stroke="none" stroke-width="1" />
<rect x="131.2" y="298.6" width="5.03" height="6.34" fill="#c6e1ee" stroke="none" stroke-width="1" />
<rect x="136.23" y="298.6" width="5.03" height="6.34" fill="#c6e1ee" stroke="none" stroke-width="1" />
<rect x="141.26" y="298.6" width="5.03" height="6.34" fill="#a8cce4" stroke="none" stroke-width="1" />
<rect x="146.29" y="298.6" width="5.03" height="6.34" fill="#a8cce4" stroke="none" stroke-width="1" />
<rect x="151.32" y="298.6" width="5.03" height="6.34" fill="#e2f1f4" stroke="none" stroke-width="1" />
<rect x="156.35" y="298.6" width="5.03" height="6.34" fill="#fbe29c" stroke="none" stroke-width="1" />
<rect x="161.38" y="298.6" width="5.03" height="6.34" fill="#f06c45" stroke="none" stroke-width="1" />
<rect x="166.41" y="298.6" width="5.03" height="6.34" fill="#f99660" stroke="none" stroke-width="1" />
<rect x="171.44" y="298.6" width="5.03" height="6.34" fill="#fbe29c" stroke="none" stroke-width="1" />
<rect x="176.47" y="298.6" width="5.03" height="6.34" fill="#fbe29c" stroke="none" stroke-width="1" />
<rect x="131.2" y="304.94" width="5.03" height="6.34" fill="#e2f1f4" stroke="none" stroke-width="1" />
<rect x="136.23" y="304.94" width="5.03" height="6.34" fill="#c6e1ee" stroke="none" stroke-width="1" />
<rect x="141.26" y="304.94" width="5.03" height="6.34" fill="#a8cce4" stroke="none" stroke-width="1" />
<rect x="146.29" y="304.94" width="5.03" height="6.34" fill="#a8cce4" stroke="none" stroke-width="1" />
<rect x="151.32" y="304.94" width="5.03" height="6.34" fill="#c6e1ee" stroke="none" stroke-width="1" />
<rect x="156.35" y="304.94" width="5.03" height="6.34" fill="#fbe29c" stroke="none" stroke-width="1" />
<rect x="161.38" y="304.94" width="5.03" height="6.34" fill="#f06c45" stroke="none" stroke-width="1" />
<rect x="166.41" y="304.94" width="5.03" height="6.34" fill="#fbe29c" stroke="none" stroke-width="1" />
<rect x="171.44" y="304.94" width="5.03" height="6.34" fill="#fdbd7a" stroke="none" stroke-width="1" />
<rect x="176.47" y="304.94" width="5.03" height="6.34" fill="#f99660" stroke="none" stroke-width="1" />
<rect x="131.2" y="311.28" width="5.03" height="6.34" fill="#a8cce4" stroke="none" stroke-width="1" />
<rect x="136.23" y="311.28" width="5.03" height="6.34" fill="#a8cce4" stroke="none" stroke-width="1" />
<rect x="141.26" y="311.28" width="5.03" height="6.34" fill="#c6e1ee" stroke="none" stroke-width="1" />
<rect x="146.29" y="311.28" width="5.03" height="6.34" fill="#c6e1ee" stroke="none" stroke-width="1" />
<rect x="151.32" y="311.28" width="5.03" height="6.34" fill="#e2f1f4" stroke="none" stroke-width="1" />
<rect x="156.35" y="311.28" width="5.03" height="6.34" fill="#f2efd0" stroke="none" stroke-width="1" />
<rect x="161.38" y="311.28" width="5.03" height="6.34" fill="#f06c45" stroke="none" stroke-width="1" />
<rect x="166.41" y="311.28" width="5.03" height="6.34" fill="#f99660" stroke="none" stroke-width="1" />
<rect x="171.44" y="311.28" width="5.03" height="6.34" fill="#fbe29c" stroke="none" stroke-width="1" />
<rect x="176.47" y="311.28" width="5.03" height="6.34" fill="#fbe29c" stroke="none" stroke-width="1" />
<rect x="131.2" y="317.62" width="5.03" height="6.34" fill="#f2efd0" stroke="none" stroke-width="1" />
<rect x="136.23" y="317.62" width="5.03" height="6.34" fill="#e2f1f4" stroke="none" stroke-width="1" />
<rect x="141.26" y="317.62" width="5.03" height="6.34" fill="#f2efd0" stroke="none" stroke-width="1" />
<rect x="146.29" y="317.62" width="5.03" height="6.34" fill="#7fb1d8" stroke="none" stroke-width="1" />
<rect x="151.32" y="317.62" width="5.03" height="6.34" fill="#c6e1ee" stroke="none" stroke-width="1" />
<rect x="156.35" y="317.62" width="5.03" height="6.34" fill="#fbe29c" stroke="none" stroke-width="1" />
<rect x="161.38" y="317.62" width="5.03" height="6.34" fill="#f2efd0" stroke="none" stroke-width="1" />
<rect x="166.41" y="317.62" width="5.03" height="6.34" fill="#da3a2c" stroke="none" stroke-width="1" />
<rect x="171.44" y="317.62" width="5.03" height="6.34" fill="#fbe29c" stroke="none" stroke-width="1" />
<rect x="176.47" y="317.62" width="5.03" height="6.34" fill="#e2f1f4" stroke="none" stroke-width="1" />
<rect x="131.2" y="323.96" width="5.03" height="6.34" fill="#c6e1ee" stroke="none" stroke-width="1" />
<rect x="136.23" y="323.96" width="5.03" height="6.34" fill="#a8cce4" stroke="none" stroke-width="1" />
<rect x="141.26" y="323.96" width="5.03" height="6.34" fill="#e2f1f4" stroke="none" stroke-width="1" />
<rect x="146.29" y="323.96" width="5.03" height="6.34" fill="#e2f1f4" stroke="none" stroke-width="1" />
<rect x="151.32" y="323.96" width="5.03" height="6.34" fill="#a8cce4" stroke="none" stroke-width="1" />
<rect x="156.35" y="323.96" width="5.03" height="6.34" fill="#f2efd0" stroke="none" stroke-width="1" />
<rect x="161.38" y="323.96" width="5.03" height="6.34" fill="#fdbd7a" stroke="none" stroke-width="1" />
<rect x="166.41" y="323.96" width="5.03" height="6.34" fill="#f06c45" stroke="none" stroke-width="1" />
<rect x="171.44" y="323.96" width="5.03" height="6.34" fill="#f99660" stroke="none" stroke-width="1" />
<rect x="176.47" y="323.96" width="5.03" height="6.34" fill="#f2efd0" stroke="none" stroke-width="1" />
<rect x="131.2" y="330.3" width="5.03" height="6.34" fill="#e2f1f4" stroke="none" stroke-width="1" />
<rect x="136.23" y="330.3" width="5.03" height="6.34" fill="#c6e1ee" stroke="none" stroke-width="1" />
<rect x="141.26" y="330.3" width="5.03" height="6.34" fill="#c6e1ee" stroke="none" stroke-width="1" />
<rect x="146.29" y="330.3" width="5.03" height="6.34" fill="#e2f1f4" stroke="none" stroke-width="1" />
<rect x="151.32" y="330.3" width="5.03" height="6.34" fill="#c6e1ee" stroke="none" stroke-width="1" />
<rect x="156.35" y="330.3" width="5.03" height="6.34" fill="#f2efd0" stroke="none" stroke-width="1" />
<rect x="161.38" y="330.3" width="5.03" height="6.34" fill="#da3a2c" stroke="none" stroke-width="1" />
<rect x="166.41" y="330.3" width="5.03" height="6.34" fill="#fbe29c" stroke="none" stroke-width="1" />
<rect x="171.44" y="330.3" width="5.03" height="6.34" fill="#fbe29c" stroke="none" stroke-width="1" />
<rect x="176.47" y="330.3" width="5.03" height="6.34" fill="#f2efd0" stroke="none" stroke-width="1" />
<rect x="131.2" y="336.64" width="5.03" height="6.34" fill="#c6e1ee" stroke="none" stroke-width="1" />
<rect x="136.23" y="336.64" width="5.03" height="6.34" fill="#c6e1ee" stroke="none" stroke-width="1" />
<rect x="141.26" y="336.64" width="5.03" height="6.34" fill="#c6e1ee" stroke="none" stroke-width="1" />
<rect x="146.29" y="336.64" width="5.03" height="6.34" fill="#c6e1ee" stroke="none" stroke-width="1" />
<rect x="151.32" y="336.64" width="5.03" height="6.34" fill="#c6e1ee" stroke="none" stroke-width="1" />
<rect x="156.35" y="336.64" width="5.03" height="6.34" fill="#f2efd0" stroke="none" stroke-width="1" />
<rect x="161.38" y="336.64" width="5.03" height="6.34" fill="#fbe29c" stroke="none" stroke-width="1" />
<rect x="166.41" y="336.64" width="5.03" height="6.34" fill="#da3a2c" stroke="none" stroke-width="1" />
<rect x="171.44" y="336.64" width="5.03" height="6.34" fill="#f2efd0" stroke="none" stroke-width="1" />
<rect x="176.47" y="336.64" width="5.03" height="6.34" fill="#fdbd7a" stroke="none" stroke-width="1" />
<rect x="131.2" y="342.98" width="5.03" height="6.34" fill="#a8cce4" stroke="none" stroke-width="1" />
<rect x="136.23" y="342.98" width="5.03" height="6.34" fill="#c6e1ee" stroke="none" stroke-width="1" />
<rect x="141.26" y="342.98" width="5.03" height="6.34" fill="#c6e1ee" stroke="none" stroke-width="1" />
<rect x="146.29" y="342.98" width="5.03" height="6.34" fill="#c6e1ee" stroke="none" stroke-width="1" />
<rect x="151.32" y="342.98" width="5.03" height="6.34" fill="#c6e1ee" stroke="none" stroke-width="1" />
<rect x="156.35" y="342.98" width="5.03" height="6.34" fill="#fbe29c" stroke="none" stroke-width="1" />
<rect x="161.38" y="342.98" width="5.03" height="6.34" fill="#fdbd7a" stroke="none" stroke-width="1" />
<rect x="166.41" y="342.98" width="5.03" height="6.34" fill="#f99660" stroke="none" stroke-width="1" />
<rect x="171.44" y="342.98" width="5.03" height="6.34" fill="#f99660" stroke="none" stroke-width="1" />
<rect x="176.47" y="342.98" width="5.03" height="6.34" fill="#f2efd0" stroke="none" stroke-width="1" />
<rect x="131.2" y="349.32" width="5.03" height="6.34" fill="#a8cce4" stroke="none" stroke-width="1" />
<rect x="136.23" y="349.32" width="5.03" height="6.34" fill="#c6e1ee" stroke="none" stroke-width="1" />
<rect x="141.26" y="349.32" width="5.03" height="6.34" fill="#c6e1ee" stroke="none" stroke-width="1" />
<rect x="146.29" y="349.32" width="5.03" height="6.34" fill="#a8cce4" stroke="none" stroke-width="1" />
<rect x="151.32" y="349.32" width="5.03" height="6.34" fill="#f2efd0" stroke="none" stroke-width="1" />
<rect x="156.35" y="349.32" width="5.03" height="6.34" fill="#f2efd0" stroke="none" stroke-width="1" />
<rect x="161.38" y="349.32" width="5.03" height="6.34" fill="#f99660" stroke="none" stroke-width="1" />
<rect x="166.41" y="349.32" width="5.03" height="6.34" fill="#fdbd7a" stroke="none" stroke-width="1" />
<rect x="171.44" y="349.32" width="5.03" height="6.34" fill="#f2efd0" stroke="none" stroke-width="1" />
<rect x="176.47" y="349.32" width="5.03" height="6.34" fill="#f99660" stroke="none" stroke-width="1" />
<rect x="131.2" y="355.66" width="5.03" height="6.34" fill="#c6e1ee" stroke="none" stroke-width="1" />
<rect x="136.23" y="355.66" width="5.03" height="6.34" fill="#c6e1ee" stroke="none" stroke-width="1" />
<rect x="141.26" y="355.66" width="5.03" height="6.34" fill="#c6e1ee" stroke="none" stroke-width="1" />
<rect x="146.29" y="355.66" width="5.03" height="6.34" fill="#c6e1ee" stroke="none" stroke-width="1" />
<rect x="151.32" y="355.66" width="5.03" height="6.34" fill="#c6e1ee" stroke="none" stroke-width="1" />
<rect x="156.35" y="355.66" width="5.03" height="6.34" fill="#f2efd0" stroke="none" stroke-width="1" />
<rect x="161.38" y="355.66" width="5.03" height="6.34" fill="#fbe29c" stroke="none" stroke-width="1" />
<rect x="166.41" y="355.66" width="5.03" height="6.34" fill="#da3a2c" stroke="none" stroke-width="1" />
<rect x="171.44" y="355.66" width="5.03" height="6.34" fill="#fbe29c" stroke="none" stroke-width="1" />
<rect x="176.47" y="355.66" width="5.03" height="6.34" fill="#fca96a" stroke="none" stroke-width="1" />
<rect x="131.2" y="362" width="5.03" height="6.34" fill="#a8cce4" stroke="none" stroke-width="1" />
<rect x="136.23" y="362" width="5.03" height="6.34" fill="#c6e1ee" stroke="none" stroke-width="1" />
<rect x="141.26" y="362" width="5.03" height="6.34" fill="#c6e1ee" stroke="none" stroke-width="1" />
<rect x="146.29" y="362" width="5.03" height="6.34" fill="#c6e1ee" stroke="none" stroke-width="1" />
<rect x="151.32" y="362" width="5.03" height="6.34" fill="#a8cce4" stroke="none" stroke-width="1" />
<rect x="156.35" y="362" width="5.03" height="6.34" fill="#fca96a" stroke="none" stroke-width="1" />
<rect x="161.38" y="362" width="5.03" height="6.34" fill="#fca96a" stroke="none" stroke-width="1" />
<rect x="166.41" y="362" width="5.03" height="6.34" fill="#fca96a" stroke="none" stroke-width="1" />
<rect x="171.44" y="362" width="5.03" height="6.34" fill="#fbe29c" stroke="none" stroke-width="1" />
<rect x="176.47" y="362" width="5.03" height="6.34" fill="#fdbd7a" stroke="none" stroke-width="1" />
<rect x="131.2" y="368.34" width="5.03" height="6.34" fill="#c6e1ee" stroke="none" stroke-width="1" />
<rect x="136.23" y="368.34" width="5.03" height="6.34" fill="#a8cce4" stroke="none" stroke-width="1" />
<rect x="141.26" y="368.34" width="5.03" height="6.34" fill="#a8cce4" stroke="none" stroke-width="1" />
<rect x="146.29" y="368.34" width="5.03" height="6.34" fill="#c6e1ee" stroke="none" stroke-width="1" />
<rect x="151.32" y="368.34" width="5.03" height="6.34" fill="#c6e1ee" stroke="none" stroke-width="1" />
<rect x="156.35" y="368.34" width="5.03" height="6.34" fill="#fca96a" stroke="none" stroke-width="1" />
<rect x="161.38" y="368.34" width="5.03" height="6.34" fill="#fca96a" stroke="none" stroke-width="1" />
<rect x="166.41" y="368.34" width="5.03" height="6.34" fill="#f99660" stroke="none" stroke-width="1" />
<rect x="171.44" y="368.34" width="5.03" height="6.34" fill="#fbe29c" stroke="none" stroke-width="1" />
<rect x="176.47" y="368.34" width="5.03" height="6.34" fill="#fdbd7a" stroke="none" stroke-width="1" />
<rect x="131.2" y="374.68" width="5.03" height="6.34" fill="#c6e1ee" stroke="none" stroke-width="1" />
<rect x="136.23" y="374.68" width="5.03" height="6.34" fill="#a8cce4" stroke="none" stroke-width="1" />
<rect x="141.26" y="374.68" width="5.03" height="6.34" fill="#c6e1ee" stroke="none" stroke-width="1" />
<rect x="146.29" y="374.68" width="5.03" height="6.34" fill="#c6e1ee" stroke="none" stroke-width="1" />
<rect x="151.32" y="374.68" width="5.03" height="6.34" fill="#c6e1ee" stroke="none" stroke-width="1" />
<rect x="156.35" y="374.68" width="5.03" height="6.34" fill="#f2efd0" stroke="none" stroke-width="1" />
<rect x="161.38" y="374.68" width="5.03" height="6.34" fill="#fbe29c" stroke="none" stroke-width="1" />
<rect x="166.41" y="374.68" width="5.03" height="6.34" fill="#f06c45" stroke="none" stroke-width="1" />
<rect x="171.44" y="374.68" width="5.03" height="6.34" fill="#fdbd7a" stroke="none" stroke-width="1" />
<rect x="176.47" y="374.68" width="5.03" height="6.34" fill="#fdbd7a" stroke="none" stroke-width="1" />
<path d="M131.2 235.2H181.5M131.2 241.54H181.5M131.2 247.88H181.5M131.2 254.22H181.5M131.2 260.56H181.5M131.2 266.9H181.5M131.2 273.24H181.5M131.2 279.58H181.5M131.2 285.92H181.5M131.2 292.26H181.5M131.2 298.6H181.5M131.2 304.94H181.5M131.2 311.28H181.5M131.2 317.62H181.5M131.2 323.96H181.5M131.2 330.3H181.5M131.2 336.64H181.5M131.2 342.98H181.5M131.2 349.32H181.5M131.2 355.66H181.5M131.2 362H181.5M131.2 368.34H181.5M131.2 374.68H181.5M131.2 381.02H181.5M131.2 235.2V381.02M136.23 235.2V381.02M141.26 235.2V381.02M146.29 235.2V381.02M151.32 235.2V381.02M156.35 235.2V381.02M161.38 235.2V381.02M166.41 235.2V381.02M171.44 235.2V381.02M176.47 235.2V381.02M181.5 235.2V381.02" stroke="#a9a9a9" stroke-width="0.5" fill="none"/>
<text x="130.2" y="240.97" font-size="7.3" text-anchor="end" fill="#000" color="#000" textLength="16.99" lengthAdjust="spacingAndGlyphs" style="stroke-width:0.2px">TAP1</text>
<text x="130.2" y="247.31" font-size="7.3" text-anchor="end" fill="#000" color="#000" textLength="16.99" lengthAdjust="spacingAndGlyphs" style="stroke-width:0.2px">TAP2</text>
<text x="130.2" y="253.65" font-size="7.3" text-anchor="end" fill="#000" color="#000" textLength="17.37" lengthAdjust="spacingAndGlyphs" style="stroke-width:0.2px">CIITA</text>
<text x="130.2" y="259.99" font-size="7.3" text-anchor="end" fill="#000" color="#000" textLength="19.45" lengthAdjust="spacingAndGlyphs" style="stroke-width:0.2px">CANX</text>
<text x="130.2" y="266.33" font-size="7.3" text-anchor="end" fill="#000" color="#000" textLength="18.67" lengthAdjust="spacingAndGlyphs" style="stroke-width:0.2px">CALR</text>
<text x="130.2" y="272.67" font-size="7.3" text-anchor="end" fill="#000" color="#000" textLength="20.23" lengthAdjust="spacingAndGlyphs" style="stroke-width:0.2px">PDIA3</text>
<text x="130.2" y="279.01" font-size="7.3" text-anchor="end" fill="#000" color="#000" textLength="23.73" lengthAdjust="spacingAndGlyphs" style="stroke-width:0.2px">PSMA4</text>
<text x="130.2" y="285.35" font-size="7.3" text-anchor="end" fill="#000" color="#000" textLength="23.73" lengthAdjust="spacingAndGlyphs" style="stroke-width:0.2px">PSMA5</text>
<text x="130.2" y="291.69" font-size="7.3" text-anchor="end" fill="#000" color="#000" textLength="23.73" lengthAdjust="spacingAndGlyphs" style="stroke-width:0.2px">PSMA6</text>
<text x="130.2" y="298.03" font-size="7.3" text-anchor="end" fill="#000" color="#000" textLength="23.73" lengthAdjust="spacingAndGlyphs" style="stroke-width:0.2px">PSMB9</text>
<text x="130.2" y="304.37" font-size="7.3" text-anchor="end" fill="#000" color="#000" textLength="23.73" lengthAdjust="spacingAndGlyphs" style="stroke-width:0.2px">PSME1</text>
<text x="130.2" y="310.71" font-size="7.3" text-anchor="end" fill="#000" color="#000" textLength="23.73" lengthAdjust="spacingAndGlyphs" style="stroke-width:0.2px">PSME2</text>
<text x="130.2" y="317.05" font-size="7.3" text-anchor="end" fill="#000" color="#000" textLength="21.26" lengthAdjust="spacingAndGlyphs" style="stroke-width:0.2px">BATF3</text>
<text x="130.2" y="323.39" font-size="7.3" text-anchor="end" fill="#000" color="#000" textLength="14.39" lengthAdjust="spacingAndGlyphs" style="stroke-width:0.2px">B2M</text>
<text x="130.2" y="329.73" font-size="7.3" text-anchor="end" fill="#000" color="#000" textLength="17.9" lengthAdjust="spacingAndGlyphs" style="stroke-width:0.2px">CD40</text>
<text x="130.2" y="336.07" font-size="7.3" text-anchor="end" fill="#000" color="#000" textLength="17.9" lengthAdjust="spacingAndGlyphs" style="stroke-width:0.2px">CD70</text>
<text x="130.2" y="342.41" font-size="7.3" text-anchor="end" fill="#000" color="#000" textLength="17.9" lengthAdjust="spacingAndGlyphs" style="stroke-width:0.2px">CD80</text>
<text x="130.2" y="348.75" font-size="7.3" text-anchor="end" fill="#000" color="#000" textLength="17.9" lengthAdjust="spacingAndGlyphs" style="stroke-width:0.2px">CD86</text>
<text x="130.2" y="355.09" font-size="7.3" text-anchor="end" fill="#000" color="#000" textLength="17.89" lengthAdjust="spacingAndGlyphs" style="stroke-width:0.2px">BAFF</text>
<text x="130.2" y="361.43" font-size="7.3" text-anchor="end" fill="#000" color="#000" textLength="16.34" lengthAdjust="spacingAndGlyphs" style="stroke-width:0.2px">LFA3</text>
<text x="130.2" y="367.77" font-size="7.3" text-anchor="end" fill="#000" color="#000" textLength="17.9" lengthAdjust="spacingAndGlyphs" style="stroke-width:0.2px">CD58</text>
<text x="130.2" y="374.11" font-size="7.3" text-anchor="end" fill="#000" color="#000" textLength="13.62" lengthAdjust="spacingAndGlyphs" style="stroke-width:0.2px">IL15</text>
<text x="130.2" y="380.45" font-size="7.3" text-anchor="end" fill="#000" color="#000" textLength="23.35" lengthAdjust="spacingAndGlyphs" style="stroke-width:0.2px">IL15RA</text>
<text x="125.7" y="231.5" font-size="8.2" fill="#222" color="#222" textLength="59.3" lengthAdjust="spacingAndGlyphs" >Ag presentation</text>
<rect x="185.8" y="238.2" width="3.9" height="56.8" fill="url(#zcb)" stroke="none" stroke-width="1" />
<text x="192.1" y="246.2" font-size="7" fill="#222" color="#222" >2</text>
<text x="192.1" y="259" font-size="7" fill="#222" color="#222" >1</text>
<text x="192.1" y="271" font-size="7" fill="#222" color="#222" >0</text>
<text x="192.1" y="280.6" font-size="7" fill="#222" color="#222" >-1</text>
<text x="192.1" y="292.8" font-size="7" fill="#222" color="#222" >-2</text>
<text x="201" y="266.1" font-size="7" text-anchor="middle" fill="#222" color="#222" textLength="23.5" lengthAdjust="spacingAndGlyphs" transform="rotate(90 201 266.1)" >Z-score</text>
<line x1="132" y1="383.6" x2="155.8" y2="383.6" stroke="#333" stroke-width="1.1" />
<line x1="156.8" y1="383.6" x2="180" y2="383.6" stroke="#333" stroke-width="1.1" />
<text x="133" y="395" font-size="10.2" fill="#111" color="#111" textLength="21.3" lengthAdjust="spacingAndGlyphs" transform="rotate(-13.5 133 395)" >UTD</text>
<text x="132.1" y="404.7" font-size="10.2" fill="#111" color="#111" textLength="55.2" lengthAdjust="spacingAndGlyphs" transform="rotate(-13.5 132.1 404.7)" >HER2.eSPR</text>
<text x="206.3" y="210.8" font-size="13.4" fill="#000" color="#000" font-weight="bold" >g</text>
<circle cx="239.7" cy="242.4" r="3.2" fill="none" stroke="#9a9a9a" stroke-width="1.5" />
<text x="246.5" y="245.6" font-size="10" fill="#111" color="#111" textLength="20.8" lengthAdjust="spacingAndGlyphs" >UTD</text>
<circle cx="239.7" cy="255.2" r="3.2" fill="none" stroke="#4da6f5" stroke-width="1.5" />
<text x="246.5" y="258.4" font-size="10" fill="#111" color="#111" textLength="53.5" lengthAdjust="spacingAndGlyphs" >HER2.CAR</text>
<circle cx="239.7" cy="268.5" r="3.2" fill="none" stroke="#f7a440" stroke-width="1.5" />
<text x="246.5" y="271.7" font-size="10" fill="#111" color="#111" textLength="58.6" lengthAdjust="spacingAndGlyphs" >HER2.eSPR</text>
<text x="221.8" y="317.2" font-size="10.2" text-anchor="middle" fill="#111" color="#111" textLength="82.2" lengthAdjust="spacingAndGlyphs" transform="rotate(-90 221.8 317.2)" >Phagocytosis (%)</text>
<line x1="246.2" y1="297" x2="246.2" y2="347.5" stroke="#111" stroke-width="1.1" />
<line x1="245.7" y1="347" x2="279" y2="347" stroke="#111" stroke-width="1.1" />
<line x1="243.2" y1="347" x2="246.2" y2="347" stroke="#111" stroke-width="1" />
<line x1="244.7" y1="342.04" x2="246.2" y2="342.04" stroke="#111" stroke-width="1" />
<line x1="243.2" y1="337.08" x2="246.2" y2="337.08" stroke="#111" stroke-width="1" />
<line x1="244.7" y1="332.12" x2="246.2" y2="332.12" stroke="#111" stroke-width="1" />
<line x1="243.2" y1="327.16" x2="246.2" y2="327.16" stroke="#111" stroke-width="1" />
<line x1="244.7" y1="322.2" x2="246.2" y2="322.2" stroke="#111" stroke-width="1" />
<line x1="243.2" y1="317.24" x2="246.2" y2="317.24" stroke="#111" stroke-width="1" />
<line x1="244.7" y1="312.28" x2="246.2" y2="312.28" stroke="#111" stroke-width="1" />
<line x1="243.2" y1="307.32" x2="246.2" y2="307.32" stroke="#111" stroke-width="1" />
<line x1="244.7" y1="302.36" x2="246.2" y2="302.36" stroke="#111" stroke-width="1" />
<line x1="243.2" y1="297.4" x2="246.2" y2="297.4" stroke="#111" stroke-width="1" />
<text x="240.3" y="350.6" font-size="10" text-anchor="end" fill="#111" color="#111" textLength="5.85" lengthAdjust="spacingAndGlyphs" >0</text>
<text x="240.3" y="340.68" font-size="10" text-anchor="end" fill="#111" color="#111" textLength="5.85" lengthAdjust="spacingAndGlyphs" >5</text>
<text x="240.3" y="330.76" font-size="10" text-anchor="end" fill="#111" color="#111" textLength="11.7" lengthAdjust="spacingAndGlyphs" >10</text>
<text x="240.3" y="320.84" font-size="10" text-anchor="end" fill="#111" color="#111" textLength="11.7" lengthAdjust="spacingAndGlyphs" >15</text>
<text x="240.3" y="310.92" font-size="10" text-anchor="end" fill="#111" color="#111" textLength="11.7" lengthAdjust="spacingAndGlyphs" >20</text>
<text x="240.3" y="301" font-size="10" text-anchor="end" fill="#111" color="#111" textLength="11.7" lengthAdjust="spacingAndGlyphs" >25</text>
<circle cx="251.65" cy="334.62" r="2.3" fill="none" stroke="#555" stroke-width="1.1" />
<circle cx="252.55" cy="336.22" r="2.3" fill="none" stroke="#555" stroke-width="1.1" />
<circle cx="253.45" cy="335.76" r="2.3" fill="none" stroke="#555" stroke-width="1.1" />
<circle cx="254.35" cy="336.05" r="2.3" fill="none" stroke="#555" stroke-width="1.1" />
<line x1="250.2" y1="335.69" x2="255.8" y2="335.69" stroke="#111" stroke-width="1.2" />
<line x1="253" y1="333.9" x2="253" y2="337.48" stroke="#111" stroke-width="1" />
<line x1="251.4" y1="333.9" x2="254.6" y2="333.9" stroke="#111" stroke-width="1" />
<line x1="251.4" y1="337.48" x2="254.6" y2="337.48" stroke="#111" stroke-width="1" />
<circle cx="262.65" cy="317.19" r="2.3" fill="none" stroke="#4da6f5" stroke-width="1.1" />
<circle cx="263.55" cy="314.5" r="2.3" fill="none" stroke="#4da6f5" stroke-width="1.1" />
<circle cx="264.45" cy="316.28" r="2.3" fill="none" stroke="#4da6f5" stroke-width="1.1" />
<circle cx="265.35" cy="313.5" r="2.3" fill="none" stroke="#4da6f5" stroke-width="1.1" />
<line x1="261.2" y1="315.26" x2="266.8" y2="315.26" stroke="#111" stroke-width="1.2" />
<line x1="264" y1="312.75" x2="264" y2="317.76" stroke="#111" stroke-width="1" />
<line x1="262.4" y1="312.75" x2="265.6" y2="312.75" stroke="#111" stroke-width="1" />
<line x1="262.4" y1="317.76" x2="265.6" y2="317.76" stroke="#111" stroke-width="1" />
<circle cx="273.65" cy="316.15" r="2.3" fill="none" stroke="#f7a440" stroke-width="1.1" />
<circle cx="274.55" cy="317.33" r="2.3" fill="none" stroke="#f7a440" stroke-width="1.1" />
<circle cx="275.45" cy="313.77" r="2.3" fill="none" stroke="#f7a440" stroke-width="1.1" />
<circle cx="276.35" cy="314.21" r="2.3" fill="none" stroke="#f7a440" stroke-width="1.1" />
<line x1="272.2" y1="315.26" x2="277.8" y2="315.26" stroke="#111" stroke-width="1.2" />
<line x1="275" y1="313.23" x2="275" y2="317.28" stroke="#111" stroke-width="1" />
<line x1="273.4" y1="313.23" x2="276.6" y2="313.23" stroke="#111" stroke-width="1" />
<line x1="273.4" y1="317.28" x2="276.6" y2="317.28" stroke="#111" stroke-width="1" />
<line x1="253" y1="291.4" x2="274.9" y2="291.4" stroke="#333" stroke-width="1.3" />
<text x="247.9" y="287.3" font-size="7.6" fill="#222" color="#222" textLength="28.6" lengthAdjust="spacingAndGlyphs" >&lt;0.0001</text>
<line x1="264" y1="305.3" x2="274.7" y2="305.3" stroke="#333" stroke-width="1.3" />
<text x="269.4" y="301" font-size="7.6" text-anchor="middle" fill="#222" color="#222" textLength="8" lengthAdjust="spacingAndGlyphs" >ns</text>
<line x1="300.8" y1="297" x2="300.8" y2="347.5" stroke="#111" stroke-width="1.1" />
<line x1="300.3" y1="347" x2="335" y2="347" stroke="#111" stroke-width="1.1" />
<line x1="297.8" y1="347" x2="300.8" y2="347" stroke="#111" stroke-width="1" />
<line x1="299.3" y1="342.04" x2="300.8" y2="342.04" stroke="#111" stroke-width="1" />
<line x1="297.8" y1="337.08" x2="300.8" y2="337.08" stroke="#111" stroke-width="1" />
<line x1="299.3" y1="332.12" x2="300.8" y2="332.12" stroke="#111" stroke-width="1" />
<line x1="297.8" y1="327.16" x2="300.8" y2="327.16" stroke="#111" stroke-width="1" />
<line x1="299.3" y1="322.2" x2="300.8" y2="322.2" stroke="#111" stroke-width="1" />
<line x1="297.8" y1="317.24" x2="300.8" y2="317.24" stroke="#111" stroke-width="1" />
<line x1="299.3" y1="312.28" x2="300.8" y2="312.28" stroke="#111" stroke-width="1" />
<line x1="297.8" y1="307.32" x2="300.8" y2="307.32" stroke="#111" stroke-width="1" />
<line x1="299.3" y1="302.36" x2="300.8" y2="302.36" stroke="#111" stroke-width="1" />
<line x1="297.8" y1="297.4" x2="300.8" y2="297.4" stroke="#111" stroke-width="1" />
<text x="294.9" y="350.6" font-size="10" text-anchor="end" fill="#111" color="#111" textLength="5.85" lengthAdjust="spacingAndGlyphs" >0</text>
<text x="294.9" y="340.68" font-size="10" text-anchor="end" fill="#111" color="#111" textLength="5.85" lengthAdjust="spacingAndGlyphs" >5</text>
<text x="294.9" y="330.76" font-size="10" text-anchor="end" fill="#111" color="#111" textLength="11.7" lengthAdjust="spacingAndGlyphs" >10</text>
<text x="294.9" y="320.84" font-size="10" text-anchor="end" fill="#111" color="#111" textLength="11.7" lengthAdjust="spacingAndGlyphs" >15</text>
<text x="294.9" y="310.92" font-size="10" text-anchor="end" fill="#111" color="#111" textLength="11.7" lengthAdjust="spacingAndGlyphs" >20</text>
<text x="294.9" y="301" font-size="10" text-anchor="end" fill="#111" color="#111" textLength="11.7" lengthAdjust="spacingAndGlyphs" >25</text>
<circle cx="306.25" cy="339.21" r="2.3" fill="none" stroke="#555" stroke-width="1.1" />
<circle cx="307.15" cy="338.99" r="2.3" fill="none" stroke="#555" stroke-width="1.1" />
<circle cx="308.05" cy="337.55" r="2.3" fill="none" stroke="#555" stroke-width="1.1" />
<circle cx="308.95" cy="338.46" r="2.3" fill="none" stroke="#555" stroke-width="1.1" />
<line x1="304.8" y1="338.47" x2="310.4" y2="338.47" stroke="#111" stroke-width="1.2" />
<line x1="307.6" y1="336.68" x2="307.6" y2="340.26" stroke="#111" stroke-width="1" />
<line x1="306" y1="336.68" x2="309.2" y2="336.68" stroke="#111" stroke-width="1" />
<line x1="306" y1="340.26" x2="309.2" y2="340.26" stroke="#111" stroke-width="1" />
<circle cx="317.25" cy="318.39" r="2.3" fill="none" stroke="#4da6f5" stroke-width="1.1" />
<circle cx="318.15" cy="320.9" r="2.3" fill="none" stroke="#4da6f5" stroke-width="1.1" />
<circle cx="319.05" cy="320.15" r="2.3" fill="none" stroke="#4da6f5" stroke-width="1.1" />
<circle cx="319.95" cy="319.73" r="2.3" fill="none" stroke="#4da6f5" stroke-width="1.1" />
<line x1="315.8" y1="319.22" x2="321.4" y2="319.22" stroke="#111" stroke-width="1.2" />
<line x1="318.6" y1="316.48" x2="318.6" y2="321.97" stroke="#111" stroke-width="1" />
<line x1="317" y1="316.48" x2="320.2" y2="316.48" stroke="#111" stroke-width="1" />
<line x1="317" y1="321.97" x2="320.2" y2="321.97" stroke="#111" stroke-width="1" />
<circle cx="328.25" cy="319.82" r="2.3" fill="none" stroke="#f7a440" stroke-width="1.1" />
<circle cx="329.15" cy="318.04" r="2.3" fill="none" stroke="#f7a440" stroke-width="1.1" />
<circle cx="330.05" cy="317.96" r="2.3" fill="none" stroke="#f7a440" stroke-width="1.1" />
<circle cx="330.95" cy="317.83" r="2.3" fill="none" stroke="#f7a440" stroke-width="1.1" />
<line x1="326.8" y1="318.63" x2="332.4" y2="318.63" stroke="#111" stroke-width="1.2" />
<line x1="329.6" y1="316.36" x2="329.6" y2="320.9" stroke="#111" stroke-width="1" />
<line x1="328" y1="316.36" x2="331.2" y2="316.36" stroke="#111" stroke-width="1" />
<line x1="328" y1="320.9" x2="331.2" y2="320.9" stroke="#111" stroke-width="1" />
<line x1="308.2" y1="291.4" x2="329.7" y2="291.4" stroke="#333" stroke-width="1.3" />
<text x="305.1" y="287.3" font-size="7.6" fill="#222" color="#222" textLength="28.6" lengthAdjust="spacingAndGlyphs" >&lt;0.0001</text>
<line x1="319" y1="305.3" x2="329.4" y2="305.3" stroke="#333" stroke-width="1.3" />
<text x="324.2" y="301" font-size="7.6" text-anchor="middle" fill="#222" color="#222" textLength="8" lengthAdjust="spacingAndGlyphs" >ns</text>
<text x="242.7" y="358.3" font-size="10.2" fill="#111" color="#111" textLength="41" lengthAdjust="spacingAndGlyphs" >Donor#1</text>
<text x="298" y="358.3" font-size="10.2" fill="#111" color="#111" textLength="41.5" lengthAdjust="spacingAndGlyphs" >Donor#2</text>
<text x="344.5" y="210.8" font-size="13.4" fill="#000" color="#000" font-weight="bold" >h</text>
<text x="437.2" y="208.7" font-size="10.5" text-anchor="middle" fill="#111" color="#111" textLength="25.2" lengthAdjust="spacingAndGlyphs" >24 hr</text>
<text x="539.8" y="208.7" font-size="10.5" text-anchor="middle" fill="#111" color="#111" textLength="25.2" lengthAdjust="spacingAndGlyphs" >48 hr</text>
<text x="648.3" y="208.7" font-size="10.5" text-anchor="middle" fill="#111" color="#111" textLength="25.2" lengthAdjust="spacingAndGlyphs" >72 hr</text>
<line x1="401.2" y1="228" x2="401.2" y2="278.95" stroke="#111" stroke-width="1.1" />
<line x1="400.7" y1="278.45" x2="476.7" y2="278.45" stroke="#111" stroke-width="1.1" />
<line x1="398.2" y1="228.5" x2="401.2" y2="228.5" stroke="#111" stroke-width="1" />
<line x1="399.7" y1="236.83" x2="401.2" y2="236.83" stroke="#111" stroke-width="1" />
<line x1="398.2" y1="245.15" x2="401.2" y2="245.15" stroke="#111" stroke-width="1" />
<line x1="399.7" y1="253.48" x2="401.2" y2="253.48" stroke="#111" stroke-width="1" />
<line x1="398.2" y1="261.8" x2="401.2" y2="261.8" stroke="#111" stroke-width="1" />
<line x1="399.7" y1="270.12" x2="401.2" y2="270.12" stroke="#111" stroke-width="1" />
<line x1="398.2" y1="278.45" x2="401.2" y2="278.45" stroke="#111" stroke-width="1" />
<text x="397.8" y="232.2" font-size="10.3" text-anchor="end" fill="#111" color="#111" textLength="18.45" lengthAdjust="spacingAndGlyphs" >100</text>
<text x="397.8" y="248.85" font-size="10.3" text-anchor="end" fill="#111" color="#111" textLength="12.3" lengthAdjust="spacingAndGlyphs" >50</text>
<text x="397.8" y="265.5" font-size="10.3" text-anchor="end" fill="#111" color="#111" textLength="6.15" lengthAdjust="spacingAndGlyphs" >0</text>
<text x="397.8" y="282.15" font-size="10.3" text-anchor="end" fill="#111" color="#111" textLength="17.9" lengthAdjust="spacingAndGlyphs" >−50</text>
<line x1="407.4" y1="278.45" x2="407.4" y2="281.45" stroke="#111" stroke-width="1" />
<text x="410.1" y="290.65" font-size="10" text-anchor="end" fill="#111" color="#111" textLength="5.6" lengthAdjust="spacingAndGlyphs" transform="rotate(-45 410.1 290.65)" >0</text>
<line x1="419.87" y1="278.45" x2="419.87" y2="281.45" stroke="#111" stroke-width="1" />
<text x="422.57" y="290.65" font-size="10" text-anchor="end" fill="#111" color="#111" textLength="27.5" lengthAdjust="spacingAndGlyphs" transform="rotate(-45 422.57 290.65)" >0.625</text>
<line x1="432.34" y1="278.45" x2="432.34" y2="281.45" stroke="#111" stroke-width="1" />
<text x="435.04" y="290.65" font-size="10" text-anchor="end" fill="#111" color="#111" textLength="21.5" lengthAdjust="spacingAndGlyphs" transform="rotate(-45 435.04 290.65)" >1.25</text>
<line x1="444.81" y1="278.45" x2="444.81" y2="281.45" stroke="#111" stroke-width="1" />
<text x="447.51" y="290.65" font-size="10" text-anchor="end" fill="#111" color="#111" textLength="15.5" lengthAdjust="spacingAndGlyphs" transform="rotate(-45 447.51 290.65)" >2.5</text>
<line x1="457.28" y1="278.45" x2="457.28" y2="281.45" stroke="#111" stroke-width="1" />
<text x="459.98" y="290.65" font-size="10" text-anchor="end" fill="#111" color="#111" textLength="5.6" lengthAdjust="spacingAndGlyphs" transform="rotate(-45 459.98 290.65)" >5</text>
<line x1="469.75" y1="278.45" x2="469.75" y2="281.45" stroke="#111" stroke-width="1" />
<text x="472.45" y="290.65" font-size="10" text-anchor="end" fill="#111" color="#111" textLength="11.2" lengthAdjust="spacingAndGlyphs" transform="rotate(-45 472.45 290.65)" >10</text>
<path d="M407.4 261.8 419.9 264.5 432.3 265.8 444.8 265.8 457.3 261.8 469.8 260.1" fill="none" stroke="#b4b4b4" stroke-width="1.2" />
<path d="M407.4 261.8 419.9 262.1 432.3 264.8 444.8 264.8 457.3 263.8 469.8 257.8" fill="none" stroke="#55a8f5" stroke-width="1.2" />
<path d="M407.4 261.8 419.9 257.8 432.3 260.1 444.8 260.1 457.3 257.8 469.8 257.5" fill="none" stroke="#f8a545" stroke-width="1.2" />
<circle cx="407.4" cy="261.8" r="2.1" fill="none" stroke="#b4b4b4" stroke-width="1" />
<circle cx="419.87" cy="264.46" r="2.1" fill="none" stroke="#b4b4b4" stroke-width="1" />
<circle cx="432.34" cy="265.8" r="2.1" fill="none" stroke="#b4b4b4" stroke-width="1" />
<circle cx="444.81" cy="265.8" r="2.1" fill="none" stroke="#b4b4b4" stroke-width="1" />
<circle cx="457.28" cy="261.8" r="2.1" fill="none" stroke="#b4b4b4" stroke-width="1" />
<circle cx="469.75" cy="260.13" r="2.1" fill="none" stroke="#b4b4b4" stroke-width="1" />
<circle cx="407.4" cy="261.8" r="2.1" fill="none" stroke="#55a8f5" stroke-width="1" />
<circle cx="419.87" cy="262.13" r="2.1" fill="none" stroke="#55a8f5" stroke-width="1" />
<circle cx="432.34" cy="264.8" r="2.1" fill="none" stroke="#55a8f5" stroke-width="1" />
<circle cx="444.81" cy="264.8" r="2.1" fill="none" stroke="#55a8f5" stroke-width="1" />
<circle cx="457.28" cy="263.8" r="2.1" fill="none" stroke="#55a8f5" stroke-width="1" />
<circle cx="469.75" cy="257.8" r="2.1" fill="none" stroke="#55a8f5" stroke-width="1" />
<circle cx="407.4" cy="261.8" r="2.1" fill="none" stroke="#f8a545" stroke-width="1" />
<circle cx="419.87" cy="257.8" r="2.1" fill="none" stroke="#f8a545" stroke-width="1" />
<circle cx="432.34" cy="260.13" r="2.1" fill="none" stroke="#f8a545" stroke-width="1" />
<circle cx="444.81" cy="260.13" r="2.1" fill="none" stroke="#f8a545" stroke-width="1" />
<circle cx="457.28" cy="257.8" r="2.1" fill="none" stroke="#f8a545" stroke-width="1" />
<circle cx="469.75" cy="257.47" r="2.1" fill="none" stroke="#f8a545" stroke-width="1" />
<line x1="432.34" y1="263.8" x2="432.34" y2="267.79" stroke="#b4b4b4" stroke-width="1" />
<line x1="430.34" y1="263.8" x2="434.34" y2="263.8" stroke="#b4b4b4" stroke-width="1" />
<line x1="430.34" y1="267.79" x2="434.34" y2="267.79" stroke="#b4b4b4" stroke-width="1" />
<line x1="444.81" y1="263.8" x2="444.81" y2="267.79" stroke="#b4b4b4" stroke-width="1" />
<line x1="442.81" y1="263.8" x2="446.81" y2="263.8" stroke="#b4b4b4" stroke-width="1" />
<line x1="442.81" y1="267.79" x2="446.81" y2="267.79" stroke="#b4b4b4" stroke-width="1" />
<line x1="401.9" y1="214.7" x2="413.7" y2="214.7" stroke="#b4b4b4" stroke-width="1.3" />
<line x1="401.9" y1="222.1" x2="413.7" y2="222.1" stroke="#55a8f5" stroke-width="1.3" />
<line x1="401.9" y1="229.5" x2="413.7" y2="229.5" stroke="#f8a545" stroke-width="1.3" />
<line x1="415.4" y1="220.9" x2="415.4" y2="230" stroke="#111" stroke-width="1.1" />
<text x="418.2" y="228.6" font-size="8.2" fill="#222" color="#222" textLength="27.6" lengthAdjust="spacingAndGlyphs" >&lt;0.0001</text>
<line x1="449.3" y1="214.7" x2="449.3" y2="229.8" stroke="#111" stroke-width="1.1" />
<text x="450.7" y="225.4" font-size="8.2" fill="#222" color="#222" textLength="27.6" lengthAdjust="spacingAndGlyphs" >&lt;0.0001</text>
<line x1="504.2" y1="228" x2="504.2" y2="278.95" stroke="#111" stroke-width="1.1" />
<line x1="503.7" y1="278.45" x2="579.7" y2="278.45" stroke="#111" stroke-width="1.1" />
<line x1="501.2" y1="228.5" x2="504.2" y2="228.5" stroke="#111" stroke-width="1" />
<line x1="502.7" y1="236.83" x2="504.2" y2="236.83" stroke="#111" stroke-width="1" />
<line x1="501.2" y1="245.15" x2="504.2" y2="245.15" stroke="#111" stroke-width="1" />
<line x1="502.7" y1="253.48" x2="504.2" y2="253.48" stroke="#111" stroke-width="1" />
<line x1="501.2" y1="261.8" x2="504.2" y2="261.8" stroke="#111" stroke-width="1" />
<line x1="502.7" y1="270.12" x2="504.2" y2="270.12" stroke="#111" stroke-width="1" />
<line x1="501.2" y1="278.45" x2="504.2" y2="278.45" stroke="#111" stroke-width="1" />
<text x="500.8" y="232.2" font-size="10.3" text-anchor="end" fill="#111" color="#111" textLength="18.45" lengthAdjust="spacingAndGlyphs" >100</text>
<text x="500.8" y="248.85" font-size="10.3" text-anchor="end" fill="#111" color="#111" textLength="12.3" lengthAdjust="spacingAndGlyphs" >50</text>
<text x="500.8" y="265.5" font-size="10.3" text-anchor="end" fill="#111" color="#111" textLength="6.15" lengthAdjust="spacingAndGlyphs" >0</text>
<text x="500.8" y="282.15" font-size="10.3" text-anchor="end" fill="#111" color="#111" textLength="17.9" lengthAdjust="spacingAndGlyphs" >−50</text>
<line x1="510.4" y1="278.45" x2="510.4" y2="281.45" stroke="#111" stroke-width="1" />
<text x="513.1" y="290.65" font-size="10" text-anchor="end" fill="#111" color="#111" textLength="5.6" lengthAdjust="spacingAndGlyphs" transform="rotate(-45 513.1 290.65)" >0</text>
<line x1="522.87" y1="278.45" x2="522.87" y2="281.45" stroke="#111" stroke-width="1" />
<text x="525.57" y="290.65" font-size="10" text-anchor="end" fill="#111" color="#111" textLength="27.5" lengthAdjust="spacingAndGlyphs" transform="rotate(-45 525.57 290.65)" >0.625</text>
<line x1="535.34" y1="278.45" x2="535.34" y2="281.45" stroke="#111" stroke-width="1" />
<text x="538.04" y="290.65" font-size="10" text-anchor="end" fill="#111" color="#111" textLength="21.5" lengthAdjust="spacingAndGlyphs" transform="rotate(-45 538.04 290.65)" >1.25</text>
<line x1="547.81" y1="278.45" x2="547.81" y2="281.45" stroke="#111" stroke-width="1" />
<text x="550.51" y="290.65" font-size="10" text-anchor="end" fill="#111" color="#111" textLength="15.5" lengthAdjust="spacingAndGlyphs" transform="rotate(-45 550.51 290.65)" >2.5</text>
<line x1="560.28" y1="278.45" x2="560.28" y2="281.45" stroke="#111" stroke-width="1" />
<text x="562.98" y="290.65" font-size="10" text-anchor="end" fill="#111" color="#111" textLength="5.6" lengthAdjust="spacingAndGlyphs" transform="rotate(-45 562.98 290.65)" >5</text>
<line x1="572.75" y1="278.45" x2="572.75" y2="281.45" stroke="#111" stroke-width="1" />
<text x="575.45" y="290.65" font-size="10" text-anchor="end" fill="#111" color="#111" textLength="11.2" lengthAdjust="spacingAndGlyphs" transform="rotate(-45 575.45 290.65)" >10</text>
<path d="M510.4 261.8 522.9 261.8 535.3 262.8 547.8 263.8 560.3 261.8 572.8 263.8" fill="none" stroke="#b4b4b4" stroke-width="1.2" />
<path d="M510.4 261.8 522.9 264.5 535.3 267.8 547.8 271.1 560.3 266.1 572.8 264.5" fill="none" stroke="#55a8f5" stroke-width="1.2" />
<path d="M510.4 261.8 522.9 260.1 535.3 259.5 547.8 258.5 560.3 255.8 572.8 258.5" fill="none" stroke="#f8a545" stroke-width="1.2" />
<circle cx="510.4" cy="261.8" r="2.1" fill="none" stroke="#b4b4b4" stroke-width="1" />
<circle cx="522.87" cy="261.8" r="2.1" fill="none" stroke="#b4b4b4" stroke-width="1" />
<circle cx="535.34" cy="262.8" r="2.1" fill="none" stroke="#b4b4b4" stroke-width="1" />
<circle cx="547.81" cy="263.8" r="2.1" fill="none" stroke="#b4b4b4" stroke-width="1" />
<circle cx="560.28" cy="261.8" r="2.1" fill="none" stroke="#b4b4b4" stroke-width="1" />
<circle cx="572.75" cy="263.8" r="2.1" fill="none" stroke="#b4b4b4" stroke-width="1" />
<circle cx="510.4" cy="261.8" r="2.1" fill="none" stroke="#55a8f5" stroke-width="1" />
<circle cx="522.87" cy="264.46" r="2.1" fill="none" stroke="#55a8f5" stroke-width="1" />
<circle cx="535.34" cy="267.79" r="2.1" fill="none" stroke="#55a8f5" stroke-width="1" />
<circle cx="547.81" cy="271.12" r="2.1" fill="none" stroke="#55a8f5" stroke-width="1" />
<circle cx="560.28" cy="266.13" r="2.1" fill="none" stroke="#55a8f5" stroke-width="1" />
<circle cx="572.75" cy="264.46" r="2.1" fill="none" stroke="#55a8f5" stroke-width="1" />
<circle cx="510.4" cy="261.8" r="2.1" fill="none" stroke="#f8a545" stroke-width="1" />
<circle cx="522.87" cy="260.13" r="2.1" fill="none" stroke="#f8a545" stroke-width="1" />
<circle cx="535.34" cy="259.47" r="2.1" fill="none" stroke="#f8a545" stroke-width="1" />
<circle cx="547.81" cy="258.47" r="2.1" fill="none" stroke="#f8a545" stroke-width="1" />
<circle cx="560.28" cy="255.81" r="2.1" fill="none" stroke="#f8a545" stroke-width="1" />
<circle cx="572.75" cy="258.47" r="2.1" fill="none" stroke="#f8a545" stroke-width="1" />
<line x1="535.34" y1="261.8" x2="535.34" y2="263.8" stroke="#b4b4b4" stroke-width="1" />
<line x1="533.34" y1="261.8" x2="537.34" y2="261.8" stroke="#b4b4b4" stroke-width="1" />
<line x1="533.34" y1="263.8" x2="537.34" y2="263.8" stroke="#b4b4b4" stroke-width="1" />
<line x1="504.9" y1="214.7" x2="516.7" y2="214.7" stroke="#b4b4b4" stroke-width="1.3" />
<line x1="504.9" y1="222.1" x2="516.7" y2="222.1" stroke="#55a8f5" stroke-width="1.3" />
<line x1="504.9" y1="229.5" x2="516.7" y2="229.5" stroke="#f8a545" stroke-width="1.3" />
<line x1="518.4" y1="220.9" x2="518.4" y2="230" stroke="#111" stroke-width="1.1" />
<text x="521.2" y="228.6" font-size="8.2" fill="#222" color="#222" textLength="27.6" lengthAdjust="spacingAndGlyphs" >&lt;0.0001</text>
<line x1="552.3" y1="214.7" x2="552.3" y2="229.8" stroke="#111" stroke-width="1.1" />
<text x="553.7" y="225.4" font-size="8.2" fill="#222" color="#222" textLength="27.6" lengthAdjust="spacingAndGlyphs" >&lt;0.0001</text>
<line x1="606.5" y1="228" x2="606.5" y2="278.95" stroke="#111" stroke-width="1.1" />
<line x1="606" y1="278.45" x2="682" y2="278.45" stroke="#111" stroke-width="1.1" />
<line x1="603.5" y1="228.5" x2="606.5" y2="228.5" stroke="#111" stroke-width="1" />
<line x1="605" y1="236.83" x2="606.5" y2="236.83" stroke="#111" stroke-width="1" />
<line x1="603.5" y1="245.15" x2="606.5" y2="245.15" stroke="#111" stroke-width="1" />
<line x1="605" y1="253.48" x2="606.5" y2="253.48" stroke="#111" stroke-width="1" />
<line x1="603.5" y1="261.8" x2="606.5" y2="261.8" stroke="#111" stroke-width="1" />
<line x1="605" y1="270.12" x2="606.5" y2="270.12" stroke="#111" stroke-width="1" />
<line x1="603.5" y1="278.45" x2="606.5" y2="278.45" stroke="#111" stroke-width="1" />
<text x="603.1" y="232.2" font-size="10.3" text-anchor="end" fill="#111" color="#111" textLength="18.45" lengthAdjust="spacingAndGlyphs" >100</text>
<text x="603.1" y="248.85" font-size="10.3" text-anchor="end" fill="#111" color="#111" textLength="12.3" lengthAdjust="spacingAndGlyphs" >50</text>
<text x="603.1" y="265.5" font-size="10.3" text-anchor="end" fill="#111" color="#111" textLength="6.15" lengthAdjust="spacingAndGlyphs" >0</text>
<text x="603.1" y="282.15" font-size="10.3" text-anchor="end" fill="#111" color="#111" textLength="17.9" lengthAdjust="spacingAndGlyphs" >−50</text>
<line x1="612.7" y1="278.45" x2="612.7" y2="281.45" stroke="#111" stroke-width="1" />
<text x="615.4" y="290.65" font-size="10" text-anchor="end" fill="#111" color="#111" textLength="5.6" lengthAdjust="spacingAndGlyphs" transform="rotate(-45 615.4 290.65)" >0</text>
<line x1="625.17" y1="278.45" x2="625.17" y2="281.45" stroke="#111" stroke-width="1" />
<text x="627.87" y="290.65" font-size="10" text-anchor="end" fill="#111" color="#111" textLength="27.5" lengthAdjust="spacingAndGlyphs" transform="rotate(-45 627.87 290.65)" >0.625</text>
<line x1="637.64" y1="278.45" x2="637.64" y2="281.45" stroke="#111" stroke-width="1" />
<text x="640.34" y="290.65" font-size="10" text-anchor="end" fill="#111" color="#111" textLength="21.5" lengthAdjust="spacingAndGlyphs" transform="rotate(-45 640.34 290.65)" >1.25</text>
<line x1="650.11" y1="278.45" x2="650.11" y2="281.45" stroke="#111" stroke-width="1" />
<text x="652.81" y="290.65" font-size="10" text-anchor="end" fill="#111" color="#111" textLength="15.5" lengthAdjust="spacingAndGlyphs" transform="rotate(-45 652.81 290.65)" >2.5</text>
<line x1="662.58" y1="278.45" x2="662.58" y2="281.45" stroke="#111" stroke-width="1" />
<text x="665.28" y="290.65" font-size="10" text-anchor="end" fill="#111" color="#111" textLength="5.6" lengthAdjust="spacingAndGlyphs" transform="rotate(-45 665.28 290.65)" >5</text>
<line x1="675.05" y1="278.45" x2="675.05" y2="281.45" stroke="#111" stroke-width="1" />
<text x="677.75" y="290.65" font-size="10" text-anchor="end" fill="#111" color="#111" textLength="11.2" lengthAdjust="spacingAndGlyphs" transform="rotate(-45 677.75 290.65)" >10</text>
<path d="M612.7 261.8 625.2 259.5 637.6 260.5 650.1 262.5 662.6 262.8 675.1 265.8" fill="none" stroke="#b4b4b4" stroke-width="1.2" />
<path d="M612.7 261.8 625.2 267.1 637.6 269.8 650.1 270.5 662.6 265.1 675.1 260.1" fill="none" stroke="#55a8f5" stroke-width="1.2" />
<path d="M612.7 261.8 625.2 259.5 637.6 257.5 650.1 254.5 662.6 249.1 675.1 246.5" fill="none" stroke="#f8a545" stroke-width="1.2" />
<circle cx="612.7" cy="261.8" r="2.1" fill="none" stroke="#b4b4b4" stroke-width="1" />
<circle cx="625.17" cy="259.47" r="2.1" fill="none" stroke="#b4b4b4" stroke-width="1" />
<circle cx="637.64" cy="260.47" r="2.1" fill="none" stroke="#b4b4b4" stroke-width="1" />
<circle cx="650.11" cy="262.47" r="2.1" fill="none" stroke="#b4b4b4" stroke-width="1" />
<circle cx="662.58" cy="262.8" r="2.1" fill="none" stroke="#b4b4b4" stroke-width="1" />
<circle cx="675.05" cy="265.8" r="2.1" fill="none" stroke="#b4b4b4" stroke-width="1" />
<circle cx="612.7" cy="261.8" r="2.1" fill="none" stroke="#55a8f5" stroke-width="1" />
<circle cx="625.17" cy="267.13" r="2.1" fill="none" stroke="#55a8f5" stroke-width="1" />
<circle cx="637.64" cy="269.79" r="2.1" fill="none" stroke="#55a8f5" stroke-width="1" />
<circle cx="650.11" cy="270.46" r="2.1" fill="none" stroke="#55a8f5" stroke-width="1" />
<circle cx="662.58" cy="265.13" r="2.1" fill="none" stroke="#55a8f5" stroke-width="1" />
<circle cx="675.05" cy="260.13" r="2.1" fill="none" stroke="#55a8f5" stroke-width="1" />
<circle cx="612.7" cy="261.8" r="2.1" fill="none" stroke="#f8a545" stroke-width="1" />
<circle cx="625.17" cy="259.47" r="2.1" fill="none" stroke="#f8a545" stroke-width="1" />
<circle cx="637.64" cy="257.47" r="2.1" fill="none" stroke="#f8a545" stroke-width="1" />
<circle cx="650.11" cy="254.47" r="2.1" fill="none" stroke="#f8a545" stroke-width="1" />
<circle cx="662.58" cy="249.15" r="2.1" fill="none" stroke="#f8a545" stroke-width="1" />
<circle cx="675.05" cy="246.48" r="2.1" fill="none" stroke="#f8a545" stroke-width="1" />
<line x1="607.2" y1="214.7" x2="619" y2="214.7" stroke="#b4b4b4" stroke-width="1.3" />
<line x1="607.2" y1="222.1" x2="619" y2="222.1" stroke="#55a8f5" stroke-width="1.3" />
<line x1="607.2" y1="229.5" x2="619" y2="229.5" stroke="#f8a545" stroke-width="1.3" />
<line x1="620.7" y1="220.9" x2="620.7" y2="230" stroke="#111" stroke-width="1.1" />
<text x="623.5" y="228.6" font-size="8.2" fill="#222" color="#222" textLength="27.6" lengthAdjust="spacingAndGlyphs" >&lt;0.0001</text>
<line x1="654.6" y1="214.7" x2="654.6" y2="229.8" stroke="#111" stroke-width="1.1" />
<text x="656" y="225.4" font-size="8.2" fill="#222" color="#222" textLength="27.6" lengthAdjust="spacingAndGlyphs" >&lt;0.0001</text>
<line x1="401.2" y1="327.4" x2="401.2" y2="378.35" stroke="#111" stroke-width="1.1" />
<line x1="400.7" y1="377.85" x2="476.7" y2="377.85" stroke="#111" stroke-width="1.1" />
<line x1="398.2" y1="327.9" x2="401.2" y2="327.9" stroke="#111" stroke-width="1" />
<line x1="399.7" y1="336.22" x2="401.2" y2="336.22" stroke="#111" stroke-width="1" />
<line x1="398.2" y1="344.55" x2="401.2" y2="344.55" stroke="#111" stroke-width="1" />
<line x1="399.7" y1="352.88" x2="401.2" y2="352.88" stroke="#111" stroke-width="1" />
<line x1="398.2" y1="361.2" x2="401.2" y2="361.2" stroke="#111" stroke-width="1" />
<line x1="399.7" y1="369.52" x2="401.2" y2="369.52" stroke="#111" stroke-width="1" />
<line x1="398.2" y1="377.85" x2="401.2" y2="377.85" stroke="#111" stroke-width="1" />
<text x="397.8" y="331.6" font-size="10.3" text-anchor="end" fill="#111" color="#111" textLength="18.45" lengthAdjust="spacingAndGlyphs" >100</text>
<text x="397.8" y="348.25" font-size="10.3" text-anchor="end" fill="#111" color="#111" textLength="12.3" lengthAdjust="spacingAndGlyphs" >50</text>
<text x="397.8" y="364.9" font-size="10.3" text-anchor="end" fill="#111" color="#111" textLength="6.15" lengthAdjust="spacingAndGlyphs" >0</text>
<text x="397.8" y="381.55" font-size="10.3" text-anchor="end" fill="#111" color="#111" textLength="17.9" lengthAdjust="spacingAndGlyphs" >−50</text>
<line x1="407.4" y1="377.85" x2="407.4" y2="380.85" stroke="#111" stroke-width="1" />
<text x="410.1" y="390.05" font-size="10" text-anchor="end" fill="#111" color="#111" textLength="5.6" lengthAdjust="spacingAndGlyphs" transform="rotate(-45 410.1 390.05)" >0</text>
<line x1="419.87" y1="377.85" x2="419.87" y2="380.85" stroke="#111" stroke-width="1" />
<text x="422.57" y="390.05" font-size="10" text-anchor="end" fill="#111" color="#111" textLength="27.5" lengthAdjust="spacingAndGlyphs" transform="rotate(-45 422.57 390.05)" >0.625</text>
<line x1="432.34" y1="377.85" x2="432.34" y2="380.85" stroke="#111" stroke-width="1" />
<text x="435.04" y="390.05" font-size="10" text-anchor="end" fill="#111" color="#111" textLength="21.5" lengthAdjust="spacingAndGlyphs" transform="rotate(-45 435.04 390.05)" >1.25</text>
<line x1="444.81" y1="377.85" x2="444.81" y2="380.85" stroke="#111" stroke-width="1" />
<text x="447.51" y="390.05" font-size="10" text-anchor="end" fill="#111" color="#111" textLength="15.5" lengthAdjust="spacingAndGlyphs" transform="rotate(-45 447.51 390.05)" >2.5</text>
<line x1="457.28" y1="377.85" x2="457.28" y2="380.85" stroke="#111" stroke-width="1" />
<text x="459.98" y="390.05" font-size="10" text-anchor="end" fill="#111" color="#111" textLength="5.6" lengthAdjust="spacingAndGlyphs" transform="rotate(-45 459.98 390.05)" >5</text>
<line x1="469.75" y1="377.85" x2="469.75" y2="380.85" stroke="#111" stroke-width="1" />
<text x="472.45" y="390.05" font-size="10" text-anchor="end" fill="#111" color="#111" textLength="11.2" lengthAdjust="spacingAndGlyphs" transform="rotate(-45 472.45 390.05)" >10</text>
<path d="M407.4 361.2 419.9 361.2 432.3 362.2 444.8 361.2 457.3 361.5 469.8 359.2" fill="none" stroke="#b4b4b4" stroke-width="1.2" />
<path d="M407.4 361.2 419.9 356.9 432.3 357.9 444.8 356.5 457.3 353.9 469.8 347.2" fill="none" stroke="#55a8f5" stroke-width="1.2" />
<path d="M407.4 361.2 419.9 353.2 432.3 351.9 444.8 348.9 457.3 346.2 469.8 343.2" fill="none" stroke="#f8a545" stroke-width="1.2" />
<circle cx="407.4" cy="361.2" r="2.1" fill="none" stroke="#b4b4b4" stroke-width="1" />
<circle cx="419.87" cy="361.2" r="2.1" fill="none" stroke="#b4b4b4" stroke-width="1" />
<circle cx="432.34" cy="362.2" r="2.1" fill="none" stroke="#b4b4b4" stroke-width="1" />
<circle cx="444.81" cy="361.2" r="2.1" fill="none" stroke="#b4b4b4" stroke-width="1" />
<circle cx="457.28" cy="361.53" r="2.1" fill="none" stroke="#b4b4b4" stroke-width="1" />
<circle cx="469.75" cy="359.2" r="2.1" fill="none" stroke="#b4b4b4" stroke-width="1" />
<circle cx="407.4" cy="361.2" r="2.1" fill="none" stroke="#55a8f5" stroke-width="1" />
<circle cx="419.87" cy="356.87" r="2.1" fill="none" stroke="#55a8f5" stroke-width="1" />
<circle cx="432.34" cy="357.87" r="2.1" fill="none" stroke="#55a8f5" stroke-width="1" />
<circle cx="444.81" cy="356.54" r="2.1" fill="none" stroke="#55a8f5" stroke-width="1" />
<circle cx="457.28" cy="353.87" r="2.1" fill="none" stroke="#55a8f5" stroke-width="1" />
<circle cx="469.75" cy="347.21" r="2.1" fill="none" stroke="#55a8f5" stroke-width="1" />
<circle cx="407.4" cy="361.2" r="2.1" fill="none" stroke="#f8a545" stroke-width="1" />
<circle cx="419.87" cy="353.21" r="2.1" fill="none" stroke="#f8a545" stroke-width="1" />
<circle cx="432.34" cy="351.88" r="2.1" fill="none" stroke="#f8a545" stroke-width="1" />
<circle cx="444.81" cy="348.88" r="2.1" fill="none" stroke="#f8a545" stroke-width="1" />
<circle cx="457.28" cy="346.21" r="2.1" fill="none" stroke="#f8a545" stroke-width="1" />
<circle cx="469.75" cy="343.22" r="2.1" fill="none" stroke="#f8a545" stroke-width="1" />
<line x1="469.75" y1="356.87" x2="469.75" y2="361.53" stroke="#b4b4b4" stroke-width="1" />
<line x1="467.75" y1="356.87" x2="471.75" y2="356.87" stroke="#b4b4b4" stroke-width="1" />
<line x1="467.75" y1="361.53" x2="471.75" y2="361.53" stroke="#b4b4b4" stroke-width="1" />
<line x1="401.9" y1="314.1" x2="413.7" y2="314.1" stroke="#b4b4b4" stroke-width="1.3" />
<line x1="401.9" y1="321.5" x2="413.7" y2="321.5" stroke="#55a8f5" stroke-width="1.3" />
<line x1="401.9" y1="328.9" x2="413.7" y2="328.9" stroke="#f8a545" stroke-width="1.3" />
<line x1="415.4" y1="320.3" x2="415.4" y2="329.4" stroke="#111" stroke-width="1.1" />
<text x="418.2" y="328" font-size="8.2" fill="#222" color="#222" textLength="27.6" lengthAdjust="spacingAndGlyphs" >&lt;0.0001</text>
<line x1="449.3" y1="314.1" x2="449.3" y2="329.2" stroke="#111" stroke-width="1.1" />
<text x="450.7" y="324.8" font-size="8.2" fill="#222" color="#222" textLength="27.6" lengthAdjust="spacingAndGlyphs" >&lt;0.0001</text>
<line x1="504.2" y1="327.4" x2="504.2" y2="378.35" stroke="#111" stroke-width="1.1" />
<line x1="503.7" y1="377.85" x2="579.7" y2="377.85" stroke="#111" stroke-width="1.1" />
<line x1="501.2" y1="327.9" x2="504.2" y2="327.9" stroke="#111" stroke-width="1" />
<line x1="502.7" y1="336.22" x2="504.2" y2="336.22" stroke="#111" stroke-width="1" />
<line x1="501.2" y1="344.55" x2="504.2" y2="344.55" stroke="#111" stroke-width="1" />
<line x1="502.7" y1="352.88" x2="504.2" y2="352.88" stroke="#111" stroke-width="1" />
<line x1="501.2" y1="361.2" x2="504.2" y2="361.2" stroke="#111" stroke-width="1" />
<line x1="502.7" y1="369.52" x2="504.2" y2="369.52" stroke="#111" stroke-width="1" />
<line x1="501.2" y1="377.85" x2="504.2" y2="377.85" stroke="#111" stroke-width="1" />
<text x="500.8" y="331.6" font-size="10.3" text-anchor="end" fill="#111" color="#111" textLength="18.45" lengthAdjust="spacingAndGlyphs" >100</text>
<text x="500.8" y="348.25" font-size="10.3" text-anchor="end" fill="#111" color="#111" textLength="12.3" lengthAdjust="spacingAndGlyphs" >50</text>
<text x="500.8" y="364.9" font-size="10.3" text-anchor="end" fill="#111" color="#111" textLength="6.15" lengthAdjust="spacingAndGlyphs" >0</text>
<text x="500.8" y="381.55" font-size="10.3" text-anchor="end" fill="#111" color="#111" textLength="17.9" lengthAdjust="spacingAndGlyphs" >−50</text>
<line x1="510.4" y1="377.85" x2="510.4" y2="380.85" stroke="#111" stroke-width="1" />
<text x="513.1" y="390.05" font-size="10" text-anchor="end" fill="#111" color="#111" textLength="5.6" lengthAdjust="spacingAndGlyphs" transform="rotate(-45 513.1 390.05)" >0</text>
<line x1="522.87" y1="377.85" x2="522.87" y2="380.85" stroke="#111" stroke-width="1" />
<text x="525.57" y="390.05" font-size="10" text-anchor="end" fill="#111" color="#111" textLength="27.5" lengthAdjust="spacingAndGlyphs" transform="rotate(-45 525.57 390.05)" >0.625</text>
<line x1="535.34" y1="377.85" x2="535.34" y2="380.85" stroke="#111" stroke-width="1" />
<text x="538.04" y="390.05" font-size="10" text-anchor="end" fill="#111" color="#111" textLength="21.5" lengthAdjust="spacingAndGlyphs" transform="rotate(-45 538.04 390.05)" >1.25</text>
<line x1="547.81" y1="377.85" x2="547.81" y2="380.85" stroke="#111" stroke-width="1" />
<text x="550.51" y="390.05" font-size="10" text-anchor="end" fill="#111" color="#111" textLength="15.5" lengthAdjust="spacingAndGlyphs" transform="rotate(-45 550.51 390.05)" >2.5</text>
<line x1="560.28" y1="377.85" x2="560.28" y2="380.85" stroke="#111" stroke-width="1" />
<text x="562.98" y="390.05" font-size="10" text-anchor="end" fill="#111" color="#111" textLength="5.6" lengthAdjust="spacingAndGlyphs" transform="rotate(-45 562.98 390.05)" >5</text>
<line x1="572.75" y1="377.85" x2="572.75" y2="380.85" stroke="#111" stroke-width="1" />
<text x="575.45" y="390.05" font-size="10" text-anchor="end" fill="#111" color="#111" textLength="11.2" lengthAdjust="spacingAndGlyphs" transform="rotate(-45 575.45 390.05)" >10</text>
<path d="M510.4 361.2 522.9 362.2 535.3 364.9 547.8 364.9 560.3 365.2 572.8 366.2" fill="none" stroke="#b4b4b4" stroke-width="1.2" />
<path d="M510.4 361.2 522.9 359.2 535.3 361.2 547.8 358.9 560.3 355.9 572.8 350.5" fill="none" stroke="#55a8f5" stroke-width="1.2" />
<path d="M510.4 361.2 522.9 355.2 535.3 355.2 547.8 352.2 560.3 349.9 572.8 345.5" fill="none" stroke="#f8a545" stroke-width="1.2" />
<circle cx="510.4" cy="361.2" r="2.1" fill="none" stroke="#b4b4b4" stroke-width="1" />
<circle cx="522.87" cy="362.2" r="2.1" fill="none" stroke="#b4b4b4" stroke-width="1" />
<circle cx="535.34" cy="364.86" r="2.1" fill="none" stroke="#b4b4b4" stroke-width="1" />
<circle cx="547.81" cy="364.86" r="2.1" fill="none" stroke="#b4b4b4" stroke-width="1" />
<circle cx="560.28" cy="365.2" r="2.1" fill="none" stroke="#b4b4b4" stroke-width="1" />
<circle cx="572.75" cy="366.19" r="2.1" fill="none" stroke="#b4b4b4" stroke-width="1" />
<circle cx="510.4" cy="361.2" r="2.1" fill="none" stroke="#55a8f5" stroke-width="1" />
<circle cx="522.87" cy="359.2" r="2.1" fill="none" stroke="#55a8f5" stroke-width="1" />
<circle cx="535.34" cy="361.2" r="2.1" fill="none" stroke="#55a8f5" stroke-width="1" />
<circle cx="547.81" cy="358.87" r="2.1" fill="none" stroke="#55a8f5" stroke-width="1" />
<circle cx="560.28" cy="355.87" r="2.1" fill="none" stroke="#55a8f5" stroke-width="1" />
<circle cx="572.75" cy="350.54" r="2.1" fill="none" stroke="#55a8f5" stroke-width="1" />
<circle cx="510.4" cy="361.2" r="2.1" fill="none" stroke="#f8a545" stroke-width="1" />
<circle cx="522.87" cy="355.21" r="2.1" fill="none" stroke="#f8a545" stroke-width="1" />
<circle cx="535.34" cy="355.21" r="2.1" fill="none" stroke="#f8a545" stroke-width="1" />
<circle cx="547.81" cy="352.21" r="2.1" fill="none" stroke="#f8a545" stroke-width="1" />
<circle cx="560.28" cy="349.88" r="2.1" fill="none" stroke="#f8a545" stroke-width="1" />
<circle cx="572.75" cy="345.55" r="2.1" fill="none" stroke="#f8a545" stroke-width="1" />
<line x1="572.75" y1="363.53" x2="572.75" y2="368.86" stroke="#b4b4b4" stroke-width="1" />
<line x1="570.75" y1="363.53" x2="574.75" y2="363.53" stroke="#b4b4b4" stroke-width="1" />
<line x1="570.75" y1="368.86" x2="574.75" y2="368.86" stroke="#b4b4b4" stroke-width="1" />
<line x1="504.9" y1="314.1" x2="516.7" y2="314.1" stroke="#b4b4b4" stroke-width="1.3" />
<line x1="504.9" y1="321.5" x2="516.7" y2="321.5" stroke="#55a8f5" stroke-width="1.3" />
<line x1="504.9" y1="328.9" x2="516.7" y2="328.9" stroke="#f8a545" stroke-width="1.3" />
<line x1="518.4" y1="320.3" x2="518.4" y2="329.4" stroke="#111" stroke-width="1.1" />
<text x="521.2" y="328" font-size="8.2" fill="#222" color="#222" textLength="27.6" lengthAdjust="spacingAndGlyphs" >&lt;0.0001</text>
<line x1="552.3" y1="314.1" x2="552.3" y2="329.2" stroke="#111" stroke-width="1.1" />
<text x="553.7" y="324.8" font-size="8.2" fill="#222" color="#222" textLength="27.6" lengthAdjust="spacingAndGlyphs" >&lt;0.0001</text>
<line x1="606.5" y1="327.4" x2="606.5" y2="378.35" stroke="#111" stroke-width="1.1" />
<line x1="606" y1="377.85" x2="682" y2="377.85" stroke="#111" stroke-width="1.1" />
<line x1="603.5" y1="327.9" x2="606.5" y2="327.9" stroke="#111" stroke-width="1" />
<line x1="605" y1="336.22" x2="606.5" y2="336.22" stroke="#111" stroke-width="1" />
<line x1="603.5" y1="344.55" x2="606.5" y2="344.55" stroke="#111" stroke-width="1" />
<line x1="605" y1="352.88" x2="606.5" y2="352.88" stroke="#111" stroke-width="1" />
<line x1="603.5" y1="361.2" x2="606.5" y2="361.2" stroke="#111" stroke-width="1" />
<line x1="605" y1="369.52" x2="606.5" y2="369.52" stroke="#111" stroke-width="1" />
<line x1="603.5" y1="377.85" x2="606.5" y2="377.85" stroke="#111" stroke-width="1" />
<text x="603.1" y="331.6" font-size="10.3" text-anchor="end" fill="#111" color="#111" textLength="18.45" lengthAdjust="spacingAndGlyphs" >100</text>
<text x="603.1" y="348.25" font-size="10.3" text-anchor="end" fill="#111" color="#111" textLength="12.3" lengthAdjust="spacingAndGlyphs" >50</text>
<text x="603.1" y="364.9" font-size="10.3" text-anchor="end" fill="#111" color="#111" textLength="6.15" lengthAdjust="spacingAndGlyphs" >0</text>
<text x="603.1" y="381.55" font-size="10.3" text-anchor="end" fill="#111" color="#111" textLength="17.9" lengthAdjust="spacingAndGlyphs" >−50</text>
<line x1="612.7" y1="377.85" x2="612.7" y2="380.85" stroke="#111" stroke-width="1" />
<text x="615.4" y="390.05" font-size="10" text-anchor="end" fill="#111" color="#111" textLength="5.6" lengthAdjust="spacingAndGlyphs" transform="rotate(-45 615.4 390.05)" >0</text>
<line x1="625.17" y1="377.85" x2="625.17" y2="380.85" stroke="#111" stroke-width="1" />
<text x="627.87" y="390.05" font-size="10" text-anchor="end" fill="#111" color="#111" textLength="27.5" lengthAdjust="spacingAndGlyphs" transform="rotate(-45 627.87 390.05)" >0.625</text>
<line x1="637.64" y1="377.85" x2="637.64" y2="380.85" stroke="#111" stroke-width="1" />
<text x="640.34" y="390.05" font-size="10" text-anchor="end" fill="#111" color="#111" textLength="21.5" lengthAdjust="spacingAndGlyphs" transform="rotate(-45 640.34 390.05)" >1.25</text>
<line x1="650.11" y1="377.85" x2="650.11" y2="380.85" stroke="#111" stroke-width="1" />
<text x="652.81" y="390.05" font-size="10" text-anchor="end" fill="#111" color="#111" textLength="15.5" lengthAdjust="spacingAndGlyphs" transform="rotate(-45 652.81 390.05)" >2.5</text>
<line x1="662.58" y1="377.85" x2="662.58" y2="380.85" stroke="#111" stroke-width="1" />
<text x="665.28" y="390.05" font-size="10" text-anchor="end" fill="#111" color="#111" textLength="5.6" lengthAdjust="spacingAndGlyphs" transform="rotate(-45 665.28 390.05)" >5</text>
<line x1="675.05" y1="377.85" x2="675.05" y2="380.85" stroke="#111" stroke-width="1" />
<text x="677.75" y="390.05" font-size="10" text-anchor="end" fill="#111" color="#111" textLength="11.2" lengthAdjust="spacingAndGlyphs" transform="rotate(-45 677.75 390.05)" >10</text>
<path d="M612.7 361.2 625.2 357.5 637.6 361.9 650.1 364.9 662.6 368.9 675.1 370.5" fill="none" stroke="#b4b4b4" stroke-width="1.2" />
<path d="M612.7 361.2 625.2 356.9 637.6 359.2 650.1 358.2 662.6 353.9 675.1 346.9" fill="none" stroke="#55a8f5" stroke-width="1.2" />
<path d="M612.7 361.2 625.2 353.9 637.6 353.2 650.1 350.9 662.6 346.2 675.1 338.6" fill="none" stroke="#f8a545" stroke-width="1.2" />
<circle cx="612.7" cy="361.2" r="2.1" fill="none" stroke="#b4b4b4" stroke-width="1" />
<circle cx="625.17" cy="357.54" r="2.1" fill="none" stroke="#b4b4b4" stroke-width="1" />
<circle cx="637.64" cy="361.87" r="2.1" fill="none" stroke="#b4b4b4" stroke-width="1" />
<circle cx="650.11" cy="364.86" r="2.1" fill="none" stroke="#b4b4b4" stroke-width="1" />
<circle cx="662.58" cy="368.86" r="2.1" fill="none" stroke="#b4b4b4" stroke-width="1" />
<circle cx="675.05" cy="370.52" r="2.1" fill="none" stroke="#b4b4b4" stroke-width="1" />
<circle cx="612.7" cy="361.2" r="2.1" fill="none" stroke="#55a8f5" stroke-width="1" />
<circle cx="625.17" cy="356.87" r="2.1" fill="none" stroke="#55a8f5" stroke-width="1" />
<circle cx="637.64" cy="359.2" r="2.1" fill="none" stroke="#55a8f5" stroke-width="1" />
<circle cx="650.11" cy="358.2" r="2.1" fill="none" stroke="#55a8f5" stroke-width="1" />
<circle cx="662.58" cy="353.87" r="2.1" fill="none" stroke="#55a8f5" stroke-width="1" />
<circle cx="675.05" cy="346.88" r="2.1" fill="none" stroke="#55a8f5" stroke-width="1" />
<circle cx="612.7" cy="361.2" r="2.1" fill="none" stroke="#f8a545" stroke-width="1" />
<circle cx="625.17" cy="353.87" r="2.1" fill="none" stroke="#f8a545" stroke-width="1" />
<circle cx="637.64" cy="353.21" r="2.1" fill="none" stroke="#f8a545" stroke-width="1" />
<circle cx="650.11" cy="350.88" r="2.1" fill="none" stroke="#f8a545" stroke-width="1" />
<circle cx="662.58" cy="346.21" r="2.1" fill="none" stroke="#f8a545" stroke-width="1" />
<circle cx="675.05" cy="338.56" r="2.1" fill="none" stroke="#f8a545" stroke-width="1" />
<line x1="675.05" y1="367.86" x2="675.05" y2="373.19" stroke="#b4b4b4" stroke-width="1" />
<line x1="673.05" y1="367.86" x2="677.05" y2="367.86" stroke="#b4b4b4" stroke-width="1" />
<line x1="673.05" y1="373.19" x2="677.05" y2="373.19" stroke="#b4b4b4" stroke-width="1" />
<line x1="607.2" y1="314.1" x2="619" y2="314.1" stroke="#b4b4b4" stroke-width="1.3" />
<line x1="607.2" y1="321.5" x2="619" y2="321.5" stroke="#55a8f5" stroke-width="1.3" />
<line x1="607.2" y1="328.9" x2="619" y2="328.9" stroke="#f8a545" stroke-width="1.3" />
<line x1="620.7" y1="320.3" x2="620.7" y2="329.4" stroke="#111" stroke-width="1.1" />
<text x="623.5" y="328" font-size="8.2" fill="#222" color="#222" textLength="27.6" lengthAdjust="spacingAndGlyphs" >&lt;0.0001</text>
<line x1="654.6" y1="314.1" x2="654.6" y2="329.2" stroke="#111" stroke-width="1.1" />
<text x="656" y="324.8" font-size="8.2" fill="#222" color="#222" textLength="27.6" lengthAdjust="spacingAndGlyphs" >&lt;0.0001</text>
<text x="364.5" y="251.5" font-size="10.2" text-anchor="middle" fill="#111" color="#111" textLength="60.4" lengthAdjust="spacingAndGlyphs" transform="rotate(-90 364.5 251.5)" >Norm'ed 468</text>
<text x="373.8" y="252.8" font-size="10.2" text-anchor="middle" fill="#111" color="#111" textLength="71" lengthAdjust="spacingAndGlyphs" transform="rotate(-90 373.8 252.8)" >Tumor Killing %</text>
<text x="363.4" y="351" font-size="10.2" text-anchor="middle" fill="#111" color="#111" textLength="84" lengthAdjust="spacingAndGlyphs" transform="rotate(-90 363.4 351)" >Norm'ed 468.HER2</text>
<text x="374.2" y="351.6" font-size="10.2" text-anchor="middle" fill="#111" color="#111" textLength="69.6" lengthAdjust="spacingAndGlyphs" transform="rotate(-90 374.2 351.6)" >Tumor Killing %</text>
<text x="443.8" y="414.6" font-size="8.8" text-anchor="middle" fill="#222" color="#222" textLength="35" lengthAdjust="spacingAndGlyphs" >E:T ratio</text>
<text x="547.8" y="414.6" font-size="8.8" text-anchor="middle" fill="#222" color="#222" textLength="35" lengthAdjust="spacingAndGlyphs" >E:T ratio</text>
<text x="653.6" y="414.6" font-size="8.8" text-anchor="middle" fill="#222" color="#222" textLength="35" lengthAdjust="spacingAndGlyphs" >E:T ratio</text>
<line x1="433" y1="424.5" x2="445" y2="424.5" stroke="#b4b4b4" stroke-width="1.3" />
<text x="451.5" y="428.2" font-size="10.2" fill="#111" color="#111" textLength="21" lengthAdjust="spacingAndGlyphs" >UTD</text>
<line x1="483" y1="424.5" x2="496" y2="424.5" stroke="#55a8f5" stroke-width="1.3" />
<text x="501.5" y="428.2" font-size="10.2" fill="#111" color="#111" textLength="53" lengthAdjust="spacingAndGlyphs" >HER2.CAR</text>
<line x1="564.5" y1="424.5" x2="577" y2="424.5" stroke="#f8a545" stroke-width="1.3" />
<text x="583" y="428.2" font-size="10.2" fill="#111" color="#111" textLength="57.5" lengthAdjust="spacingAndGlyphs" >HER2.eSPR</text>
<text x="0.2" y="435.8" font-size="13.4" fill="#000" color="#000" font-weight="bold" >i</text>
<text x="9.9" y="442.4" font-size="10.5" fill="#222" color="#222" textLength="81" lengthAdjust="spacingAndGlyphs" >immunodeficient</text>
<path d="M50.6 497 C50.2 505, 49.2 512, 49.6 520" stroke="#e3a3a3" stroke-width="1.2" fill="none"/>
<path d="M41 492 C38 494, 35 496, 33.5 497.2 M41 492.5 L36 497.5 M57 492 C60 494, 62.5 496, 64 497 M57 492.5 L62 497.6" stroke="#e8aaaa" stroke-width="1.3" fill="none" stroke-linecap="round"/>
<path d="M44 470 C41 468, 39 468.5, 37.5 470.5 M55 469 C58 466.5, 60 465, 62 463.5" stroke="#e0dad6" stroke-width="2.6" fill="none" stroke-linecap="round"/>
<circle cx="62.3" cy="463.2" r="1.2" fill="#f0b4b4" stroke="none" stroke-width="1" />
<circle cx="57.5" cy="467" r="1" fill="#f0b4b4" stroke="none" stroke-width="1" />
<path d="M49 463.5 C44 464, 41.5 468, 41.5 473 C41.5 478, 39.5 483, 40 488 C40.5 493, 44 496.5, 49.5 497 C55 496.5, 58.6 493, 58.6 488 C59 483, 57 478, 57 473 C57 468, 54 464, 49 463.5 Z" fill="#ebe7e3" stroke="#cfc7c0" stroke-width="0.5"/>
<rect x="43.0" y="476.6" width="12.9" height="14.2" rx="4.5" fill="#dca3a3"/>
<path d="M41.5 491 C44 494.5, 55 494.5, 58 491" stroke="#d5cdc6" stroke-width="0.8" fill="none"/>
<path d="M44.5 467 C44 463, 46.5 460.5, 49 460.5 C51.5 460.5, 54 463, 53.5 467 Z" fill="#ebe7e3"/>
<circle cx="43.2" cy="456.9" r="11" fill="#f7dada" stroke="#555" stroke-width="0.8" />
<circle cx="39.2" cy="450.9" r="1.7" fill="#b3b3b3" stroke="none" stroke-width="1" />
<circle cx="44.2" cy="449.4" r="1.7" fill="#b3b3b3" stroke="none" stroke-width="1" />
<circle cx="48.2" cy="452.4" r="1.7" fill="#b3b3b3" stroke="none" stroke-width="1" />
<circle cx="36.2" cy="455.9" r="1.7" fill="#b3b3b3" stroke="none" stroke-width="1" />
<circle cx="41.2" cy="454.4" r="1.7" fill="#b3b3b3" stroke="none" stroke-width="1" />
<circle cx="46.2" cy="456.4" r="1.7" fill="#b3b3b3" stroke="none" stroke-width="1" />
<circle cx="50.7" cy="457.9" r="1.7" fill="#b3b3b3" stroke="none" stroke-width="1" />
<circle cx="38.2" cy="460.4" r="1.7" fill="#b3b3b3" stroke="none" stroke-width="1" />
<circle cx="43.2" cy="459.9" r="1.7" fill="#b3b3b3" stroke="none" stroke-width="1" />
<circle cx="47.7" cy="461.9" r="1.7" fill="#b3b3b3" stroke="none" stroke-width="1" />
<circle cx="41.2" cy="464.4" r="1.7" fill="#b3b3b3" stroke="none" stroke-width="1" />
<circle cx="51.2" cy="453.9" r="1.7" fill="#b3b3b3" stroke="none" stroke-width="1" />
<circle cx="37.2" cy="452.9" r="1.1" fill="#66cc55" stroke="none" stroke-width="1" />
<circle cx="41.2" cy="449.4" r="1.1" fill="#66cc55" stroke="none" stroke-width="1" />
<circle cx="46.2" cy="450.9" r="1.1" fill="#66cc55" stroke="none" stroke-width="1" />
<circle cx="49.7" cy="454.9" r="1.1" fill="#66cc55" stroke="none" stroke-width="1" />
<circle cx="35.2" cy="458.9" r="1.1" fill="#66cc55" stroke="none" stroke-width="1" />
<circle cx="39.7" cy="457.9" r="1.1" fill="#66cc55" stroke="none" stroke-width="1" />
<circle cx="44.7" cy="458.4" r="1.1" fill="#66cc55" stroke="none" stroke-width="1" />
<circle cx="50.2" cy="460.9" r="1.1" fill="#66cc55" stroke="none" stroke-width="1" />
<circle cx="39.2" cy="463.4" r="1.1" fill="#66cc55" stroke="none" stroke-width="1" />
<circle cx="45.2" cy="464.4" r="1.1" fill="#66cc55" stroke="none" stroke-width="1" />
<circle cx="48.7" cy="464.4" r="1.1" fill="#66cc55" stroke="none" stroke-width="1" />
<circle cx="42.7" cy="453.4" r="1.1" fill="#66cc55" stroke="none" stroke-width="1" />
<path d="M36 467.5 L40 477 M47 468 L43 476" stroke="#777" stroke-width="0.6" stroke-dasharray="1.3,1" fill="none"/>
<g transform="translate(29 471) rotate(44.03)"><rect x="0" y="-1.6" width="0.9" height="3.2" fill="#2c6fb5"/><rect x="0.9" y="-0.4" width="3.76" height="0.8" fill="#2c6fb5"/><rect x="4.17" y="-1.9" width="0.8" height="3.8" fill="#2c6fb5"/><rect x="4.59" y="-1.3" width="10.01" height="2.6" fill="#cfe3f5" stroke="#2c6fb5" stroke-width="0.6"/><rect x="9.39" y="-1.3" width="5.22" height="2.6" fill="#3a8ad6"/><path d="M14.6 -0.9 L16.27 -0.3 L16.27 0.3 L14.6 0.9 Z" fill="#2c6fb5"/><line x1="16.27" y1="0" x2="20.86" y2="0" stroke="#777" stroke-width="0.5"/></g>
<path d="M72.02 461.8 L77.38 461.8 L77.92 463.8 L81.4 466.2 L81.4 481 L69.34 481.6 L68 480.4 L68 466.2 L71.48 463.8 Z" fill="#505050"/>
<path d="M68 466.2 L71.48 463.8 L72.02 461.8 L72.82 461.8 L72.42 464.4 L70.95 466.8 L70.95 481.3 L68 480.4 Z" fill="#3e3e3e"/>
<rect x="71.35" y="477.8" width="9.65" height="1.6" fill="#3a3a3a"/>
<circle cx="74.97" cy="464" r="0.7" fill="#f08a20" stroke="none" stroke-width="1" />
<circle cx="76.04" cy="478.6" r="0.6" fill="#e05a20" stroke="none" stroke-width="1" />
<circle cx="69.2" cy="469.6" r="0.45" fill="#999" stroke="none" stroke-width="1" />
<circle cx="69.2" cy="474.6" r="0.45" fill="#999" stroke="none" stroke-width="1" />
<path d="M96.82 461.8 L102.18 461.8 L102.72 463.8 L106.2 466.2 L106.2 481 L94.14 481.6 L92.8 480.4 L92.8 466.2 L96.28 463.8 Z" fill="#505050"/>
<path d="M92.8 466.2 L96.28 463.8 L96.82 461.8 L97.62 461.8 L97.22 464.4 L95.75 466.8 L95.75 481.3 L92.8 480.4 Z" fill="#3e3e3e"/>
<rect x="96.15" y="477.8" width="9.65" height="1.6" fill="#3a3a3a"/>
<circle cx="99.77" cy="464" r="0.7" fill="#f08a20" stroke="none" stroke-width="1" />
<circle cx="100.84" cy="478.6" r="0.6" fill="#e05a20" stroke="none" stroke-width="1" />
<circle cx="94" cy="469.6" r="0.45" fill="#999" stroke="none" stroke-width="1" />
<circle cx="94" cy="474.6" r="0.45" fill="#999" stroke="none" stroke-width="1" />
<line x1="63.3" y1="484.3" x2="113.3" y2="484.3" stroke="#222" stroke-width="1" />
<path d="M112.8 481.7 L117.6 484.3 L112.8 486.9 Z" fill="#222" stroke="none" stroke-width="1" />
<text x="88.5" y="495.3" font-size="10.5" text-anchor="middle" fill="#222" color="#222" textLength="15.4" lengthAdjust="spacingAndGlyphs" >BLI</text>
<text x="14.5" y="525.3" font-size="10.5" fill="#222" color="#222" textLength="69.8" lengthAdjust="spacingAndGlyphs" >s.c inoculation</text>
<text x="14.8" y="536.5" font-size="10.5" fill="#222" textLength="68.7" lengthAdjust="spacingAndGlyphs">2×10<tspan font-size="6.5" dy="-3.8">5</tspan><tspan dy="3.8"> SKOV3</tspan></text>
<text x="0" y="547.0" font-size="10.5" fill="#222" textLength="98.6" lengthAdjust="spacingAndGlyphs">2×10<tspan font-size="6.5" dy="-3.8">6</tspan><tspan dy="3.8"> macrophages</tspan></text>
<text x="132.3" y="435.8" font-size="13.4" fill="#000" color="#000" font-weight="bold" >j</text>
<line x1="205.3" y1="464.1" x2="205.3" y2="515.1" stroke="#111" stroke-width="1.1" />
<line x1="204.8" y1="514.6" x2="303.5" y2="514.6" stroke="#111" stroke-width="1.1" />
<line x1="202.3" y1="514.6" x2="205.3" y2="514.6" stroke="#111" stroke-width="1" />
<line x1="203.7" y1="506.27" x2="205.3" y2="506.27" stroke="#111" stroke-width="1" />
<line x1="202.3" y1="497.93" x2="205.3" y2="497.93" stroke="#111" stroke-width="1" />
<line x1="203.7" y1="489.6" x2="205.3" y2="489.6" stroke="#111" stroke-width="1" />
<line x1="202.3" y1="481.27" x2="205.3" y2="481.27" stroke="#111" stroke-width="1" />
<line x1="203.7" y1="472.93" x2="205.3" y2="472.93" stroke="#111" stroke-width="1" />
<line x1="202.3" y1="464.6" x2="205.3" y2="464.6" stroke="#111" stroke-width="1" />
<text x="201.7" y="464.2" font-size="7" text-anchor="end" fill="#111" color="#111" textLength="7.6" lengthAdjust="spacingAndGlyphs" >10</text>
<text x="193.7" y="468.4" font-size="10" text-anchor="end" fill="#111" color="#111" textLength="11" lengthAdjust="spacingAndGlyphs" >10</text>
<text x="201.7" y="480.87" font-size="7" text-anchor="end" fill="#111" color="#111" textLength="3.8" lengthAdjust="spacingAndGlyphs" >8</text>
<text x="197.5" y="485.07" font-size="10" text-anchor="end" fill="#111" color="#111" textLength="11" lengthAdjust="spacingAndGlyphs" >10</text>
<text x="201.7" y="497.53" font-size="7" text-anchor="end" fill="#111" color="#111" textLength="3.8" lengthAdjust="spacingAndGlyphs" >6</text>
<text x="197.5" y="501.73" font-size="10" text-anchor="end" fill="#111" color="#111" textLength="11" lengthAdjust="spacingAndGlyphs" >10</text>
<text x="201.7" y="514.2" font-size="7" text-anchor="end" fill="#111" color="#111" textLength="3.8" lengthAdjust="spacingAndGlyphs" >4</text>
<text x="197.5" y="518.4" font-size="10" text-anchor="end" fill="#111" color="#111" textLength="11" lengthAdjust="spacingAndGlyphs" >10</text>
<line x1="207.93" y1="514.6" x2="207.93" y2="516.3" stroke="#111" stroke-width="0.9" />
<line x1="211.2" y1="514.6" x2="211.2" y2="517.6" stroke="#111" stroke-width="0.9" />
<line x1="214.47" y1="514.6" x2="214.47" y2="516.3" stroke="#111" stroke-width="0.9" />
<line x1="217.74" y1="514.6" x2="217.74" y2="516.3" stroke="#111" stroke-width="0.9" />
<line x1="221.01" y1="514.6" x2="221.01" y2="516.3" stroke="#111" stroke-width="0.9" />
<line x1="224.28" y1="514.6" x2="224.28" y2="516.3" stroke="#111" stroke-width="0.9" />
<line x1="227.55" y1="514.6" x2="227.55" y2="516.3" stroke="#111" stroke-width="0.9" />
<line x1="230.82" y1="514.6" x2="230.82" y2="516.3" stroke="#111" stroke-width="0.9" />
<line x1="234.09" y1="514.6" x2="234.09" y2="517.6" stroke="#111" stroke-width="0.9" />
<line x1="237.36" y1="514.6" x2="237.36" y2="516.3" stroke="#111" stroke-width="0.9" />
<line x1="240.63" y1="514.6" x2="240.63" y2="516.3" stroke="#111" stroke-width="0.9" />
<line x1="243.9" y1="514.6" x2="243.9" y2="516.3" stroke="#111" stroke-width="0.9" />
<line x1="247.17" y1="514.6" x2="247.17" y2="516.3" stroke="#111" stroke-width="0.9" />
<line x1="250.44" y1="514.6" x2="250.44" y2="516.3" stroke="#111" stroke-width="0.9" />
<line x1="253.71" y1="514.6" x2="253.71" y2="516.3" stroke="#111" stroke-width="0.9" />
<line x1="256.98" y1="514.6" x2="256.98" y2="517.6" stroke="#111" stroke-width="0.9" />
<line x1="260.25" y1="514.6" x2="260.25" y2="516.3" stroke="#111" stroke-width="0.9" />
<line x1="263.52" y1="514.6" x2="263.52" y2="516.3" stroke="#111" stroke-width="0.9" />
<line x1="266.79" y1="514.6" x2="266.79" y2="516.3" stroke="#111" stroke-width="0.9" />
<line x1="270.06" y1="514.6" x2="270.06" y2="516.3" stroke="#111" stroke-width="0.9" />
<line x1="273.33" y1="514.6" x2="273.33" y2="516.3" stroke="#111" stroke-width="0.9" />
<line x1="276.6" y1="514.6" x2="276.6" y2="516.3" stroke="#111" stroke-width="0.9" />
<line x1="279.87" y1="514.6" x2="279.87" y2="517.6" stroke="#111" stroke-width="0.9" />
<line x1="283.14" y1="514.6" x2="283.14" y2="516.3" stroke="#111" stroke-width="0.9" />
<line x1="286.41" y1="514.6" x2="286.41" y2="516.3" stroke="#111" stroke-width="0.9" />
<line x1="289.68" y1="514.6" x2="289.68" y2="516.3" stroke="#111" stroke-width="0.9" />
<line x1="292.95" y1="514.6" x2="292.95" y2="516.3" stroke="#111" stroke-width="0.9" />
<line x1="296.22" y1="514.6" x2="296.22" y2="516.3" stroke="#111" stroke-width="0.9" />
<line x1="299.49" y1="514.6" x2="299.49" y2="516.3" stroke="#111" stroke-width="0.9" />
<line x1="302.76" y1="514.6" x2="302.76" y2="517.6" stroke="#111" stroke-width="0.9" />
<text x="211.2" y="527.8" font-size="10" text-anchor="middle" fill="#111" color="#111" textLength="5.6" lengthAdjust="spacingAndGlyphs" >2</text>
<text x="234.09" y="527.8" font-size="10" text-anchor="middle" fill="#111" color="#111" textLength="5.6" lengthAdjust="spacingAndGlyphs" >9</text>
<text x="256.98" y="527.8" font-size="10" text-anchor="middle" fill="#111" color="#111" textLength="11.2" lengthAdjust="spacingAndGlyphs" >16</text>
<text x="279.87" y="527.8" font-size="10" text-anchor="middle" fill="#111" color="#111" textLength="11.2" lengthAdjust="spacingAndGlyphs" >23</text>
<text x="302.76" y="527.8" font-size="10" text-anchor="middle" fill="#111" color="#111" textLength="11.2" lengthAdjust="spacingAndGlyphs" >30</text>
<text x="256.98" y="538.9" font-size="10.5" text-anchor="middle" fill="#111" color="#111" textLength="18.8" lengthAdjust="spacingAndGlyphs" >Day</text>
<path d="M211.2 482.1 224.3 482.1 234.1 479.6 257 477.1 279.9 478.8 302.8 470.4" fill="none" stroke="#b0b0b0" stroke-width="1" stroke-dasharray="3,1.6"/>
<path d="M211.2 481.3 224.3 480.4 234.1 477.9 257 479.6 279.9 482.9 302.8 472.9" fill="none" stroke="#b0b0b0" stroke-width="1" stroke-dasharray="3,1.6"/>
<path d="M211.2 482.9 224.3 483.8 234.1 481.3 257 479.6 279.9 479.6 302.8 474.6" fill="none" stroke="#b0b0b0" stroke-width="1" stroke-dasharray="3,1.6"/>
<path d="M211.2 481.3 224.3 479.6 234.1 478.8 257 478.8 279.9 477.9 302.8 471.3" fill="none" stroke="#b0b0b0" stroke-width="1" stroke-dasharray="3,1.6"/>
<path d="M211.2 482.1 224.3 481.3 234.1 481.3 257 480.4 279.9 480.4 302.8 475.4" fill="none" stroke="#b0b0b0" stroke-width="1" stroke-dasharray="3,1.6"/>
<path d="M211.2 485.4 224.3 486.3 234.1 485.4 257 486.3 279.9 491.3 302.8 487.9" fill="none" stroke="#4da6f5" stroke-width="1" stroke-dasharray="3,1.6"/>
<path d="M211.2 487.9 224.3 489.6 234.1 486.3 257 492.9 279.9 495.4 302.8 497.1" fill="none" stroke="#4da6f5" stroke-width="1" stroke-dasharray="3,1.6"/>
<path d="M211.2 489.6 224.3 490.4 234.1 487.1 257 487.9 279.9 493.8 302.8 495.4" fill="none" stroke="#4da6f5" stroke-width="1" stroke-dasharray="3,1.6"/>
<path d="M211.2 486.3 224.3 487.9 234.1 488.8 257 491.3 279.9 492.9 302.8 494.6" fill="none" stroke="#4da6f5" stroke-width="1" stroke-dasharray="3,1.6"/>
<path d="M211.2 487.1 224.3 490.4 234.1 491.3 257 495.4 279.9 494.6 302.8 496.3" fill="none" stroke="#4da6f5" stroke-width="1" stroke-dasharray="3,1.6"/>
<path d="M211.2 488.8 224.3 487.9 234.1 488.8 257 490.4 279.9 491.3 302.8 497.9" fill="none" stroke="#4da6f5" stroke-width="1" stroke-dasharray="3,1.6"/>
<path d="M211.2 490.4 224.3 494.6 234.1 498.8 257 498.8 279.9 498.8 302.8 500.4" fill="none" stroke="#f7a440" stroke-width="1" stroke-dasharray="3,1.6"/>
<path d="M211.2 493.8 224.3 496.3 234.1 497.9 257 499.6 279.9 499.6 302.8 499.6" fill="none" stroke="#f7a440" stroke-width="1" stroke-dasharray="3,1.6"/>
<path d="M211.2 495.4 224.3 509.6 234.1 501.3 257 499.6 279.9 509.6 302.8 500.4" fill="none" stroke="#f7a440" stroke-width="1" stroke-dasharray="3,1.6"/>
<path d="M211.2 492.9 224.3 498.8 234.1 497.1 257 500.4 279.9 501.3 302.8 501.3" fill="none" stroke="#f7a440" stroke-width="1" stroke-dasharray="3,1.6"/>
<path d="M211.2 496.3 224.3 500.4 234.1 499.6 257 498.8 279.9 499.6 302.8 498.8" fill="none" stroke="#f7a440" stroke-width="1" stroke-dasharray="3,1.6"/>
<path d="M211.2 497.9 224.3 501.3 234.1 499.6 257 501.3 279.9 500.4 302.8 501.3" fill="none" stroke="#f7a440" stroke-width="1" stroke-dasharray="3,1.6"/>
<text x="161.7" y="489.2" font-size="10.5" text-anchor="middle" fill="#111" color="#111" textLength="70.3" lengthAdjust="spacingAndGlyphs" transform="rotate(-90 161.7 489.2)" >Tumor Burden</text>
<text x="174" y="488.2" font-size="10.5" text-anchor="middle" fill="#111" color="#111" textLength="66.7" lengthAdjust="spacingAndGlyphs" transform="rotate(-90 174 488.2)" >(photons/sec)</text>
<line x1="332.8" y1="464.1" x2="332.8" y2="515.1" stroke="#111" stroke-width="1.1" />
<line x1="332.3" y1="514.6" x2="434" y2="514.6" stroke="#111" stroke-width="1.1" />
<line x1="329.8" y1="514.6" x2="332.8" y2="514.6" stroke="#111" stroke-width="1" />
<line x1="331.2" y1="506.27" x2="332.8" y2="506.27" stroke="#111" stroke-width="1" />
<line x1="329.8" y1="497.93" x2="332.8" y2="497.93" stroke="#111" stroke-width="1" />
<line x1="331.2" y1="489.6" x2="332.8" y2="489.6" stroke="#111" stroke-width="1" />
<line x1="329.8" y1="481.27" x2="332.8" y2="481.27" stroke="#111" stroke-width="1" />
<line x1="331.2" y1="472.93" x2="332.8" y2="472.93" stroke="#111" stroke-width="1" />
<line x1="329.8" y1="464.6" x2="332.8" y2="464.6" stroke="#111" stroke-width="1" />
<text x="329.2" y="464.2" font-size="7" text-anchor="end" fill="#111" color="#111" textLength="7.6" lengthAdjust="spacingAndGlyphs" >10</text>
<text x="321.2" y="468.4" font-size="10" text-anchor="end" fill="#111" color="#111" textLength="11" lengthAdjust="spacingAndGlyphs" >10</text>
<text x="329.2" y="480.87" font-size="7" text-anchor="end" fill="#111" color="#111" textLength="3.8" lengthAdjust="spacingAndGlyphs" >8</text>
<text x="325" y="485.07" font-size="10" text-anchor="end" fill="#111" color="#111" textLength="11" lengthAdjust="spacingAndGlyphs" >10</text>
<text x="329.2" y="497.53" font-size="7" text-anchor="end" fill="#111" color="#111" textLength="3.8" lengthAdjust="spacingAndGlyphs" >6</text>
<text x="325" y="501.73" font-size="10" text-anchor="end" fill="#111" color="#111" textLength="11" lengthAdjust="spacingAndGlyphs" >10</text>
<text x="329.2" y="514.2" font-size="7" text-anchor="end" fill="#111" color="#111" textLength="3.8" lengthAdjust="spacingAndGlyphs" >4</text>
<text x="325" y="518.4" font-size="10" text-anchor="end" fill="#111" color="#111" textLength="11" lengthAdjust="spacingAndGlyphs" >10</text>
<line x1="335.64" y1="514.6" x2="335.64" y2="516.3" stroke="#111" stroke-width="0.9" />
<line x1="339" y1="514.6" x2="339" y2="517.6" stroke="#111" stroke-width="0.9" />
<line x1="342.36" y1="514.6" x2="342.36" y2="516.3" stroke="#111" stroke-width="0.9" />
<line x1="345.73" y1="514.6" x2="345.73" y2="516.3" stroke="#111" stroke-width="0.9" />
<line x1="349.09" y1="514.6" x2="349.09" y2="516.3" stroke="#111" stroke-width="0.9" />
<line x1="352.46" y1="514.6" x2="352.46" y2="516.3" stroke="#111" stroke-width="0.9" />
<line x1="355.82" y1="514.6" x2="355.82" y2="516.3" stroke="#111" stroke-width="0.9" />
<line x1="359.18" y1="514.6" x2="359.18" y2="516.3" stroke="#111" stroke-width="0.9" />
<line x1="362.55" y1="514.6" x2="362.55" y2="517.6" stroke="#111" stroke-width="0.9" />
<line x1="365.91" y1="514.6" x2="365.91" y2="516.3" stroke="#111" stroke-width="0.9" />
<line x1="369.28" y1="514.6" x2="369.28" y2="516.3" stroke="#111" stroke-width="0.9" />
<line x1="372.64" y1="514.6" x2="372.64" y2="516.3" stroke="#111" stroke-width="0.9" />
<line x1="376" y1="514.6" x2="376" y2="516.3" stroke="#111" stroke-width="0.9" />
<line x1="379.37" y1="514.6" x2="379.37" y2="516.3" stroke="#111" stroke-width="0.9" />
<line x1="382.73" y1="514.6" x2="382.73" y2="516.3" stroke="#111" stroke-width="0.9" />
<line x1="386.1" y1="514.6" x2="386.1" y2="517.6" stroke="#111" stroke-width="0.9" />
<line x1="389.46" y1="514.6" x2="389.46" y2="516.3" stroke="#111" stroke-width="0.9" />
<line x1="392.82" y1="514.6" x2="392.82" y2="516.3" stroke="#111" stroke-width="0.9" />
<line x1="396.19" y1="514.6" x2="396.19" y2="516.3" stroke="#111" stroke-width="0.9" />
<line x1="399.55" y1="514.6" x2="399.55" y2="516.3" stroke="#111" stroke-width="0.9" />
<line x1="402.92" y1="514.6" x2="402.92" y2="516.3" stroke="#111" stroke-width="0.9" />
<line x1="406.28" y1="514.6" x2="406.28" y2="516.3" stroke="#111" stroke-width="0.9" />
<line x1="409.64" y1="514.6" x2="409.64" y2="517.6" stroke="#111" stroke-width="0.9" />
<line x1="413.01" y1="514.6" x2="413.01" y2="516.3" stroke="#111" stroke-width="0.9" />
<line x1="416.37" y1="514.6" x2="416.37" y2="516.3" stroke="#111" stroke-width="0.9" />
<line x1="419.74" y1="514.6" x2="419.74" y2="516.3" stroke="#111" stroke-width="0.9" />
<line x1="423.1" y1="514.6" x2="423.1" y2="516.3" stroke="#111" stroke-width="0.9" />
<line x1="426.46" y1="514.6" x2="426.46" y2="516.3" stroke="#111" stroke-width="0.9" />
<line x1="429.83" y1="514.6" x2="429.83" y2="516.3" stroke="#111" stroke-width="0.9" />
<line x1="433.19" y1="514.6" x2="433.19" y2="517.6" stroke="#111" stroke-width="0.9" />
<text x="339" y="527.8" font-size="10" text-anchor="middle" fill="#111" color="#111" textLength="5.6" lengthAdjust="spacingAndGlyphs" >2</text>
<text x="362.55" y="527.8" font-size="10" text-anchor="middle" fill="#111" color="#111" textLength="5.6" lengthAdjust="spacingAndGlyphs" >9</text>
<text x="386.1" y="527.8" font-size="10" text-anchor="middle" fill="#111" color="#111" textLength="11.2" lengthAdjust="spacingAndGlyphs" >16</text>
<text x="409.64" y="527.8" font-size="10" text-anchor="middle" fill="#111" color="#111" textLength="11.2" lengthAdjust="spacingAndGlyphs" >23</text>
<text x="433.19" y="527.8" font-size="10" text-anchor="middle" fill="#111" color="#111" textLength="11.2" lengthAdjust="spacingAndGlyphs" >30</text>
<text x="386.1" y="538.9" font-size="10.5" text-anchor="middle" fill="#111" color="#111" textLength="18.8" lengthAdjust="spacingAndGlyphs" >Day</text>
<path d="M339 481.7 352.5 481.7 362.5 479.2 386.1 478.4 409.6 479.2 433.2 473.4" fill="none" stroke="#b0b0b0" stroke-width="1.2" />
<line x1="339" y1="480.43" x2="339" y2="482.93" stroke="#b0b0b0" stroke-width="1" />
<line x1="337.2" y1="480.43" x2="340.8" y2="480.43" stroke="#b0b0b0" stroke-width="1" />
<line x1="337.2" y1="482.93" x2="340.8" y2="482.93" stroke="#b0b0b0" stroke-width="1" />
<rect x="337.5" y="480.18" width="3" height="3" fill="#b0b0b0" stroke="none" stroke-width="1" />
<line x1="352.46" y1="479.18" x2="352.46" y2="484.18" stroke="#b0b0b0" stroke-width="1" />
<line x1="350.66" y1="479.18" x2="354.26" y2="479.18" stroke="#b0b0b0" stroke-width="1" />
<line x1="350.66" y1="484.18" x2="354.26" y2="484.18" stroke="#b0b0b0" stroke-width="1" />
<rect x="350.96" y="480.18" width="3" height="3" fill="#b0b0b0" stroke="none" stroke-width="1" />
<line x1="362.55" y1="476.27" x2="362.55" y2="482.1" stroke="#b0b0b0" stroke-width="1" />
<line x1="360.75" y1="476.27" x2="364.35" y2="476.27" stroke="#b0b0b0" stroke-width="1" />
<line x1="360.75" y1="482.1" x2="364.35" y2="482.1" stroke="#b0b0b0" stroke-width="1" />
<rect x="361.05" y="477.68" width="3" height="3" fill="#b0b0b0" stroke="none" stroke-width="1" />
<line x1="386.1" y1="475.43" x2="386.1" y2="481.27" stroke="#b0b0b0" stroke-width="1" />
<line x1="384.3" y1="475.43" x2="387.9" y2="475.43" stroke="#b0b0b0" stroke-width="1" />
<line x1="384.3" y1="481.27" x2="387.9" y2="481.27" stroke="#b0b0b0" stroke-width="1" />
<rect x="384.6" y="476.85" width="3" height="3" fill="#b0b0b0" stroke="none" stroke-width="1" />
<line x1="409.64" y1="476.68" x2="409.64" y2="481.68" stroke="#b0b0b0" stroke-width="1" />
<line x1="407.84" y1="476.68" x2="411.44" y2="476.68" stroke="#b0b0b0" stroke-width="1" />
<line x1="407.84" y1="481.68" x2="411.44" y2="481.68" stroke="#b0b0b0" stroke-width="1" />
<rect x="408.14" y="477.68" width="3" height="3" fill="#b0b0b0" stroke="none" stroke-width="1" />
<line x1="433.19" y1="469.6" x2="433.19" y2="477.1" stroke="#b0b0b0" stroke-width="1" />
<line x1="431.39" y1="469.6" x2="434.99" y2="469.6" stroke="#b0b0b0" stroke-width="1" />
<line x1="431.39" y1="477.1" x2="434.99" y2="477.1" stroke="#b0b0b0" stroke-width="1" />
<rect x="431.69" y="471.85" width="3" height="3" fill="#b0b0b0" stroke="none" stroke-width="1" />
<path d="M339 485 352.5 487.5 362.5 487.9 386.1 489.2 409.6 494.2 433.2 492.5" fill="none" stroke="#4da6f5" stroke-width="1.2" />
<line x1="339" y1="482.52" x2="339" y2="487.52" stroke="#4da6f5" stroke-width="1" />
<line x1="337.2" y1="482.52" x2="340.8" y2="482.52" stroke="#4da6f5" stroke-width="1" />
<line x1="337.2" y1="487.52" x2="340.8" y2="487.52" stroke="#4da6f5" stroke-width="1" />
<rect x="337.5" y="483.52" width="3" height="3" fill="#4da6f5" stroke="none" stroke-width="1" />
<line x1="352.46" y1="482.93" x2="352.46" y2="492.1" stroke="#4da6f5" stroke-width="1" />
<line x1="350.66" y1="482.93" x2="354.26" y2="482.93" stroke="#4da6f5" stroke-width="1" />
<line x1="350.66" y1="492.1" x2="354.26" y2="492.1" stroke="#4da6f5" stroke-width="1" />
<rect x="350.96" y="486.02" width="3" height="3" fill="#4da6f5" stroke="none" stroke-width="1" />
<line x1="362.55" y1="485.43" x2="362.55" y2="490.43" stroke="#4da6f5" stroke-width="1" />
<line x1="360.75" y1="485.43" x2="364.35" y2="485.43" stroke="#4da6f5" stroke-width="1" />
<line x1="360.75" y1="490.43" x2="364.35" y2="490.43" stroke="#4da6f5" stroke-width="1" />
<rect x="361.05" y="486.43" width="3" height="3" fill="#4da6f5" stroke="none" stroke-width="1" />
<line x1="386.1" y1="486.27" x2="386.1" y2="492.1" stroke="#4da6f5" stroke-width="1" />
<line x1="384.3" y1="486.27" x2="387.9" y2="486.27" stroke="#4da6f5" stroke-width="1" />
<line x1="384.3" y1="492.1" x2="387.9" y2="492.1" stroke="#4da6f5" stroke-width="1" />
<rect x="384.6" y="487.68" width="3" height="3" fill="#4da6f5" stroke="none" stroke-width="1" />
<line x1="409.64" y1="490.02" x2="409.64" y2="498.35" stroke="#4da6f5" stroke-width="1" />
<line x1="407.84" y1="490.02" x2="411.44" y2="490.02" stroke="#4da6f5" stroke-width="1" />
<line x1="407.84" y1="498.35" x2="411.44" y2="498.35" stroke="#4da6f5" stroke-width="1" />
<rect x="408.14" y="492.68" width="3" height="3" fill="#4da6f5" stroke="none" stroke-width="1" />
<line x1="433.19" y1="489.18" x2="433.19" y2="495.85" stroke="#4da6f5" stroke-width="1" />
<line x1="431.39" y1="489.18" x2="434.99" y2="489.18" stroke="#4da6f5" stroke-width="1" />
<line x1="431.39" y1="495.85" x2="434.99" y2="495.85" stroke="#4da6f5" stroke-width="1" />
<rect x="431.69" y="491.02" width="3" height="3" fill="#4da6f5" stroke="none" stroke-width="1" />
<path d="M339 490.9 352.5 496.7 362.5 500 386.1 501.7 409.6 502.9 433.2 502.9" fill="none" stroke="#f7a440" stroke-width="1.2" />
<line x1="339" y1="486.27" x2="339" y2="495.43" stroke="#f7a440" stroke-width="1" />
<line x1="337.2" y1="486.27" x2="340.8" y2="486.27" stroke="#f7a440" stroke-width="1" />
<line x1="337.2" y1="495.43" x2="340.8" y2="495.43" stroke="#f7a440" stroke-width="1" />
<rect x="337.5" y="489.35" width="3" height="3" fill="#f7a440" stroke="none" stroke-width="1" />
<line x1="352.46" y1="494.18" x2="352.46" y2="499.18" stroke="#f7a440" stroke-width="1" />
<line x1="350.66" y1="494.18" x2="354.26" y2="494.18" stroke="#f7a440" stroke-width="1" />
<line x1="350.66" y1="499.18" x2="354.26" y2="499.18" stroke="#f7a440" stroke-width="1" />
<rect x="350.96" y="495.18" width="3" height="3" fill="#f7a440" stroke="none" stroke-width="1" />
<line x1="362.55" y1="497.1" x2="362.55" y2="502.93" stroke="#f7a440" stroke-width="1" />
<line x1="360.75" y1="497.1" x2="364.35" y2="497.1" stroke="#f7a440" stroke-width="1" />
<line x1="360.75" y1="502.93" x2="364.35" y2="502.93" stroke="#f7a440" stroke-width="1" />
<rect x="361.05" y="498.52" width="3" height="3" fill="#f7a440" stroke="none" stroke-width="1" />
<line x1="386.1" y1="499.18" x2="386.1" y2="504.18" stroke="#f7a440" stroke-width="1" />
<line x1="384.3" y1="499.18" x2="387.9" y2="499.18" stroke="#f7a440" stroke-width="1" />
<line x1="384.3" y1="504.18" x2="387.9" y2="504.18" stroke="#f7a440" stroke-width="1" />
<rect x="384.6" y="500.18" width="3" height="3" fill="#f7a440" stroke="none" stroke-width="1" />
<line x1="409.64" y1="500.43" x2="409.64" y2="505.43" stroke="#f7a440" stroke-width="1" />
<line x1="407.84" y1="500.43" x2="411.44" y2="500.43" stroke="#f7a440" stroke-width="1" />
<line x1="407.84" y1="505.43" x2="411.44" y2="505.43" stroke="#f7a440" stroke-width="1" />
<rect x="408.14" y="501.43" width="3" height="3" fill="#f7a440" stroke="none" stroke-width="1" />
<line x1="433.19" y1="501.68" x2="433.19" y2="504.18" stroke="#f7a440" stroke-width="1" />
<line x1="431.39" y1="501.68" x2="434.99" y2="501.68" stroke="#f7a440" stroke-width="1" />
<line x1="431.39" y1="504.18" x2="434.99" y2="504.18" stroke="#f7a440" stroke-width="1" />
<rect x="431.69" y="501.43" width="3" height="3" fill="#f7a440" stroke="none" stroke-width="1" />
<line x1="366.2" y1="489.6" x2="366.2" y2="498.8" stroke="#111" stroke-width="1.1" />
<text x="368.8" y="498.8" font-size="8.4" fill="#222" color="#222" textLength="23.7" lengthAdjust="spacingAndGlyphs" >0.0009</text>
<line x1="438.4" y1="475.6" x2="438.4" y2="490.3" stroke="#111" stroke-width="1.1" />
<text x="440.9" y="468.7" font-size="7.8" fill="#222" color="#222" textLength="28" lengthAdjust="spacingAndGlyphs" transform="rotate(90 440.9 468.7)" >&lt;0.0001</text>
<line x1="449" y1="475.6" x2="449" y2="504.6" stroke="#111" stroke-width="1.1" />
<text x="451.5" y="476" font-size="7.8" fill="#222" color="#222" textLength="28" lengthAdjust="spacingAndGlyphs" transform="rotate(90 451.5 476)" >&lt;0.0001</text>
<line x1="466.9" y1="476.5" x2="478.8" y2="476.5" stroke="#b0b0b0" stroke-width="1.3" />
<text x="482.5" y="480.2" font-size="10.5" fill="#111" color="#111" textLength="21" lengthAdjust="spacingAndGlyphs" >UTD</text>
<line x1="466.9" y1="493.1" x2="478.8" y2="493.1" stroke="#4da6f5" stroke-width="1.3" />
<text x="482.5" y="496.8" font-size="10.5" fill="#111" color="#111" textLength="53" lengthAdjust="spacingAndGlyphs" >HER2.CAR</text>
<line x1="466.9" y1="509.8" x2="478.8" y2="509.8" stroke="#f7a440" stroke-width="1.3" />
<text x="482.5" y="513.5" font-size="10.5" fill="#111" color="#111" textLength="57.5" lengthAdjust="spacingAndGlyphs" >HER2.eSPR</text>
<text x="0.2" y="568.6" font-size="13.4" fill="#000" color="#000" font-weight="bold" >k</text>
<text x="0" y="579.7" font-size="10.5" fill="#222" color="#222" textLength="81" lengthAdjust="spacingAndGlyphs" >immunodeficient</text>
<g transform="translate(14.6 598.9) scale(1)"><path d="M46.5 8.5 C52 10.5, 56 12.5, 56.4 15.3 C56.6 17.6, 50 17.6, 40 17.2 C34 17, 29 17.2, 25.8 17.4" stroke="#e6a2a2" stroke-width="1.6" fill="none" stroke-linecap="round"/><path d="M8 12.6 C9.5 14.4, 12 14.6, 15.5 14.2 M37 12.4 C38.5 14.4, 41 14.6, 44.5 14.0" stroke="#e8a6a6" stroke-width="1.8" fill="none" stroke-linecap="round"/><ellipse cx="13.4" cy="-6.6" rx="1.6" ry="1.9" fill="#e4deda"/><path d="M0 0 C1 -2.5, 4 -4.8, 8 -5.8 C11 -6.6, 13 -7.2, 15 -6.8 C18 -6.0, 20 -6.2, 24 -6.2 C32 -6.2, 41 -2.5, 46.5 4.5 C48.5 8, 47 11.5, 44 12.3 C40 12.6, 36 11.5, 32 11.6 L19 11.6 C14 11.4, 9 9, 5 4.5 C3 2.5, 1 1.2, 0 0 Z" fill="#e9e5e2" stroke="#d6cfca" stroke-width="0.5"/><path d="M30 11.6 C32 8.5, 38 6.5, 43 6.0 C45 5.8, 46.6 5.0, 46.5 4.5 C48.5 8, 47 11.5, 44 12.3 C40 12.6, 36 11.5, 32 11.6 Z" fill="#dad2cc"/><ellipse cx="16" cy="-2.6" rx="2.3" ry="3.0" fill="#e9b6b6" stroke="#efe6e2" stroke-width="0.6"/><circle cx="7.5" cy="-1.3" r="0.75" fill="#c03c3c"/><path d="M1.5 -1.5 L-2 -4 M1.8 -1 L-2.4 -1.8" stroke="#eee" stroke-width="0.4"/></g>
<circle cx="59.6" cy="591.2" r="4.2" fill="#c4e6bc" stroke="none" stroke-width="1" />
<circle cx="59.42" cy="590.57" r="0.9" fill="#9fd494" stroke="none" stroke-width="1" />
<circle cx="57.79" cy="593.03" r="0.9" fill="#9fd494" stroke="none" stroke-width="1" />
<circle cx="57.13" cy="591.21" r="0.9" fill="#9fd494" stroke="none" stroke-width="1" />
<circle cx="61.59" cy="589.1" r="0.9" fill="#9fd494" stroke="none" stroke-width="1" />
<circle cx="59.87" cy="591.78" r="0.9" fill="#9fd494" stroke="none" stroke-width="1" />
<circle cx="57.3" cy="590.6" r="0.9" fill="#9fd494" stroke="none" stroke-width="1" />
<g transform="translate(70.3 592.8) rotate(136.6)"><rect x="0" y="-1.6" width="0.9" height="3.2" fill="#2c6fb5"/><rect x="0.9" y="-0.4" width="2.28" height="0.8" fill="#2c6fb5"/><rect x="2.53" y="-1.9" width="0.8" height="3.8" fill="#2c6fb5"/><rect x="2.79" y="-1.3" width="6.08" height="2.6" fill="#cfe3f5" stroke="#2c6fb5" stroke-width="0.6"/><rect x="5.7" y="-1.3" width="3.17" height="2.6" fill="#3a8ad6"/><path d="M8.86 -0.9 L9.88 -0.3 L9.88 0.3 L8.86 0.9 Z" fill="#2c6fb5"/><line x1="9.88" y1="0" x2="12.66" y2="0" stroke="#777" stroke-width="0.5"/></g>
<line x1="86.9" y1="604.2" x2="131" y2="604.2" stroke="#222" stroke-width="1" />
<path d="M130.6 601.6 L135.5 604.2 L130.6 606.8 Z" fill="#222" stroke="none" stroke-width="1" />
<line x1="86.9" y1="604.2" x2="86.9" y2="608.6" stroke="#222" stroke-width="1" />
<line x1="118.6" y1="604.2" x2="118.6" y2="608.6" stroke="#222" stroke-width="1" />
<path d="M115.63 582.6 L120.87 582.6 L121.39 584.6 L124.8 587 L124.8 601 L113.01 601.6 L111.7 600.4 L111.7 587 L115.11 584.6 Z" fill="#505050"/>
<path d="M111.7 587 L115.11 584.6 L115.63 582.6 L116.42 582.6 L116.02 585.2 L114.58 587.6 L114.58 601.3 L111.7 600.4 Z" fill="#3e3e3e"/>
<rect x="114.98" y="597.8" width="9.43" height="1.6" fill="#3a3a3a"/>
<circle cx="118.51" cy="584.8" r="0.7" fill="#f08a20" stroke="none" stroke-width="1" />
<circle cx="119.56" cy="598.6" r="0.6" fill="#e05a20" stroke="none" stroke-width="1" />
<circle cx="112.9" cy="590.4" r="0.45" fill="#999" stroke="none" stroke-width="1" />
<circle cx="112.9" cy="595.4" r="0.45" fill="#999" stroke="none" stroke-width="1" />
<text x="73.6" y="616.7" font-size="10.5" fill="#222" color="#222" textLength="55.1" lengthAdjust="spacingAndGlyphs" >day-8 day0</text>
<text x="8.5" y="628.1" font-size="10.5" fill="#222" color="#222" textLength="67.4" lengthAdjust="spacingAndGlyphs" >i.p inoculation</text>
<text x="8.8" y="639.5" font-size="10.5" fill="#222" textLength="68.6" lengthAdjust="spacingAndGlyphs">1×10<tspan font-size="6.5" dy="-3.8">6</tspan><tspan dy="3.8"> SKOV3</tspan></text>
<g transform="translate(136.1 598.4) scale(1)"><path d="M46.5 8.5 C52 10.5, 56 12.5, 56.4 15.3 C56.6 17.6, 50 17.6, 40 17.2 C34 17, 29 17.2, 25.8 17.4" stroke="#e6a2a2" stroke-width="1.6" fill="none" stroke-linecap="round"/><path d="M8 12.6 C9.5 14.4, 12 14.6, 15.5 14.2 M37 12.4 C38.5 14.4, 41 14.6, 44.5 14.0" stroke="#e8a6a6" stroke-width="1.8" fill="none" stroke-linecap="round"/><ellipse cx="13.4" cy="-6.6" rx="1.6" ry="1.9" fill="#e4deda"/><path d="M0 0 C1 -2.5, 4 -4.8, 8 -5.8 C11 -6.6, 13 -7.2, 15 -6.8 C18 -6.0, 20 -6.2, 24 -6.2 C32 -6.2, 41 -2.5, 46.5 4.5 C48.5 8, 47 11.5, 44 12.3 C40 12.6, 36 11.5, 32 11.6 L19 11.6 C14 11.4, 9 9, 5 4.5 C3 2.5, 1 1.2, 0 0 Z" fill="#e9e5e2" stroke="#d6cfca" stroke-width="0.5"/><path d="M30 11.6 C32 8.5, 38 6.5, 43 6.0 C45 5.8, 46.6 5.0, 46.5 4.5 C48.5 8, 47 11.5, 44 12.3 C40 12.6, 36 11.5, 32 11.6 Z" fill="#dad2cc"/><ellipse cx="16" cy="-2.6" rx="2.3" ry="3.0" fill="#e9b6b6" stroke="#efe6e2" stroke-width="0.6"/><circle cx="7.5" cy="-1.3" r="0.75" fill="#c03c3c"/><path d="M1.5 -1.5 L-2 -4 M1.8 -1 L-2.4 -1.8" stroke="#eee" stroke-width="0.4"/></g>
<circle cx="163.4" cy="603.4" r="4.8" fill="#cdeac6" stroke="none" stroke-width="1" />
<circle cx="164.54" cy="603.13" r="0.9" fill="#a5d69a" stroke="none" stroke-width="1" />
<circle cx="164.66" cy="601.48" r="0.9" fill="#a5d69a" stroke="none" stroke-width="1" />
<circle cx="161.93" cy="601.22" r="0.9" fill="#a5d69a" stroke="none" stroke-width="1" />
<circle cx="163.44" cy="605.77" r="0.9" fill="#a5d69a" stroke="none" stroke-width="1" />
<circle cx="163.91" cy="604.94" r="0.9" fill="#a5d69a" stroke="none" stroke-width="1" />
<circle cx="162.75" cy="604.78" r="0.9" fill="#a5d69a" stroke="none" stroke-width="1" />
<line x1="184.2" y1="590" x2="186.2" y2="590" stroke="#f0a0a8" stroke-width="0.8" />
<circle cx="186.4" cy="590" r="0.8" fill="#f08c96" stroke="none" stroke-width="1" />
<line x1="183.26" y1="592.26" x2="184.68" y2="593.68" stroke="#f0a0a8" stroke-width="0.8" />
<circle cx="184.82" cy="593.82" r="0.8" fill="#f08c96" stroke="none" stroke-width="1" />
<line x1="181" y1="593.2" x2="181" y2="595.2" stroke="#f0a0a8" stroke-width="0.8" />
<circle cx="181" cy="595.4" r="0.8" fill="#f08c96" stroke="none" stroke-width="1" />
<line x1="178.74" y1="592.26" x2="177.32" y2="593.68" stroke="#f0a0a8" stroke-width="0.8" />
<circle cx="177.18" cy="593.82" r="0.8" fill="#f08c96" stroke="none" stroke-width="1" />
<line x1="177.8" y1="590" x2="175.8" y2="590" stroke="#f0a0a8" stroke-width="0.8" />
<circle cx="175.6" cy="590" r="0.8" fill="#f08c96" stroke="none" stroke-width="1" />
<line x1="178.74" y1="587.74" x2="177.32" y2="586.32" stroke="#f0a0a8" stroke-width="0.8" />
<circle cx="177.18" cy="586.18" r="0.8" fill="#f08c96" stroke="none" stroke-width="1" />
<line x1="181" y1="586.8" x2="181" y2="584.8" stroke="#f0a0a8" stroke-width="0.8" />
<circle cx="181" cy="584.6" r="0.8" fill="#f08c96" stroke="none" stroke-width="1" />
<line x1="183.26" y1="587.74" x2="184.68" y2="586.32" stroke="#f0a0a8" stroke-width="0.8" />
<circle cx="184.82" cy="586.18" r="0.8" fill="#f08c96" stroke="none" stroke-width="1" />
<circle cx="181" cy="590" r="3.4" fill="#f5b5bb" stroke="none" stroke-width="1" />
<circle cx="181" cy="590" r="1.6" fill="#ee8f98" stroke="none" stroke-width="1" />
<g transform="translate(193 592.6) rotate(136.51)"><rect x="0" y="-1.6" width="0.9" height="3.2" fill="#2c6fb5"/><rect x="0.9" y="-0.4" width="1.94" height="0.8" fill="#2c6fb5"/><rect x="2.15" y="-1.9" width="0.8" height="3.8" fill="#2c6fb5"/><rect x="2.37" y="-1.3" width="5.16" height="2.6" fill="#cfe3f5" stroke="#2c6fb5" stroke-width="0.6"/><rect x="4.84" y="-1.3" width="2.69" height="2.6" fill="#3a8ad6"/><path d="M7.53 -0.9 L8.39 -0.3 L8.39 0.3 L7.53 0.9 Z" fill="#2c6fb5"/><line x1="8.39" y1="0" x2="10.75" y2="0" stroke="#777" stroke-width="0.5"/></g>
<path d="M205.04 585.2 L209.76 585.2 L210.23 587.2 L213.3 589.6 L213.3 603 L202.68 603.6 L201.5 602.4 L201.5 589.6 L204.57 587.2 Z" fill="#505050"/>
<path d="M201.5 589.6 L204.57 587.2 L205.04 585.2 L205.75 585.2 L205.39 587.8 L204.1 590.2 L204.1 603.3 L201.5 602.4 Z" fill="#3e3e3e"/>
<rect x="204.45" y="599.8" width="8.5" height="1.6" fill="#3a3a3a"/>
<circle cx="207.64" cy="587.4" r="0.7" fill="#f08a20" stroke="none" stroke-width="1" />
<circle cx="208.58" cy="600.6" r="0.6" fill="#e05a20" stroke="none" stroke-width="1" />
<circle cx="202.7" cy="593" r="0.45" fill="#999" stroke="none" stroke-width="1" />
<circle cx="202.7" cy="598" r="0.45" fill="#999" stroke="none" stroke-width="1" />
<path d="M228.72 585.2 L233.68 585.2 L234.18 587.2 L237.4 589.6 L237.4 603 L226.24 603.6 L225 602.4 L225 589.6 L228.22 587.2 Z" fill="#505050"/>
<path d="M225 589.6 L228.22 587.2 L228.72 585.2 L229.46 585.2 L229.09 587.8 L227.73 590.2 L227.73 603.3 L225 602.4 Z" fill="#3e3e3e"/>
<rect x="228.1" y="599.8" width="8.93" height="1.6" fill="#3a3a3a"/>
<circle cx="231.45" cy="587.4" r="0.7" fill="#f08a20" stroke="none" stroke-width="1" />
<circle cx="232.44" cy="600.6" r="0.6" fill="#e05a20" stroke="none" stroke-width="1" />
<circle cx="226.2" cy="593" r="0.45" fill="#999" stroke="none" stroke-width="1" />
<circle cx="226.2" cy="598" r="0.45" fill="#999" stroke="none" stroke-width="1" />
<line x1="195" y1="607" x2="244.4" y2="607" stroke="#222" stroke-width="1" />
<path d="M243.9 604.4 L248.7 607 L243.9 609.6 Z" fill="#222" stroke="none" stroke-width="1" />
<text x="219.8" y="617.6" font-size="10.5" text-anchor="middle" fill="#222" color="#222" textLength="15.4" lengthAdjust="spacingAndGlyphs" >BLI</text>
<text x="131.8" y="628.1" font-size="10.5" fill="#222" color="#222" textLength="61.8" lengthAdjust="spacingAndGlyphs" >i.p treatment</text>
<text x="115.7" y="639.5" font-size="10.5" fill="#222" textLength="93.6" lengthAdjust="spacingAndGlyphs">4×10<tspan font-size="6.5" dy="-3.8">6</tspan><tspan dy="3.8"> macrophage</tspan></text>
<text x="269.6" y="568.6" font-size="13.4" fill="#000" color="#000" font-weight="bold" >l</text>
<text x="285.4" y="607.9" font-size="10.5" text-anchor="middle" fill="#111" color="#111" textLength="70.8" lengthAdjust="spacingAndGlyphs" transform="rotate(-90 285.4 607.9)" >Tumor Burden</text>
<text x="298.2" y="607.7" font-size="10.5" text-anchor="middle" fill="#111" color="#111" textLength="68.4" lengthAdjust="spacingAndGlyphs" transform="rotate(-90 298.2 607.7)" >(photons/sec)</text>
<line x1="330.9" y1="577.6" x2="330.9" y2="628.5" stroke="#111" stroke-width="1.1" />
<line x1="330.4" y1="628" x2="431.6" y2="628" stroke="#111" stroke-width="1.1" />
<line x1="327.9" y1="587.6" x2="330.9" y2="587.6" stroke="#111" stroke-width="1" />
<text x="327.3" y="587.2" font-size="7" text-anchor="end" fill="#111" color="#111" textLength="7.6" lengthAdjust="spacingAndGlyphs" >10</text>
<text x="319.4" y="591.4" font-size="10" text-anchor="end" fill="#111" color="#111" textLength="11" lengthAdjust="spacingAndGlyphs" >10</text>
<line x1="329.4" y1="583.57" x2="330.9" y2="583.57" stroke="#111" stroke-width="0.7" />
<line x1="329.4" y1="581.21" x2="330.9" y2="581.21" stroke="#111" stroke-width="0.7" />
<line x1="329.4" y1="579.53" x2="330.9" y2="579.53" stroke="#111" stroke-width="0.7" />
<line x1="329.4" y1="578.23" x2="330.9" y2="578.23" stroke="#111" stroke-width="0.7" />
<line x1="327.9" y1="601" x2="330.9" y2="601" stroke="#111" stroke-width="1" />
<text x="327.3" y="600.6" font-size="7" text-anchor="end" fill="#111" color="#111" textLength="3.8" lengthAdjust="spacingAndGlyphs" >9</text>
<text x="323.2" y="604.8" font-size="10" text-anchor="end" fill="#111" color="#111" textLength="11" lengthAdjust="spacingAndGlyphs" >10</text>
<line x1="329.4" y1="596.97" x2="330.9" y2="596.97" stroke="#111" stroke-width="0.7" />
<line x1="329.4" y1="594.61" x2="330.9" y2="594.61" stroke="#111" stroke-width="0.7" />
<line x1="329.4" y1="592.93" x2="330.9" y2="592.93" stroke="#111" stroke-width="0.7" />
<line x1="329.4" y1="591.63" x2="330.9" y2="591.63" stroke="#111" stroke-width="0.7" />
<line x1="329.4" y1="590.57" x2="330.9" y2="590.57" stroke="#111" stroke-width="0.7" />
<line x1="329.4" y1="589.68" x2="330.9" y2="589.68" stroke="#111" stroke-width="0.7" />
<line x1="329.4" y1="588.9" x2="330.9" y2="588.9" stroke="#111" stroke-width="0.7" />
<line x1="329.4" y1="588.21" x2="330.9" y2="588.21" stroke="#111" stroke-width="0.7" />
<line x1="327.9" y1="614.4" x2="330.9" y2="614.4" stroke="#111" stroke-width="1" />
<text x="327.3" y="614" font-size="7" text-anchor="end" fill="#111" color="#111" textLength="3.8" lengthAdjust="spacingAndGlyphs" >8</text>
<text x="323.2" y="618.2" font-size="10" text-anchor="end" fill="#111" color="#111" textLength="11" lengthAdjust="spacingAndGlyphs" >10</text>
<line x1="329.4" y1="610.37" x2="330.9" y2="610.37" stroke="#111" stroke-width="0.7" />
<line x1="329.4" y1="608.01" x2="330.9" y2="608.01" stroke="#111" stroke-width="0.7" />
<line x1="329.4" y1="606.33" x2="330.9" y2="606.33" stroke="#111" stroke-width="0.7" />
<line x1="329.4" y1="605.03" x2="330.9" y2="605.03" stroke="#111" stroke-width="0.7" />
<line x1="329.4" y1="603.97" x2="330.9" y2="603.97" stroke="#111" stroke-width="0.7" />
<line x1="329.4" y1="603.08" x2="330.9" y2="603.08" stroke="#111" stroke-width="0.7" />
<line x1="329.4" y1="602.3" x2="330.9" y2="602.3" stroke="#111" stroke-width="0.7" />
<line x1="329.4" y1="601.61" x2="330.9" y2="601.61" stroke="#111" stroke-width="0.7" />
<line x1="327.9" y1="627.8" x2="330.9" y2="627.8" stroke="#111" stroke-width="1" />
<text x="327.3" y="627.4" font-size="7" text-anchor="end" fill="#111" color="#111" textLength="3.8" lengthAdjust="spacingAndGlyphs" >7</text>
<text x="323.2" y="631.6" font-size="10" text-anchor="end" fill="#111" color="#111" textLength="11" lengthAdjust="spacingAndGlyphs" >10</text>
<line x1="329.4" y1="623.77" x2="330.9" y2="623.77" stroke="#111" stroke-width="0.7" />
<line x1="329.4" y1="621.41" x2="330.9" y2="621.41" stroke="#111" stroke-width="0.7" />
<line x1="329.4" y1="619.73" x2="330.9" y2="619.73" stroke="#111" stroke-width="0.7" />
<line x1="329.4" y1="618.43" x2="330.9" y2="618.43" stroke="#111" stroke-width="0.7" />
<line x1="329.4" y1="617.37" x2="330.9" y2="617.37" stroke="#111" stroke-width="0.7" />
<line x1="329.4" y1="616.48" x2="330.9" y2="616.48" stroke="#111" stroke-width="0.7" />
<line x1="329.4" y1="615.7" x2="330.9" y2="615.7" stroke="#111" stroke-width="0.7" />
<line x1="329.4" y1="615.01" x2="330.9" y2="615.01" stroke="#111" stroke-width="0.7" />
<line x1="330.9" y1="628" x2="330.9" y2="631" stroke="#111" stroke-width="0.9" />
<line x1="334.27" y1="628" x2="334.27" y2="629.6" stroke="#111" stroke-width="0.9" />
<line x1="337.65" y1="628" x2="337.65" y2="629.6" stroke="#111" stroke-width="0.9" />
<line x1="341.02" y1="628" x2="341.02" y2="629.6" stroke="#111" stroke-width="0.9" />
<line x1="344.4" y1="628" x2="344.4" y2="629.6" stroke="#111" stroke-width="0.9" />
<line x1="347.77" y1="628" x2="347.77" y2="629.6" stroke="#111" stroke-width="0.9" />
<line x1="351.15" y1="628" x2="351.15" y2="629.6" stroke="#111" stroke-width="0.9" />
<line x1="354.52" y1="628" x2="354.52" y2="631" stroke="#111" stroke-width="0.9" />
<line x1="357.9" y1="628" x2="357.9" y2="629.6" stroke="#111" stroke-width="0.9" />
<line x1="361.27" y1="628" x2="361.27" y2="629.6" stroke="#111" stroke-width="0.9" />
<line x1="364.65" y1="628" x2="364.65" y2="629.6" stroke="#111" stroke-width="0.9" />
<line x1="368.02" y1="628" x2="368.02" y2="629.6" stroke="#111" stroke-width="0.9" />
<line x1="371.4" y1="628" x2="371.4" y2="629.6" stroke="#111" stroke-width="0.9" />
<line x1="374.77" y1="628" x2="374.77" y2="629.6" stroke="#111" stroke-width="0.9" />
<line x1="378.15" y1="628" x2="378.15" y2="631" stroke="#111" stroke-width="0.9" />
<line x1="381.52" y1="628" x2="381.52" y2="629.6" stroke="#111" stroke-width="0.9" />
<line x1="384.9" y1="628" x2="384.9" y2="629.6" stroke="#111" stroke-width="0.9" />
<line x1="388.27" y1="628" x2="388.27" y2="629.6" stroke="#111" stroke-width="0.9" />
<line x1="391.65" y1="628" x2="391.65" y2="629.6" stroke="#111" stroke-width="0.9" />
<line x1="395.02" y1="628" x2="395.02" y2="629.6" stroke="#111" stroke-width="0.9" />
<line x1="398.4" y1="628" x2="398.4" y2="629.6" stroke="#111" stroke-width="0.9" />
<line x1="401.77" y1="628" x2="401.77" y2="631" stroke="#111" stroke-width="0.9" />
<line x1="405.15" y1="628" x2="405.15" y2="629.6" stroke="#111" stroke-width="0.9" />
<line x1="408.52" y1="628" x2="408.52" y2="629.6" stroke="#111" stroke-width="0.9" />
<line x1="411.9" y1="628" x2="411.9" y2="629.6" stroke="#111" stroke-width="0.9" />
<line x1="415.27" y1="628" x2="415.27" y2="629.6" stroke="#111" stroke-width="0.9" />
<line x1="418.65" y1="628" x2="418.65" y2="629.6" stroke="#111" stroke-width="0.9" />
<line x1="422.02" y1="628" x2="422.02" y2="629.6" stroke="#111" stroke-width="0.9" />
<line x1="425.4" y1="628" x2="425.4" y2="631" stroke="#111" stroke-width="0.9" />
<line x1="428.77" y1="628" x2="428.77" y2="629.6" stroke="#111" stroke-width="0.9" />
<text x="330.9" y="640.4" font-size="10" text-anchor="middle" fill="#111" color="#111" textLength="5.6" lengthAdjust="spacingAndGlyphs" >0</text>
<text x="354.52" y="640.4" font-size="10" text-anchor="middle" fill="#111" color="#111" textLength="5.6" lengthAdjust="spacingAndGlyphs" >7</text>
<text x="378.15" y="640.4" font-size="10" text-anchor="middle" fill="#111" color="#111" textLength="11.2" lengthAdjust="spacingAndGlyphs" >14</text>
<text x="401.77" y="640.4" font-size="10" text-anchor="middle" fill="#111" color="#111" textLength="11.2" lengthAdjust="spacingAndGlyphs" >21</text>
<text x="425.4" y="640.4" font-size="10" text-anchor="middle" fill="#111" color="#111" textLength="11.2" lengthAdjust="spacingAndGlyphs" >28</text>
<text x="378.15" y="650" font-size="10.5" text-anchor="middle" fill="#111" color="#111" textLength="18.8" lengthAdjust="spacingAndGlyphs" >Day</text>
<path d="M330.9 599.2 354.5 593.4 378.1 592.2 401.8 589.8 425.4 586.2" fill="none" stroke="#a8a8a8" stroke-width="0.9" />
<path d="M330.9 600 354.5 596.1 371.4 595 378.1 590.3 388.3 592.2 401.8 591.4 425.4 588.3" fill="none" stroke="#a8a8a8" stroke-width="0.9" />
<path d="M330.9 602.3 354.5 605.5 366.3 606.2 378.1 611.7 388.3 606.2 401.8 603.1 425.4 596.9" fill="none" stroke="#a8a8a8" stroke-width="0.9" />
<path d="M330.9 600.8 354.5 598.4 378.1 596.9 401.8 594.5 425.4 591.4" fill="none" stroke="#a8a8a8" stroke-width="0.9" />
<path d="M330.9 603.9 354.5 606.2 366.3 607.8 378.1 608.6 401.8 601.6 425.4 598.4" fill="none" stroke="#a8a8a8" stroke-width="0.9" />
<path d="M330.9 604.7 334.3 608.6 342.7 609.4 354.5 610.2 366.3 611.7 378.1 612.5 390 608.6 401.8 606.2 425.4 607" fill="none" stroke="#f7a440" stroke-width="0.9" />
<path d="M330.9 606.2 334.3 615.6 342.7 613.3 354.5 616.4 366.3 617.2 378.1 614.1 390 611.7 401.8 610.2 425.4 608.6" fill="none" stroke="#f7a440" stroke-width="0.9" />
<path d="M330.9 607.8 334.3 618 354.5 621.1 378.1 620.3 390 619.5 401.8 615.6 413.6 612.5 425.4 614.1" fill="none" stroke="#f7a440" stroke-width="0.9" />
<path d="M330.9 605.5 354.5 603.1 378.1 602.3 401.8 600.8 425.4 596.9" fill="none" stroke="#f7a440" stroke-width="0.9" />
<path d="M330.9 603.9 354.5 603.9 378.1 600 401.8 596.9 425.4 593.8" fill="none" stroke="#f7a440" stroke-width="0.9" />
<path d="M330.9 608.6 334.3 614.8 342.7 611.7 354.5 612.5 366.3 613.3 378.1 613.3 401.8 610.2 425.4 607" fill="none" stroke="#f7a440" stroke-width="0.9" />
<path d="M330.9 600 342.7 601.6 354.5 598.4 378.1 595.3 401.8 592.2 425.4 589.8" fill="none" stroke="#4da6f5" stroke-width="0.9" />
<path d="M330.9 601.6 354.5 600 378.1 596.9 401.8 593.8 425.4 591.4" fill="none" stroke="#4da6f5" stroke-width="0.9" />
<path d="M330.9 607 342.7 608.6 366.3 610.9 378.1 607 390 605.5 401.8 600.8 413.6 602.3 425.4 599.2" fill="none" stroke="#4da6f5" stroke-width="0.9" />
<path d="M330.9 603.1 354.5 605.5 366.3 611.7 378.1 610.2 401.8 603.1 425.4 600" fill="none" stroke="#4da6f5" stroke-width="0.9" />
<path d="M330.9 608.6 334.3 610.2 354.5 608.6 378.1 603.1 401.8 598.4 425.4 594.5" fill="none" stroke="#4da6f5" stroke-width="0.9" />
<path d="M330.9 604.7 354.5 602.3 378.1 599.2 401.8 596.9 425.4 593" fill="none" stroke="#4da6f5" stroke-width="0.9" />
<path d="M330.9 600 354.5 596.9 378.1 593.8 390 593 401.8 595.3 413.6 593.8 425.4 590.6" fill="none" stroke="#4da6f5" stroke-width="0.9" />
<line x1="331.5" y1="601.27" x2="431.6" y2="601.27" stroke="#111" stroke-width="1" stroke-dasharray="3,2"/>
<line x1="466.5" y1="575.5" x2="466.5" y2="628.7" stroke="#111" stroke-width="1.1" />
<line x1="466" y1="628.2" x2="567.7" y2="628.2" stroke="#111" stroke-width="1.1" />
<line x1="463.5" y1="579" x2="466.5" y2="579" stroke="#111" stroke-width="1" />
<text x="462.9" y="578.6" font-size="7" text-anchor="end" fill="#111" color="#111" textLength="7.6" lengthAdjust="spacingAndGlyphs" >10</text>
<text x="455" y="582.8" font-size="10" text-anchor="end" fill="#111" color="#111" textLength="11" lengthAdjust="spacingAndGlyphs" >10</text>
<line x1="463.5" y1="600.45" x2="466.5" y2="600.45" stroke="#111" stroke-width="1" />
<text x="462.9" y="600.05" font-size="7" text-anchor="end" fill="#111" color="#111" textLength="3.8" lengthAdjust="spacingAndGlyphs" >9</text>
<text x="458.8" y="604.25" font-size="10" text-anchor="end" fill="#111" color="#111" textLength="11" lengthAdjust="spacingAndGlyphs" >10</text>
<line x1="465" y1="593.99" x2="466.5" y2="593.99" stroke="#111" stroke-width="0.7" />
<line x1="465" y1="590.22" x2="466.5" y2="590.22" stroke="#111" stroke-width="0.7" />
<line x1="465" y1="587.54" x2="466.5" y2="587.54" stroke="#111" stroke-width="0.7" />
<line x1="465" y1="585.46" x2="466.5" y2="585.46" stroke="#111" stroke-width="0.7" />
<line x1="465" y1="583.76" x2="466.5" y2="583.76" stroke="#111" stroke-width="0.7" />
<line x1="465" y1="582.32" x2="466.5" y2="582.32" stroke="#111" stroke-width="0.7" />
<line x1="465" y1="581.08" x2="466.5" y2="581.08" stroke="#111" stroke-width="0.7" />
<line x1="465" y1="579.98" x2="466.5" y2="579.98" stroke="#111" stroke-width="0.7" />
<line x1="463.5" y1="621.9" x2="466.5" y2="621.9" stroke="#111" stroke-width="1" />
<text x="462.9" y="621.5" font-size="7" text-anchor="end" fill="#111" color="#111" textLength="3.8" lengthAdjust="spacingAndGlyphs" >8</text>
<text x="458.8" y="625.7" font-size="10" text-anchor="end" fill="#111" color="#111" textLength="11" lengthAdjust="spacingAndGlyphs" >10</text>
<line x1="465" y1="615.44" x2="466.5" y2="615.44" stroke="#111" stroke-width="0.7" />
<line x1="465" y1="611.67" x2="466.5" y2="611.67" stroke="#111" stroke-width="0.7" />
<line x1="465" y1="608.99" x2="466.5" y2="608.99" stroke="#111" stroke-width="0.7" />
<line x1="465" y1="606.91" x2="466.5" y2="606.91" stroke="#111" stroke-width="0.7" />
<line x1="465" y1="605.21" x2="466.5" y2="605.21" stroke="#111" stroke-width="0.7" />
<line x1="465" y1="603.77" x2="466.5" y2="603.77" stroke="#111" stroke-width="0.7" />
<line x1="465" y1="602.53" x2="466.5" y2="602.53" stroke="#111" stroke-width="0.7" />
<line x1="465" y1="601.43" x2="466.5" y2="601.43" stroke="#111" stroke-width="0.7" />
<line x1="466.5" y1="628.2" x2="466.5" y2="631.2" stroke="#111" stroke-width="0.9" />
<line x1="469.92" y1="628.2" x2="469.92" y2="629.8" stroke="#111" stroke-width="0.9" />
<line x1="473.34" y1="628.2" x2="473.34" y2="629.8" stroke="#111" stroke-width="0.9" />
<line x1="476.75" y1="628.2" x2="476.75" y2="629.8" stroke="#111" stroke-width="0.9" />
<line x1="480.17" y1="628.2" x2="480.17" y2="629.8" stroke="#111" stroke-width="0.9" />
<line x1="483.59" y1="628.2" x2="483.59" y2="629.8" stroke="#111" stroke-width="0.9" />
<line x1="487.01" y1="628.2" x2="487.01" y2="629.8" stroke="#111" stroke-width="0.9" />
<line x1="490.43" y1="628.2" x2="490.43" y2="631.2" stroke="#111" stroke-width="0.9" />
<line x1="493.84" y1="628.2" x2="493.84" y2="629.8" stroke="#111" stroke-width="0.9" />
<line x1="497.26" y1="628.2" x2="497.26" y2="629.8" stroke="#111" stroke-width="0.9" />
<line x1="500.68" y1="628.2" x2="500.68" y2="629.8" stroke="#111" stroke-width="0.9" />
<line x1="504.1" y1="628.2" x2="504.1" y2="629.8" stroke="#111" stroke-width="0.9" />
<line x1="507.52" y1="628.2" x2="507.52" y2="629.8" stroke="#111" stroke-width="0.9" />
<line x1="510.93" y1="628.2" x2="510.93" y2="629.8" stroke="#111" stroke-width="0.9" />
<line x1="514.35" y1="628.2" x2="514.35" y2="631.2" stroke="#111" stroke-width="0.9" />
<line x1="517.77" y1="628.2" x2="517.77" y2="629.8" stroke="#111" stroke-width="0.9" />
<line x1="521.19" y1="628.2" x2="521.19" y2="629.8" stroke="#111" stroke-width="0.9" />
<line x1="524.61" y1="628.2" x2="524.61" y2="629.8" stroke="#111" stroke-width="0.9" />
<line x1="528.02" y1="628.2" x2="528.02" y2="629.8" stroke="#111" stroke-width="0.9" />
<line x1="531.44" y1="628.2" x2="531.44" y2="629.8" stroke="#111" stroke-width="0.9" />
<line x1="534.86" y1="628.2" x2="534.86" y2="629.8" stroke="#111" stroke-width="0.9" />
<line x1="538.28" y1="628.2" x2="538.28" y2="631.2" stroke="#111" stroke-width="0.9" />
<line x1="541.7" y1="628.2" x2="541.7" y2="629.8" stroke="#111" stroke-width="0.9" />
<line x1="545.11" y1="628.2" x2="545.11" y2="629.8" stroke="#111" stroke-width="0.9" />
<line x1="548.53" y1="628.2" x2="548.53" y2="629.8" stroke="#111" stroke-width="0.9" />
<line x1="551.95" y1="628.2" x2="551.95" y2="629.8" stroke="#111" stroke-width="0.9" />
<line x1="555.37" y1="628.2" x2="555.37" y2="629.8" stroke="#111" stroke-width="0.9" />
<line x1="558.79" y1="628.2" x2="558.79" y2="629.8" stroke="#111" stroke-width="0.9" />
<line x1="562.2" y1="628.2" x2="562.2" y2="631.2" stroke="#111" stroke-width="0.9" />
<line x1="565.62" y1="628.2" x2="565.62" y2="629.8" stroke="#111" stroke-width="0.9" />
<text x="466.5" y="640.6" font-size="10" text-anchor="middle" fill="#111" color="#111" textLength="5.6" lengthAdjust="spacingAndGlyphs" >0</text>
<text x="490.43" y="640.6" font-size="10" text-anchor="middle" fill="#111" color="#111" textLength="5.6" lengthAdjust="spacingAndGlyphs" >7</text>
<text x="514.35" y="640.6" font-size="10" text-anchor="middle" fill="#111" color="#111" textLength="11.2" lengthAdjust="spacingAndGlyphs" >14</text>
<text x="538.28" y="640.6" font-size="10" text-anchor="middle" fill="#111" color="#111" textLength="11.2" lengthAdjust="spacingAndGlyphs" >21</text>
<text x="562.2" y="640.6" font-size="10" text-anchor="middle" fill="#111" color="#111" textLength="11.2" lengthAdjust="spacingAndGlyphs" >28</text>
<text x="514.35" y="650.2" font-size="10.5" text-anchor="middle" fill="#111" color="#111" textLength="18.8" lengthAdjust="spacingAndGlyphs" >Day</text>
<path d="M466.5 599.4 469.9 601.5 478.5 603.7 490.4 601.5 502.4 599.4 514.4 596.2 526.3 596.2 538.3 594 550.2 591.9 562.2 587.6" fill="none" stroke="#a8a8a8" stroke-width="1.2" />
<line x1="466.5" y1="599.38" x2="466.5" y2="591.23" stroke="#a8a8a8" stroke-width="1" />
<line x1="464.7" y1="591.23" x2="468.3" y2="591.23" stroke="#a8a8a8" stroke-width="1" />
<line x1="478.46" y1="603.67" x2="478.46" y2="595.52" stroke="#a8a8a8" stroke-width="1" />
<line x1="476.66" y1="595.52" x2="480.26" y2="595.52" stroke="#a8a8a8" stroke-width="1" />
<line x1="490.43" y1="601.52" x2="490.43" y2="593.37" stroke="#a8a8a8" stroke-width="1" />
<line x1="488.63" y1="593.37" x2="492.23" y2="593.37" stroke="#a8a8a8" stroke-width="1" />
<line x1="502.39" y1="599.38" x2="502.39" y2="591.23" stroke="#a8a8a8" stroke-width="1" />
<line x1="500.59" y1="591.23" x2="504.19" y2="591.23" stroke="#a8a8a8" stroke-width="1" />
<line x1="514.35" y1="596.16" x2="514.35" y2="588.01" stroke="#a8a8a8" stroke-width="1" />
<line x1="512.55" y1="588.01" x2="516.15" y2="588.01" stroke="#a8a8a8" stroke-width="1" />
<line x1="526.32" y1="596.16" x2="526.32" y2="588.01" stroke="#a8a8a8" stroke-width="1" />
<line x1="524.52" y1="588.01" x2="528.12" y2="588.01" stroke="#a8a8a8" stroke-width="1" />
<line x1="538.28" y1="594.01" x2="538.28" y2="585.86" stroke="#a8a8a8" stroke-width="1" />
<line x1="536.48" y1="585.86" x2="540.08" y2="585.86" stroke="#a8a8a8" stroke-width="1" />
<line x1="550.24" y1="591.87" x2="550.24" y2="583.72" stroke="#a8a8a8" stroke-width="1" />
<line x1="548.44" y1="583.72" x2="552.04" y2="583.72" stroke="#a8a8a8" stroke-width="1" />
<line x1="562.2" y1="587.58" x2="562.2" y2="579.43" stroke="#a8a8a8" stroke-width="1" />
<line x1="560.4" y1="579.43" x2="564" y2="579.43" stroke="#a8a8a8" stroke-width="1" />
<path d="M466.5 600.5 469.9 605.8 478.5 603.7 490.4 602.6 502.4 601.5 514.4 599.4 526.3 598.3 538.3 597.2 550.2 595.1 562.2 591.9" fill="none" stroke="#4da6f5" stroke-width="1.2" />
<line x1="466.5" y1="600.45" x2="466.5" y2="594.01" stroke="#4da6f5" stroke-width="1" />
<line x1="464.7" y1="594.01" x2="468.3" y2="594.01" stroke="#4da6f5" stroke-width="1" />
<line x1="478.46" y1="603.67" x2="478.46" y2="597.23" stroke="#4da6f5" stroke-width="1" />
<line x1="476.66" y1="597.23" x2="480.26" y2="597.23" stroke="#4da6f5" stroke-width="1" />
<line x1="490.43" y1="602.6" x2="490.43" y2="596.16" stroke="#4da6f5" stroke-width="1" />
<line x1="488.63" y1="596.16" x2="492.23" y2="596.16" stroke="#4da6f5" stroke-width="1" />
<line x1="502.39" y1="601.52" x2="502.39" y2="595.09" stroke="#4da6f5" stroke-width="1" />
<line x1="500.59" y1="595.09" x2="504.19" y2="595.09" stroke="#4da6f5" stroke-width="1" />
<line x1="514.35" y1="599.38" x2="514.35" y2="592.94" stroke="#4da6f5" stroke-width="1" />
<line x1="512.55" y1="592.94" x2="516.15" y2="592.94" stroke="#4da6f5" stroke-width="1" />
<line x1="526.32" y1="598.31" x2="526.32" y2="591.87" stroke="#4da6f5" stroke-width="1" />
<line x1="524.52" y1="591.87" x2="528.12" y2="591.87" stroke="#4da6f5" stroke-width="1" />
<line x1="538.28" y1="597.23" x2="538.28" y2="590.8" stroke="#4da6f5" stroke-width="1" />
<line x1="536.48" y1="590.8" x2="540.08" y2="590.8" stroke="#4da6f5" stroke-width="1" />
<line x1="550.24" y1="595.09" x2="550.24" y2="588.65" stroke="#4da6f5" stroke-width="1" />
<line x1="548.44" y1="588.65" x2="552.04" y2="588.65" stroke="#4da6f5" stroke-width="1" />
<line x1="562.2" y1="591.87" x2="562.2" y2="585.43" stroke="#4da6f5" stroke-width="1" />
<line x1="560.4" y1="585.43" x2="564" y2="585.43" stroke="#4da6f5" stroke-width="1" />
<path d="M466.5 600.5 469.9 611.2 478.5 611.2 490.4 612.2 502.4 610.1 514.4 609 526.3 606.9 538.3 604.7 550.2 602.6 562.2 598.3" fill="none" stroke="#f7a440" stroke-width="1.2" />
<line x1="466.5" y1="600.45" x2="466.5" y2="590.15" stroke="#f7a440" stroke-width="1" />
<line x1="464.7" y1="590.15" x2="468.3" y2="590.15" stroke="#f7a440" stroke-width="1" />
<line x1="478.46" y1="611.17" x2="478.46" y2="600.88" stroke="#f7a440" stroke-width="1" />
<line x1="476.66" y1="600.88" x2="480.26" y2="600.88" stroke="#f7a440" stroke-width="1" />
<line x1="490.43" y1="612.25" x2="490.43" y2="601.95" stroke="#f7a440" stroke-width="1" />
<line x1="488.63" y1="601.95" x2="492.23" y2="601.95" stroke="#f7a440" stroke-width="1" />
<line x1="502.39" y1="610.1" x2="502.39" y2="599.81" stroke="#f7a440" stroke-width="1" />
<line x1="500.59" y1="599.81" x2="504.19" y2="599.81" stroke="#f7a440" stroke-width="1" />
<line x1="514.35" y1="609.03" x2="514.35" y2="598.73" stroke="#f7a440" stroke-width="1" />
<line x1="512.55" y1="598.73" x2="516.15" y2="598.73" stroke="#f7a440" stroke-width="1" />
<line x1="526.32" y1="606.88" x2="526.32" y2="596.59" stroke="#f7a440" stroke-width="1" />
<line x1="524.52" y1="596.59" x2="528.12" y2="596.59" stroke="#f7a440" stroke-width="1" />
<line x1="538.28" y1="604.74" x2="538.28" y2="594.44" stroke="#f7a440" stroke-width="1" />
<line x1="536.48" y1="594.44" x2="540.08" y2="594.44" stroke="#f7a440" stroke-width="1" />
<line x1="550.24" y1="602.6" x2="550.24" y2="592.3" stroke="#f7a440" stroke-width="1" />
<line x1="548.44" y1="592.3" x2="552.04" y2="592.3" stroke="#f7a440" stroke-width="1" />
<line x1="562.2" y1="598.31" x2="562.2" y2="588.01" stroke="#f7a440" stroke-width="1" />
<line x1="560.4" y1="588.01" x2="564" y2="588.01" stroke="#f7a440" stroke-width="1" />
<line x1="574.2" y1="586.3" x2="586.8" y2="586.3" stroke="#a8a8a8" stroke-width="1.3" />
<text x="590.5" y="590" font-size="10.5" fill="#111" color="#111" textLength="20.6" lengthAdjust="spacingAndGlyphs" >UTD</text>
<line x1="574.2" y1="602.7" x2="586.8" y2="602.7" stroke="#4da6f5" stroke-width="1.3" />
<text x="590.5" y="606.4" font-size="10.5" fill="#111" color="#111" textLength="53" lengthAdjust="spacingAndGlyphs" >HER2.CAR</text>
<line x1="574.2" y1="619.2" x2="586.8" y2="619.2" stroke="#f7a440" stroke-width="1.3" />
<text x="590.5" y="622.9" font-size="10.5" fill="#111" color="#111" textLength="58.1" lengthAdjust="spacingAndGlyphs" >HER2.eSPR</text>
<line x1="646.9" y1="586" x2="646.9" y2="601.9" stroke="#111" stroke-width="1.1" />
<text x="648.4" y="581.8" font-size="7.6" fill="#222" color="#222" textLength="23.8" lengthAdjust="spacingAndGlyphs" transform="rotate(90 648.4 581.8)" >0.0012</text>
<line x1="657.6" y1="603.6" x2="657.6" y2="618.7" stroke="#111" stroke-width="1.1" />
<text x="659.1" y="599.9" font-size="7.6" fill="#222" color="#222" textLength="19.6" lengthAdjust="spacingAndGlyphs" transform="rotate(90 659.1 599.9)" >0.003</text>
<line x1="669.9" y1="586.8" x2="669.9" y2="619.5" stroke="#111" stroke-width="1.1" />
<text x="671.6" y="588.5" font-size="7.6" fill="#222" color="#222" textLength="28.5" lengthAdjust="spacingAndGlyphs" transform="rotate(90 671.6 588.5)" >&lt;0.0001</text>
</svg>
</body></html>
